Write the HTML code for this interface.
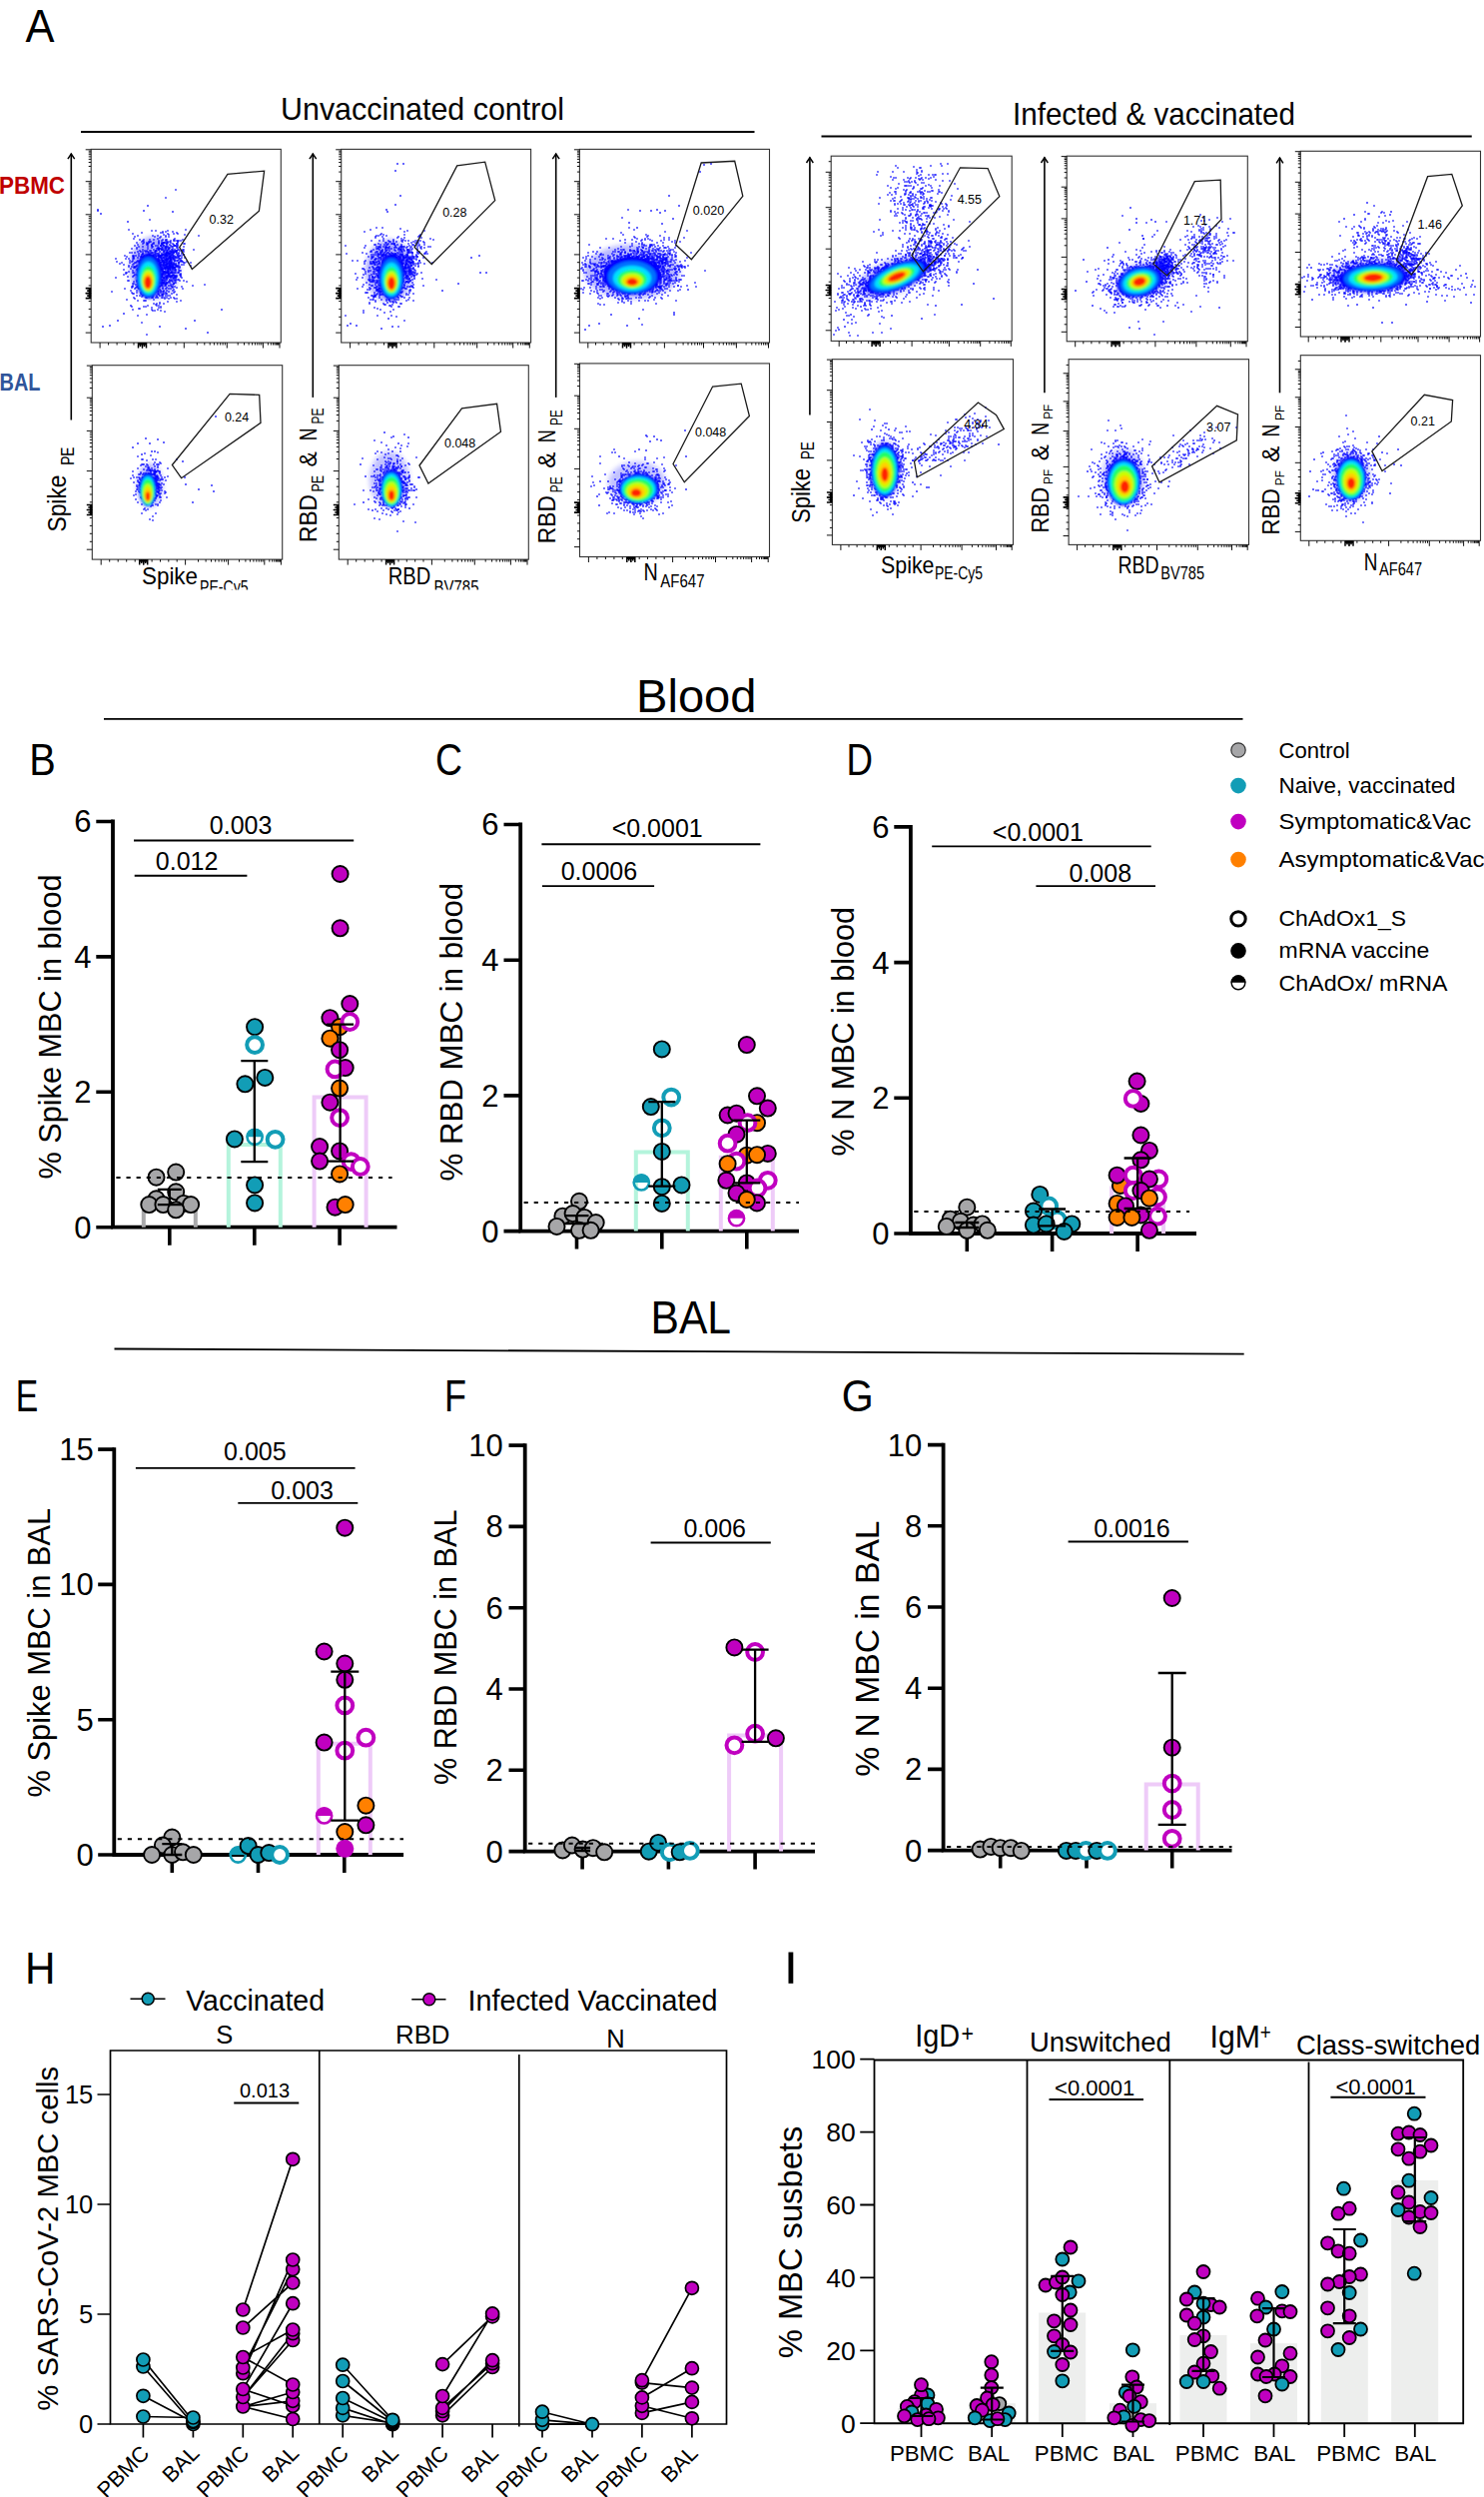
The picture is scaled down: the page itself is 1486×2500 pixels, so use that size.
<!DOCTYPE html>
<html><head><meta charset="utf-8"><style>
html,body{margin:0;padding:0;background:#fff;overflow:hidden;}
svg{display:block;}
text{font-family:"Liberation Sans", sans-serif;}
</style></head><body>
<svg width="1486" height="2500" viewBox="0 0 1486 2500">
<rect width="1486" height="2500" fill="#fff"/>
<defs><filter id="bl" x="-30%" y="-30%" width="160%" height="160%"><feGaussianBlur stdDeviation="1.3"/></filter><filter id="blo" x="-40%" y="-40%" width="180%" height="180%"><feGaussianBlur stdDeviation="2.5"/></filter></defs>
<text x="25.50" y="42.00" font-size="46.5" textLength="29.00" lengthAdjust="spacingAndGlyphs">A</text>
<text x="281.00" y="120.00" font-size="30.5" textLength="284.00" lengthAdjust="spacingAndGlyphs">Unvaccinated control</text>
<line x1="81.00" y1="132.00" x2="755.50" y2="132.00" stroke="#000" stroke-width="2"/>
<text x="1014.00" y="125.00" font-size="30.5" textLength="283.00" lengthAdjust="spacingAndGlyphs">Infected &amp; vaccinated</text>
<line x1="822.50" y1="136.50" x2="1473.75" y2="136.50" stroke="#000" stroke-width="2"/>
<text x="-1.00" y="193.70" font-size="23.5" fill="#C00000" font-weight="bold" textLength="66.00" lengthAdjust="spacingAndGlyphs">PBMC</text>
<text x="-0.50" y="391.30" font-size="24" fill="#2F559A" font-weight="bold" textLength="41.00" lengthAdjust="spacingAndGlyphs">BAL</text>
<g>
<ellipse cx="0" cy="0" rx="25" ry="31" fill="#1010FF" opacity="0.35" transform="translate(155 268) rotate(0)" filter="url(#blo)"/>
<path d="M151 280h0M152 267h0M144 269h0M166 278h0M165 276h0M158 275h0M136 285h0M160 279h0M135 246h0M144 265h0M157 271h0M160 262h0M157 278h0M147 298h0M160 290h0M147 261h0M150 270h0M161 276h0M149 258h0M148 290h0M145 276h0M159 250h0M155 292h0M132 267h0M153 260h0M159 271h0M138 284h0M161 286h0M170 277h0M155 253h0M161 263h0M149 253h0M143 264h0M168 242h0M138 276h0M170 281h0M133 234h0M158 261h0M142 287h0M166 274h0M157 279h0M172 281h0M160 280h0M137 291h0M165 280h0M132 262h0M163 245h0M152 287h0M140 296h0M160 270h0M158 282h0M155 289h0M147 266h0M165 272h0M144 286h0M170 265h0M139 270h0M152 268h0M169 257h0M168 253h0M145 281h0M166 285h0M158 274h0M156 281h0M152 276h0M160 272h0M162 280h0M176 277h0M149 266h0M154 286h0M150 278h0M174 234h0M142 276h0M158 276h0M149 282h0M157 264h0M181 277h0M148 271h0M152 271h0M124 265h0M165 254h0M153 286h0M163 294h0M135 267h0M150 281h0M166 232h0M166 250h0M162 250h0M156 290h0M152 275h0M163 274h0M153 295h0M166 268h0M184 255h0M164 268h0M155 283h0M156 282h0M137 249h0M161 258h0M143 250h0M168 283h0M170 258h0M154 255h0M162 296h0M144 295h0M165 269h0M132 293h0M153 263h0M158 278h0M170 257h0M166 294h0M170 269h0M146 287h0M155 274h0M170 268h0M129 266h0M134 284h0M157 263h0M154 284h0M155 292h0M153 288h0M170 296h0M147 285h0M133 256h0M132 288h0M140 272h0M152 272h0M147 276h0M174 273h0M160 287h0M152 253h0M148 288h0M136 263h0M165 284h0M154 284h0M156 254h0M137 262h0M164 264h0M144 260h0M137 270h0M141 277h0M128 277h0M147 243h0M162 268h0M129 259h0M157 265h0M163 283h0M161 277h0M169 282h0M159 241h0M164 292h0M151 265h0M175 246h0M159 308h0M144 282h0M175 270h0M160 286h0M144 271h0M157 284h0M154 269h0M143 267h0M164 274h0M145 259h0M183 289h0M161 233h0M161 279h0M173 278h0M153 280h0M133 287h0M158 261h0M169 299h0M139 262h0M157 275h0M150 257h0M177 288h0M141 252h0M173 287h0M174 284h0M144 276h0M130 261h0M153 280h0M146 270h0M159 278h0M161 275h0M150 284h0M155 260h0M147 272h0M153 274h0M154 275h0M153 253h0M159 288h0M159 269h0M159 258h0M133 273h0M144 283h0M142 233h0M143 296h0M150 251h0M146 280h0M159 275h0M170 283h0M154 281h0M172 287h0M165 256h0M152 283h0M151 288h0M161 286h0M152 310h0M168 269h0M155 311h0M150 285h0M165 272h0M141 275h0M158 289h0M163 272h0M163 280h0M156 273h0M151 282h0M142 263h0M154 250h0M149 242h0M146 281h0M160 271h0M151 251h0M174 280h0M166 259h0M152 245h0M163 286h0M133 271h0M161 246h0M134 256h0M147 251h0M154 276h0M161 283h0M171 289h0M140 264h0M142 256h0M153 272h0M159 248h0M140 272h0M152 267h0M153 261h0M162 277h0M153 262h0M152 231h0M143 273h0M137 275h0M156 251h0M151 267h0M159 281h0M154 259h0M152 271h0M162 276h0M146 252h0M150 261h0M142 270h0M149 274h0M160 266h0M180 267h0M166 274h0M166 236h0M146 276h0M161 307h0M158 291h0M162 286h0M160 270h0M160 256h0M167 257h0M157 304h0M152 272h0M167 272h0M145 276h0M160 283h0M146 298h0M172 272h0M157 266h0M170 261h0M161 265h0M146 283h0M169 272h0M147 284h0M153 277h0M171 289h0M148 306h0M154 284h0M147 271h0M135 299h0M169 254h0M137 248h0M167 265h0M153 267h0M153 256h0M154 250h0M153 277h0M159 269h0M144 274h0M149 295h0M162 270h0M149 261h0M144 267h0M157 280h0M160 303h0M146 272h0M185 244h0M148 275h0M156 278h0M151 277h0M155 284h0M133 259h0M154 257h0M143 281h0M147 282h0M162 277h0M160 270h0M138 272h0M159 264h0M153 283h0M144 282h0M174 264h0M156 270h0M171 277h0M164 262h0M154 272h0M134 294h0M164 246h0M162 270h0M159 277h0M138 269h0M170 263h0M143 252h0M141 277h0M173 278h0M157 306h0M148 262h0M160 280h0M143 254h0M157 276h0M140 269h0M148 279h0M153 271h0M150 288h0M169 266h0M163 261h0M155 283h0M171 266h0M153 275h0M138 272h0M147 278h0M142 242h0M154 276h0M148 285h0M151 263h0M159 248h0M147 272h0M163 270h0M157 262h0M157 297h0M146 307h0M147 272h0M156 287h0M140 240h0M161 284h0M161 311h0M156 276h0M164 278h0M172 253h0M150 220h0M163 266h0M164 304h0M154 268h0M149 259h0M147 282h0M154 273h0M152 286h0M159 270h0M161 270h0M141 294h0M159 258h0M166 277h0M137 296h0M158 285h0M156 270h0M137 287h0M154 268h0M158 273h0M161 266h0M154 240h0M149 282h0M169 267h0M153 296h0M150 283h0M172 273h0M167 261h0M156 271h0M155 289h0M180 262h0M148 279h0M142 279h0M160 268h0M160 249h0M162 249h0M146 264h0M150 285h0M155 266h0M160 296h0M154 277h0M168 276h0M140 309h0M178 242h0M154 278h0M165 282h0M151 256h0M155 288h0M142 257h0M154 243h0M151 265h0M159 261h0M144 266h0M153 262h0M154 283h0M167 298h0M145 266h0M127 300h0M146 271h0M160 252h0M159 272h0M134 276h0M167 244h0M163 275h0M159 279h0M168 269h0M164 266h0M162 260h0M153 298h0M159 270h0M141 260h0M156 286h0M159 280h0M154 292h0M150 264h0M164 273h0M151 263h0M151 281h0M158 254h0M159 275h0M143 284h0M151 267h0M163 292h0M146 279h0M144 307h0M149 290h0M147 284h0M178 234h0M149 280h0M153 262h0M178 273h0M136 285h0M135 289h0M148 274h0M168 274h0M139 247h0M167 283h0M145 285h0M159 282h0M129 267h0M164 283h0M164 235h0M156 279h0M182 258h0M150 273h0M164 265h0M167 260h0M157 264h0M156 262h0M136 288h0M157 264h0M156 287h0M143 270h0M160 280h0M150 240h0M168 277h0M154 268h0M157 266h0M143 261h0M147 263h0M141 282h0M140 282h0M143 277h0M169 275h0M146 273h0M156 246h0M147 274h0M149 273h0M162 283h0M164 281h0M151 272h0M151 267h0M152 246h0M150 272h0M143 272h0M160 270h0M177 233h0M152 245h0M165 312h0M126 274h0M160 267h0M160 238h0M163 278h0M154 263h0M161 265h0M156 264h0M129 272h0M156 283h0M144 272h0M161 274h0M168 302h0M144 243h0M163 295h0M164 284h0M147 261h0M164 258h0M134 257h0M181 301h0M146 261h0M157 261h0M168 271h0M142 292h0M148 275h0M154 267h0M158 262h0M134 239h0M140 261h0M154 273h0M160 274h0M145 261h0M131 269h0M159 280h0M153 269h0M164 272h0M162 281h0M156 292h0M148 267h0M145 260h0M171 298h0M154 281h0M167 284h0M167 253h0M147 279h0M170 274h0M145 267h0M147 259h0M171 263h0M154 304h0M167 277h0M147 278h0M172 281h0M168 273h0M160 269h0M159 292h0M138 271h0M157 263h0M151 284h0M176 281h0M158 249h0M175 273h0M154 255h0M153 256h0M155 279h0M154 276h0M145 293h0M147 245h0M152 261h0M143 267h0M157 254h0M152 293h0M162 270h0M155 270h0M153 283h0M153 236h0M154 259h0M161 263h0M156 305h0M142 255h0M138 236h0M133 277h0M147 244h0M138 281h0M145 266h0M158 292h0M175 287h0M156 275h0M174 293h0M151 279h0M157 273h0M148 252h0M148 249h0M167 280h0M141 293h0M164 243h0M174 284h0M177 254h0M160 278h0M156 275h0M166 250h0M140 251h0M148 263h0M158 276h0M154 262h0M149 286h0M162 274h0M150 295h0M147 282h0M167 268h0M163 255h0M165 275h0M137 282h0M144 291h0M147 270h0M157 267h0M157 264h0M161 272h0M156 231h0M167 272h0M134 273h0M159 288h0M142 295h0M152 308h0M152 282h0M150 255h0M166 286h0M171 285h0M148 247h0M147 262h0M145 281h0M158 268h0M156 270h0M156 283h0M165 262h0M137 293h0M155 289h0M136 267h0M154 250h0M148 283h0M166 296h0M145 251h0M160 286h0M156 252h0M163 284h0M160 265h0M157 284h0M148 244h0M158 279h0M154 285h0M148 271h0M151 281h0M172 268h0M177 295h0M163 281h0M173 269h0M153 256h0M159 292h0M160 278h0M152 275h0M138 288h0M149 255h0M146 260h0M163 288h0M139 286h0M164 263h0M138 261h0M147 277h0M150 242h0M157 249h0M164 254h0M146 259h0M148 291h0M163 281h0M158 249h0M148 264h0M143 280h0M146 261h0M143 241h0M161 292h0M156 257h0M124 275h0M167 276h0M164 294h0M166 265h0M166 284h0M137 266h0M138 270h0M160 256h0M131 291h0M158 294h0M139 288h0M177 302h0M152 276h0M152 287h0M165 273h0M139 283h0M149 281h0M157 296h0M167 265h0M158 298h0M148 279h0M167 291h0M160 252h0M140 276h0M158 310h0M145 289h0M162 247h0M145 274h0M149 270h0M159 260h0M159 262h0M148 280h0M148 276h0M172 272h0M152 283h0M150 288h0M140 281h0M148 260h0M173 259h0M173 282h0M170 257h0M167 294h0M153 270h0M181 275h0M149 263h0M159 277h0M156 298h0M150 279h0M170 257h0M165 299h0M139 256h0M143 244h0M159 244h0M159 294h0M136 267h0M133 284h0M146 268h0M155 280h0M150 272h0M148 274h0M141 273h0M133 265h0M175 273h0M140 276h0M143 247h0M146 283h0M158 271h0M144 256h0M169 276h0M144 240h0M139 309h0M141 271h0M156 270h0M151 251h0M142 297h0M146 285h0M135 268h0M157 288h0M142 281h0M158 261h0M159 259h0M145 272h0M124 270h0M143 250h0M149 283h0M150 291h0M141 252h0M171 278h0M164 260h0M163 276h0M161 272h0M167 262h0M143 250h0M167 261h0M143 258h0M149 253h0M151 263h0M148 258h0M154 265h0M155 276h0M158 239h0M148 260h0M163 248h0M146 268h0M150 287h0M149 286h0M138 245h0M167 279h0M159 274h0M159 254h0M164 264h0M165 273h0M132 253h0M166 270h0M150 276h0M149 264h0M155 274h0M171 273h0M175 299h0M173 288h0M155 274h0M152 261h0M153 262h0M172 280h0M149 243h0M153 266h0M142 255h0M129 281h0M153 311h0M154 270h0M170 274h0M156 266h0M147 294h0M165 298h0M150 272h0M144 287h0M139 280h0M166 293h0M144 288h0M146 261h0M139 289h0M172 263h0M146 267h0M182 287h0M148 245h0M147 290h0M175 268h0M146 264h0M133 286h0M142 288h0M135 253h0M157 261h0M163 272h0M141 281h0M163 243h0M174 279h0M162 244h0M146 267h0M166 250h0M144 242h0M151 277h0M135 263h0M160 296h0M161 267h0M141 258h0M147 274h0M153 297h0M157 256h0M171 286h0M155 261h0M133 257h0M164 260h0M139 275h0M157 281h0M161 293h0M145 287h0M143 282h0M156 276h0M165 272h0M166 285h0M155 263h0M146 264h0M152 272h0M187 282h0M162 259h0M146 267h0M156 256h0M172 264h0M166 237h0M154 276h0M156 281h0M157 274h0M133 261h0M128 281h0M157 269h0M145 263h0M174 298h0M153 291h0M137 243h0M149 259h0M148 275h0M187 262h0M155 276h0M154 286h0M174 253h0M156 268h0M158 249h0M135 237h0M160 275h0M155 237h0M150 261h0M138 258h0M162 280h0M154 280h0M147 273h0M154 280h0M153 270h0M153 262h0M179 280h0M159 306h0M169 249h0M162 285h0M175 292h0M162 254h0M144 276h0M160 257h0M150 266h0M155 277h0M151 253h0M168 296h0M153 287h0M159 282h0M159 261h0M160 287h0M144 301h0M177 299h0M176 283h0M150 263h0M145 274h0M154 282h0M132 307h0M179 272h0M161 279h0M157 269h0M153 260h0M156 272h0M158 259h0M154 273h0M161 256h0M159 287h0M161 266h0M149 268h0M162 295h0M152 262h0M158 275h0M144 261h0M153 282h0M141 257h0M159 254h0M155 277h0M153 257h0M153 267h0M158 259h0M166 247h0M152 272h0M165 263h0M160 263h0M162 298h0M150 279h0M144 287h0M167 273h0M142 278h0M167 288h0M163 245h0M147 293h0M141 289h0M175 283h0M166 267h0M141 270h0M152 271h0M162 270h0M156 278h0M154 300h0M159 273h0M152 263h0M169 274h0M142 264h0M152 265h0M166 255h0M159 274h0M141 273h0M153 280h0M149 277h0M136 256h0M163 288h0M154 263h0M166 241h0M145 282h0M161 257h0M133 294h0M156 259h0M155 286h0M125 289h0M162 241h0M162 245h0M167 278h0M179 263h0M154 288h0M147 261h0M150 271h0M142 279h0M160 273h0M173 267h0M168 264h0M162 243h0M156 269h0M149 263h0M150 261h0M130 263h0M148 264h0M142 270h0M163 268h0M149 292h0M165 286h0M167 267h0M153 289h0M148 270h0M158 278h0M151 287h0M152 283h0M166 282h0M162 255h0M140 263h0M159 295h0M141 277h0M145 261h0M151 282h0M156 290h0M143 285h0M164 273h0M159 264h0M142 266h0M147 315h0M149 297h0M156 277h0M162 260h0M164 278h0M137 281h0M160 279h0M171 266h0M160 283h0M144 290h0M138 252h0M160 256h0M153 247h0M155 255h0M158 249h0M159 268h0M155 271h0M155 252h0M126 273h0M144 265h0M159 242h0M146 263h0M142 277h0M152 260h0M143 284h0M147 281h0M159 244h0M142 272h0M158 284h0M163 288h0M150 269h0M163 266h0M166 248h0M161 269h0M132 287h0M157 272h0M142 265h0M171 260h0M116 259h0M141 270h0M150 258h0M145 288h0M138 301h0M148 256h0M163 280h0M143 283h0M134 258h0M166 268h0M140 280h0M164 272h0M134 267h0M159 284h0M174 268h0M149 271h0M167 258h0M168 231h0M163 262h0M159 282h0M141 271h0M157 281h0M144 257h0M133 310h0M152 269h0M138 286h0M148 294h0M163 272h0M162 255h0M150 263h0M140 272h0M152 294h0M117 262h0M144 265h0M159 278h0M154 265h0M159 277h0M134 268h0M139 254h0M156 273h0M155 259h0M152 258h0M158 282h0M173 291h0M145 265h0M144 277h0M176 283h0M130 253h0M140 280h0M154 276h0M174 260h0M145 301h0M158 260h0M132 249h0M127 273h0M154 287h0M152 262h0M146 301h0M135 275h0M154 281h0M150 279h0M163 270h0M149 269h0M143 269h0M151 275h0M169 292h0M149 281h0M157 283h0M154 276h0M149 260h0M164 291h0M161 279h0M157 265h0M134 282h0M156 264h0M143 291h0M134 298h0M161 308h0M146 272h0M148 274h0M152 261h0M166 260h0M148 280h0M148 265h0M158 266h0M140 270h0M152 298h0M142 287h0M145 267h0M150 276h0M163 298h0M147 292h0M165 284h0M146 286h0M153 277h0M151 282h0M166 289h0M152 287h0M170 258h0M170 252h0M160 281h0M170 276h0M149 260h0M140 283h0M151 261h0M160 261h0M149 265h0M172 294h0M152 248h0M157 273h0M158 280h0M150 286h0M163 275h0M150 265h0M162 256h0M152 261h0M139 281h0M154 273h0M164 250h0M153 276h0M163 256h0M162 275h0M169 289h0M160 304h0M154 266h0M150 258h0M154 244h0M153 278h0M165 267h0M169 262h0M153 244h0M146 260h0M170 280h0M142 280h0M159 269h0M154 268h0" stroke="#0000FF" stroke-width="1.4" stroke-linecap="square"/>
<path d="M166 243h0M169 276h0M180 259h0M165 260h0M176 266h0M166 266h0M169 268h0M167 246h0M170 270h0M162 261h0M176 258h0M166 284h0M176 273h0M164 279h0M159 256h0M175 276h0M164 255h0M171 241h0M174 268h0M167 268h0M175 265h0M174 278h0M167 264h0M166 273h0M167 267h0M171 263h0M182 261h0M180 271h0M179 260h0M176 270h0M166 265h0M169 262h0M179 254h0M159 243h0M167 255h0M170 268h0M182 265h0M173 254h0M174 276h0M179 241h0M176 279h0M176 246h0M168 268h0M173 253h0M164 272h0M161 277h0M170 265h0M161 256h0M175 246h0M184 247h0M162 262h0M173 270h0M168 260h0M168 256h0M153 272h0M172 264h0M166 265h0M170 261h0M177 244h0M172 251h0M168 278h0M163 261h0M166 272h0M163 244h0M173 258h0M168 273h0M164 258h0M171 266h0M167 273h0M185 258h0M183 240h0M179 258h0M171 258h0M166 249h0M167 276h0M178 258h0M166 255h0M162 281h0M174 263h0M167 251h0M179 270h0M164 272h0M163 269h0M164 258h0M173 267h0M177 253h0M181 276h0M170 267h0M165 260h0M161 263h0M171 276h0M176 271h0M168 260h0M168 264h0M157 270h0M159 257h0M170 257h0M181 261h0M181 274h0M167 266h0M179 258h0M171 256h0M170 258h0M171 273h0M179 263h0M171 271h0M168 251h0M177 252h0M176 252h0M182 251h0M176 278h0M164 278h0M164 243h0M175 269h0M169 235h0M170 259h0M167 259h0M158 256h0M182 278h0M168 254h0M173 273h0M175 250h0M171 263h0M180 275h0M174 275h0M167 278h0M167 266h0M176 252h0M165 243h0M171 261h0M168 267h0M156 262h0M171 259h0M175 281h0M167 252h0M166 263h0M174 253h0M177 251h0M176 267h0M173 285h0M168 260h0M173 271h0M161 265h0M165 269h0M179 263h0M169 264h0M150 270h0M174 264h0M167 254h0M169 275h0M169 276h0M153 257h0M172 262h0M159 255h0M178 248h0M163 250h0M166 269h0M174 241h0M180 256h0M166 280h0M169 249h0M166 254h0M163 258h0M176 266h0M161 291h0M163 263h0M170 270h0M168 267h0M184 263h0M163 265h0M165 258h0M171 266h0M168 271h0M169 248h0M176 258h0M178 255h0M174 265h0M152 246h0M162 277h0M157 272h0M177 267h0M175 257h0M170 264h0M173 269h0M169 255h0M166 266h0M159 249h0M167 256h0M168 234h0M168 259h0M175 241h0M168 267h0M173 275h0M177 251h0M174 258h0M165 278h0M166 253h0M167 253h0M177 266h0M179 266h0M166 273h0M166 257h0M169 262h0M178 256h0M172 262h0M162 250h0M169 266h0M172 267h0M170 257h0M173 251h0M161 258h0M160 257h0M165 256h0M170 254h0M167 244h0M171 253h0M173 232h0M165 265h0M154 258h0M171 263h0M160 264h0M171 252h0M175 261h0M170 257h0M174 263h0M178 267h0M166 260h0M176 258h0M173 268h0M169 237h0M171 264h0M171 254h0M178 261h0M166 254h0M172 250h0M163 283h0M179 273h0M179 268h0M159 275h0M178 267h0M157 275h0M179 257h0M171 270h0M169 274h0M171 269h0M171 246h0M163 296h0M172 276h0M178 280h0M174 256h0M170 242h0M169 272h0M155 264h0M176 276h0M164 255h0M157 251h0M174 284h0M162 277h0M173 257h0M185 235h0M170 264h0M184 281h0M185 263h0M177 277h0M173 266h0M169 258h0M162 283h0M167 240h0M172 262h0M171 281h0M169 259h0M165 262h0M167 264h0M191 266h0M164 283h0M176 271h0M175 271h0M175 277h0M177 276h0M167 262h0M165 272h0M176 257h0M174 290h0M178 250h0M169 269h0M170 266h0M178 266h0M163 270h0M169 263h0M166 247h0M162 258h0M163 233h0M178 250h0M165 268h0M154 276h0M165 269h0M167 265h0M171 262h0M158 246h0M170 277h0M166 268h0M171 267h0M177 246h0M172 260h0M168 253h0M165 251h0M163 289h0M182 262h0M175 252h0M151 242h0M171 277h0M170 251h0M168 251h0M160 260h0M167 253h0M164 252h0M172 277h0M169 286h0M159 265h0M162 260h0M171 268h0M178 256h0M162 260h0M172 255h0M176 280h0M160 266h0M177 241h0M171 260h0M160 276h0M171 257h0M173 269h0M175 268h0M173 249h0M167 263h0M151 285h0M167 251h0M158 265h0M170 256h0M167 252h0M165 261h0M166 269h0M169 263h0M173 276h0M174 264h0M169 253h0M168 269h0M172 258h0M161 246h0M172 273h0M173 247h0M169 264h0M164 266h0M169 253h0M162 271h0M172 252h0M163 272h0M174 259h0M181 259h0M163 274h0M169 266h0M170 251h0M162 260h0M180 251h0M179 264h0M162 265h0M174 252h0M155 266h0M162 267h0M157 260h0M164 246h0M168 264h0M166 249h0M171 243h0M174 267h0M181 271h0M172 265h0M170 248h0M180 268h0M168 250h0M180 268h0M162 269h0M183 262h0M173 258h0M166 273h0M191 263h0M169 270h0M168 270h0M176 251h0M163 261h0M176 265h0" stroke="#0000FF" stroke-width="1.4" stroke-linecap="square"/>
<path d="M186 230h0M164 252h0M153 279h0M122 263h0M116 278h0M125 256h0M156 251h0M183 251h0M175 278h0M120 264h0M126 259h0M142 323h0M138 316h0M163 232h0M180 281h0M144 263h0M158 261h0M134 259h0M184 252h0M161 237h0M129 230h0M144 290h0M159 256h0M168 260h0M161 278h0M166 198h0M112 292h0M147 335h0M143 254h0M193 286h0M205 285h0M144 291h0M127 257h0M134 264h0M173 256h0M159 256h0M176 190h0M144 275h0" stroke="#0000FF" stroke-width="1.4" stroke-linecap="square"/>
<path d="M167 256h0M177 258h0M182 253h0M174 240h0M173 244h0M177 244h0M199 236h0M184 244h0M173 255h0M175 239h0M178 246h0M159 250h0M167 242h0M179 250h0M173 265h0M178 243h0M177 247h0M158 236h0M164 264h0M174 246h0M171 256h0M175 261h0M181 261h0M174 251h0M172 247h0M162 244h0M168 243h0M184 250h0M184 255h0M182 256h0M170 254h0M173 244h0M184 265h0M167 261h0M181 241h0M177 251h0M178 245h0M165 248h0M182 254h0M180 256h0M167 248h0M178 256h0M176 252h0M176 264h0M158 248h0M194 250h0M161 249h0M164 243h0M177 261h0M179 253h0M183 250h0M168 247h0M178 246h0M170 245h0M163 240h0M174 245h0M175 259h0M177 248h0M166 240h0M178 241h0" stroke="#0000FF" stroke-width="1.4" stroke-linecap="square"/>
<g transform="translate(149 276) rotate(0)" filter="url(#bl)"><ellipse cx="-0.0" cy="0.0" rx="13.0" ry="23.0" fill="#0000FF"/><ellipse cx="-0.2" cy="1.3" rx="11.2" ry="19.8" fill="#0070FF"/><ellipse cx="-0.4" cy="2.6" rx="9.4" ry="16.6" fill="#00E0FF"/><ellipse cx="-0.5" cy="3.9" rx="7.5" ry="13.3" fill="#20FF60"/><ellipse cx="-0.7" cy="5.0" rx="6.0" ry="10.6" fill="#C8FF00"/><ellipse cx="-0.8" cy="5.8" rx="4.8" ry="8.5" fill="#FFD000"/><ellipse cx="-0.9" cy="6.6" rx="3.6" ry="6.4" fill="#FF2000"/></g>
<path d="M98 210h0M98 211h0M101 214h0M148 206h0M144 211h0M173 212h0M128 222h0M103 327h0M110 326h0M118 321h0M131 306h0M124 314h0M160 327h0M186 329h0M208 333h0M222 310h0M195 321h0" stroke="#0000FF" stroke-width="1.6" stroke-linecap="square"/>
<polygon points="179.7,247.6 227.9,174.3 264.6,171.2 259.4,211.2 192.3,269.4" fill="none" stroke="#1a1a1a" stroke-width="1.3" stroke-linejoin="miter"/>
<text x="221.70" y="223.50" font-size="12.5" text-anchor="middle" font-weight="normal">0.32</text>
<rect x="91.2" y="149.4" width="190.1" height="193.6" fill="none" stroke="#333" stroke-width="1.1"/>
<path d="M85.7 149.8h5.5 M85.7 181.7h5.5 M85.7 214.8h5.5 M85.7 254.9h5.5 M85.7 293.6h5.5 M85.7 333.1h5.5 M88.7 172.1h2.5 M88.7 166.5h2.5 M88.7 162.5h2.5 M88.7 159.4h2.5 M88.7 156.9h2.5 M88.7 154.7h2.5 M88.7 152.9h2.5 M88.7 151.2h2.5 M88.7 204.9h2.5 M88.7 199.0h2.5 M88.7 194.9h2.5 M88.7 191.7h2.5 M88.7 189.1h2.5 M88.7 186.9h2.5 M88.7 184.9h2.5 M88.7 183.2h2.5 M88.7 242.8h2.5 M88.7 235.8h2.5 M88.7 230.8h2.5 M88.7 226.9h2.5 M88.7 223.7h2.5 M88.7 221.0h2.5 M88.7 218.7h2.5 M88.7 216.7h2.5 M88.7 262.7h2.5 M88.7 270.4h2.5 M88.7 278.1h2.5 M88.7 285.9h2.5 M88.7 301.5h2.5 M88.7 309.4h2.5 M88.7 317.3h2.5 M88.7 325.2h2.5" stroke="#111" stroke-width="1" fill="none"/>
<path d="M85.7 288.6h5.5M87.2 291.1h4M85.7 293.6h5.5M87.2 296.1h4M85.7 298.6h5.5" stroke="#000" stroke-width="1.6"/><rect x="88.7" y="288.6" width="2.5" height="10" fill="#000"/>
<path d="M100.1 343.0v5.5 M142.5 343.0v5.5 M184.3 343.0v5.5 M227.3 343.0v5.5 M263.4 343.0v5.5 M280.0 343.0v5.5 M108.6 343.0v2.5 M117.1 343.0v2.5 M125.6 343.0v2.5 M134.0 343.0v2.5 M150.9 343.0v2.5 M159.3 343.0v2.5 M167.6 343.0v2.5 M176.0 343.0v2.5 M197.3 343.0v2.5 M204.8 343.0v2.5 M210.2 343.0v2.5 M214.4 343.0v2.5 M217.8 343.0v2.5 M220.7 343.0v2.5 M223.1 343.0v2.5 M225.3 343.0v2.5 M238.2 343.0v2.5 M244.5 343.0v2.5 M249.1 343.0v2.5 M252.6 343.0v2.5 M255.4 343.0v2.5 M257.8 343.0v2.5 M259.9 343.0v2.5 M261.8 343.0v2.5 M268.4 343.0v2.5 M271.3 343.0v2.5 M273.4 343.0v2.5 M275.0 343.0v2.5 M276.3 343.0v2.5 M277.4 343.0v2.5 M278.4 343.0v2.5 M279.2 343.0v2.5" stroke="#111" stroke-width="1" fill="none"/>
<path d="M138.5 343.0v5.5M140.5 343.0v4M142.5 343.0v5.5M144.5 343.0v4M146.5 343.0v5.5" stroke="#000" stroke-width="1.5"/><rect x="138.5" y="343.0" width="8" height="2.5" fill="#000"/>
</g>
<g>
<ellipse cx="0" cy="0" rx="24" ry="31" fill="#1010FF" opacity="0.35" transform="translate(390 271) rotate(0)" filter="url(#blo)"/>
<path d="M395 256h0M391 271h0M401 266h0M386 276h0M391 296h0M387 264h0M387 279h0M392 282h0M375 308h0M409 272h0M377 274h0M394 240h0M390 251h0M395 292h0M401 250h0M405 285h0M386 279h0M406 267h0M390 264h0M402 241h0M405 258h0M400 249h0M380 263h0M399 249h0M396 263h0M403 268h0M395 270h0M409 267h0M390 301h0M391 282h0M382 275h0M366 274h0M383 250h0M375 288h0M395 250h0M409 262h0M386 276h0M378 249h0M382 289h0M400 249h0M403 272h0M395 273h0M394 258h0M380 262h0M386 281h0M377 295h0M383 264h0M397 278h0M386 257h0M379 249h0M402 288h0M410 279h0M394 283h0M400 268h0M394 303h0M372 252h0M380 283h0M403 267h0M397 271h0M393 264h0M390 272h0M402 304h0M371 280h0M390 286h0M401 283h0M399 258h0M372 296h0M403 258h0M404 282h0M364 285h0M380 289h0M383 261h0M374 269h0M401 262h0M370 303h0M410 282h0M384 254h0M373 280h0M404 257h0M390 268h0M387 279h0M412 263h0M399 288h0M387 270h0M376 288h0M384 263h0M391 260h0M379 268h0M406 269h0M396 251h0M369 298h0M386 250h0M389 281h0M372 259h0M393 259h0M398 286h0M395 266h0M390 263h0M389 277h0M387 286h0M418 264h0M394 284h0M397 269h0M385 287h0M397 279h0M381 281h0M398 269h0M397 303h0M370 281h0M378 252h0M387 280h0M391 255h0M375 264h0M390 260h0M374 297h0M381 270h0M384 264h0M390 268h0M397 255h0M374 300h0M389 283h0M403 280h0M390 249h0M373 286h0M397 280h0M372 241h0M379 255h0M392 257h0M407 263h0M384 285h0M394 259h0M399 300h0M377 268h0M379 244h0M397 282h0M400 278h0M369 272h0M383 255h0M378 283h0M387 301h0M395 244h0M400 290h0M390 254h0M409 253h0M389 244h0M377 247h0M402 289h0M386 252h0M389 278h0M374 255h0M389 282h0M391 279h0M377 236h0M393 259h0M389 266h0M395 261h0M405 272h0M396 281h0M401 278h0M371 263h0M410 279h0M396 279h0M383 262h0M383 289h0M394 298h0M395 300h0M395 255h0M409 277h0M403 275h0M386 274h0M378 254h0M380 264h0M375 270h0M393 302h0M410 271h0M400 269h0M394 272h0M384 273h0M374 278h0M387 256h0M386 280h0M383 279h0M396 295h0M378 270h0M396 294h0M393 283h0M374 263h0M408 268h0M413 261h0M387 248h0M397 276h0M412 274h0M387 251h0M389 286h0M398 290h0M399 271h0M397 275h0M376 297h0M394 256h0M394 276h0M401 293h0M357 280h0M407 258h0M370 276h0M394 277h0M378 265h0M392 283h0M414 276h0M383 237h0M402 270h0M389 257h0M398 245h0M391 274h0M393 291h0M389 273h0M399 249h0M387 273h0M400 260h0M399 278h0M374 250h0M374 274h0M392 283h0M399 264h0M402 284h0M395 279h0M376 277h0M379 254h0M386 274h0M389 267h0M379 275h0M382 251h0M391 294h0M386 256h0M405 298h0M387 269h0M392 316h0M391 287h0M395 245h0M378 254h0M395 274h0M410 268h0M393 273h0M392 307h0M393 294h0M404 263h0M398 266h0M391 274h0M390 265h0M407 268h0M398 297h0M397 287h0M405 288h0M409 251h0M411 272h0M371 262h0M375 272h0M374 257h0M393 274h0M381 268h0M389 273h0M390 269h0M400 248h0M385 274h0M386 264h0M385 275h0M404 269h0M387 277h0M387 243h0M393 266h0M384 281h0M390 264h0M366 246h0M390 270h0M395 275h0M385 253h0M378 270h0M377 283h0M375 245h0M388 245h0M408 257h0M389 268h0M381 245h0M370 285h0M401 304h0M374 280h0M390 285h0M384 283h0M400 281h0M406 269h0M407 261h0M408 231h0M390 260h0M390 287h0M398 273h0M409 250h0M381 295h0M394 241h0M394 254h0M406 289h0M384 291h0M381 286h0M396 270h0M374 268h0M365 264h0M370 290h0M379 236h0M396 278h0M384 304h0M399 273h0M383 228h0M395 286h0M383 251h0M390 247h0M390 284h0M407 276h0M392 283h0M405 267h0M376 260h0M376 259h0M389 277h0M392 273h0M386 278h0M400 283h0M406 268h0M387 297h0M392 278h0M386 287h0M386 257h0M389 265h0M399 266h0M391 269h0M394 263h0M402 251h0M386 261h0M397 273h0M395 267h0M382 255h0M386 264h0M393 277h0M401 270h0M382 256h0M391 277h0M411 275h0M409 300h0M378 290h0M403 292h0M390 286h0M385 271h0M390 299h0M388 286h0M391 261h0M393 282h0M382 282h0M382 259h0M392 268h0M379 248h0M390 276h0M385 275h0M373 278h0M395 276h0M383 273h0M391 288h0M393 276h0M382 285h0M403 265h0M397 277h0M389 253h0M409 244h0M393 266h0M403 266h0M390 281h0M395 264h0M397 278h0M401 264h0M389 266h0M381 276h0M394 293h0M386 278h0M403 270h0M391 274h0M382 257h0M402 275h0M389 253h0M391 290h0M377 259h0M402 293h0M407 264h0M397 261h0M396 267h0M392 292h0M394 268h0M391 276h0M384 275h0M397 295h0M367 254h0M376 285h0M417 275h0M391 289h0M363 269h0M356 274h0M384 265h0M394 263h0M402 272h0M394 310h0M385 286h0M381 291h0M401 274h0M401 296h0M405 272h0M389 288h0M374 263h0M395 280h0M410 298h0M394 279h0M376 269h0M393 269h0M391 281h0M380 264h0M371 289h0M379 247h0M398 269h0M401 267h0M413 283h0M392 274h0M388 284h0M412 266h0M378 281h0M402 250h0M382 257h0M396 279h0M382 255h0M397 242h0M397 270h0M411 287h0M384 268h0M387 261h0M391 286h0M374 269h0M406 283h0M381 260h0M381 248h0M402 273h0M382 251h0M386 264h0M409 265h0M391 288h0M397 269h0M366 293h0M396 266h0M389 258h0M380 250h0M395 280h0M392 284h0M396 274h0M380 281h0M403 281h0M403 265h0M379 290h0M384 276h0M388 272h0M387 264h0M371 300h0M392 244h0M380 255h0M382 234h0M396 296h0M387 283h0M396 254h0M403 247h0M384 267h0M404 274h0M389 260h0M391 273h0M398 293h0M398 272h0M388 296h0M392 272h0M409 295h0M396 270h0M383 288h0M385 286h0M382 274h0M394 274h0M393 278h0M378 256h0M388 298h0M389 258h0M383 272h0M403 264h0M396 275h0M386 258h0M388 261h0M396 246h0M402 283h0M396 294h0M396 247h0M391 279h0M383 255h0M395 279h0M385 268h0M385 264h0M389 288h0M373 267h0M407 277h0M392 284h0M379 254h0M372 251h0M393 284h0M386 262h0M394 281h0M393 244h0M384 235h0M393 260h0M383 294h0M404 279h0M393 275h0M384 271h0M410 259h0M383 274h0M400 284h0M380 270h0M387 254h0M391 265h0M400 278h0M382 273h0M386 263h0M385 288h0M386 247h0M382 284h0M413 257h0M386 267h0M375 278h0M389 276h0M414 268h0M398 284h0M383 263h0M407 282h0M392 256h0M399 280h0M414 294h0M399 276h0M391 264h0M393 276h0M397 288h0M393 264h0M399 295h0M381 278h0M396 280h0M395 271h0M389 297h0M409 252h0M363 278h0M383 264h0M373 277h0M389 264h0M400 307h0M406 289h0M386 282h0M390 289h0M396 271h0M396 262h0M398 294h0M386 280h0M372 286h0M399 257h0M409 274h0M372 252h0M399 268h0M402 249h0M389 286h0M383 282h0M386 277h0M393 305h0M377 283h0M404 256h0M391 306h0M401 229h0M387 247h0M393 261h0M384 260h0M393 265h0M380 269h0M394 260h0M402 248h0M394 266h0M407 263h0M383 252h0M411 281h0M378 267h0M380 294h0M394 242h0M392 285h0M390 279h0M389 275h0M392 262h0M394 274h0M390 262h0M379 276h0M399 237h0M384 292h0M400 262h0M404 258h0M382 300h0M385 269h0M372 257h0M377 270h0M370 288h0M386 263h0M383 283h0M406 266h0M407 295h0M404 276h0M374 282h0M386 275h0M370 268h0M392 258h0M393 296h0M392 262h0M416 241h0M380 278h0M384 239h0M393 284h0M381 293h0M395 289h0M374 272h0M407 301h0M404 272h0M392 263h0M402 262h0M391 242h0M374 298h0M391 275h0M366 272h0M412 250h0M365 270h0M384 269h0M377 252h0M377 281h0M389 284h0M378 281h0M385 273h0M400 272h0M386 248h0M391 283h0M383 271h0M371 252h0M394 291h0M387 247h0M386 249h0M387 300h0M393 270h0M401 266h0M394 275h0M395 250h0M398 285h0M365 232h0M380 294h0M390 282h0M396 285h0M383 263h0M394 281h0M396 277h0M385 288h0M395 288h0M363 287h0M364 275h0M383 274h0M385 267h0M392 277h0M381 235h0M382 280h0M381 278h0M386 258h0M403 297h0M389 271h0M400 252h0M381 289h0M400 265h0M382 277h0M375 265h0M387 236h0M396 283h0M402 251h0M376 260h0M376 302h0M379 267h0M392 279h0M406 256h0M400 274h0M377 274h0M375 296h0M382 287h0M404 263h0M380 274h0M379 285h0M392 261h0M383 283h0M374 297h0M381 269h0M380 296h0M399 291h0M397 273h0M409 282h0M395 281h0M398 276h0M388 248h0M413 253h0M366 261h0M411 290h0M383 276h0M390 242h0M386 276h0M403 254h0M365 248h0M394 273h0M392 274h0M386 252h0M395 278h0M396 291h0M376 237h0M370 304h0M380 278h0M390 283h0M425 264h0M388 263h0M393 280h0M379 292h0M403 279h0M389 268h0M372 282h0M379 264h0M401 258h0M384 285h0M410 262h0M402 262h0M394 279h0M377 287h0M410 273h0M393 254h0M410 273h0M376 283h0M374 262h0M367 293h0M414 262h0M383 263h0M384 280h0M406 257h0M395 245h0M407 271h0M382 295h0M389 293h0M402 297h0M381 273h0M394 269h0M407 261h0M401 292h0M369 257h0M380 264h0M394 269h0M391 265h0M389 279h0M398 260h0M389 261h0M388 250h0M400 282h0M389 262h0M385 262h0M373 296h0M426 254h0M377 281h0M397 248h0M369 280h0M368 293h0M385 273h0M390 264h0M388 268h0M404 271h0M390 264h0M383 261h0M390 300h0M402 276h0M408 287h0M392 270h0M378 276h0M387 248h0M376 301h0M392 279h0M392 265h0M395 288h0M387 280h0M401 265h0M392 261h0M397 266h0M403 261h0M409 267h0M381 258h0M397 259h0M410 291h0M396 251h0M390 261h0M370 278h0M414 264h0M399 291h0M379 267h0M393 279h0M377 275h0M389 286h0M372 264h0M384 267h0M398 263h0M420 261h0M399 287h0M401 269h0M381 268h0M397 274h0M396 281h0M380 258h0M406 265h0M373 300h0M381 258h0M401 255h0M380 288h0M381 310h0M391 312h0M391 273h0M383 269h0M384 272h0M398 253h0M380 241h0M407 271h0M390 271h0M401 277h0M399 269h0M389 271h0M370 288h0M373 257h0M397 273h0M399 298h0M410 293h0M388 303h0M380 271h0M401 269h0M389 267h0M405 235h0M404 288h0M389 280h0M379 289h0M424 258h0M405 271h0M386 265h0M388 253h0M375 297h0M390 280h0M393 279h0M373 258h0M397 287h0M377 263h0M378 282h0M394 272h0M383 277h0M390 261h0M394 262h0M400 281h0M382 281h0M391 261h0M380 247h0M378 277h0M403 263h0M392 277h0M399 279h0M403 283h0M382 278h0M364 269h0M390 281h0M387 284h0M405 259h0M384 276h0M395 274h0M399 254h0M399 289h0M402 278h0M387 278h0M389 248h0M383 271h0M384 258h0M387 266h0M391 271h0M392 287h0M392 278h0M377 228h0M386 282h0M386 263h0M376 285h0M384 276h0M402 280h0M415 270h0M401 282h0M383 273h0M384 257h0M393 260h0M408 261h0M384 273h0M384 273h0M383 251h0M363 253h0M407 279h0M392 265h0M388 276h0M375 260h0M380 291h0M378 290h0M385 313h0M389 272h0M405 285h0M400 256h0M402 297h0M389 265h0M378 287h0M393 272h0M376 296h0M400 272h0M406 258h0M400 257h0M406 268h0M403 266h0M394 289h0M380 273h0M381 285h0M383 266h0M388 289h0M379 272h0M386 264h0M381 270h0M392 249h0M393 254h0M390 306h0M379 271h0M387 287h0M385 245h0M372 275h0M393 288h0M384 282h0M378 291h0M389 262h0M392 298h0M381 253h0M379 255h0M389 277h0M388 275h0M403 268h0M376 238h0M393 262h0M387 278h0M395 248h0M379 273h0M388 289h0M384 241h0M403 247h0M379 278h0M378 309h0M393 280h0M385 305h0M396 261h0M404 247h0M384 276h0M392 258h0M407 294h0M380 278h0M383 266h0M401 274h0M389 274h0M377 290h0M382 292h0M385 265h0M406 275h0M383 264h0M397 300h0M397 266h0M378 262h0M389 276h0M383 291h0M379 261h0M395 279h0M386 286h0M375 297h0M414 301h0M391 302h0M391 292h0M388 275h0M396 246h0M388 298h0M358 278h0M400 277h0M392 293h0M394 244h0M380 268h0M392 265h0M389 297h0M358 289h0M400 281h0M390 273h0M394 276h0M382 284h0M381 271h0M386 255h0M397 271h0M377 271h0M375 293h0M396 302h0M384 283h0M379 259h0M389 278h0M400 268h0M402 286h0M380 269h0M380 298h0M384 285h0M400 268h0M385 277h0M382 253h0M379 277h0M392 298h0M370 280h0M377 289h0M398 274h0M406 266h0M384 256h0M383 274h0M397 291h0M387 261h0M386 266h0M385 266h0M380 271h0M384 269h0M375 274h0M396 282h0M384 255h0M376 255h0M383 267h0M371 282h0M373 262h0M382 284h0M410 267h0M387 266h0M388 269h0M417 256h0M389 260h0M394 264h0M396 256h0M413 275h0M371 282h0M385 255h0M395 264h0M398 264h0M400 274h0M394 274h0M386 267h0M395 283h0M386 305h0M408 255h0M402 271h0M393 260h0M408 260h0M389 261h0M411 291h0M376 265h0M394 266h0M386 256h0M393 256h0M399 307h0M386 296h0M394 262h0M386 258h0M391 282h0M400 268h0M377 271h0M408 276h0M389 241h0M385 280h0M380 292h0M384 259h0M384 271h0M401 264h0M371 271h0M396 295h0M378 294h0M397 279h0M382 259h0M380 286h0M392 288h0M410 272h0M389 300h0M376 265h0M386 266h0M392 260h0M403 252h0M381 247h0M375 281h0M397 269h0M399 281h0M384 271h0M394 302h0M385 278h0M396 290h0M395 288h0M378 268h0M369 271h0M415 276h0M391 276h0M392 253h0M383 270h0M392 259h0M389 261h0M376 262h0M381 284h0M404 281h0M388 264h0M373 264h0M407 289h0M392 268h0M390 278h0M390 278h0M382 273h0M386 288h0M377 291h0M389 265h0M390 274h0M387 278h0M384 247h0M398 272h0M408 278h0M368 290h0M383 280h0M414 288h0M378 271h0M373 282h0M396 257h0M395 286h0M399 262h0M383 256h0M376 277h0M390 291h0M393 267h0M375 295h0M392 272h0M379 257h0M397 258h0M396 281h0M386 248h0M394 293h0M381 254h0M402 274h0M383 290h0M387 279h0M386 261h0M392 260h0M371 264h0M403 288h0M413 287h0M407 276h0M385 279h0M380 283h0M385 276h0M381 270h0M401 269h0M383 276h0M400 269h0M377 249h0M376 288h0M389 279h0M402 276h0M395 265h0M373 281h0M389 281h0M379 270h0M412 260h0M391 291h0M388 274h0M367 283h0M385 291h0M389 267h0M395 269h0M384 295h0M401 274h0M399 284h0M396 273h0M391 278h0M396 277h0M384 271h0M395 258h0M390 283h0M392 268h0M390 265h0M401 267h0M372 255h0M393 275h0M385 253h0M388 260h0M383 272h0M382 277h0" stroke="#0000FF" stroke-width="1.4" stroke-linecap="square"/>
<path d="M403 260h0M406 278h0M416 273h0M403 264h0M412 272h0M397 264h0M403 271h0M411 259h0M420 261h0M421 263h0M407 282h0M404 260h0M416 264h0M410 252h0M418 274h0M409 271h0M404 260h0M398 268h0M414 272h0M412 271h0M402 252h0M411 266h0M413 262h0M402 268h0M404 249h0M403 256h0M400 259h0M413 287h0M417 260h0M414 263h0M409 258h0M407 248h0M418 257h0M410 259h0M409 253h0M405 273h0M410 246h0M412 252h0M409 269h0M403 261h0M406 268h0M412 277h0M409 283h0M401 281h0M405 271h0M406 265h0M402 268h0M419 266h0M407 264h0M411 262h0M407 266h0M415 273h0M401 258h0M407 272h0M413 262h0M419 263h0M415 278h0M416 266h0M410 250h0M397 258h0M411 274h0M406 274h0M410 279h0M398 256h0M401 254h0M417 255h0M402 260h0M412 260h0M411 269h0M403 242h0M402 252h0M417 257h0M401 268h0M407 255h0M413 273h0M409 257h0M402 245h0M409 268h0M402 264h0M426 253h0M397 270h0M404 259h0M411 263h0M413 269h0M414 265h0M394 277h0M397 274h0M408 251h0M407 273h0M401 265h0M403 255h0M403 276h0M411 264h0M407 265h0M409 266h0M397 273h0M402 239h0M411 253h0M406 263h0M404 269h0M405 261h0M401 261h0M401 265h0M415 274h0M410 251h0M413 273h0M419 243h0M407 261h0M413 254h0M405 286h0M413 245h0M407 277h0M403 270h0M408 250h0M403 275h0M414 258h0M414 257h0M408 264h0M400 267h0M405 238h0M402 256h0M402 255h0M403 241h0M412 265h0M409 262h0M407 262h0M401 250h0M407 274h0M408 279h0M399 262h0M403 276h0M417 259h0M411 262h0M401 263h0M401 279h0M410 275h0M409 241h0M412 265h0M393 265h0M413 280h0M401 272h0M409 262h0M405 269h0M410 270h0M405 251h0M415 276h0M404 264h0M412 247h0M410 287h0M409 257h0M419 264h0M408 260h0M408 247h0M399 250h0M412 263h0M414 245h0M403 278h0M402 246h0M403 261h0M407 277h0M415 279h0M410 259h0M404 250h0M415 276h0M408 255h0M411 269h0M408 253h0M408 259h0M411 270h0M410 260h0M416 271h0M414 272h0M411 268h0M401 247h0M401 270h0M412 266h0M408 282h0M405 247h0M398 261h0M411 271h0M406 272h0M407 257h0M405 271h0M413 253h0M401 265h0M420 253h0M400 268h0M410 258h0M407 269h0M397 264h0M411 273h0M414 263h0M399 277h0M412 258h0M413 274h0M406 241h0M404 257h0M402 263h0M401 268h0M418 253h0M413 259h0M410 263h0M415 257h0M411 257h0M408 264h0M413 249h0M399 277h0M409 280h0M401 266h0M411 281h0M407 260h0M411 263h0M403 271h0M396 254h0M415 259h0M405 268h0M414 269h0M401 259h0M413 263h0M403 272h0M414 285h0M401 257h0M403 267h0M404 275h0M391 273h0" stroke="#0000FF" stroke-width="1.4" stroke-linecap="square"/>
<path d="M374 262h0M408 276h0M364 313h0M408 256h0M398 238h0M358 261h0M402 273h0M371 230h0M346 316h0M402 247h0M424 286h0M381 252h0M423 279h0M437 280h0M376 253h0M373 277h0M399 287h0M404 240h0M386 243h0M405 232h0M376 245h0M375 263h0M433 263h0M353 261h0M412 286h0M399 327h0M422 273h0M425 231h0M387 245h0M397 317h0M378 316h0M364 311h0M346 246h0M419 267h0M396 270h0M397 265h0M365 262h0M395 244h0M405 321h0M347 254h0" stroke="#0000FF" stroke-width="1.4" stroke-linecap="square"/>
<path d="M418 245h0M421 241h0M420 245h0M419 254h0M421 236h0M411 248h0M418 241h0M412 243h0M419 241h0M418 250h0M425 248h0M419 237h0M425 254h0M427 252h0M422 247h0M420 252h0M418 257h0M425 243h0M420 236h0M416 243h0M434 240h0M425 245h0M418 249h0M408 250h0M431 247h0M420 246h0M424 242h0M421 248h0M418 247h0M422 249h0M414 242h0M418 252h0M421 235h0M413 256h0M422 238h0M415 246h0M428 254h0M418 243h0M431 239h0M429 247h0" stroke="#0000FF" stroke-width="1.4" stroke-linecap="square"/>
<g transform="translate(392 277) rotate(0)" filter="url(#bl)"><ellipse cx="0.0" cy="0.0" rx="13.0" ry="23.0" fill="#0000FF"/><ellipse cx="0.0" cy="1.3" rx="11.2" ry="19.8" fill="#0070FF"/><ellipse cx="0.0" cy="2.6" rx="9.4" ry="16.6" fill="#00E0FF"/><ellipse cx="0.0" cy="3.9" rx="7.5" ry="13.3" fill="#20FF60"/><ellipse cx="0.0" cy="5.0" rx="6.0" ry="10.6" fill="#C8FF00"/><ellipse cx="0.0" cy="5.8" rx="4.8" ry="8.5" fill="#FFD000"/><ellipse cx="0.0" cy="6.6" rx="3.6" ry="6.4" fill="#FF2000"/></g>
<path d="M398 164h0M404 164h0M396 171h0M401 196h0M396 205h0M387 210h0M388 212h0M472 258h0M480 256h0M481 273h0M487 273h0M459 284h0M443 291h0M357 326h0M348 326h0M351 324h0M382 329h0M393 327h0M389 319h0" stroke="#0000FF" stroke-width="1.6" stroke-linecap="square"/>
<polygon points="415.2,247.6 457.7,165.9 485.7,162.2 495.7,200.6 432.3,264.5" fill="none" stroke="#1a1a1a" stroke-width="1.3" stroke-linejoin="miter"/>
<text x="455.30" y="216.80" font-size="12.5" text-anchor="middle" font-weight="normal">0.28</text>
<rect x="341.7" y="149.4" width="189.9" height="193.6" fill="none" stroke="#333" stroke-width="1.1"/>
<path d="M336.2 149.8h5.5 M336.2 181.7h5.5 M336.2 214.8h5.5 M336.2 254.9h5.5 M336.2 293.6h5.5 M336.2 333.1h5.5 M339.2 172.1h2.5 M339.2 166.5h2.5 M339.2 162.5h2.5 M339.2 159.4h2.5 M339.2 156.9h2.5 M339.2 154.7h2.5 M339.2 152.9h2.5 M339.2 151.2h2.5 M339.2 204.9h2.5 M339.2 199.0h2.5 M339.2 194.9h2.5 M339.2 191.7h2.5 M339.2 189.1h2.5 M339.2 186.9h2.5 M339.2 184.9h2.5 M339.2 183.2h2.5 M339.2 242.8h2.5 M339.2 235.8h2.5 M339.2 230.8h2.5 M339.2 226.9h2.5 M339.2 223.7h2.5 M339.2 221.0h2.5 M339.2 218.7h2.5 M339.2 216.7h2.5 M339.2 262.7h2.5 M339.2 270.4h2.5 M339.2 278.1h2.5 M339.2 285.9h2.5 M339.2 301.5h2.5 M339.2 309.4h2.5 M339.2 317.3h2.5 M339.2 325.2h2.5" stroke="#111" stroke-width="1" fill="none"/>
<path d="M336.2 288.6h5.5M337.7 291.1h4M336.2 293.6h5.5M337.7 296.1h4M336.2 298.6h5.5" stroke="#000" stroke-width="1.6"/><rect x="339.2" y="288.6" width="2.5" height="10" fill="#000"/>
<path d="M350.6 343.0v5.5 M393.0 343.0v5.5 M434.8 343.0v5.5 M477.7 343.0v5.5 M513.7 343.0v5.5 M530.3 343.0v5.5 M359.1 343.0v2.5 M367.6 343.0v2.5 M376.0 343.0v2.5 M384.5 343.0v2.5 M401.3 343.0v2.5 M409.7 343.0v2.5 M418.0 343.0v2.5 M426.4 343.0v2.5 M447.7 343.0v2.5 M455.2 343.0v2.5 M460.6 343.0v2.5 M464.7 343.0v2.5 M468.1 343.0v2.5 M471.0 343.0v2.5 M473.5 343.0v2.5 M475.7 343.0v2.5 M488.5 343.0v2.5 M494.9 343.0v2.5 M499.4 343.0v2.5 M502.9 343.0v2.5 M505.7 343.0v2.5 M508.2 343.0v2.5 M510.3 343.0v2.5 M512.1 343.0v2.5 M518.7 343.0v2.5 M521.6 343.0v2.5 M523.7 343.0v2.5 M525.3 343.0v2.5 M526.6 343.0v2.5 M527.7 343.0v2.5 M528.7 343.0v2.5 M529.5 343.0v2.5" stroke="#111" stroke-width="1" fill="none"/>
<path d="M389.0 343.0v5.5M391.0 343.0v4M393.0 343.0v5.5M395.0 343.0v4M397.0 343.0v5.5" stroke="#000" stroke-width="1.5"/><rect x="389.0" y="343.0" width="8" height="2.5" fill="#000"/>
</g>
<g>
<ellipse cx="0" cy="0" rx="48" ry="27" fill="#1010FF" opacity="0.3" transform="translate(633 272) rotate(0)" filter="url(#blo)"/>
<path d="M634 288h0M641 265h0M602 274h0M642 288h0M644 290h0M647 276h0M640 278h0M620 273h0M634 269h0M604 259h0M642 280h0M634 262h0M649 270h0M592 291h0M603 298h0M642 269h0M586 267h0M661 288h0M637 256h0M625 271h0M641 273h0M639 257h0M620 289h0M604 284h0M677 281h0M605 287h0M596 278h0M624 287h0M655 276h0M667 284h0M623 264h0M680 270h0M640 273h0M623 257h0M629 273h0M651 269h0M602 263h0M631 277h0M646 270h0M642 276h0M665 273h0M635 280h0M656 264h0M623 271h0M591 288h0M653 274h0M697 287h0M671 291h0M650 259h0M662 278h0M609 275h0M647 284h0M635 268h0M647 266h0M631 282h0M604 278h0M594 264h0M608 273h0M646 273h0M650 275h0M628 279h0M627 275h0M652 268h0M654 262h0M628 256h0M622 291h0M639 287h0M603 263h0M641 283h0M648 256h0M642 273h0M634 279h0M627 256h0M611 259h0M606 273h0M657 266h0M617 262h0M598 275h0M623 271h0M613 279h0M609 280h0M619 282h0M615 279h0M641 273h0M664 276h0M615 281h0M616 268h0M632 276h0M665 255h0M627 286h0M629 277h0M662 261h0M633 282h0M621 255h0M613 276h0M636 294h0M658 258h0M652 284h0M664 272h0M621 276h0M662 281h0M665 282h0M621 263h0M668 258h0M625 271h0M614 268h0M632 299h0M631 268h0M634 284h0M616 270h0M598 281h0M645 290h0M609 297h0M649 271h0M624 271h0M608 282h0M620 266h0M642 275h0M621 272h0M622 288h0M652 266h0M631 289h0M626 293h0M641 281h0M592 283h0M639 280h0M641 280h0M622 284h0M633 263h0M612 276h0M639 251h0M592 285h0M632 304h0M602 271h0M620 280h0M659 291h0M612 287h0M608 277h0M635 281h0M616 288h0M631 274h0M627 263h0M646 278h0M641 294h0M615 271h0M632 283h0M629 284h0M641 255h0M619 252h0M626 270h0M644 276h0M631 287h0M644 261h0M619 278h0M665 272h0M629 277h0M647 273h0M638 270h0M621 266h0M645 268h0M643 278h0M651 245h0M613 261h0M629 283h0M681 290h0M659 278h0M624 280h0M589 284h0M632 281h0M612 262h0M619 274h0M639 270h0M639 281h0M609 273h0M602 268h0M650 266h0M668 279h0M649 275h0M649 286h0M634 268h0M621 295h0M628 269h0M618 256h0M622 277h0M623 266h0M640 279h0M623 277h0M613 283h0M613 270h0M635 270h0M610 296h0M662 255h0M634 260h0M638 260h0M643 280h0M665 287h0M623 284h0M623 273h0M622 255h0M644 252h0M627 280h0M634 257h0M619 281h0M653 291h0M597 279h0M623 282h0M599 272h0M646 267h0M625 264h0M654 260h0M614 270h0M626 297h0M637 265h0M643 278h0M638 273h0M641 261h0M609 269h0M610 282h0M670 287h0M641 278h0M619 260h0M643 258h0M638 272h0M647 275h0M634 268h0M598 270h0M646 285h0M659 263h0M614 282h0M623 302h0M638 258h0M621 291h0M596 276h0M605 291h0M623 263h0M599 266h0M582 269h0M675 275h0M627 262h0M639 269h0M615 289h0M641 264h0M661 273h0M642 276h0M655 281h0M625 282h0M624 275h0M664 263h0M612 270h0M622 288h0M601 299h0M663 269h0M636 270h0M645 281h0M647 282h0M670 272h0M646 272h0M633 276h0M631 278h0M615 272h0M620 261h0M618 269h0M629 257h0M627 262h0M616 276h0M654 277h0M622 269h0M658 257h0M654 258h0M620 274h0M628 292h0M642 273h0M651 274h0M616 286h0M661 288h0M609 294h0M624 282h0M655 300h0M600 263h0M655 279h0M626 243h0M641 272h0M583 268h0M632 277h0M647 271h0M614 270h0M591 262h0M671 267h0M630 294h0M653 275h0M646 271h0M614 285h0M635 291h0M627 270h0M639 272h0M626 264h0M637 277h0M668 274h0M598 279h0M677 269h0M616 272h0M628 258h0M643 265h0M596 266h0M644 295h0M657 276h0M622 271h0M651 268h0M640 284h0M614 268h0M641 274h0M630 268h0M631 294h0M659 257h0M633 275h0M633 259h0M629 276h0M619 277h0M584 258h0M634 278h0M629 269h0M636 286h0M650 273h0M623 285h0M643 284h0M627 265h0M636 267h0M655 283h0M589 281h0M658 285h0M623 265h0M651 285h0M633 262h0M602 277h0M616 267h0M641 285h0M591 267h0M658 274h0M625 281h0M610 261h0M632 291h0M652 274h0M652 270h0M609 256h0M637 284h0M639 274h0M624 286h0M631 258h0M659 267h0M640 274h0M653 277h0M656 276h0M623 269h0M645 265h0M650 271h0M614 265h0M629 293h0M647 274h0M614 295h0M627 274h0M624 288h0M635 269h0M636 263h0M611 272h0M671 262h0M629 257h0M635 276h0M647 260h0M620 267h0M627 299h0M628 274h0M622 283h0M682 287h0M662 262h0M653 274h0M657 285h0M645 256h0M635 269h0M641 274h0M653 257h0M617 273h0M638 270h0M631 275h0M653 273h0M637 254h0M639 249h0M640 273h0M632 266h0M624 283h0M639 274h0M622 276h0M655 274h0M625 261h0M634 264h0M604 283h0M620 252h0M618 294h0M630 260h0M610 282h0M640 276h0M628 279h0M662 279h0M629 259h0M641 291h0M645 260h0M636 288h0M620 279h0M656 292h0M601 255h0M639 282h0M625 274h0M624 287h0M588 277h0M607 267h0M602 264h0M632 274h0M667 272h0M639 278h0M637 290h0M635 276h0M630 274h0M631 285h0M632 275h0M631 282h0M623 284h0M621 282h0M670 277h0M630 261h0M647 274h0M650 267h0M642 294h0M640 270h0M606 274h0M645 280h0M610 263h0M613 263h0M627 277h0M670 276h0M661 256h0M662 283h0M641 283h0M644 295h0M648 255h0M598 291h0M630 288h0M625 267h0M625 277h0M636 267h0M643 281h0M614 262h0M593 271h0M632 266h0M620 273h0M633 280h0M648 279h0M654 263h0M644 278h0M611 267h0M641 275h0M607 268h0M662 283h0M634 289h0M614 272h0M651 270h0M610 280h0M664 246h0M635 260h0M626 259h0M683 267h0M633 266h0M612 269h0M636 293h0M638 291h0M611 275h0M623 257h0M706 271h0M637 266h0M621 263h0M652 270h0M629 276h0M608 277h0M629 279h0M624 274h0M642 285h0M618 285h0M613 272h0M635 276h0M583 263h0M628 284h0M618 290h0M596 275h0M643 274h0M637 284h0M616 280h0M653 271h0M586 261h0M615 262h0M641 265h0M681 280h0M606 271h0M662 281h0M612 285h0M623 298h0M621 280h0M643 269h0M629 287h0M642 273h0M641 293h0M650 279h0M639 257h0M635 269h0M646 267h0M641 263h0M650 266h0M631 280h0M626 274h0M653 293h0M596 264h0M645 284h0M623 275h0M628 299h0M628 261h0M601 260h0M658 270h0M671 281h0M640 281h0M648 284h0M613 268h0M621 275h0M627 261h0M618 293h0M674 265h0M640 274h0M615 282h0M631 292h0M641 271h0M649 266h0M649 281h0M597 272h0M638 282h0M635 274h0M625 271h0M632 262h0M645 270h0M642 268h0M640 275h0M650 279h0M650 272h0M631 271h0M607 273h0M654 282h0M615 277h0M647 259h0M639 278h0M647 277h0M598 252h0M671 270h0M657 288h0M634 262h0M659 274h0M642 279h0M651 285h0M604 259h0M635 274h0M647 273h0M628 296h0M659 287h0M652 265h0M630 273h0M610 265h0M635 261h0M643 279h0M627 270h0M644 279h0M639 261h0M600 296h0M619 270h0M596 265h0M618 283h0M624 269h0M617 269h0M601 277h0M656 276h0M621 288h0M642 263h0M621 267h0M631 287h0M618 272h0M634 261h0M623 281h0M654 254h0M646 271h0M657 281h0M671 277h0M624 265h0M604 280h0M642 283h0M639 258h0M624 271h0M635 282h0M660 277h0M591 263h0M590 266h0M608 277h0M628 286h0M653 269h0M651 274h0M641 289h0M609 273h0M662 266h0M636 275h0M624 260h0M618 263h0M653 277h0M646 261h0M642 276h0M653 266h0M648 289h0M668 264h0M610 258h0M651 280h0M639 265h0M657 291h0M631 273h0M656 279h0M659 270h0M639 270h0M621 271h0M626 279h0M626 275h0M616 261h0M660 263h0M668 284h0M587 267h0M624 274h0M628 267h0M657 273h0M651 267h0M618 288h0M626 262h0M629 285h0M629 266h0M645 285h0M628 271h0M625 303h0M628 293h0M629 278h0M592 276h0M633 271h0M624 259h0M603 276h0M619 273h0M628 269h0M618 294h0M610 269h0M626 262h0M613 283h0M650 275h0M696 283h0M656 265h0M653 292h0M625 293h0M616 262h0M631 265h0M645 262h0M634 253h0M631 285h0M627 277h0M654 262h0M607 275h0M638 271h0M613 287h0M609 271h0M631 282h0M623 265h0M672 265h0M648 272h0M623 274h0M627 277h0M633 264h0M624 299h0M669 281h0M637 271h0M659 269h0M616 281h0M613 266h0M661 257h0M631 275h0M637 258h0M628 270h0M670 285h0M617 283h0M645 273h0M627 271h0M602 267h0M651 290h0M669 270h0M644 248h0M627 260h0M648 256h0M612 262h0M640 283h0M614 293h0M635 265h0M639 274h0M649 278h0M675 287h0M619 282h0M647 263h0M617 265h0M583 281h0M628 287h0M621 275h0M646 284h0M638 263h0M676 283h0M659 291h0M660 278h0M641 281h0M602 283h0M613 279h0M612 282h0M623 301h0M636 279h0M614 271h0M631 271h0M624 265h0M647 270h0M616 278h0M616 272h0M622 264h0M628 265h0M607 278h0M626 258h0M624 276h0M641 278h0M637 280h0M622 265h0M644 270h0M632 281h0M651 287h0M619 270h0M643 259h0M607 281h0M620 264h0M648 280h0M650 270h0M626 270h0M638 252h0M619 282h0M617 273h0M635 280h0M623 262h0M681 266h0M666 255h0M634 272h0M669 296h0M651 263h0M616 266h0M622 277h0M617 271h0M661 289h0M596 264h0M625 288h0M626 294h0M639 289h0M615 271h0M652 280h0M595 271h0M636 281h0M620 293h0M635 289h0M640 275h0M626 262h0M649 282h0M651 270h0M612 270h0M626 274h0M652 264h0M623 281h0M650 298h0M643 265h0M612 266h0M634 277h0M631 267h0M629 273h0M644 275h0M616 262h0M661 273h0M629 274h0M654 271h0M636 271h0M644 263h0M636 285h0M655 281h0M638 291h0M646 289h0M609 262h0M648 271h0M624 264h0M661 261h0M634 259h0M629 298h0M680 269h0M612 291h0M615 255h0M639 263h0M604 286h0M618 263h0M636 272h0M654 275h0M663 286h0M667 286h0M634 280h0M633 257h0M609 282h0M586 265h0M607 273h0M612 277h0M628 269h0M616 250h0M634 260h0M627 278h0M653 282h0M661 259h0M646 291h0M640 262h0M640 269h0M620 285h0M629 262h0M619 295h0M616 281h0M636 286h0M627 264h0M620 263h0M683 276h0M626 287h0M645 272h0M644 277h0M654 292h0M626 274h0M629 287h0M640 282h0M650 267h0M635 289h0M650 283h0M627 270h0M616 271h0M631 259h0M655 266h0M637 280h0M622 255h0M651 278h0M627 286h0M650 264h0M631 255h0M627 289h0M616 283h0M603 271h0M651 292h0M641 282h0M666 248h0M599 294h0M680 280h0M634 277h0M633 267h0M632 273h0M645 281h0M651 280h0M613 289h0M639 268h0M669 262h0M610 269h0M640 282h0M634 281h0M619 268h0M635 260h0M636 270h0M646 263h0M622 268h0M625 263h0M627 260h0M643 281h0M632 272h0M615 264h0M628 264h0M609 276h0M632 270h0M617 273h0M619 269h0M636 282h0M647 268h0M656 262h0M629 288h0M678 275h0M625 270h0M609 272h0M624 266h0M656 266h0M665 283h0M645 268h0M622 253h0M638 271h0M640 267h0M642 258h0M590 279h0M653 241h0M657 270h0M629 258h0M613 282h0M618 274h0M629 295h0M650 260h0M623 262h0M605 267h0M654 275h0M645 273h0M624 275h0M631 294h0M667 278h0M644 253h0M630 299h0M617 283h0M656 270h0M628 269h0M648 274h0M661 287h0M632 302h0M626 268h0M628 265h0M624 273h0M649 257h0M605 266h0M626 279h0M617 290h0M622 272h0M633 286h0M638 274h0M622 276h0M640 270h0M632 254h0M622 287h0M660 273h0M591 294h0M629 301h0M624 285h0M620 289h0M655 263h0M657 304h0M628 261h0M638 270h0M603 263h0M637 258h0M653 279h0M629 289h0M614 281h0M606 271h0M645 268h0M630 281h0M662 288h0M641 271h0M604 292h0M668 251h0M649 274h0M646 277h0M628 274h0M631 286h0M627 268h0M645 281h0M641 277h0M661 286h0M636 272h0M645 254h0M622 266h0M636 270h0M680 282h0M640 298h0M632 271h0M656 283h0M650 287h0M625 267h0M618 275h0M651 263h0M622 260h0M671 283h0M636 261h0M612 267h0M633 260h0M628 287h0M632 275h0M592 271h0M629 267h0M606 273h0M613 268h0M602 273h0M650 265h0M638 258h0M643 280h0M625 283h0M615 275h0M665 274h0M611 286h0M642 271h0M597 254h0M603 290h0M638 265h0M654 290h0M616 279h0M601 278h0M667 259h0M633 267h0M630 275h0M638 284h0M642 285h0M652 286h0M619 278h0M625 265h0M670 277h0M633 251h0M628 282h0M628 268h0M660 271h0M626 273h0M628 285h0M643 273h0M625 272h0M665 271h0M645 257h0M638 281h0M657 277h0M643 277h0M653 296h0M636 265h0M644 273h0M644 282h0M635 269h0M638 261h0M637 264h0M641 275h0M628 261h0M633 267h0M629 281h0M650 260h0M650 289h0M654 277h0M630 293h0M626 258h0M634 277h0M612 261h0M670 275h0M647 268h0M603 272h0M658 267h0M598 272h0M627 274h0M612 271h0M622 283h0M635 283h0M631 251h0M595 280h0M649 283h0M631 255h0M623 278h0M659 270h0M621 266h0M652 283h0M597 287h0M615 258h0M602 266h0M677 301h0M608 267h0M635 278h0M623 257h0M624 267h0M598 276h0M604 255h0M661 284h0M660 275h0M624 273h0M606 282h0M637 271h0M596 273h0M663 290h0M649 270h0M635 280h0M636 285h0M619 249h0M586 264h0M606 281h0M653 274h0M643 275h0M636 269h0M624 287h0M627 274h0M655 285h0M625 277h0M613 275h0M638 274h0M635 278h0M584 265h0M634 269h0M614 271h0M663 272h0M620 269h0M609 279h0M613 284h0M650 280h0M652 273h0M599 273h0M644 257h0M609 286h0M641 288h0M645 275h0M640 283h0M632 272h0M638 271h0M678 266h0M603 260h0M652 270h0M635 272h0M638 258h0M634 268h0M653 281h0M608 264h0M643 287h0M647 272h0M654 249h0M622 264h0M612 280h0M638 277h0M630 281h0M647 268h0M650 264h0M666 260h0M627 262h0M633 288h0M618 293h0M659 278h0M621 284h0M651 274h0M680 267h0M607 272h0M643 292h0M598 276h0M657 267h0M623 261h0M647 283h0M644 277h0M651 273h0M646 283h0M657 280h0M634 282h0M602 255h0M664 275h0M612 268h0M629 275h0M617 285h0M599 304h0M611 292h0M645 256h0M609 275h0M638 269h0M633 276h0M610 275h0M676 267h0M613 281h0M658 285h0M620 273h0M636 272h0M640 286h0M643 274h0M628 293h0M608 296h0M647 275h0M618 294h0M656 284h0M673 255h0M634 271h0M618 275h0M643 280h0M630 260h0M643 281h0M674 284h0M633 262h0M686 267h0M636 282h0M642 288h0M612 267h0M636 261h0M620 289h0M638 273h0M621 275h0M632 262h0M648 260h0M657 270h0M587 257h0M638 265h0M668 289h0M674 284h0M659 267h0M658 269h0M631 259h0M633 278h0M631 262h0M650 284h0M631 283h0M652 263h0M632 254h0M612 279h0M615 278h0M639 252h0M623 291h0M633 275h0M618 257h0M601 305h0M629 265h0M634 253h0M660 293h0M617 278h0M614 283h0M616 272h0M658 280h0M626 257h0M601 287h0M642 275h0M657 276h0M618 273h0M630 274h0M682 280h0M638 271h0M619 263h0M595 269h0M602 254h0M614 252h0M660 288h0M613 296h0M645 246h0M633 263h0M597 271h0M655 279h0M603 267h0M617 287h0M630 263h0M614 252h0M615 284h0M594 276h0M630 283h0M609 284h0M663 299h0M600 274h0M628 275h0M612 283h0M679 291h0M613 268h0M647 275h0M617 288h0M643 285h0M629 288h0M623 262h0M632 259h0M657 282h0M598 276h0M649 270h0M641 268h0M631 273h0M642 263h0M609 278h0M622 280h0M622 260h0M647 277h0M647 270h0M625 288h0M598 293h0M642 273h0M634 281h0M617 277h0M613 254h0M636 275h0M645 280h0M646 283h0M611 287h0M686 268h0M607 282h0M651 285h0M663 259h0M640 279h0M657 264h0M633 270h0M629 272h0M629 254h0M631 275h0M624 235h0M618 267h0M615 292h0M651 272h0M644 310h0M613 279h0M620 290h0M654 273h0M644 265h0M600 283h0M665 271h0M621 254h0M675 261h0M613 272h0M656 275h0M632 274h0M649 274h0M635 273h0M610 289h0M618 259h0M623 274h0M649 258h0M607 276h0M640 262h0M609 276h0M629 256h0M614 290h0M611 286h0M601 290h0M664 267h0M618 281h0M607 280h0M657 277h0M639 272h0M652 265h0M664 274h0M625 256h0M623 277h0M657 256h0M629 266h0M608 274h0M617 284h0M594 252h0M642 270h0M635 263h0M611 266h0M631 265h0M624 264h0M637 261h0M590 245h0M632 275h0M651 266h0M609 258h0M647 267h0M652 273h0M626 253h0M618 283h0M620 281h0M599 285h0M688 286h0M638 260h0M621 267h0M636 252h0M615 283h0M635 282h0M649 261h0M605 279h0M633 275h0M616 285h0M642 287h0M625 282h0M631 264h0M630 256h0M628 276h0M646 262h0M605 266h0M590 267h0M685 276h0M617 266h0M667 261h0M630 273h0M617 266h0M598 265h0M658 290h0M626 282h0M641 275h0M629 287h0M643 272h0M627 284h0M620 266h0M626 269h0M657 278h0M630 268h0M660 279h0M674 284h0M628 268h0M626 276h0M648 279h0M664 257h0M633 258h0M611 267h0M619 263h0M602 287h0M626 285h0M610 248h0M620 284h0M621 278h0M610 289h0M641 286h0M626 288h0M633 269h0M619 275h0M614 261h0M635 282h0M626 283h0M664 260h0M637 263h0M619 276h0M584 281h0M649 280h0M645 294h0M625 286h0M661 279h0M596 272h0M626 256h0M631 282h0M627 272h0M661 267h0M613 274h0M654 281h0M633 269h0M657 284h0M597 278h0M584 290h0M644 267h0M606 271h0M597 280h0M622 254h0M632 287h0M607 270h0M668 276h0M621 276h0M648 263h0M630 256h0M600 257h0M649 277h0M647 287h0M633 277h0M640 279h0M611 271h0M629 274h0M617 273h0M638 276h0M644 283h0M643 285h0M649 289h0M645 267h0M679 286h0M657 282h0M633 261h0M641 270h0M624 250h0M663 261h0M610 279h0M643 265h0M632 277h0M635 280h0M648 270h0M599 298h0M624 263h0M647 280h0M620 300h0M585 288h0M631 277h0M638 271h0M638 260h0M624 294h0M587 265h0M650 269h0M620 257h0M630 272h0M619 257h0M635 279h0M655 280h0M662 287h0M630 262h0M641 285h0M601 260h0M646 268h0M661 276h0M621 259h0M644 255h0M606 260h0M666 293h0M628 270h0M646 288h0M616 298h0M628 286h0M585 273h0M618 296h0M628 260h0M671 266h0M632 260h0M646 276h0M626 270h0M621 266h0M604 287h0M650 259h0M609 278h0M677 272h0M626 271h0M637 272h0M654 285h0M643 291h0M627 268h0M692 253h0M601 248h0M639 262h0M653 251h0M629 270h0M610 286h0M624 279h0M621 276h0M623 275h0M630 266h0M641 272h0M613 262h0M641 289h0M606 269h0M641 285h0M646 261h0M633 284h0M637 271h0M608 276h0M631 274h0M662 287h0M616 277h0M626 275h0M665 284h0M633 267h0M629 278h0M622 286h0M632 261h0M673 242h0M627 273h0M652 286h0M661 291h0M638 275h0M652 274h0M607 269h0M645 281h0M610 287h0M638 257h0M641 285h0M643 271h0M616 286h0M637 274h0M624 263h0M594 270h0M654 282h0M618 291h0M627 263h0M652 289h0M624 261h0M631 247h0M633 291h0M637 266h0M646 269h0M657 270h0M673 270h0M636 264h0M606 278h0M639 263h0M643 269h0M621 273h0M640 282h0M657 278h0M617 266h0M639 261h0M629 270h0M630 276h0M653 292h0M650 285h0M611 285h0M658 259h0M683 268h0M584 293h0M633 265h0M620 286h0M637 270h0M655 264h0M615 268h0M617 282h0M627 262h0M623 252h0M635 275h0M644 271h0M640 264h0M632 276h0M608 280h0M635 275h0M622 296h0M632 266h0M615 281h0M628 265h0M617 284h0M634 286h0M632 261h0M649 278h0M619 271h0M613 283h0M624 279h0M637 271h0M639 271h0M608 269h0M608 282h0M645 268h0M644 277h0M652 264h0M633 263h0M618 289h0M592 264h0M642 283h0M616 252h0M598 278h0M654 284h0M617 289h0M628 281h0M628 292h0M622 250h0M626 276h0M638 266h0M627 262h0M627 275h0M637 292h0M592 280h0M641 261h0M633 274h0M612 282h0M670 281h0M648 286h0M629 285h0M616 276h0M646 288h0M626 271h0M641 273h0M635 283h0M617 284h0M640 271h0M607 267h0M631 284h0M593 282h0M636 262h0M649 278h0M641 263h0M610 284h0M660 278h0M628 269h0M598 285h0M630 287h0M618 286h0M618 280h0M659 266h0M650 274h0M613 276h0M645 266h0M627 268h0M617 272h0M648 269h0M657 270h0M618 286h0M660 267h0M644 261h0M624 270h0M646 260h0M622 266h0M634 261h0M605 305h0M636 258h0M649 260h0M595 292h0M657 265h0M610 279h0M672 281h0M645 261h0M597 278h0M652 275h0M632 289h0M615 286h0M648 267h0M634 275h0M643 263h0M627 275h0M633 274h0M637 272h0M622 285h0M619 271h0M615 262h0M641 274h0M629 279h0M629 281h0M668 278h0M627 292h0M646 256h0M658 276h0M649 261h0M615 267h0M643 262h0M618 284h0M619 275h0M614 256h0M630 273h0M604 285h0M648 284h0M622 262h0M630 276h0M629 268h0M612 266h0M630 269h0M665 271h0M641 269h0M628 263h0M622 258h0M591 288h0M611 279h0M630 268h0M646 268h0M641 270h0M651 284h0M633 286h0M642 291h0M630 257h0M636 277h0M625 272h0M627 260h0M666 266h0M611 257h0M615 274h0M661 280h0M618 261h0M610 273h0M649 269h0M663 295h0M635 251h0M653 273h0M645 285h0M612 275h0M635 266h0M646 273h0M624 294h0M635 292h0M629 285h0M617 276h0M653 251h0M642 271h0M653 276h0M630 260h0M689 266h0M626 266h0M626 276h0M606 285h0M627 280h0M591 268h0M626 270h0M619 277h0M640 263h0M594 282h0M626 285h0M649 273h0M604 270h0M618 287h0M599 284h0M602 268h0M604 266h0M623 278h0M620 281h0M666 276h0M609 272h0M630 270h0M654 286h0M671 280h0M645 265h0M620 284h0M635 262h0M621 241h0M632 261h0M631 261h0M614 268h0M686 261h0M609 268h0M653 283h0M645 270h0M634 266h0M628 265h0M603 263h0M670 278h0M617 273h0M623 287h0M631 267h0M645 277h0M619 266h0M635 256h0M614 285h0M649 286h0M623 268h0M627 269h0M657 272h0M658 266h0M639 291h0M617 267h0M620 257h0M626 267h0M675 269h0M590 284h0M650 274h0M637 282h0M621 274h0M635 292h0M659 276h0M606 283h0M631 287h0M633 276h0M645 266h0M619 299h0M615 284h0M645 283h0M658 260h0M650 252h0M633 278h0M652 286h0M614 271h0M629 266h0M616 267h0M654 289h0M646 292h0M634 262h0M619 276h0M652 287h0M614 284h0M621 280h0M650 290h0M621 277h0M640 269h0M634 280h0M600 267h0M677 279h0M621 254h0M613 280h0M645 279h0M643 267h0M663 262h0M642 271h0M598 284h0M626 282h0M656 276h0M619 272h0M630 290h0M648 291h0M647 266h0M650 284h0M629 279h0M626 260h0M630 282h0M625 250h0M616 286h0M636 286h0M617 269h0M612 266h0M642 275h0M622 277h0M606 270h0M603 258h0M605 262h0M662 289h0M656 268h0M644 262h0M621 277h0M601 276h0M644 252h0M584 271h0M629 276h0M610 280h0M634 266h0M664 277h0M646 294h0M622 272h0M598 272h0M640 301h0M643 276h0M607 265h0M596 259h0M634 277h0M614 272h0M616 281h0M644 268h0M623 261h0M623 298h0M631 283h0M643 290h0M625 264h0M652 284h0M619 286h0M631 274h0M667 280h0M638 271h0M636 285h0M641 266h0M640 273h0M638 272h0M589 256h0M624 250h0M602 296h0M645 269h0M638 250h0M637 285h0M635 260h0M651 268h0M621 276h0M626 296h0M629 297h0M640 260h0M632 275h0M660 288h0M682 267h0M623 299h0M614 278h0M663 263h0M625 266h0M642 278h0M631 281h0M616 270h0M641 296h0M631 275h0M657 275h0M657 277h0M654 276h0M614 265h0M640 295h0M668 271h0M681 262h0M615 284h0M602 284h0M639 281h0M608 278h0M650 273h0M652 274h0M638 271h0M605 272h0M641 266h0M593 257h0M657 272h0M617 288h0M628 258h0M623 264h0M628 264h0M633 279h0M620 272h0M629 283h0M618 282h0M656 272h0M613 271h0M597 268h0M608 272h0M624 280h0M634 279h0M631 277h0M609 281h0M657 286h0M605 279h0M600 282h0M628 269h0M617 271h0M632 263h0M633 277h0M642 274h0M632 299h0M652 278h0M604 281h0M643 245h0M628 278h0M632 275h0M629 289h0M639 271h0M627 297h0M615 268h0M638 276h0M638 289h0M654 279h0M633 273h0M627 285h0M607 263h0M623 263h0M617 287h0M587 280h0M606 271h0M620 263h0M603 275h0M624 286h0M668 271h0M616 271h0M641 284h0M613 279h0M631 287h0M624 272h0M615 259h0M637 282h0M654 277h0M623 264h0M609 266h0M638 275h0M587 273h0M626 263h0M631 280h0M611 259h0M625 277h0M627 291h0M635 263h0M647 267h0M645 275h0M656 263h0M646 279h0M614 282h0M677 278h0M617 272h0M658 277h0M661 267h0M658 257h0M629 271h0M622 287h0M620 278h0M669 283h0M624 266h0M592 278h0M649 286h0M637 298h0M647 249h0M614 283h0M624 283h0M683 266h0M676 273h0M603 275h0M650 268h0M663 264h0M628 284h0M628 268h0M632 281h0M666 289h0M669 274h0M599 274h0M624 263h0M622 273h0M633 284h0M614 287h0M633 282h0M657 260h0M664 266h0M640 286h0M650 257h0M635 287h0M629 273h0M633 292h0M621 264h0M610 268h0M627 278h0M630 255h0M601 281h0M646 259h0M651 247h0M678 281h0M599 280h0M631 269h0M625 272h0M630 264h0M621 280h0M642 259h0M622 291h0M646 292h0M605 263h0M589 253h0M624 262h0M610 266h0M628 283h0M643 255h0M662 270h0M612 274h0M624 259h0M663 268h0M620 280h0M665 279h0M614 279h0M654 278h0M645 269h0M631 255h0M618 261h0M632 290h0M587 259h0M613 273h0M655 265h0M616 287h0M639 280h0M649 266h0M636 267h0M618 275h0M641 260h0M617 281h0M635 281h0M626 265h0M648 281h0M617 281h0M663 271h0M613 277h0M634 280h0M604 277h0M650 282h0M645 287h0M615 287h0M636 263h0M626 277h0M639 289h0M636 268h0M676 270h0M615 284h0M624 265h0M611 287h0M611 275h0M623 272h0M616 276h0M644 286h0M625 261h0M602 274h0M582 289h0M633 275h0M604 267h0M617 281h0M624 281h0M642 253h0M627 288h0M622 275h0M629 261h0M676 273h0M645 269h0M660 287h0M656 285h0M646 289h0M640 276h0M648 264h0M635 266h0M627 264h0M615 276h0M634 283h0M630 281h0M646 266h0M598 267h0M627 268h0M676 267h0M642 266h0M646 260h0M651 276h0M624 261h0M665 268h0M661 248h0M608 294h0M668 274h0M652 281h0M625 276h0M609 259h0M634 282h0M635 261h0M649 275h0M647 271h0M627 286h0M660 261h0M610 285h0M639 275h0M612 285h0M636 277h0M640 268h0M640 276h0M646 278h0M606 266h0M627 287h0M619 287h0M654 284h0M677 274h0M638 288h0M640 285h0M629 290h0M639 253h0M654 272h0M614 271h0M626 287h0M639 273h0M632 264h0M619 269h0M627 261h0M624 285h0M641 274h0M639 272h0M608 284h0M677 280h0M646 301h0M608 280h0M625 271h0M599 273h0M640 257h0M628 269h0M612 281h0M665 279h0M653 282h0M631 281h0M659 270h0M629 259h0M595 265h0M650 278h0M637 289h0M597 289h0M634 283h0M660 265h0M615 279h0M631 268h0M629 266h0M635 270h0M666 263h0M644 275h0M664 264h0M623 293h0M619 270h0M624 263h0M657 291h0M629 266h0M605 281h0M621 280h0M584 270h0M645 279h0M635 274h0M625 269h0M635 280h0M651 272h0M657 264h0M670 285h0" stroke="#0000FF" stroke-width="1.4" stroke-linecap="square"/>
<path d="M649 295h0M675 281h0M638 261h0M662 275h0M656 247h0M672 260h0M661 258h0M653 246h0M664 255h0M630 267h0M655 274h0M667 248h0M653 262h0M656 250h0M656 274h0M672 279h0M666 232h0M651 256h0M614 280h0M668 262h0M660 268h0M652 278h0M681 272h0M647 265h0M669 271h0M645 273h0M665 269h0M649 262h0M628 262h0M649 259h0M651 258h0M656 263h0M646 261h0M654 268h0M661 258h0M643 243h0M637 267h0M642 281h0M653 258h0M653 256h0M646 263h0M635 264h0M654 251h0M669 266h0M670 254h0M638 248h0M633 240h0M677 256h0M658 256h0M653 281h0M631 250h0M657 251h0M665 277h0M668 271h0M653 274h0M644 248h0M651 259h0M672 250h0M671 253h0M637 242h0M655 245h0M658 263h0M649 239h0M648 267h0M630 270h0M655 256h0M658 270h0M655 253h0M666 254h0M660 274h0M673 281h0M669 264h0M652 264h0M662 298h0M664 252h0M676 243h0M669 247h0M640 256h0M651 246h0M664 261h0M674 250h0M630 270h0M652 274h0M622 247h0M656 285h0M638 239h0M649 279h0M677 246h0M646 240h0M643 251h0M661 276h0M688 258h0M666 265h0M657 285h0M665 281h0M659 272h0M662 261h0M645 257h0M655 258h0M650 254h0M667 259h0M653 259h0M673 256h0M675 252h0M676 269h0M648 267h0M671 251h0M652 266h0M652 259h0M655 266h0M666 280h0M651 297h0M650 283h0M653 245h0M649 258h0M670 238h0M646 260h0M664 267h0M667 260h0M652 276h0M679 267h0M657 252h0M685 267h0M664 243h0M664 291h0M653 260h0M677 260h0M667 285h0M639 252h0M665 263h0M656 260h0M657 266h0M648 259h0M658 249h0M661 236h0M664 261h0M639 278h0M639 287h0M645 276h0M654 281h0M652 274h0M651 240h0M660 268h0M661 282h0M645 245h0M659 254h0M654 262h0M644 275h0M653 283h0M659 275h0M651 254h0M648 252h0M661 264h0M640 244h0M643 240h0M643 244h0M665 248h0M647 261h0M656 267h0M666 270h0M650 277h0M660 254h0M676 248h0M662 277h0M657 266h0M657 270h0M658 262h0M665 240h0M659 258h0M682 265h0M646 270h0M650 248h0M651 268h0M672 275h0M658 260h0M658 276h0M653 276h0M644 262h0M666 270h0M658 256h0M630 257h0M643 257h0M677 253h0M667 262h0M640 263h0M665 248h0M639 258h0M665 255h0M661 267h0M655 267h0M673 260h0M660 249h0M645 261h0M666 254h0M636 273h0M688 231h0M640 263h0M662 251h0M660 275h0M651 271h0M657 251h0M647 255h0M673 276h0M658 243h0M648 257h0M629 262h0M659 246h0M649 257h0M680 270h0M666 263h0M637 273h0M646 239h0M665 258h0M655 268h0M652 267h0M673 258h0M650 262h0M664 257h0M656 254h0M654 268h0M644 260h0M635 254h0M656 268h0M641 261h0M642 266h0M659 267h0M652 245h0M647 246h0M646 261h0M670 254h0M644 264h0M627 286h0M634 274h0M668 273h0M654 271h0M650 273h0M646 252h0M660 257h0M664 252h0M659 250h0M654 287h0M640 247h0M633 259h0M677 257h0M668 260h0M646 286h0M670 240h0M642 267h0M664 259h0M659 268h0M650 274h0M643 271h0M667 264h0M650 262h0M625 265h0M636 238h0M665 251h0M660 263h0M631 251h0M651 268h0M656 247h0M648 263h0M638 257h0M648 237h0M678 272h0M649 273h0M641 280h0M650 264h0M647 263h0M660 262h0M644 271h0M663 262h0M669 253h0M672 260h0M676 257h0M652 265h0M670 279h0M649 253h0M665 277h0M665 258h0M672 262h0M657 269h0M647 235h0M658 270h0M661 268h0M657 274h0M657 280h0M656 271h0M648 266h0M661 264h0M676 263h0M670 266h0M670 251h0M650 273h0M644 267h0M663 264h0M661 268h0M652 267h0M648 257h0M634 261h0M632 262h0M658 249h0M656 265h0M650 251h0M654 267h0M668 285h0M628 266h0M661 254h0M659 287h0M657 278h0M669 257h0M624 276h0M676 241h0M652 254h0M658 263h0M671 255h0M681 242h0M658 294h0M654 269h0M649 301h0M667 258h0M629 265h0M665 238h0M648 269h0M622 260h0M633 246h0M661 275h0M671 254h0M662 241h0M635 268h0M650 250h0M630 259h0M685 238h0M641 275h0M629 255h0M656 275h0M654 284h0M655 261h0M661 266h0M635 251h0M652 266h0M638 254h0M645 266h0M649 269h0M660 251h0M651 247h0M656 272h0M642 241h0M662 259h0M655 267h0M660 273h0M649 236h0M648 258h0M649 267h0M652 277h0M646 262h0M650 287h0M642 250h0M650 271h0M655 260h0M635 237h0M652 259h0M679 266h0M661 274h0M643 247h0M650 280h0M668 255h0M638 273h0M670 249h0M677 253h0M665 260h0M651 255h0M664 269h0M666 259h0M643 288h0" stroke="#0000FF" stroke-width="1.4" stroke-linecap="square"/>
<path d="M667 259h0M622 289h0M642 263h0M653 268h0M642 298h0M610 274h0M625 263h0M637 267h0M602 274h0M676 255h0M654 273h0M645 253h0M650 267h0M663 277h0M629 210h0M664 271h0M643 251h0M679 286h0M642 255h0M649 286h0M648 279h0M644 268h0M620 264h0M641 261h0M636 268h0M631 258h0M619 303h0M626 240h0M632 255h0M623 218h0M666 280h0M634 272h0M622 233h0M645 272h0M629 262h0M591 260h0M657 265h0M643 272h0M607 239h0M620 266h0M630 228h0M654 259h0M656 298h0M614 239h0M657 287h0M646 268h0M651 274h0M620 275h0M656 255h0M626 253h0M631 271h0M652 262h0M635 230h0M633 244h0M631 268h0M643 325h0M626 252h0M622 257h0M635 280h0M609 278h0" stroke="#0000FF" stroke-width="1.4" stroke-linecap="square"/>
<g transform="translate(633 276) rotate(0)" filter="url(#bl)"><ellipse cx="0.0" cy="0.0" rx="29.0" ry="19.0" fill="#0000FF"/><ellipse cx="0.0" cy="1.2" rx="24.4" ry="16.0" fill="#0070FF"/><ellipse cx="0.0" cy="2.6" rx="19.1" ry="12.5" fill="#00E0FF"/><ellipse cx="0.0" cy="3.8" rx="14.5" ry="9.5" fill="#20FF60"/><ellipse cx="0.0" cy="4.7" rx="11.0" ry="7.2" fill="#C8FF00"/><ellipse cx="0.0" cy="5.5" rx="8.1" ry="5.3" fill="#FFD000"/><ellipse cx="0.0" cy="6.2" rx="5.5" ry="3.6" fill="#FF2000"/></g>
<path d="M705 165h0M712 164h0M701 172h0M670 196h0M680 206h0M641 211h0M652 211h0M658 210h0M661 213h0M666 211h0M630 223h0M638 228h0M663 224h0M674 219h0M586 330h0M590 326h0M600 324h0M612 315h0M628 326h0M640 319h0M675 313h0M675 315h0M689 290h0" stroke="#0000FF" stroke-width="1.6" stroke-linecap="square"/>
<polygon points="676.7,245.1 702.2,163.0 735.7,161.3 743.8,196.3 692.4,259.7" fill="none" stroke="#1a1a1a" stroke-width="1.3" stroke-linejoin="miter"/>
<text x="709.50" y="214.70" font-size="12.5" text-anchor="middle" font-weight="normal">0.020</text>
<rect x="580.4" y="149.4" width="190.1" height="193.6" fill="none" stroke="#333" stroke-width="1.1"/>
<path d="M574.9 149.8h5.5 M574.9 181.7h5.5 M574.9 214.8h5.5 M574.9 254.9h5.5 M574.9 293.6h5.5 M574.9 333.1h5.5 M577.9 172.1h2.5 M577.9 166.5h2.5 M577.9 162.5h2.5 M577.9 159.4h2.5 M577.9 156.9h2.5 M577.9 154.7h2.5 M577.9 152.9h2.5 M577.9 151.2h2.5 M577.9 204.9h2.5 M577.9 199.0h2.5 M577.9 194.9h2.5 M577.9 191.7h2.5 M577.9 189.1h2.5 M577.9 186.9h2.5 M577.9 184.9h2.5 M577.9 183.2h2.5 M577.9 242.8h2.5 M577.9 235.8h2.5 M577.9 230.8h2.5 M577.9 226.9h2.5 M577.9 223.7h2.5 M577.9 221.0h2.5 M577.9 218.7h2.5 M577.9 216.7h2.5 M577.9 262.7h2.5 M577.9 270.4h2.5 M577.9 278.1h2.5 M577.9 285.9h2.5 M577.9 301.5h2.5 M577.9 309.4h2.5 M577.9 317.3h2.5 M577.9 325.2h2.5" stroke="#111" stroke-width="1" fill="none"/>
<path d="M574.9 288.6h5.5M576.4 291.1h4M574.9 293.6h5.5M576.4 296.1h4M574.9 298.6h5.5" stroke="#000" stroke-width="1.6"/><rect x="577.9" y="288.6" width="2.5" height="10" fill="#000"/>
<path d="M588.8 343.0v5.5 M627.5 343.0v5.5 M665.4 343.0v5.5 M704.5 343.0v5.5 M737.4 343.0v5.5 M769.5 343.0v5.5 M596.5 343.0v2.5 M604.3 343.0v2.5 M612.0 343.0v2.5 M619.8 343.0v2.5 M635.1 343.0v2.5 M642.7 343.0v2.5 M650.2 343.0v2.5 M657.8 343.0v2.5 M677.2 343.0v2.5 M684.1 343.0v2.5 M689.0 343.0v2.5 M692.7 343.0v2.5 M695.8 343.0v2.5 M698.5 343.0v2.5 M700.7 343.0v2.5 M702.7 343.0v2.5 M714.4 343.0v2.5 M720.2 343.0v2.5 M724.3 343.0v2.5 M727.5 343.0v2.5 M730.1 343.0v2.5 M732.3 343.0v2.5 M734.2 343.0v2.5 M735.9 343.0v2.5 M747.1 343.0v2.5 M752.8 343.0v2.5 M756.8 343.0v2.5 M759.9 343.0v2.5 M762.4 343.0v2.5 M764.6 343.0v2.5 M766.4 343.0v2.5 M768.1 343.0v2.5" stroke="#111" stroke-width="1" fill="none"/>
<path d="M623.5 343.0v5.5M625.5 343.0v4M627.5 343.0v5.5M629.5 343.0v4M631.5 343.0v5.5" stroke="#000" stroke-width="1.5"/><rect x="623.5" y="343.0" width="8" height="2.5" fill="#000"/>
</g>
<g>
<ellipse cx="0" cy="0" rx="13" ry="22" fill="#1010FF" opacity="0.3" transform="translate(150 486) rotate(0)" filter="url(#blo)"/>
<path d="M154 482h0M146 489h0M153 485h0M149 487h0M144 490h0M153 487h0M143 487h0M149 490h0M148 495h0M156 495h0M151 498h0M150 485h0M141 487h0M157 478h0M155 475h0M152 504h0M150 476h0M152 486h0M155 482h0M140 483h0M153 497h0M152 487h0M154 485h0M147 489h0M156 482h0M153 481h0M146 489h0M142 479h0M143 481h0M145 509h0M154 488h0M142 465h0M153 481h0M156 483h0M142 481h0M141 474h0M154 482h0M154 482h0M149 482h0M147 481h0M159 487h0M138 503h0M157 497h0M149 486h0M147 488h0M153 487h0M145 478h0M160 503h0M143 481h0M150 492h0M149 489h0M152 498h0M142 497h0M153 492h0M141 485h0M148 493h0M154 493h0M142 499h0M150 496h0M150 481h0M166 493h0M154 483h0M149 497h0M153 503h0M157 477h0M141 498h0M154 485h0M148 482h0M161 486h0M142 495h0M149 490h0M148 487h0M139 492h0M146 484h0M152 499h0M137 486h0M153 496h0M144 490h0M152 496h0M146 485h0M147 497h0M156 483h0M149 489h0M145 486h0M155 494h0M146 481h0M149 474h0M152 488h0M142 485h0M146 485h0M145 500h0M144 494h0M151 500h0M150 487h0M150 470h0M164 485h0M148 477h0M149 502h0M145 491h0M156 496h0M147 471h0M152 492h0M148 483h0M160 473h0M147 482h0M141 481h0M145 498h0M139 475h0M151 473h0M138 481h0M143 478h0M149 491h0M146 485h0M154 486h0M154 482h0M153 499h0M142 514h0M148 484h0M149 491h0M143 487h0M146 500h0M140 493h0M148 480h0M151 485h0M150 489h0M157 483h0M160 463h0M161 498h0M159 489h0M152 478h0M158 477h0M145 487h0M151 490h0M143 484h0M153 498h0M154 491h0M148 482h0M147 486h0M153 483h0M162 478h0M155 485h0M149 484h0M159 484h0M153 488h0M154 492h0M160 481h0M145 502h0M158 488h0M148 489h0M158 480h0M159 487h0M148 484h0M137 490h0M142 482h0M145 489h0M154 487h0M151 491h0M159 492h0M159 487h0M152 481h0M153 479h0M153 481h0M148 498h0M151 494h0M148 470h0M159 486h0M146 496h0M143 480h0M157 481h0M157 484h0M149 488h0M147 497h0M156 488h0M154 492h0M160 473h0M156 495h0M148 487h0M148 498h0M143 493h0M158 492h0M147 483h0M137 478h0M156 479h0M140 485h0M141 491h0M145 496h0M149 474h0M145 481h0M145 498h0M144 490h0M146 492h0M141 473h0M153 500h0M142 484h0M147 479h0M156 488h0M142 485h0M158 481h0M147 480h0M151 482h0M155 480h0M141 491h0M131 479h0M152 489h0M146 483h0M153 521h0M145 486h0M147 492h0M150 492h0M160 485h0M148 491h0M162 484h0M160 498h0M134 478h0M144 491h0M158 488h0M151 507h0M152 506h0M145 502h0M147 465h0M145 483h0M150 494h0M154 492h0M145 503h0M157 487h0M146 487h0M149 481h0M150 481h0M154 481h0M153 490h0M151 492h0M144 510h0M146 494h0M150 483h0M160 497h0M148 492h0M154 501h0M156 486h0M148 477h0M151 495h0M148 493h0M151 483h0M143 497h0M165 492h0M143 478h0M151 493h0M159 465h0M161 489h0M151 491h0M148 485h0M156 472h0M149 492h0M140 486h0M159 490h0M154 493h0M151 490h0M145 485h0M161 476h0M149 476h0M147 480h0M143 489h0M144 492h0M161 464h0M149 468h0M149 491h0M151 498h0M151 472h0M159 479h0M149 490h0M145 488h0M159 472h0M140 483h0M149 476h0M136 495h0M152 475h0M153 487h0M151 475h0M149 491h0M139 478h0M156 505h0M154 486h0M143 483h0M148 491h0M148 510h0M158 467h0M143 487h0M156 491h0M133 472h0M158 492h0M165 494h0M153 501h0M147 482h0M144 489h0M153 496h0M159 493h0M157 485h0M144 494h0M156 499h0M149 483h0M148 490h0M150 485h0M152 484h0M152 482h0M141 484h0M161 480h0M155 499h0M147 489h0M136 492h0M159 489h0M138 482h0M146 488h0M152 483h0M148 480h0M153 489h0M152 483h0M153 484h0M152 486h0M146 477h0M139 475h0M153 517h0M140 480h0M150 520h0M149 476h0M153 506h0M133 476h0M157 476h0M149 481h0M155 474h0M152 489h0M153 491h0M151 471h0M148 478h0M153 485h0M151 497h0M149 502h0M155 473h0M146 498h0M147 498h0M147 486h0M156 473h0M150 483h0M151 503h0M153 475h0M156 483h0M151 498h0M148 496h0M151 479h0M148 475h0M157 489h0M156 477h0M155 476h0M152 487h0M146 490h0M150 479h0M146 475h0M158 488h0M148 493h0M145 476h0M152 502h0M152 488h0M160 473h0M168 477h0M150 475h0M143 485h0M165 478h0M146 489h0M144 485h0M155 467h0M148 484h0M147 486h0M139 483h0M147 478h0M158 505h0M155 479h0M159 492h0M145 493h0M147 492h0M156 498h0M144 486h0M150 476h0M152 493h0M142 482h0M143 475h0M144 500h0M146 483h0M156 496h0M158 468h0M155 471h0M146 483h0M147 505h0M149 498h0M149 486h0M153 491h0M153 471h0M153 490h0M154 487h0M152 475h0M157 476h0M158 496h0M150 484h0M155 484h0M143 490h0M143 483h0M161 494h0M147 486h0M146 487h0M141 493h0M150 481h0M146 511h0M147 483h0M147 482h0M158 493h0M153 490h0M143 465h0M159 494h0M151 490h0M151 487h0M148 466h0M153 487h0M156 490h0M148 493h0M151 483h0M148 483h0M148 483h0M156 514h0M149 497h0M138 457h0M147 486h0M146 474h0M145 482h0M151 484h0M143 484h0M159 479h0M150 496h0M145 482h0M167 498h0M147 488h0M151 488h0M153 484h0M137 478h0M151 474h0M148 501h0M151 481h0M151 497h0M140 475h0M146 483h0M149 482h0M151 488h0M143 481h0M143 490h0M152 493h0M145 482h0M137 487h0M140 490h0M156 491h0M154 489h0M152 496h0M158 506h0M148 495h0M155 491h0M152 475h0M157 479h0M146 479h0M153 478h0M153 492h0M151 484h0M154 499h0M147 477h0M146 479h0M149 486h0M136 500h0M145 483h0M138 469h0M144 489h0M155 470h0M151 501h0M148 495h0M152 478h0M156 481h0M152 483h0M149 488h0M158 471h0M143 488h0M156 485h0M149 492h0M159 479h0M140 484h0M155 475h0M157 496h0M155 479h0M142 493h0M152 493h0M142 460h0M157 496h0M148 487h0M153 494h0M149 482h0M144 496h0M151 456h0M152 482h0M142 482h0M142 483h0M147 492h0M144 470h0M146 474h0M154 485h0M140 479h0M150 487h0M139 486h0M152 496h0M157 486h0M142 484h0M154 479h0M158 478h0M143 495h0M149 490h0M148 487h0M146 504h0M154 486h0M153 495h0M147 489h0M151 482h0M145 485h0M148 483h0M138 488h0M154 488h0M160 495h0M148 481h0M153 484h0M140 488h0M148 485h0M154 489h0M162 480h0M149 490h0M147 482h0M160 474h0M152 471h0M152 469h0M143 497h0M159 488h0M134 496h0M151 477h0M148 475h0M149 486h0M151 494h0M146 467h0M143 475h0M148 483h0M150 500h0M150 477h0M148 479h0M149 492h0M143 493h0M161 501h0M160 488h0M142 505h0M150 489h0M148 478h0M154 474h0M142 492h0M148 479h0M153 500h0M148 486h0M153 496h0M156 493h0M146 492h0M150 471h0M157 492h0M158 486h0M154 486h0M151 495h0M150 493h0M150 498h0M154 472h0M160 491h0M147 481h0M162 488h0M153 492h0M146 503h0M163 480h0M157 472h0M148 488h0M150 492h0M152 490h0M149 490h0M147 505h0M150 498h0M151 486h0M149 475h0M162 491h0M151 483h0M158 484h0M147 482h0M159 490h0M149 481h0M158 490h0M148 495h0M155 478h0M157 497h0M149 475h0M157 484h0M149 484h0M148 495h0M144 492h0M157 497h0M154 489h0M149 486h0M145 502h0M149 478h0M155 501h0M152 484h0M143 493h0M149 481h0M154 475h0M154 465h0M146 474h0M149 494h0M142 499h0M146 483h0M156 480h0M159 485h0M149 478h0M157 486h0M147 478h0M146 486h0M146 494h0M150 481h0M153 500h0M138 490h0M156 488h0" stroke="#0000FF" stroke-width="1.4" stroke-linecap="square"/>
<path d="M158 453h0M143 478h0M149 469h0M156 472h0M155 463h0M147 480h0M145 454h0M147 477h0M168 469h0M144 474h0M153 479h0M155 475h0M155 472h0M141 466h0M166 481h0M160 472h0M149 471h0M147 478h0M147 461h0M134 483h0M143 460h0M154 485h0M157 465h0M156 460h0M148 468h0M150 475h0M155 486h0M158 465h0M153 460h0M144 465h0" stroke="#0000FF" stroke-width="1.4" stroke-linecap="square"/>
<g transform="translate(148 490) rotate(0)" filter="url(#bl)"><ellipse cx="0.0" cy="0.0" rx="8.5" ry="17.0" fill="#0000FF"/><ellipse cx="0.0" cy="0.9" rx="7.7" ry="15.3" fill="#0070FF"/><ellipse cx="0.0" cy="1.5" rx="7.1" ry="14.3" fill="#00E0FF"/><ellipse cx="0.0" cy="2.4" rx="6.3" ry="12.6" fill="#20FF60"/><ellipse cx="0.0" cy="4.0" rx="4.8" ry="9.7" fill="#C8FF00"/><ellipse cx="0.0" cy="5.4" rx="3.6" ry="7.1" fill="#FFD000"/><ellipse cx="0.0" cy="6.9" rx="2.2" ry="4.4" fill="#FF2000"/></g>
<path d="M133 448h0M138 444h0M146 439h0M150 444h0M158 440h0M164 443h0M142 455h0M152 452h0M155 452h0M177 460h0M183 462h0M185 478h0M186 485h0M199 490h0M212 486h0M214 492h0M193 503h0M216 417h0" stroke="#0000FF" stroke-width="1.6" stroke-linecap="square"/>
<polygon points="172.4,465.5 230.1,394.3 259.7,395.4 261.0,423.4 181.6,478.7" fill="none" stroke="#1a1a1a" stroke-width="1.3" stroke-linejoin="miter"/>
<text x="237.10" y="421.60" font-size="12.5" text-anchor="middle" font-weight="normal">0.24</text>
<rect x="92.3" y="365.7" width="190.4" height="194.4" fill="none" stroke="#333" stroke-width="1.1"/>
<path d="M86.8 366.1h5.5 M86.8 398.2h5.5 M86.8 431.4h5.5 M86.8 471.6h5.5 M86.8 510.5h5.5 M86.8 550.2h5.5 M89.8 388.5h2.5 M89.8 382.9h2.5 M89.8 378.9h2.5 M89.8 375.7h2.5 M89.8 373.2h2.5 M89.8 371.1h2.5 M89.8 369.2h2.5 M89.8 367.6h2.5 M89.8 421.4h2.5 M89.8 415.5h2.5 M89.8 411.4h2.5 M89.8 408.2h2.5 M89.8 405.5h2.5 M89.8 403.3h2.5 M89.8 401.4h2.5 M89.8 399.7h2.5 M89.8 459.5h2.5 M89.8 452.4h2.5 M89.8 447.4h2.5 M89.8 443.5h2.5 M89.8 440.3h2.5 M89.8 437.6h2.5 M89.8 435.3h2.5 M89.8 433.2h2.5 M89.8 479.4h2.5 M89.8 487.2h2.5 M89.8 495.0h2.5 M89.8 502.8h2.5 M89.8 518.5h2.5 M89.8 526.4h2.5 M89.8 534.3h2.5 M89.8 542.3h2.5" stroke="#111" stroke-width="1" fill="none"/>
<path d="M86.8 505.5h5.5M88.3 508.0h4M86.8 510.5h5.5M88.3 513.0h4M86.8 515.5h5.5" stroke="#000" stroke-width="1.6"/><rect x="89.8" y="505.5" width="2.5" height="10" fill="#000"/>
<path d="M101.2 560.1v5.5 M143.7 560.1v5.5 M185.6 560.1v5.5 M228.6 560.1v5.5 M264.8 560.1v5.5 M281.4 560.1v5.5 M109.7 560.1v2.5 M118.2 560.1v2.5 M126.7 560.1v2.5 M135.2 560.1v2.5 M152.1 560.1v2.5 M160.5 560.1v2.5 M168.8 560.1v2.5 M177.2 560.1v2.5 M198.5 560.1v2.5 M206.1 560.1v2.5 M211.5 560.1v2.5 M215.7 560.1v2.5 M219.1 560.1v2.5 M222.0 560.1v2.5 M224.5 560.1v2.5 M226.7 560.1v2.5 M239.5 560.1v2.5 M245.9 560.1v2.5 M250.4 560.1v2.5 M253.9 560.1v2.5 M256.8 560.1v2.5 M259.2 560.1v2.5 M261.3 560.1v2.5 M263.1 560.1v2.5 M269.8 560.1v2.5 M272.7 560.1v2.5 M274.8 560.1v2.5 M276.4 560.1v2.5 M277.7 560.1v2.5 M278.8 560.1v2.5 M279.8 560.1v2.5 M280.6 560.1v2.5" stroke="#111" stroke-width="1" fill="none"/>
<path d="M139.7 560.1v5.5M141.7 560.1v4M143.7 560.1v5.5M145.7 560.1v4M147.7 560.1v5.5" stroke="#000" stroke-width="1.5"/><rect x="139.7" y="560.1" width="8" height="2.5" fill="#000"/>
</g>
<g>
<ellipse cx="0" cy="0" rx="20" ry="28" fill="#1010FF" opacity="0.25" transform="translate(390 480) rotate(0)" filter="url(#blo)"/>
<path d="M402 479h0M380 476h0M383 485h0M391 474h0M387 482h0M396 494h0M404 484h0M398 488h0M384 480h0M411 485h0M407 496h0M407 485h0M401 484h0M384 474h0M397 469h0M396 477h0M396 471h0M400 484h0M381 471h0M394 468h0M396 493h0M388 503h0M405 491h0M397 492h0M391 502h0M389 459h0M393 492h0M400 475h0M405 478h0M399 495h0M395 500h0M389 510h0M397 482h0M415 487h0M380 503h0M406 480h0M385 500h0M394 476h0M389 488h0M401 505h0M388 504h0M381 495h0M392 492h0M390 479h0M396 500h0M375 488h0M390 475h0M382 493h0M398 494h0M377 470h0M388 482h0M408 483h0M394 498h0M407 491h0M396 509h0M390 467h0M387 483h0M404 491h0M403 488h0M394 480h0M383 493h0M396 494h0M389 482h0M396 494h0M410 477h0M401 497h0M391 489h0M393 504h0M414 491h0M391 498h0M397 485h0M400 497h0M390 497h0M375 472h0M391 489h0M381 504h0M390 489h0M393 496h0M389 495h0M387 470h0M398 489h0M401 465h0M394 480h0M392 483h0M390 479h0M402 467h0M380 491h0M410 478h0M386 474h0M385 501h0M399 497h0M396 490h0M389 476h0M398 515h0M390 501h0M388 487h0M407 486h0M399 481h0M409 473h0M398 484h0M395 491h0M404 497h0M402 491h0M385 502h0M406 493h0M400 484h0M382 498h0M387 509h0M399 487h0M388 488h0M385 483h0M406 484h0M408 486h0M397 476h0M391 482h0M382 509h0M398 486h0M384 487h0M385 476h0M392 512h0M379 493h0M389 454h0M382 485h0M394 478h0M408 493h0M388 468h0M395 479h0M402 475h0M403 482h0M395 484h0M398 500h0M389 477h0M409 498h0M409 498h0M394 506h0M388 482h0M390 495h0M386 485h0M386 484h0M403 500h0M391 516h0M388 492h0M389 462h0M384 501h0M380 520h0M392 490h0M404 487h0M388 480h0M386 493h0M389 493h0M381 482h0M410 491h0M392 501h0M396 505h0M384 496h0M385 495h0M414 505h0M386 492h0M397 479h0M395 475h0M401 497h0M392 495h0M413 485h0M378 491h0M390 478h0M401 499h0M398 506h0M388 482h0M397 456h0M371 491h0M391 488h0M385 490h0M402 480h0M398 485h0M392 488h0M406 493h0M399 489h0M375 498h0M393 488h0M389 469h0M406 508h0M406 466h0M398 473h0M392 481h0M388 478h0M389 496h0M407 498h0M393 485h0M391 487h0M388 485h0M400 484h0M386 486h0M394 486h0M391 495h0M393 475h0M398 479h0M400 496h0M397 491h0M382 485h0M394 494h0M384 485h0M380 489h0M394 488h0M407 495h0M392 480h0M389 496h0M401 481h0M392 482h0M399 489h0M387 477h0M404 471h0M378 452h0M410 481h0M400 493h0M400 500h0M389 487h0M401 493h0M387 478h0M381 490h0M389 469h0M389 491h0M395 484h0M395 495h0M383 478h0M401 495h0M381 479h0M405 496h0M392 499h0M405 503h0M382 472h0M389 486h0M390 490h0M406 500h0M401 487h0M407 492h0M395 487h0M378 512h0M393 497h0M412 485h0M383 499h0M395 476h0M401 487h0M385 458h0M385 491h0M384 498h0M412 491h0M395 486h0M400 487h0M402 503h0M400 476h0M399 484h0M396 498h0M388 489h0M405 477h0M392 495h0M391 499h0M385 470h0M396 485h0M396 498h0M402 483h0M390 465h0M385 490h0M395 470h0M400 487h0M402 483h0M401 474h0M378 478h0M399 492h0M377 489h0M399 506h0M400 493h0M380 491h0M377 484h0M390 476h0M385 485h0M398 480h0M396 495h0M393 509h0M391 479h0M377 499h0M399 485h0M396 486h0M400 487h0M395 486h0M386 462h0M398 473h0M396 494h0M409 479h0M394 498h0M388 480h0M397 511h0M402 498h0M385 495h0M403 473h0M393 485h0M399 467h0M399 487h0M391 463h0M376 481h0M399 492h0M399 468h0M395 502h0M380 494h0M387 493h0M394 469h0M384 501h0M392 501h0M396 497h0M390 490h0M390 497h0M388 500h0M406 473h0M392 493h0M408 500h0M394 467h0M400 480h0M395 492h0M381 499h0M401 494h0M398 491h0M381 481h0M400 483h0M393 491h0M394 490h0M397 487h0M384 484h0M401 479h0M397 491h0M386 455h0M393 478h0M388 498h0M387 491h0M394 489h0M410 465h0M401 485h0M391 479h0M393 488h0M385 506h0M387 485h0M382 489h0M396 499h0M401 481h0M407 486h0M406 506h0M390 475h0M398 503h0M396 499h0M398 497h0M404 484h0M381 486h0M386 474h0M392 495h0M378 470h0M400 477h0M390 502h0M403 491h0M398 456h0M398 491h0M381 489h0M397 486h0M400 497h0M394 484h0M383 500h0M388 491h0M406 496h0M382 486h0M387 468h0M386 494h0M396 485h0M395 474h0M387 485h0M400 483h0M392 491h0M405 473h0M398 489h0M393 490h0M376 487h0M391 473h0M400 486h0M390 496h0M385 479h0M400 497h0M410 482h0M381 470h0M383 488h0M391 479h0M385 479h0M390 500h0M398 502h0M400 496h0M403 492h0M406 500h0M408 489h0M387 515h0M391 493h0M390 479h0M397 474h0M392 503h0M394 496h0M398 491h0M394 494h0M385 494h0M384 478h0M388 472h0M377 491h0M397 494h0M412 489h0M399 479h0M399 474h0M410 476h0M390 495h0M375 502h0M385 489h0M401 489h0M401 481h0M398 462h0M406 480h0M386 487h0M407 479h0M393 483h0M385 472h0M398 495h0M387 490h0M397 491h0M392 488h0M395 475h0M392 496h0M388 502h0M391 475h0M391 472h0M398 469h0M393 484h0M390 492h0M395 481h0M400 482h0M401 502h0M396 497h0M382 493h0M381 485h0M399 457h0M386 478h0M385 487h0M398 474h0M388 466h0M387 463h0M380 492h0M400 478h0M396 478h0M402 507h0M372 477h0M388 482h0M406 505h0M393 494h0M380 484h0M391 485h0M396 469h0M384 511h0M378 488h0M399 493h0M393 469h0M389 469h0M409 491h0M399 489h0M390 500h0M400 494h0M398 495h0M391 492h0M394 484h0M398 511h0M376 503h0M389 501h0M384 485h0M402 486h0M396 473h0M383 506h0M394 486h0M381 475h0M384 486h0M392 480h0M387 488h0M403 471h0M381 500h0M381 482h0M394 508h0M376 454h0M392 499h0M394 478h0M395 464h0M400 504h0M391 496h0M384 504h0M388 478h0M387 467h0M399 510h0M381 485h0M397 481h0M380 491h0M401 488h0M384 484h0M377 486h0M403 500h0M392 492h0M389 488h0M388 489h0M389 489h0M399 487h0M382 493h0M391 481h0M398 478h0M401 493h0M387 479h0M392 477h0M401 461h0M394 483h0M384 494h0M389 492h0M389 484h0M397 498h0M401 487h0M405 483h0M382 466h0M381 477h0M378 491h0M393 487h0M395 486h0M391 483h0M393 474h0M404 504h0M393 513h0M385 497h0M379 494h0M387 498h0M394 498h0M398 493h0M391 505h0M396 492h0M405 484h0M408 499h0M394 471h0M403 483h0M394 488h0M401 494h0M378 480h0M396 489h0M400 493h0M407 479h0M404 491h0M396 495h0M390 495h0M391 495h0M387 500h0M380 480h0M393 490h0M386 482h0M395 499h0M404 482h0M392 483h0M380 482h0M402 472h0M417 498h0M407 489h0M374 492h0M406 480h0M404 496h0M400 496h0M398 494h0M403 492h0M398 492h0M394 477h0M378 476h0M383 470h0M399 483h0M404 522h0M400 482h0M396 485h0M395 511h0M406 502h0M395 507h0M400 497h0M383 480h0M394 485h0M389 464h0M387 486h0M396 475h0M392 508h0M394 465h0M392 487h0M404 489h0M405 491h0M403 502h0M406 489h0M398 532h0M383 489h0M397 479h0M400 485h0M400 489h0M385 499h0M410 498h0M395 467h0M396 487h0M386 465h0M397 498h0M399 513h0M377 491h0M393 503h0M393 476h0M393 492h0M387 478h0M395 497h0M391 493h0M389 483h0M395 498h0M406 486h0M397 510h0M400 483h0M397 471h0M376 478h0M387 472h0M402 482h0M394 488h0M391 474h0M409 464h0M393 495h0M391 486h0M396 490h0M390 499h0M397 504h0M394 464h0M379 481h0M397 468h0M388 501h0M396 479h0M392 488h0M390 483h0M388 490h0M406 504h0M383 514h0M392 471h0M381 489h0M395 480h0M386 485h0M395 495h0M398 460h0M388 490h0M396 496h0M381 505h0M383 485h0M389 482h0M387 496h0M400 491h0M383 480h0M393 492h0M389 484h0M415 488h0M391 459h0M387 506h0M400 473h0M400 489h0M387 496h0M388 484h0M393 489h0M390 490h0M393 489h0M396 480h0M382 486h0M403 491h0M395 479h0M384 473h0M386 483h0M380 486h0M380 495h0M393 467h0M389 490h0M396 496h0M390 485h0M391 493h0M387 485h0M394 483h0M384 503h0M397 477h0M409 478h0M386 483h0M398 504h0M404 493h0M394 495h0M387 479h0M398 489h0M395 475h0M395 471h0M401 487h0M388 482h0M416 523h0M387 503h0M369 500h0M393 490h0M385 472h0M395 482h0M397 499h0M392 493h0M395 490h0M389 490h0M397 488h0M389 470h0M384 505h0M401 490h0M396 485h0M399 498h0M391 491h0M401 469h0M385 481h0M384 482h0M386 483h0M397 474h0M394 503h0M395 473h0M388 500h0M391 480h0M400 479h0M384 494h0M393 480h0" stroke="#0000FF" stroke-width="1.4" stroke-linecap="square"/>
<path d="M397 499h0M406 480h0M397 488h0M369 510h0M381 468h0M378 460h0M406 478h0M382 443h0M393 477h0M375 476h0M364 491h0M373 488h0M392 438h0M374 466h0M402 490h0M399 510h0M386 468h0M363 459h0M398 462h0M378 496h0M355 505h0M409 444h0M397 478h0M403 472h0M389 505h0M382 486h0M399 476h0M403 488h0M402 446h0M375 484h0M407 505h0M391 464h0M375 441h0M383 489h0M389 450h0M389 479h0M380 506h0M397 499h0M392 460h0M406 499h0M382 453h0M402 467h0M374 477h0M398 464h0M391 497h0M401 449h0M401 512h0M404 477h0M396 448h0M382 468h0M420 478h0M376 510h0M408 447h0M387 446h0M405 435h0M417 458h0M375 519h0M398 485h0M403 459h0M403 473h0" stroke="#0000FF" stroke-width="1.4" stroke-linecap="square"/>
<g transform="translate(392 489) rotate(0)" filter="url(#bl)"><ellipse cx="0.0" cy="0.0" rx="11.0" ry="19.0" fill="#0000FF"/><ellipse cx="0.0" cy="0.9" rx="9.9" ry="17.1" fill="#0070FF"/><ellipse cx="0.0" cy="1.5" rx="9.2" ry="16.0" fill="#00E0FF"/><ellipse cx="0.0" cy="2.5" rx="8.1" ry="14.1" fill="#20FF60"/><ellipse cx="0.0" cy="4.1" rx="6.3" ry="10.8" fill="#C8FF00"/><ellipse cx="0.0" cy="5.5" rx="4.6" ry="8.0" fill="#FFD000"/><ellipse cx="0.0" cy="7.0" rx="2.9" ry="4.9" fill="#FF2000"/></g>
<path d="M385 433h0M394 437h0M409 438h0M399 444h0M401 452h0M393 452h0M361 465h0M366 477h0M419 478h0M417 490h0M415 491h0M364 503h0M373 511h0M410 509h0" stroke="#0000FF" stroke-width="1.6" stroke-linecap="square"/>
<polygon points="420.0,466.0 462.5,408.9 497.6,404.3 501.5,432.3 428.9,484.1" fill="none" stroke="#1a1a1a" stroke-width="1.3" stroke-linejoin="miter"/>
<text x="460.60" y="447.90" font-size="12.5" text-anchor="middle" font-weight="normal">0.048</text>
<rect x="339.3" y="365.7" width="190.0" height="194.4" fill="none" stroke="#333" stroke-width="1.1"/>
<path d="M333.8 366.1h5.5 M333.8 398.2h5.5 M333.8 431.4h5.5 M333.8 471.6h5.5 M333.8 510.5h5.5 M333.8 550.2h5.5 M336.8 388.5h2.5 M336.8 382.9h2.5 M336.8 378.9h2.5 M336.8 375.7h2.5 M336.8 373.2h2.5 M336.8 371.1h2.5 M336.8 369.2h2.5 M336.8 367.6h2.5 M336.8 421.4h2.5 M336.8 415.5h2.5 M336.8 411.4h2.5 M336.8 408.2h2.5 M336.8 405.5h2.5 M336.8 403.3h2.5 M336.8 401.4h2.5 M336.8 399.7h2.5 M336.8 459.5h2.5 M336.8 452.4h2.5 M336.8 447.4h2.5 M336.8 443.5h2.5 M336.8 440.3h2.5 M336.8 437.6h2.5 M336.8 435.3h2.5 M336.8 433.2h2.5 M336.8 479.4h2.5 M336.8 487.2h2.5 M336.8 495.0h2.5 M336.8 502.8h2.5 M336.8 518.5h2.5 M336.8 526.4h2.5 M336.8 534.3h2.5 M336.8 542.3h2.5" stroke="#111" stroke-width="1" fill="none"/>
<path d="M333.8 505.5h5.5M335.3 508.0h4M333.8 510.5h5.5M335.3 513.0h4M333.8 515.5h5.5" stroke="#000" stroke-width="1.6"/><rect x="336.8" y="505.5" width="2.5" height="10" fill="#000"/>
<path d="M348.2 560.1v5.5 M390.6 560.1v5.5 M432.4 560.1v5.5 M475.3 560.1v5.5 M511.4 560.1v5.5 M528.0 560.1v5.5 M356.7 560.1v2.5 M365.2 560.1v2.5 M373.7 560.1v2.5 M382.1 560.1v2.5 M399.0 560.1v2.5 M407.3 560.1v2.5 M415.7 560.1v2.5 M424.0 560.1v2.5 M445.3 560.1v2.5 M452.9 560.1v2.5 M458.3 560.1v2.5 M462.4 560.1v2.5 M465.8 560.1v2.5 M468.7 560.1v2.5 M471.2 560.1v2.5 M473.4 560.1v2.5 M486.2 560.1v2.5 M492.6 560.1v2.5 M497.1 560.1v2.5 M500.6 560.1v2.5 M503.4 560.1v2.5 M505.8 560.1v2.5 M507.9 560.1v2.5 M509.8 560.1v2.5 M516.4 560.1v2.5 M519.3 560.1v2.5 M521.4 560.1v2.5 M523.0 560.1v2.5 M524.3 560.1v2.5 M525.4 560.1v2.5 M526.4 560.1v2.5 M527.2 560.1v2.5" stroke="#111" stroke-width="1" fill="none"/>
<path d="M386.6 560.1v5.5M388.6 560.1v4M390.6 560.1v5.5M392.6 560.1v4M394.6 560.1v5.5" stroke="#000" stroke-width="1.5"/><rect x="386.6" y="560.1" width="8" height="2.5" fill="#000"/>
</g>
<g>
<ellipse cx="0" cy="0" rx="29" ry="22" fill="#1010FF" opacity="0.25" transform="translate(638 484) rotate(0)" filter="url(#blo)"/>
<path d="M646 492h0M657 478h0M622 496h0M669 495h0M637 496h0M624 491h0M618 491h0M648 505h0M633 499h0M656 481h0M636 473h0M628 494h0M614 487h0M648 503h0M608 494h0M632 469h0M627 495h0M639 496h0M636 496h0M627 481h0M637 474h0M655 488h0M627 482h0M627 491h0M635 498h0M625 489h0M621 486h0M656 489h0M650 490h0M626 482h0M625 493h0M642 517h0M660 498h0M627 491h0M628 511h0M630 501h0M622 497h0M624 486h0M641 491h0M639 490h0M629 489h0M638 482h0M646 492h0M630 502h0M632 473h0M655 487h0M657 494h0M628 500h0M645 499h0M640 504h0M651 487h0M621 490h0M640 481h0M637 504h0M633 500h0M628 481h0M651 489h0M642 499h0M659 479h0M646 492h0M641 506h0M636 485h0M645 472h0M644 482h0M643 483h0M646 488h0M630 495h0M648 475h0M623 488h0M634 502h0M659 494h0M653 487h0M622 493h0M617 505h0M642 501h0M631 475h0M637 495h0M637 485h0M640 488h0M656 478h0M612 489h0M643 476h0M639 494h0M643 493h0M630 477h0M651 487h0M622 504h0M648 464h0M671 491h0M619 499h0M643 501h0M639 475h0M637 486h0M643 488h0M646 479h0M632 485h0M644 474h0M639 512h0M617 500h0M640 499h0M640 492h0M644 494h0M624 489h0M662 503h0M629 481h0M637 500h0M651 485h0M610 490h0M618 501h0M658 496h0M647 495h0M662 500h0M657 480h0M633 490h0M611 487h0M639 489h0M671 488h0M637 489h0M635 477h0M653 490h0M644 490h0M629 475h0M636 495h0M638 497h0M629 487h0M641 489h0M641 503h0M634 491h0M631 495h0M642 483h0M627 479h0M636 491h0M633 489h0M641 512h0M654 511h0M641 492h0M663 494h0M647 485h0M632 497h0M632 484h0M620 493h0M638 495h0M628 479h0M653 490h0M649 480h0M623 467h0M643 499h0M656 506h0M616 480h0M632 483h0M636 483h0M621 490h0M641 483h0M639 478h0M635 487h0M633 489h0M623 478h0M629 497h0M627 481h0M664 488h0M634 482h0M657 495h0M642 505h0M624 475h0M653 494h0M633 497h0M638 508h0M623 493h0M651 498h0M635 486h0M634 496h0M634 489h0M652 489h0M642 489h0M639 470h0M627 493h0M631 484h0M640 511h0M630 481h0M617 494h0M638 482h0M634 499h0M652 493h0M653 499h0M633 497h0M641 497h0M642 510h0M623 493h0M625 511h0M633 487h0M639 490h0M660 490h0M642 500h0M658 481h0M643 478h0M645 503h0M632 487h0M654 494h0M649 486h0M635 487h0M659 476h0M633 504h0M638 480h0M642 488h0M637 495h0M649 476h0M641 504h0M622 489h0M624 496h0M628 487h0M634 494h0M623 477h0M641 503h0M633 494h0M642 491h0M639 485h0M636 501h0M645 502h0M630 491h0M631 478h0M650 487h0M642 477h0M636 489h0M634 499h0M645 491h0M642 486h0M630 487h0M626 488h0M638 500h0M634 513h0M632 491h0M639 484h0M638 474h0M653 485h0M639 473h0M646 478h0M656 480h0M630 496h0M655 472h0M618 505h0M644 476h0M633 496h0M634 504h0M630 492h0M653 504h0M642 495h0M635 489h0M632 494h0M649 481h0M624 490h0M664 492h0M641 490h0M618 483h0M658 470h0M661 479h0M664 514h0M658 489h0M646 485h0M633 492h0M600 495h0M635 480h0M635 496h0M629 493h0M622 491h0M625 497h0M626 496h0M614 492h0M653 482h0M640 482h0M645 497h0M653 502h0M655 483h0M640 495h0M641 478h0M664 514h0M640 466h0M662 488h0M667 480h0M645 497h0M621 487h0M645 496h0M644 465h0M609 493h0M659 476h0M644 499h0M627 475h0M642 486h0M638 488h0M637 493h0M632 490h0M632 482h0M643 482h0M646 490h0M652 496h0M614 490h0M647 491h0M639 500h0M647 477h0M640 499h0M641 478h0M649 496h0M653 492h0M640 498h0M625 506h0M644 492h0M648 497h0M611 499h0M638 483h0M650 499h0M644 484h0M640 481h0M670 484h0M650 505h0M628 485h0M611 488h0M622 491h0M636 490h0M639 486h0M640 489h0M630 487h0M632 478h0M639 472h0M645 490h0M641 501h0M651 486h0M643 501h0M637 494h0M644 480h0M642 486h0M636 494h0M647 481h0M636 488h0M627 493h0M636 483h0M651 489h0M624 489h0M637 493h0M667 495h0M657 488h0M645 495h0M638 492h0M633 496h0M628 506h0M593 477h0M637 493h0M641 475h0M644 482h0M641 486h0M635 476h0M623 485h0M626 492h0M621 492h0M646 483h0M627 487h0M649 503h0M666 491h0M647 492h0M639 480h0M634 500h0M656 484h0M619 508h0M639 494h0M637 473h0M643 481h0M635 484h0M636 513h0M658 472h0M620 485h0M631 497h0M658 483h0M646 488h0M614 501h0M661 482h0M647 485h0M638 486h0M637 490h0M631 493h0M623 498h0M627 472h0M649 487h0M632 499h0M638 508h0M644 476h0M633 484h0M635 506h0M673 506h0M644 495h0M641 469h0M656 509h0M632 490h0M630 488h0M628 479h0M654 472h0M652 479h0M636 471h0M647 481h0M670 481h0M642 496h0M627 482h0M626 495h0M643 500h0M621 481h0M637 486h0M643 501h0M640 482h0M638 483h0M631 507h0M647 507h0M636 489h0M623 492h0M648 496h0M624 491h0M650 486h0M648 485h0M639 484h0M620 482h0M641 487h0M639 485h0M650 488h0M644 485h0M655 489h0M644 511h0M644 475h0M631 493h0M622 476h0M637 475h0M652 494h0M635 501h0M630 479h0M650 490h0M636 500h0M637 496h0M642 501h0M646 486h0M658 487h0M660 478h0M640 469h0M645 503h0M634 494h0M636 504h0M643 493h0M653 476h0M648 491h0M655 490h0M646 489h0M627 485h0M637 477h0M638 486h0M662 488h0M640 491h0M648 475h0M617 505h0M628 482h0M653 493h0M629 497h0M625 505h0M635 493h0M639 508h0M627 489h0M666 471h0M633 493h0M636 494h0M653 479h0M631 502h0M663 465h0M646 499h0M631 482h0M625 488h0M625 497h0M630 495h0M619 498h0M647 499h0M642 512h0M651 490h0M659 487h0M641 505h0M633 490h0M642 492h0M636 500h0M666 486h0M621 486h0M622 478h0M626 500h0M641 497h0M638 500h0M634 502h0M650 492h0M621 480h0M642 480h0M637 488h0M656 484h0M641 486h0M630 494h0M651 477h0M658 511h0M641 495h0M626 486h0M643 489h0M656 482h0M636 495h0M638 488h0M638 494h0M615 514h0M648 480h0M628 479h0M644 473h0M670 485h0M622 509h0M639 495h0M637 488h0M665 472h0M642 483h0M635 489h0M616 496h0M642 495h0M632 497h0M633 497h0M656 496h0M621 491h0M626 508h0M642 478h0M620 502h0M627 494h0M635 489h0M634 490h0M659 482h0M645 495h0M631 480h0M628 495h0M641 500h0M644 491h0M639 492h0M640 496h0M628 500h0M659 489h0M646 479h0M640 477h0M651 490h0M652 501h0M630 498h0M658 511h0M638 495h0M631 496h0M647 504h0M637 491h0M645 488h0M665 469h0M618 485h0M648 490h0M644 476h0M646 495h0M659 498h0M631 483h0M625 486h0M638 502h0M660 491h0M647 488h0M623 495h0M630 475h0M629 504h0M625 503h0M622 489h0M645 486h0M627 490h0M660 496h0M642 495h0M654 502h0M636 482h0M627 491h0M635 490h0M631 513h0M630 503h0M628 483h0M624 480h0M619 482h0M636 497h0M617 494h0M638 490h0M612 495h0M647 501h0M635 502h0M640 482h0M646 499h0M642 490h0M636 496h0M616 493h0M623 485h0M642 502h0M639 481h0M673 493h0M605 489h0M630 484h0M652 510h0M640 478h0M650 491h0M634 492h0M625 492h0M644 501h0M664 484h0M644 483h0M641 501h0M647 487h0M662 498h0M655 491h0M656 489h0M650 490h0M639 476h0M651 495h0M631 491h0M647 496h0M613 504h0M626 508h0M653 491h0M642 493h0M634 504h0M631 485h0M636 475h0M652 479h0M658 499h0M665 485h0M635 486h0M649 482h0M635 469h0M640 492h0M664 482h0M651 495h0M650 480h0M595 486h0M651 492h0M657 510h0M630 486h0M659 475h0M607 493h0M643 504h0M648 490h0M632 473h0M646 484h0M634 493h0M613 489h0M631 509h0M638 501h0M627 475h0M650 487h0M622 500h0M646 474h0M636 509h0M641 477h0M628 503h0M658 497h0M620 498h0M629 485h0M633 500h0M646 496h0M633 485h0M653 484h0M636 495h0M637 499h0M646 496h0M669 485h0M666 478h0M629 466h0M630 482h0M648 502h0M669 485h0M653 488h0M615 450h0M635 472h0M650 481h0M648 484h0M645 481h0M644 507h0M644 477h0M629 491h0M650 478h0M627 475h0M662 493h0M643 486h0M664 496h0M638 502h0M647 487h0M634 490h0M657 476h0M618 497h0M653 504h0M647 476h0M650 492h0M626 475h0M619 491h0M622 493h0M637 496h0M650 481h0M634 497h0M631 500h0M647 499h0M631 498h0M636 492h0M647 485h0M639 467h0M630 496h0M625 470h0M621 487h0M648 495h0M621 494h0M623 501h0M644 484h0M633 489h0M632 501h0M643 485h0M645 477h0M641 487h0M632 489h0M642 476h0M644 519h0M649 484h0M644 506h0M625 506h0M635 508h0M629 500h0M632 502h0M651 493h0M628 500h0M644 480h0M646 488h0M638 480h0M642 498h0M628 498h0M616 491h0M642 481h0M641 477h0M663 494h0M653 481h0M611 489h0M656 488h0M654 494h0M643 500h0M632 486h0M653 494h0M632 480h0M658 459h0M651 489h0M623 494h0M645 512h0M643 466h0M627 497h0M633 489h0M638 504h0M643 488h0M631 500h0M630 494h0M644 497h0M649 493h0M664 498h0M630 481h0M630 503h0M625 505h0M644 484h0M627 489h0M648 489h0M648 492h0M656 485h0M637 479h0M635 480h0M620 488h0M647 468h0M623 476h0M644 495h0M643 488h0M630 492h0M628 488h0M644 488h0M654 469h0M620 500h0M632 485h0M632 489h0M637 493h0M650 508h0M613 489h0M628 492h0M627 491h0M642 490h0M642 496h0M626 490h0M652 499h0M651 482h0M631 499h0M639 493h0M635 499h0M641 480h0M644 487h0M636 495h0M641 484h0M625 486h0M637 478h0M631 512h0M631 491h0M624 487h0M642 492h0M618 490h0M627 501h0M638 505h0M643 479h0M651 485h0M638 491h0M623 501h0M641 480h0M622 494h0M654 494h0M643 486h0M652 495h0M629 484h0M613 501h0M676 489h0M644 497h0M636 511h0M627 482h0M659 499h0M648 489h0M638 491h0M644 484h0M652 507h0M633 481h0M641 514h0M627 503h0M631 483h0M652 488h0M639 497h0M653 492h0M658 484h0M633 497h0M647 473h0M635 497h0M637 507h0M620 492h0M629 475h0M636 489h0M634 484h0M650 480h0M631 477h0M653 476h0M660 481h0M638 506h0M626 503h0M623 486h0M646 493h0M643 493h0M658 475h0M631 498h0M621 483h0M669 503h0M645 491h0M637 482h0M628 481h0M623 491h0M644 481h0M641 477h0M644 487h0M638 492h0M655 492h0M631 492h0M644 495h0M652 482h0M624 496h0M625 494h0M672 502h0M621 482h0M644 487h0M648 492h0M643 495h0M620 501h0M622 482h0M609 490h0M644 487h0M624 469h0M646 479h0M635 492h0M638 494h0M659 497h0M627 490h0M636 482h0M647 486h0M642 496h0M665 484h0M648 511h0M659 493h0M630 492h0M631 486h0M618 487h0M614 500h0M645 486h0M639 491h0M636 493h0M637 495h0M629 491h0M660 482h0M629 499h0M643 492h0M641 486h0M633 495h0M641 496h0M645 512h0M640 504h0M641 512h0M651 483h0M659 485h0M652 483h0M644 492h0M657 470h0M615 500h0M648 485h0M640 474h0M634 484h0M650 493h0M637 501h0M631 498h0M636 495h0M635 504h0M634 510h0M649 482h0M634 503h0M657 479h0M641 496h0M669 497h0M637 499h0M640 482h0M639 488h0M636 491h0M644 483h0M648 475h0M647 495h0M644 476h0M633 492h0M645 498h0M620 491h0M653 479h0M624 486h0M636 488h0M655 493h0M615 498h0M640 499h0M639 504h0M641 486h0M624 499h0M637 474h0M650 503h0M613 496h0M647 507h0M654 483h0M645 498h0M621 504h0M645 499h0M628 499h0M639 488h0M640 494h0M620 491h0M644 475h0M660 515h0M648 491h0M626 480h0M624 499h0M628 492h0M634 499h0M655 499h0M647 501h0M660 482h0M642 484h0M640 489h0M641 498h0M623 466h0M643 501h0M634 505h0M667 491h0M636 496h0M649 476h0M645 471h0M626 493h0" stroke="#0000FF" stroke-width="1.4" stroke-linecap="square"/>
<path d="M646 460h0M641 500h0M609 488h0M665 458h0M663 486h0M634 480h0M639 480h0M636 467h0M658 507h0M636 502h0M625 459h0M652 483h0M649 464h0M633 496h0M671 483h0M648 437h0M628 500h0M677 466h0M592 487h0M615 473h0M629 473h0M622 490h0M646 458h0M610 513h0M651 483h0M608 514h0M620 481h0M646 468h0M642 472h0M601 457h0M628 471h0M648 506h0M635 515h0M632 481h0M636 452h0M639 476h0M624 492h0M648 474h0M623 484h0M625 466h0M630 495h0M634 477h0M634 489h0M637 493h0M637 493h0M634 467h0M648 476h0M631 503h0M630 467h0M633 503h0M614 498h0M650 473h0M633 468h0M601 464h0M613 453h0M631 489h0M622 474h0M625 476h0M647 499h0M651 486h0M666 491h0M649 489h0M655 463h0M623 481h0M606 475h0M633 485h0M653 501h0M594 483h0M646 503h0M627 486h0M636 464h0M644 495h0M633 481h0M660 476h0M633 484h0M648 486h0M663 487h0M616 453h0M637 507h0M640 472h0" stroke="#0000FF" stroke-width="1.4" stroke-linecap="square"/>
<g transform="translate(640 489) rotate(0)" filter="url(#bl)"><ellipse cx="-0.0" cy="0.0" rx="20.0" ry="15.0" fill="#0000FF"/><ellipse cx="-0.4" cy="0.6" rx="18.0" ry="13.5" fill="#0070FF"/><ellipse cx="-0.6" cy="1.0" rx="16.8" ry="12.6" fill="#00E0FF"/><ellipse cx="-1.0" cy="1.6" rx="14.8" ry="11.1" fill="#20FF60"/><ellipse cx="-1.7" cy="2.6" rx="11.4" ry="8.5" fill="#C8FF00"/><ellipse cx="-2.3" cy="3.5" rx="8.4" ry="6.3" fill="#FFD000"/><ellipse cx="-3.0" cy="4.4" rx="5.2" ry="3.9" fill="#FF2000"/></g>
<path d="M647 436h0M655 437h0M658 440h0M651 442h0M662 441h0M640 450h0M647 451h0M620 457h0M630 463h0M686 431h0M687 457h0M687 490h0M609 482h0M601 482h0M598 497h0M600 506h0M670 508h0" stroke="#0000FF" stroke-width="1.6" stroke-linecap="square"/>
<polygon points="674.0,464.5 713.6,387.0 742.2,384.1 750.4,416.5 685.3,482.8" fill="none" stroke="#1a1a1a" stroke-width="1.3" stroke-linejoin="miter"/>
<text x="711.60" y="437.40" font-size="12.5" text-anchor="middle" font-weight="normal">0.048</text>
<rect x="580.5" y="363.9" width="190.0" height="193.6" fill="none" stroke="#333" stroke-width="1.1"/>
<path d="M575.0 364.3h5.5 M575.0 396.2h5.5 M575.0 429.3h5.5 M575.0 469.4h5.5 M575.0 508.1h5.5 M575.0 547.6h5.5 M578.0 386.6h2.5 M578.0 381.0h2.5 M578.0 377.0h2.5 M578.0 373.9h2.5 M578.0 371.4h2.5 M578.0 369.2h2.5 M578.0 367.4h2.5 M578.0 365.7h2.5 M578.0 419.4h2.5 M578.0 413.5h2.5 M578.0 409.4h2.5 M578.0 406.2h2.5 M578.0 403.6h2.5 M578.0 401.4h2.5 M578.0 399.4h2.5 M578.0 397.7h2.5 M578.0 457.3h2.5 M578.0 450.3h2.5 M578.0 445.3h2.5 M578.0 441.4h2.5 M578.0 438.2h2.5 M578.0 435.5h2.5 M578.0 433.2h2.5 M578.0 431.2h2.5 M578.0 477.2h2.5 M578.0 484.9h2.5 M578.0 492.6h2.5 M578.0 500.4h2.5 M578.0 516.0h2.5 M578.0 523.9h2.5 M578.0 531.8h2.5 M578.0 539.7h2.5" stroke="#111" stroke-width="1" fill="none"/>
<path d="M575.0 503.1h5.5M576.5 505.6h4M575.0 508.1h5.5M576.5 510.6h4M575.0 513.1h5.5" stroke="#000" stroke-width="1.6"/><rect x="578.0" y="503.1" width="2.5" height="10" fill="#000"/>
<path d="M589.4 557.5v5.5 M631.8 557.5v5.5 M673.6 557.5v5.5 M716.5 557.5v5.5 M752.6 557.5v5.5 M769.2 557.5v5.5 M597.9 557.5v2.5 M606.4 557.5v2.5 M614.9 557.5v2.5 M623.3 557.5v2.5 M640.2 557.5v2.5 M648.5 557.5v2.5 M656.9 557.5v2.5 M665.2 557.5v2.5 M686.5 557.5v2.5 M694.1 557.5v2.5 M699.5 557.5v2.5 M703.6 557.5v2.5 M707.0 557.5v2.5 M709.9 557.5v2.5 M712.4 557.5v2.5 M714.6 557.5v2.5 M727.4 557.5v2.5 M733.8 557.5v2.5 M738.3 557.5v2.5 M741.8 557.5v2.5 M744.6 557.5v2.5 M747.0 557.5v2.5 M749.1 557.5v2.5 M751.0 557.5v2.5 M757.6 557.5v2.5 M760.5 557.5v2.5 M762.6 557.5v2.5 M764.2 557.5v2.5 M765.5 557.5v2.5 M766.6 557.5v2.5 M767.6 557.5v2.5 M768.4 557.5v2.5" stroke="#111" stroke-width="1" fill="none"/>
<path d="M627.8 557.5v5.5M629.8 557.5v4M631.8 557.5v5.5M633.8 557.5v4M635.8 557.5v5.5" stroke="#000" stroke-width="1.5"/><rect x="627.8" y="557.5" width="8" height="2.5" fill="#000"/>
</g>
<g>
<ellipse cx="0" cy="0" rx="40" ry="17" fill="#1010FF" opacity="0.3" transform="translate(895 277) rotate(-22)" filter="url(#blo)"/>
<path d="M905 279h0M922 254h0M915 271h0M920 279h0M846 307h0M905 266h0M897 287h0M863 299h0M921 284h0M874 280h0M919 265h0M897 251h0M947 239h0M859 297h0M905 266h0M845 303h0M898 267h0M897 271h0M874 293h0M896 278h0M864 283h0M887 275h0M904 274h0M890 278h0M909 282h0M874 296h0M920 275h0M883 284h0M942 246h0M915 267h0M936 263h0M914 264h0M890 296h0M864 285h0M886 269h0M907 261h0M896 275h0M844 300h0M859 293h0M839 295h0M916 272h0M928 280h0M913 269h0M895 284h0M863 280h0M902 292h0M870 290h0M882 290h0M904 274h0M917 266h0M863 311h0M894 281h0M912 263h0M882 275h0M911 275h0M896 264h0M871 273h0M861 284h0M905 279h0M855 300h0M910 287h0M911 256h0M908 275h0M901 268h0M930 264h0M876 268h0M885 268h0M866 305h0M898 286h0M925 273h0M882 271h0M892 280h0M891 276h0M894 264h0M917 257h0M896 269h0M926 259h0M872 283h0M913 258h0M863 285h0M904 245h0M926 288h0M895 287h0M886 263h0M888 287h0M868 286h0M881 287h0M955 254h0M871 304h0M887 277h0M910 279h0M902 278h0M896 265h0M918 277h0M871 270h0M882 285h0M931 265h0M898 279h0M858 289h0M902 282h0M921 284h0M878 280h0M887 286h0M945 259h0M897 268h0M871 305h0M899 290h0M914 265h0M899 267h0M911 270h0M919 280h0M885 290h0M905 268h0M907 285h0M903 284h0M909 285h0M892 276h0M903 251h0M889 295h0M885 300h0M933 257h0M879 288h0M924 283h0M931 256h0M915 264h0M924 271h0M931 262h0M912 258h0M874 291h0M902 284h0M950 249h0M864 280h0M885 293h0M904 271h0M912 269h0M902 274h0M866 297h0M908 295h0M897 271h0M898 269h0M894 274h0M901 266h0M892 275h0M872 286h0M916 277h0M903 273h0M918 265h0M907 255h0M865 282h0M923 264h0M904 263h0M869 316h0M943 276h0M894 271h0M902 272h0M876 260h0M894 256h0M879 269h0M941 246h0M888 284h0M890 282h0M917 262h0M909 271h0M865 292h0M874 296h0M897 278h0M918 260h0M882 297h0M916 273h0M848 297h0M871 281h0M851 279h0M887 284h0M883 280h0M903 288h0M883 284h0M964 249h0M913 258h0M869 283h0M970 241h0M930 258h0M859 273h0M904 284h0M876 281h0M867 281h0M920 262h0M873 292h0M903 274h0M949 259h0M921 254h0M899 288h0M919 277h0M859 289h0M944 272h0M934 270h0M920 239h0M902 283h0M924 256h0M926 273h0M889 296h0M932 271h0M886 284h0M902 291h0M956 244h0M949 260h0M877 277h0M937 264h0M879 282h0M887 279h0M940 252h0M878 253h0M913 280h0M947 250h0M888 276h0M865 289h0M876 282h0M904 281h0M907 297h0M907 278h0M910 270h0M922 268h0M861 286h0M929 247h0M942 259h0M908 285h0M901 270h0M839 294h0M870 295h0M896 267h0M930 272h0M955 256h0M866 290h0M920 276h0M865 294h0M916 273h0M854 289h0M893 276h0M919 263h0M842 277h0M907 264h0M900 286h0M884 281h0M856 281h0M916 280h0M880 281h0M904 269h0M898 272h0M911 266h0M880 269h0M872 271h0M897 286h0M861 282h0M879 288h0M888 277h0M872 284h0M885 273h0M935 266h0M894 281h0M958 258h0M883 281h0M928 268h0M890 280h0M867 285h0M886 278h0M932 262h0M927 264h0M863 302h0M883 281h0M930 277h0M906 285h0M887 287h0M877 294h0M885 288h0M871 301h0M938 257h0M895 267h0M887 266h0M915 268h0M927 264h0M888 271h0M913 268h0M861 276h0M921 265h0M893 272h0M883 281h0M898 264h0M964 258h0M848 297h0M924 259h0M864 295h0M881 282h0M940 259h0M929 256h0M849 292h0M889 286h0M902 254h0M867 284h0M876 278h0M889 281h0M855 284h0M878 296h0M887 265h0M913 279h0M851 282h0M909 272h0M918 283h0M918 278h0M889 293h0M880 286h0M844 293h0M914 260h0M878 262h0M884 268h0M897 271h0M878 280h0M886 280h0M894 289h0M916 244h0M931 260h0M903 265h0M915 275h0M879 272h0M912 274h0M866 267h0M870 291h0M926 254h0M879 273h0M903 266h0M942 264h0M891 275h0M922 262h0M888 281h0M929 277h0M884 269h0M873 284h0M904 247h0M915 273h0M897 261h0M898 270h0M875 291h0M930 265h0M915 278h0M897 272h0M933 255h0M891 282h0M883 272h0M925 264h0M878 278h0M915 277h0M907 283h0M903 289h0M917 257h0M896 279h0M894 267h0M909 270h0M856 280h0M891 287h0M897 278h0M921 264h0M898 275h0M918 261h0M905 266h0M904 284h0M880 288h0M900 277h0M911 271h0M916 286h0M877 273h0M918 271h0M945 250h0M914 264h0M884 275h0M874 276h0M889 277h0M902 282h0M875 284h0M879 291h0M874 282h0M882 292h0M864 278h0M887 276h0M879 294h0M877 263h0M888 266h0M880 278h0M874 281h0M890 285h0M958 245h0M890 290h0M942 265h0M898 294h0M904 285h0M880 271h0M928 255h0M873 287h0M877 290h0M899 273h0M889 293h0M936 271h0M871 302h0M906 289h0M909 265h0M855 286h0M926 260h0M934 248h0M913 268h0M865 293h0M887 277h0M843 288h0M881 281h0M884 301h0M889 281h0M894 289h0M915 278h0M861 292h0M896 282h0M882 283h0M872 282h0M905 268h0M877 283h0M907 276h0M867 284h0M866 279h0M960 262h0M914 266h0M924 280h0M930 270h0M882 306h0M919 275h0M907 275h0M882 265h0M950 280h0M912 277h0M900 282h0M894 277h0M907 255h0M930 259h0M913 275h0M942 274h0M862 281h0M896 260h0M912 269h0M881 291h0M872 279h0M900 283h0M891 275h0M901 271h0M855 302h0M913 280h0M902 279h0M851 281h0M854 305h0M884 294h0M906 268h0M892 270h0M887 283h0M912 265h0M862 301h0M872 293h0M856 283h0M850 301h0M918 298h0M943 259h0M845 295h0M904 277h0M897 266h0M895 295h0M882 278h0M865 283h0M927 267h0M883 278h0M914 263h0M876 282h0M837 311h0M879 291h0M899 285h0M892 302h0M909 269h0M897 256h0M861 270h0M897 297h0M900 261h0M859 295h0M911 268h0M933 264h0M949 263h0M938 233h0M917 275h0M935 266h0M907 275h0M903 279h0M930 247h0M880 268h0M883 285h0M902 278h0M916 273h0M888 279h0M868 283h0M895 281h0M861 302h0M889 264h0M894 283h0M897 272h0M875 287h0M901 277h0M891 291h0M851 295h0M849 276h0M903 282h0M890 283h0M895 288h0M883 287h0M899 260h0M923 260h0M865 282h0M915 265h0M912 261h0M896 259h0M893 290h0M883 283h0M857 309h0M892 283h0M883 272h0M886 277h0M869 286h0M870 282h0M904 275h0M891 282h0M939 262h0M898 275h0M906 279h0M848 316h0M920 271h0M880 282h0M881 295h0M873 270h0M887 272h0M900 276h0M869 272h0M883 269h0M891 280h0M886 282h0M891 294h0M848 285h0M918 255h0M909 269h0M890 265h0M884 280h0M843 298h0M876 262h0M897 272h0M862 301h0M888 269h0M874 288h0M884 288h0M865 291h0M907 277h0M872 277h0M867 289h0M853 320h0M892 290h0M891 291h0M891 288h0M920 269h0M865 293h0M897 273h0M891 285h0M846 302h0M931 256h0M922 261h0M886 277h0M891 271h0M879 281h0M872 285h0M916 260h0M896 269h0M866 288h0M891 288h0M911 271h0M883 294h0M860 283h0M913 273h0M908 269h0M916 279h0M849 300h0M914 259h0M872 289h0M909 271h0M855 295h0M890 275h0M912 249h0M895 271h0M907 269h0M936 262h0M876 269h0M887 279h0M933 265h0M895 268h0M896 267h0M862 294h0M879 270h0M926 276h0M899 259h0M871 277h0M911 302h0M916 267h0M869 274h0M877 285h0M890 283h0M903 262h0M914 269h0M932 260h0M885 279h0M925 269h0M926 274h0M910 293h0M891 276h0M917 256h0M905 282h0M867 270h0M864 300h0M952 245h0M859 279h0M935 268h0M908 264h0M908 264h0M906 265h0M863 285h0M906 275h0M884 289h0M849 276h0M909 270h0M892 273h0M908 273h0M925 255h0M864 288h0M888 277h0M844 301h0M937 263h0M927 269h0M903 277h0M923 270h0M911 270h0M878 287h0M887 285h0M847 313h0M932 276h0M901 264h0M882 271h0M905 273h0M893 260h0M852 273h0M931 267h0M895 273h0M851 291h0M882 274h0M913 250h0M902 281h0M910 256h0M930 261h0M890 282h0M922 267h0M888 281h0M912 289h0M893 268h0M947 270h0M929 254h0M877 271h0M897 288h0M919 267h0M903 278h0M889 269h0M884 297h0M869 276h0M909 268h0M888 281h0M887 264h0M920 268h0M941 266h0M881 278h0M871 265h0M912 263h0M921 268h0M899 290h0M879 300h0M894 297h0M923 260h0M941 262h0M904 269h0M894 273h0M891 286h0M921 278h0M926 263h0M914 266h0M913 275h0M904 266h0M873 302h0M875 279h0M905 269h0M912 283h0M859 292h0M907 258h0M920 281h0M900 279h0M893 287h0M884 281h0M878 277h0M925 264h0M914 254h0M865 280h0M948 266h0M951 250h0M913 273h0M893 283h0M898 280h0M850 285h0M878 299h0M916 259h0M908 266h0M866 279h0M971 247h0M899 287h0M900 264h0M958 272h0M914 261h0M896 277h0M879 308h0M896 271h0M890 276h0M836 302h0M927 266h0M908 271h0M856 298h0M911 260h0M867 282h0M856 269h0M885 275h0M904 284h0M870 272h0M897 282h0M936 269h0M901 275h0M857 299h0M916 267h0M891 282h0M910 276h0M902 259h0M878 268h0M925 289h0M877 283h0M901 267h0M940 261h0M958 273h0M907 265h0M929 260h0M877 282h0M922 258h0M894 285h0M893 286h0M926 260h0M864 278h0M930 268h0M898 272h0M922 261h0M965 251h0M861 300h0M903 273h0M897 287h0M890 293h0M881 291h0M863 299h0M872 284h0M913 262h0M910 270h0M932 270h0M902 272h0M880 296h0M887 268h0M871 268h0M874 281h0M906 281h0M911 253h0M887 285h0M905 272h0M880 289h0M894 275h0M893 275h0M908 282h0M896 270h0M893 276h0M911 277h0M940 267h0M852 286h0M867 291h0M956 256h0M887 293h0M909 263h0M878 297h0M908 251h0M880 288h0M863 289h0M869 271h0M882 277h0M898 259h0M902 270h0M861 302h0M887 284h0M936 264h0M920 268h0M883 283h0M859 296h0M918 271h0M876 273h0M877 281h0M867 306h0M877 285h0M885 282h0M840 289h0M895 276h0M904 268h0M917 270h0M895 277h0M922 265h0M935 261h0M902 274h0M905 277h0M883 289h0M962 255h0M896 268h0M875 277h0M900 268h0M935 257h0M871 278h0M893 276h0M917 261h0M908 280h0M883 265h0M905 282h0M906 272h0M854 308h0M888 268h0M888 281h0M894 268h0M960 262h0M923 271h0M882 270h0M868 297h0M903 288h0M844 309h0M906 267h0M916 262h0M891 283h0M901 277h0M905 282h0M868 268h0M865 266h0M942 251h0M896 279h0M875 280h0M902 274h0M915 266h0M875 271h0M855 295h0M902 270h0M917 242h0M908 260h0M887 278h0M876 281h0M911 293h0M898 282h0M913 260h0M907 268h0M916 262h0M920 258h0M887 288h0M924 273h0M949 264h0M899 284h0M878 291h0M905 271h0M882 292h0M846 295h0M860 287h0M882 274h0M882 285h0M951 270h0M890 275h0M908 263h0M862 299h0M891 293h0M900 261h0M905 277h0M893 264h0M865 306h0M922 283h0M912 269h0M909 282h0M887 292h0M903 275h0M908 274h0M878 298h0M883 279h0M910 270h0M892 274h0M909 265h0M854 278h0M877 287h0M934 266h0M875 272h0M918 272h0M897 282h0M912 274h0M924 250h0M878 278h0M878 302h0M906 276h0M915 266h0M916 266h0M917 273h0M923 251h0M871 279h0M877 287h0M919 263h0M926 273h0M884 287h0M930 258h0M843 303h0M905 278h0M909 270h0M893 270h0M950 269h0M890 270h0M912 285h0M895 269h0M920 269h0M876 282h0M897 265h0M908 284h0M927 276h0M915 268h0M916 280h0M899 280h0M881 282h0M881 272h0M914 290h0M853 289h0M899 268h0M903 281h0M856 291h0M913 275h0M942 259h0M925 259h0M872 281h0M889 288h0M915 269h0M875 286h0M885 277h0M859 306h0M921 295h0M963 250h0M950 250h0M965 248h0M851 294h0M922 282h0M927 281h0M896 262h0M898 267h0M910 250h0M869 276h0M903 283h0M885 268h0M884 280h0M926 265h0M922 239h0M948 276h0M893 304h0M861 299h0M862 284h0M910 273h0M903 272h0M845 281h0M872 276h0M879 267h0M895 281h0M889 292h0M905 282h0M875 287h0M855 275h0M852 290h0M910 291h0M903 270h0M923 266h0M897 277h0M926 280h0M862 291h0M885 281h0M955 250h0M838 308h0M882 273h0M959 270h0M923 268h0M884 295h0M891 280h0M893 279h0M843 286h0M857 271h0M866 284h0M892 277h0M889 289h0M843 293h0M888 271h0M931 261h0M926 269h0M893 287h0M856 281h0M879 260h0M885 279h0M850 285h0M872 309h0M930 268h0M907 285h0M903 285h0M926 285h0M921 261h0M916 279h0M921 288h0M903 270h0M923 277h0M898 280h0M901 277h0M905 269h0M916 272h0M941 261h0M896 265h0M953 251h0M883 279h0M897 275h0M938 255h0M890 275h0M907 256h0M921 263h0M866 303h0M866 295h0M895 270h0M853 287h0M916 268h0M886 290h0M898 276h0M870 273h0M886 283h0M887 283h0M890 276h0M897 279h0M841 298h0M890 274h0M925 276h0M928 270h0M909 272h0M913 263h0M895 280h0M889 267h0M893 273h0M883 287h0M924 266h0M867 286h0M888 269h0M882 283h0M883 285h0M866 294h0M879 284h0M895 271h0M917 251h0M904 279h0M890 278h0M868 287h0M899 269h0M896 273h0M871 286h0M880 291h0M881 295h0M896 276h0M879 287h0M866 273h0M900 254h0M923 260h0M937 262h0M933 247h0M886 282h0M883 282h0M895 283h0M925 244h0M908 260h0M933 247h0M877 288h0M894 283h0M903 266h0M859 302h0M891 277h0M888 277h0M878 284h0M899 263h0M858 296h0M917 262h0M891 273h0M906 271h0M880 275h0M909 274h0M887 283h0M894 257h0M882 284h0M929 266h0M868 296h0M892 285h0M856 277h0M858 297h0M927 266h0M900 273h0M898 265h0M930 270h0M920 265h0M921 275h0M963 259h0M875 277h0M920 271h0M910 271h0M876 285h0M860 293h0M957 258h0M872 277h0M960 256h0M885 286h0M885 270h0M902 278h0M925 252h0M933 259h0M849 304h0M923 270h0M915 260h0M904 257h0M888 303h0M940 262h0M910 271h0M913 271h0M872 282h0M845 288h0M893 281h0M948 239h0M949 251h0M885 279h0M949 244h0M889 284h0M922 269h0M903 283h0M877 299h0M885 284h0M871 280h0M924 270h0M895 284h0M971 222h0M845 298h0M856 302h0M875 284h0M882 301h0M930 246h0M913 266h0M935 263h0M876 280h0M904 289h0M897 270h0M889 287h0M895 293h0M920 268h0M898 272h0M840 310h0M935 258h0M899 262h0M892 279h0M895 277h0M924 271h0M915 263h0M884 281h0M851 281h0M905 272h0M903 285h0M843 301h0M886 267h0M918 280h0M859 291h0M922 266h0M888 288h0M853 293h0M880 282h0M865 290h0M930 267h0M862 285h0M872 271h0M917 272h0M897 290h0M913 264h0M897 274h0M901 287h0M926 255h0M942 242h0M898 298h0M918 278h0M902 278h0M885 295h0M890 274h0M866 309h0M855 283h0M909 271h0M943 263h0M903 266h0M906 258h0M882 295h0M900 263h0M880 281h0M906 274h0M908 243h0M909 253h0M886 282h0M922 260h0M860 283h0M911 293h0M864 284h0M882 292h0M911 269h0M910 285h0M886 270h0M894 265h0M906 281h0M891 287h0M934 278h0M890 284h0M921 274h0M923 270h0M918 276h0M912 275h0M904 272h0M850 294h0M896 271h0M890 291h0M883 260h0M883 280h0M930 265h0M909 266h0M877 269h0M913 269h0M879 284h0M929 272h0M921 277h0M903 273h0M899 280h0M855 296h0M895 268h0M887 291h0M887 279h0M932 253h0M895 273h0M883 280h0M910 268h0M924 272h0M870 287h0M888 267h0M855 302h0M909 283h0M940 266h0M911 282h0M893 274h0M924 271h0M883 278h0M872 306h0M886 276h0M880 278h0M900 275h0M909 247h0M906 288h0M897 270h0M946 251h0M915 271h0M890 269h0M902 276h0M938 245h0M860 296h0M850 268h0M892 288h0M846 282h0M932 253h0M874 284h0M937 258h0M916 266h0M871 289h0M855 303h0M857 293h0M842 297h0M905 266h0M946 256h0M903 259h0M885 283h0M918 273h0M857 278h0M872 296h0M848 284h0M900 274h0M893 270h0M905 271h0M893 280h0M890 277h0M928 270h0M899 276h0M927 251h0M848 296h0M850 285h0M903 275h0M886 273h0M857 285h0M876 284h0M919 264h0M870 291h0M928 266h0M884 277h0M885 271h0M919 264h0M949 266h0M893 302h0M882 274h0M852 294h0M905 269h0M895 281h0M877 283h0M895 291h0M913 268h0M870 285h0M875 281h0M908 279h0M920 261h0M901 274h0M925 285h0M925 273h0M905 278h0M848 299h0M893 277h0M925 294h0" stroke="#0000FF" stroke-width="1.4" stroke-linecap="square"/>
<path d="M922 179h0M912 214h0M929 203h0M927 186h0M942 164h0M912 186h0M911 203h0M920 217h0M948 209h0M903 200h0M906 186h0M911 216h0M905 205h0M906 215h0M936 175h0M930 185h0M923 198h0M932 178h0M948 206h0M908 222h0M940 209h0M910 186h0M904 228h0M919 199h0M912 221h0M912 215h0M889 186h0M923 183h0M949 164h0M924 209h0M925 199h0M916 261h0M922 189h0M875 232h0M918 231h0M918 219h0M940 190h0M881 220h0M949 174h0M910 198h0M914 210h0M916 210h0M905 172h0M947 204h0M924 180h0M925 199h0M926 202h0M935 224h0M912 193h0M930 175h0M907 194h0M884 233h0M914 196h0M899 209h0M911 179h0M923 226h0M894 199h0M953 196h0M907 228h0M922 216h0M944 211h0M923 233h0M894 180h0M914 189h0M915 167h0M892 212h0M915 207h0M912 200h0M894 231h0M935 177h0M911 206h0M911 199h0M921 168h0M930 208h0M902 197h0M917 195h0M919 173h0M919 207h0M924 208h0M909 202h0M933 201h0M922 201h0M927 178h0M917 215h0M904 210h0M911 193h0M900 184h0M937 175h0M920 176h0M950 212h0M905 180h0M914 206h0M945 225h0M902 204h0M933 188h0M910 216h0M896 201h0M917 195h0M918 172h0M931 192h0M949 235h0M911 234h0M941 186h0M914 221h0M906 194h0M878 175h0M899 188h0M906 205h0M922 194h0M896 204h0M928 199h0M940 192h0M931 205h0M939 228h0M899 168h0M934 206h0M923 192h0M906 221h0M926 191h0M919 205h0M897 189h0M926 203h0M896 205h0M950 211h0M897 192h0M908 186h0M905 190h0M917 178h0M933 206h0M949 215h0M933 209h0M916 181h0M929 202h0M908 207h0M923 189h0M941 192h0M920 219h0M910 195h0M925 194h0M910 181h0M922 193h0M931 218h0M918 214h0M907 228h0M909 198h0M912 192h0M931 200h0M904 214h0M919 210h0M921 192h0M889 195h0M904 221h0M915 226h0M955 220h0M956 184h0M910 182h0M897 178h0M932 186h0M913 210h0M912 227h0M937 213h0M945 209h0M921 219h0M935 177h0M936 218h0M882 236h0M921 225h0M899 204h0M907 186h0M922 175h0M918 212h0M906 182h0M927 216h0M933 191h0M912 224h0M932 206h0M922 198h0M928 213h0M919 205h0M896 198h0M943 204h0M896 192h0M920 225h0M952 200h0M916 203h0M901 223h0M899 213h0M911 183h0M923 229h0M899 204h0M907 219h0M895 178h0M912 178h0M934 175h0M919 192h0M934 191h0M915 230h0M928 222h0M941 209h0M923 172h0M891 193h0M923 220h0M906 195h0M951 181h0M915 199h0M907 226h0M893 195h0M892 188h0M943 166h0M892 201h0M924 188h0M925 197h0M912 202h0M937 180h0M932 205h0M915 188h0M923 214h0M903 213h0M919 215h0M922 197h0M921 212h0M895 201h0M880 204h0M910 201h0M934 217h0M941 217h0M915 187h0M959 189h0M912 208h0M905 203h0M921 191h0M902 201h0M925 183h0M920 202h0M904 208h0M896 216h0M907 218h0M920 201h0M897 214h0M901 239h0M925 204h0M918 212h0M925 207h0M932 198h0M944 174h0M892 211h0M918 174h0M899 188h0M938 212h0M892 177h0M920 179h0M908 190h0M919 211h0M907 192h0M922 229h0M925 194h0M933 198h0M896 212h0M944 181h0M930 179h0M917 198h0M913 199h0M929 192h0M914 195h0M922 189h0M931 206h0M909 178h0M914 218h0M928 201h0M950 227h0M926 225h0M914 194h0M922 168h0M919 192h0M940 210h0M943 193h0M942 203h0M926 207h0M898 216h0M911 211h0M917 183h0M913 205h0M913 230h0M937 202h0M912 225h0M919 221h0M897 166h0M930 216h0M916 197h0M925 209h0M917 201h0M922 219h0M924 195h0M935 213h0M910 199h0M881 198h0M901 202h0M907 222h0M939 194h0M904 223h0M897 194h0M912 205h0M919 185h0M932 207h0M923 228h0M948 205h0M912 196h0M916 182h0M907 191h0M926 213h0M879 172h0M908 182h0M918 170h0M914 204h0M924 193h0M925 213h0M913 182h0M910 205h0M923 171h0M894 172h0M947 208h0M921 180h0M884 235h0M944 207h0M917 205h0M932 166h0M923 178h0M912 197h0" stroke="#0000FF" stroke-width="1.4" stroke-linecap="square"/>
<path d="M922 241h0M930 244h0M937 260h0M921 250h0M926 265h0M942 263h0M941 248h0M917 243h0M942 248h0M935 239h0M938 279h0M931 224h0M924 255h0M945 261h0M945 265h0M941 260h0M916 236h0M932 270h0M937 230h0M928 252h0M937 253h0M945 249h0M927 247h0M939 243h0M933 242h0M908 223h0M923 240h0M936 242h0M925 264h0M937 282h0M926 253h0M931 275h0M932 246h0M918 220h0M942 246h0M937 234h0M940 236h0M941 279h0M926 252h0M929 252h0M931 247h0M932 242h0M946 256h0M917 246h0M932 265h0M918 273h0M909 248h0M920 248h0M942 261h0M928 248h0M927 270h0M940 291h0M912 246h0M946 274h0M929 258h0M925 255h0M914 267h0M927 258h0M924 237h0M910 241h0M933 261h0M946 260h0M955 258h0M951 256h0M924 224h0M938 245h0M919 232h0M942 246h0M922 240h0M932 257h0M936 250h0M932 250h0M932 268h0M926 242h0M941 231h0M926 253h0M928 250h0M944 261h0M927 282h0M914 239h0M931 233h0M923 266h0M937 254h0M949 260h0M923 245h0M932 243h0M937 262h0M925 229h0M945 244h0M925 225h0M923 232h0M942 238h0M917 253h0M922 254h0M912 229h0M927 246h0M926 263h0M937 246h0M931 256h0M940 250h0M923 263h0M956 251h0M930 241h0M918 263h0M938 255h0M938 268h0M919 223h0M930 253h0M940 256h0M939 254h0M927 232h0M932 266h0M931 206h0M926 244h0M928 219h0M926 255h0M913 228h0M946 240h0M934 259h0M944 234h0M927 246h0M944 260h0M943 238h0M915 245h0M914 262h0M913 263h0M922 260h0M943 243h0M929 251h0M926 257h0M928 253h0M925 261h0M929 237h0M922 230h0M911 239h0M932 243h0M931 254h0M926 249h0M936 283h0M926 262h0M937 277h0M919 253h0M931 242h0M951 247h0M925 225h0M928 231h0M937 254h0M926 243h0M919 244h0M940 233h0M929 257h0M915 249h0M942 250h0M939 259h0M917 216h0M940 256h0M907 255h0M937 229h0M946 268h0M927 247h0M924 263h0M935 257h0M930 251h0M930 268h0M935 269h0M934 236h0M925 269h0M932 244h0M929 217h0M933 243h0M934 239h0M929 262h0M926 228h0M939 258h0M910 242h0M914 240h0M933 280h0M916 240h0M934 270h0M931 265h0M937 241h0M939 263h0M941 273h0M942 272h0M922 257h0M900 238h0M923 246h0M931 258h0M907 230h0M939 252h0M943 259h0M930 242h0M930 235h0M916 250h0M946 229h0M941 243h0M943 237h0M915 245h0M931 259h0M924 256h0M952 242h0M950 286h0M923 253h0M928 255h0M921 249h0M937 248h0M918 273h0M943 277h0M924 258h0M925 265h0M931 271h0M919 218h0M923 264h0M942 262h0M932 242h0M931 250h0M935 265h0M919 249h0M941 244h0M932 241h0M937 269h0M945 245h0M932 274h0M911 254h0M949 282h0M939 245h0M929 250h0M919 247h0M924 225h0M907 210h0M939 249h0M906 234h0M932 276h0M928 232h0M916 228h0M912 228h0M950 254h0M944 252h0M928 267h0M930 238h0M914 255h0M917 250h0M901 231h0M942 255h0M930 246h0M926 236h0M945 270h0M916 230h0M921 225h0M948 242h0M935 251h0M921 241h0M930 282h0M936 265h0M942 241h0M923 246h0M928 234h0M937 243h0M926 263h0M938 232h0M927 248h0M939 260h0M924 237h0M929 265h0M948 246h0M935 290h0M937 235h0M913 241h0M964 258h0M916 242h0M919 232h0M929 232h0M930 259h0M933 265h0M931 269h0M920 244h0M918 260h0M936 248h0M947 254h0M924 225h0M930 256h0M926 275h0M941 271h0M927 280h0M943 247h0M935 275h0M919 250h0M940 245h0M916 236h0M932 270h0M950 226h0M921 263h0M926 244h0M935 270h0M933 236h0M928 230h0M929 216h0M930 265h0M949 252h0M910 254h0" stroke="#0000FF" stroke-width="1.4" stroke-linecap="square"/>
<path d="M918 292h0M887 283h0M878 286h0M853 324h0M869 310h0M909 267h0M902 261h0M914 289h0M903 303h0M869 266h0M940 270h0M887 297h0M890 288h0M947 275h0M878 276h0M845 305h0M926 290h0M868 301h0M855 317h0M851 336h0M885 318h0M937 274h0M880 230h0M849 323h0M859 336h0M866 304h0M874 333h0M896 289h0M907 278h0M850 316h0M881 324h0M844 296h0M935 288h0M867 310h0M839 274h0M880 312h0M905 291h0M886 292h0M874 298h0M967 251h0M864 262h0M883 311h0M889 259h0M892 329h0M870 301h0M899 287h0M854 300h0M905 299h0M857 323h0M889 266h0M883 333h0M936 315h0M869 268h0M837 331h0M835 335h0M922 289h0M950 283h0M954 238h0M883 317h0M929 305h0M867 291h0M865 292h0M879 292h0M899 272h0M904 268h0M934 296h0M876 297h0M896 301h0M850 333h0M839 328h0" stroke="#0000FF" stroke-width="1.4" stroke-linecap="square"/>
<g transform="translate(898 277) rotate(-22)" filter="url(#bl)"><ellipse cx="0.0" cy="0.0" rx="33.0" ry="13.0" fill="#0000FF"/><ellipse cx="0.0" cy="0.0" rx="28.4" ry="11.2" fill="#0070FF"/><ellipse cx="0.0" cy="0.0" rx="23.8" ry="9.4" fill="#00E0FF"/><ellipse cx="0.0" cy="0.0" rx="19.1" ry="7.5" fill="#20FF60"/><ellipse cx="0.0" cy="0.0" rx="15.2" ry="6.0" fill="#C8FF00"/><ellipse cx="0.0" cy="0.0" rx="12.2" ry="4.8" fill="#FFD000"/><ellipse cx="0.0" cy="0.0" rx="9.2" ry="3.6" fill="#FF2000"/></g>
<path d="M845 320h0M840 330h0M846 327h0M852 315h0M862 307h0M870 315h0M893 316h0M923 319h0M937 306h0M963 305h0M975 284h0M979 270h0M995 299h0M853 302h0" stroke="#0000FF" stroke-width="1.6" stroke-linecap="square"/>
<polygon points="913.0,255.6 961.5,167.8 989.1,168.6 1000.8,196.6 924.4,271.8" fill="none" stroke="#1a1a1a" stroke-width="1.3" stroke-linejoin="miter"/>
<text x="970.80" y="204.10" font-size="12.5" text-anchor="middle" font-weight="normal">4.55</text>
<rect x="832.2" y="156.2" width="181.0" height="185.2" fill="none" stroke="#333" stroke-width="1.1"/>
<path d="M826.7 172.3h5.5 M826.7 207.7h5.5 M826.7 249.2h5.5 M826.7 290.5h5.5 M826.7 330.8h5.5 M829.7 197.0h2.5 M829.7 190.8h2.5 M829.7 186.4h2.5 M829.7 183.0h2.5 M829.7 180.2h2.5 M829.7 177.8h2.5 M829.7 175.7h2.5 M829.7 173.9h2.5 M829.7 236.7h2.5 M829.7 229.4h2.5 M829.7 224.2h2.5 M829.7 220.2h2.5 M829.7 216.9h2.5 M829.7 214.1h2.5 M829.7 211.7h2.5 M829.7 209.6h2.5 M829.7 257.4h2.5 M829.7 265.7h2.5 M829.7 274.0h2.5 M829.7 282.2h2.5 M829.7 298.5h2.5 M829.7 306.6h2.5 M829.7 314.7h2.5 M829.7 322.8h2.5 M829.7 161.7h2.5" stroke="#111" stroke-width="1" fill="none"/>
<path d="M826.7 285.5h5.5M828.2 288.0h4M826.7 290.5h5.5M828.2 293.0h4M826.7 295.5h5.5" stroke="#000" stroke-width="1.6"/><rect x="829.7" y="285.5" width="2.5" height="10" fill="#000"/>
<path d="M840.2 341.4v5.5 M877.1 341.4v5.5 M913.1 341.4v5.5 M950.4 341.4v5.5 M981.7 341.4v5.5 M1012.3 341.4v5.5 M847.5 341.4v2.5 M854.9 341.4v2.5 M862.3 341.4v2.5 M869.7 341.4v2.5 M884.3 341.4v2.5 M891.5 341.4v2.5 M898.7 341.4v2.5 M905.9 341.4v2.5 M924.3 341.4v2.5 M930.9 341.4v2.5 M935.6 341.4v2.5 M939.2 341.4v2.5 M942.1 341.4v2.5 M944.6 341.4v2.5 M946.8 341.4v2.5 M948.7 341.4v2.5 M959.8 341.4v2.5 M965.3 341.4v2.5 M969.2 341.4v2.5 M972.3 341.4v2.5 M974.8 341.4v2.5 M976.9 341.4v2.5 M978.7 341.4v2.5 M980.3 341.4v2.5 M990.9 341.4v2.5 M996.3 341.4v2.5 M1000.1 341.4v2.5 M1003.1 341.4v2.5 M1005.5 341.4v2.5 M1007.6 341.4v2.5 M1009.3 341.4v2.5 M1010.9 341.4v2.5" stroke="#111" stroke-width="1" fill="none"/>
<path d="M873.1 341.4v5.5M875.1 341.4v4M877.1 341.4v5.5M879.1 341.4v4M881.1 341.4v5.5" stroke="#000" stroke-width="1.5"/><rect x="873.1" y="341.4" width="8" height="2.5" fill="#000"/>
</g>
<g>
<ellipse cx="0" cy="0" rx="28" ry="17" fill="#1010FF" opacity="0.3" transform="translate(1145 280) rotate(-15)" filter="url(#blo)"/>
<path d="M1123 263h0M1159 272h0M1138 287h0M1150 286h0M1122 291h0M1161 285h0M1164 261h0M1159 263h0M1124 289h0M1185 283h0M1141 283h0M1158 265h0M1135 278h0M1164 282h0M1151 292h0M1136 274h0M1153 260h0M1147 281h0M1116 291h0M1132 299h0M1158 287h0M1159 278h0M1163 283h0M1155 290h0M1172 257h0M1131 270h0M1124 294h0M1126 284h0M1136 294h0M1170 276h0M1130 280h0M1136 267h0M1123 289h0M1147 283h0M1147 273h0M1138 273h0M1142 262h0M1152 282h0M1136 285h0M1160 278h0M1178 285h0M1144 280h0M1121 277h0M1147 282h0M1153 296h0M1151 284h0M1136 273h0M1135 283h0M1157 285h0M1126 285h0M1152 265h0M1135 269h0M1135 296h0M1155 301h0M1128 295h0M1136 267h0M1147 283h0M1142 295h0M1140 290h0M1142 277h0M1152 290h0M1170 287h0M1112 277h0M1142 295h0M1112 292h0M1125 295h0M1159 275h0M1167 283h0M1144 297h0M1178 272h0M1148 284h0M1156 274h0M1143 294h0M1145 295h0M1152 297h0M1165 264h0M1154 277h0M1136 293h0M1162 282h0M1166 293h0M1151 286h0M1155 294h0M1129 285h0M1122 282h0M1148 277h0M1130 283h0M1167 297h0M1144 274h0M1145 275h0M1151 287h0M1173 266h0M1139 275h0M1159 268h0M1169 294h0M1118 300h0M1182 273h0M1148 302h0M1140 282h0M1130 292h0M1163 269h0M1159 283h0M1169 274h0M1132 288h0M1150 277h0M1130 292h0M1114 278h0M1138 270h0M1148 264h0M1142 287h0M1164 268h0M1151 292h0M1131 289h0M1165 288h0M1143 286h0M1133 291h0M1149 275h0M1185 278h0M1130 286h0M1149 270h0M1131 293h0M1142 282h0M1160 275h0M1116 278h0M1141 281h0M1135 275h0M1114 287h0M1151 283h0M1162 308h0M1123 281h0M1140 258h0M1155 278h0M1196 267h0M1142 283h0M1138 277h0M1163 281h0M1148 278h0M1111 286h0M1105 286h0M1149 278h0M1149 297h0M1155 289h0M1137 280h0M1124 303h0M1162 276h0M1152 282h0M1167 281h0M1139 272h0M1097 270h0M1143 295h0M1131 283h0M1158 295h0M1104 291h0M1137 292h0M1132 267h0M1100 276h0M1134 274h0M1126 307h0M1118 286h0M1163 277h0M1110 291h0M1146 295h0M1126 271h0M1134 273h0M1148 287h0M1142 282h0M1119 274h0M1152 294h0M1163 302h0M1121 266h0M1143 285h0M1124 268h0M1161 258h0M1154 288h0M1165 276h0M1158 275h0M1159 292h0M1138 265h0M1142 251h0M1165 270h0M1137 294h0M1159 283h0M1135 292h0M1145 278h0M1131 290h0M1134 298h0M1111 280h0M1142 265h0M1170 260h0M1132 281h0M1150 295h0M1135 279h0M1165 276h0M1156 279h0M1133 278h0M1124 279h0M1146 281h0M1157 280h0M1148 272h0M1118 299h0M1172 271h0M1155 270h0M1129 290h0M1159 284h0M1162 278h0M1141 284h0M1127 282h0M1112 278h0M1155 273h0M1102 281h0M1156 278h0M1143 288h0M1162 274h0M1152 300h0M1152 274h0M1128 281h0M1157 257h0M1152 275h0M1154 281h0M1115 284h0M1109 289h0M1133 294h0M1113 293h0M1125 282h0M1119 307h0M1139 284h0M1177 255h0M1139 273h0M1137 279h0M1153 287h0M1147 293h0M1134 271h0M1117 298h0M1138 288h0M1153 270h0M1167 283h0M1172 282h0M1125 293h0M1141 268h0M1157 276h0M1154 296h0M1164 272h0M1158 289h0M1148 292h0M1152 275h0M1166 273h0M1134 280h0M1116 300h0M1118 270h0M1143 259h0M1140 290h0M1150 284h0M1136 274h0M1150 288h0M1145 292h0M1100 284h0M1098 290h0M1142 269h0M1134 284h0M1129 283h0M1159 278h0M1162 282h0M1135 285h0M1157 272h0M1135 297h0M1159 285h0M1134 283h0M1151 284h0M1155 267h0M1155 268h0M1126 282h0M1137 295h0M1169 297h0M1132 287h0M1161 259h0M1161 297h0M1158 270h0M1142 284h0M1129 275h0M1160 268h0M1158 267h0M1124 263h0M1106 311h0M1131 281h0M1154 264h0M1146 293h0M1160 293h0M1137 268h0M1145 287h0M1125 284h0M1148 303h0M1130 277h0M1138 277h0M1143 277h0M1121 281h0M1115 307h0M1166 275h0M1148 288h0M1146 272h0M1131 294h0M1140 287h0M1139 292h0M1141 285h0M1147 260h0M1162 291h0M1131 268h0M1147 272h0M1131 302h0M1138 272h0M1123 292h0M1150 284h0M1122 280h0M1142 278h0M1143 278h0M1143 284h0M1157 292h0M1137 262h0M1163 261h0M1150 293h0M1157 292h0M1149 303h0M1148 264h0M1154 276h0M1159 270h0M1154 266h0M1138 282h0M1160 269h0M1151 291h0M1117 305h0M1142 284h0M1175 273h0M1158 291h0M1171 287h0M1134 288h0M1116 276h0M1137 280h0M1132 277h0M1168 262h0M1149 267h0M1146 272h0M1109 270h0M1166 289h0M1138 282h0M1145 265h0M1162 308h0M1131 268h0M1133 285h0M1142 300h0M1152 274h0M1146 277h0M1134 300h0M1139 277h0M1166 273h0M1153 252h0M1152 268h0M1139 293h0M1166 252h0M1164 273h0M1138 294h0M1139 277h0M1139 281h0M1137 295h0M1168 266h0M1132 284h0M1130 286h0M1146 281h0M1132 288h0M1121 284h0M1141 283h0M1156 276h0M1127 290h0M1143 290h0M1174 290h0M1140 272h0M1146 279h0M1127 270h0M1160 267h0M1163 288h0M1129 290h0M1138 268h0M1133 286h0M1157 271h0M1142 293h0M1134 277h0M1119 293h0M1129 276h0M1133 277h0M1190 263h0M1152 266h0M1158 282h0M1142 306h0M1124 275h0M1089 272h0M1131 284h0M1156 278h0M1127 276h0M1169 270h0M1171 273h0M1136 280h0M1153 288h0M1138 289h0M1117 272h0M1115 284h0M1134 292h0M1136 279h0M1134 269h0M1127 306h0M1149 265h0M1123 291h0M1100 269h0M1133 278h0M1153 268h0M1123 292h0M1127 288h0M1110 287h0M1169 260h0M1141 281h0M1145 280h0M1153 272h0M1128 288h0M1142 263h0M1154 275h0M1159 278h0M1121 284h0M1157 289h0M1142 289h0M1165 279h0M1168 282h0M1124 274h0M1134 302h0M1160 268h0M1148 302h0M1129 286h0M1139 292h0M1113 294h0M1149 292h0M1151 284h0M1128 289h0M1139 302h0M1148 281h0M1146 282h0M1138 290h0M1140 273h0M1160 285h0M1161 273h0M1162 293h0M1155 283h0M1138 267h0M1126 286h0M1162 283h0M1135 287h0M1139 275h0M1145 291h0M1123 283h0M1140 272h0M1129 291h0M1179 273h0M1139 300h0M1141 263h0M1129 266h0M1142 298h0M1185 305h0M1159 275h0M1131 281h0M1123 278h0M1149 282h0M1146 280h0M1120 294h0M1146 290h0M1143 272h0M1161 286h0M1141 290h0M1149 276h0M1145 274h0M1164 272h0M1164 296h0M1146 288h0M1162 257h0M1180 279h0M1124 289h0M1179 274h0M1169 287h0M1134 289h0M1170 267h0M1144 276h0M1134 283h0M1107 285h0M1113 280h0M1137 295h0M1128 296h0M1134 276h0M1116 291h0M1144 290h0M1128 265h0M1156 293h0M1144 283h0M1152 283h0M1185 270h0M1154 289h0M1148 263h0M1149 277h0M1129 296h0M1133 289h0M1133 291h0M1163 268h0M1133 295h0M1131 297h0M1147 272h0M1138 298h0M1158 280h0M1150 292h0M1134 288h0M1154 293h0M1137 282h0M1147 279h0M1141 289h0M1135 282h0M1148 282h0M1137 283h0M1122 280h0M1129 275h0M1174 296h0M1139 282h0M1140 279h0M1136 294h0M1149 267h0M1145 273h0M1152 272h0M1146 274h0M1141 287h0M1151 266h0M1132 277h0M1116 292h0M1139 280h0M1135 303h0M1122 261h0M1138 287h0M1125 286h0M1105 290h0M1142 273h0M1122 277h0M1137 295h0M1143 276h0M1137 292h0M1130 277h0M1156 279h0M1164 274h0M1139 288h0M1146 282h0M1126 280h0M1129 281h0M1162 268h0M1152 285h0M1120 299h0M1148 285h0M1149 291h0M1148 274h0M1131 277h0M1128 277h0M1149 291h0M1142 293h0M1163 284h0M1110 264h0M1162 282h0M1118 281h0M1147 281h0M1122 287h0M1118 286h0M1154 282h0M1135 291h0M1174 271h0M1141 268h0M1152 263h0M1142 292h0M1144 248h0M1124 262h0M1134 269h0M1183 284h0M1126 284h0M1147 291h0M1168 283h0M1114 257h0M1115 278h0M1152 266h0M1166 284h0M1146 290h0M1134 295h0M1143 276h0M1125 265h0M1139 289h0M1135 279h0M1179 303h0M1124 300h0M1143 282h0M1129 283h0M1149 285h0M1132 279h0M1158 294h0M1137 289h0M1156 282h0M1128 286h0M1142 271h0M1144 282h0M1136 301h0M1146 272h0M1162 274h0M1123 275h0M1158 266h0M1150 285h0M1136 292h0M1160 277h0M1145 289h0M1148 295h0M1156 280h0M1146 277h0M1152 272h0M1139 270h0M1183 275h0M1145 286h0M1120 304h0M1118 295h0M1139 291h0M1154 282h0M1159 275h0M1146 278h0M1129 274h0M1154 297h0M1128 281h0M1133 289h0M1111 292h0M1128 275h0M1148 283h0M1151 293h0M1123 299h0M1158 304h0M1167 281h0M1112 293h0M1171 283h0M1139 270h0M1140 267h0M1129 282h0M1148 274h0M1142 282h0M1149 287h0M1150 277h0M1144 275h0M1122 282h0M1138 262h0M1157 282h0M1115 279h0M1122 264h0M1116 294h0M1116 313h0M1170 291h0M1154 291h0M1162 267h0M1167 267h0M1130 258h0M1133 267h0M1182 276h0M1157 273h0M1160 283h0M1138 289h0M1133 271h0M1105 275h0M1158 299h0M1134 278h0M1164 275h0M1149 281h0M1099 279h0M1149 282h0M1135 270h0M1145 279h0M1126 284h0M1153 302h0M1159 268h0M1152 263h0M1102 285h0M1177 281h0M1132 289h0M1108 289h0M1123 274h0M1134 276h0M1145 268h0M1151 285h0M1158 285h0M1158 289h0M1167 287h0M1159 264h0M1143 298h0M1135 292h0M1165 291h0M1134 287h0M1143 289h0M1111 290h0M1163 277h0M1164 292h0M1144 277h0M1131 273h0M1135 282h0M1157 271h0M1131 285h0M1143 296h0M1147 296h0M1138 255h0M1137 272h0M1141 273h0M1158 275h0M1143 305h0M1136 279h0M1139 291h0M1147 281h0M1161 271h0M1158 287h0M1147 276h0M1144 294h0M1102 309h0M1130 296h0M1153 284h0M1151 275h0M1171 275h0M1157 276h0M1141 294h0M1127 286h0M1125 270h0M1160 278h0M1112 290h0M1185 282h0M1141 287h0M1139 286h0M1142 285h0M1138 293h0M1119 270h0M1113 283h0M1147 287h0M1152 263h0M1119 295h0M1175 280h0M1144 293h0M1174 285h0M1146 278h0M1133 280h0M1124 291h0M1160 274h0M1158 285h0M1141 282h0M1166 268h0M1131 281h0M1132 291h0M1153 277h0M1149 261h0M1151 305h0M1157 267h0M1156 272h0M1155 286h0M1124 307h0M1119 284h0M1157 285h0M1146 278h0M1158 282h0M1141 295h0M1168 269h0M1134 273h0M1124 289h0M1156 263h0M1140 286h0M1136 293h0M1153 279h0M1164 280h0M1164 283h0M1143 298h0M1133 289h0M1136 275h0M1125 300h0M1169 287h0M1112 298h0M1147 288h0M1150 287h0M1154 291h0M1145 276h0M1108 295h0M1107 286h0M1143 281h0M1136 303h0M1123 301h0M1138 282h0M1146 287h0M1116 295h0M1141 283h0M1144 281h0M1159 268h0M1132 291h0M1143 292h0M1095 292h0M1149 300h0M1158 268h0M1159 269h0M1148 277h0M1122 297h0M1152 276h0M1127 278h0M1144 294h0M1136 283h0M1133 272h0M1135 277h0M1164 278h0M1165 276h0M1150 295h0M1151 281h0M1152 283h0M1161 271h0M1133 275h0M1165 283h0M1140 289h0M1177 281h0M1140 273h0M1160 306h0M1162 274h0M1120 299h0M1128 282h0M1178 268h0M1147 310h0M1166 251h0M1156 276h0M1145 275h0M1150 287h0M1141 291h0M1153 267h0M1174 276h0M1162 292h0M1150 306h0M1126 276h0M1143 302h0M1172 283h0M1126 283h0M1140 284h0M1125 288h0M1137 289h0M1126 281h0M1147 288h0M1145 283h0M1139 277h0M1134 275h0M1153 284h0M1138 274h0M1136 282h0M1159 274h0M1145 275h0M1153 276h0M1124 267h0M1137 280h0M1159 264h0M1130 272h0M1157 281h0M1139 290h0M1145 276h0M1144 288h0M1163 295h0M1148 281h0M1143 273h0M1142 288h0M1136 281h0M1124 294h0M1161 277h0M1147 283h0M1143 280h0M1165 300h0M1161 280h0M1134 272h0M1160 275h0M1151 274h0M1108 313h0M1125 293h0M1158 261h0M1146 280h0M1122 306h0M1136 289h0M1149 300h0M1127 282h0M1150 288h0M1146 293h0M1163 281h0M1118 279h0M1115 284h0M1162 294h0M1149 290h0M1136 281h0M1151 263h0M1138 274h0M1149 287h0M1150 295h0M1148 294h0M1142 261h0M1140 273h0M1131 260h0M1138 280h0M1124 285h0M1157 279h0M1152 270h0M1169 265h0M1123 289h0M1156 292h0M1158 288h0M1118 291h0M1128 264h0M1165 264h0M1156 287h0M1135 274h0M1165 276h0M1146 283h0M1150 287h0M1149 291h0M1139 269h0M1132 291h0M1129 288h0M1154 272h0M1139 270h0M1124 292h0M1144 270h0M1134 277h0M1136 277h0M1141 306h0M1131 271h0M1140 296h0M1141 289h0M1136 279h0M1167 278h0M1136 291h0M1116 274h0M1137 279h0M1141 269h0M1150 278h0M1140 286h0M1140 294h0M1129 289h0M1134 260h0M1126 281h0M1147 267h0M1132 280h0M1118 283h0M1161 287h0M1124 279h0M1125 264h0M1177 265h0M1146 276h0M1134 268h0M1125 285h0M1133 292h0M1135 288h0M1148 268h0M1162 275h0M1181 266h0M1161 285h0M1114 273h0M1121 296h0M1145 291h0M1127 294h0M1144 288h0M1153 280h0M1161 262h0M1139 294h0M1128 294h0M1144 285h0M1101 284h0M1151 267h0M1157 286h0M1095 296h0M1121 277h0M1117 292h0M1170 301h0M1165 271h0M1119 300h0M1155 279h0M1117 276h0M1142 298h0M1165 266h0M1113 289h0M1154 271h0M1147 290h0M1120 307h0M1166 276h0M1149 286h0M1133 293h0M1142 274h0M1140 280h0M1137 291h0M1158 288h0M1137 291h0M1142 300h0M1128 297h0M1129 268h0M1151 266h0M1128 285h0M1149 279h0M1150 283h0M1119 301h0M1164 270h0M1153 276h0M1128 283h0M1109 284h0M1156 289h0M1151 282h0M1134 294h0M1175 277h0M1171 276h0M1141 292h0M1144 279h0M1134 286h0M1138 267h0M1155 297h0M1150 285h0M1154 288h0M1154 276h0M1125 292h0M1148 275h0M1140 288h0M1167 269h0M1128 286h0M1128 281h0M1130 298h0M1150 282h0M1177 306h0M1155 288h0M1129 292h0M1129 270h0M1148 275h0M1166 273h0M1136 275h0M1140 282h0M1151 272h0M1128 275h0M1131 281h0M1139 276h0M1156 271h0M1146 280h0M1149 281h0M1136 284h0M1134 283h0M1164 285h0M1162 268h0M1163 281h0M1153 277h0M1169 266h0M1143 268h0M1139 287h0M1148 284h0M1161 267h0M1117 300h0M1118 286h0M1182 279h0M1143 292h0" stroke="#0000FF" stroke-width="1.4" stroke-linecap="square"/>
<path d="M1199 265h0M1204 240h0M1197 242h0M1211 283h0M1218 268h0M1206 281h0M1207 277h0M1195 263h0M1197 247h0M1206 221h0M1212 254h0M1189 250h0M1207 225h0M1201 270h0M1203 249h0M1207 249h0M1196 250h0M1187 255h0M1205 230h0M1192 256h0M1203 241h0M1202 256h0M1219 245h0M1187 237h0M1198 259h0M1220 258h0M1199 268h0M1203 232h0M1206 287h0M1208 241h0M1216 239h0M1220 264h0M1194 245h0M1204 239h0M1212 248h0M1226 257h0M1218 268h0M1213 266h0M1200 269h0M1218 270h0M1202 243h0M1220 251h0M1235 261h0M1196 263h0M1211 220h0M1202 215h0M1236 233h0M1199 247h0M1199 273h0M1205 228h0M1216 258h0M1193 268h0M1194 237h0M1224 244h0M1208 238h0M1205 218h0M1205 239h0M1218 245h0M1199 244h0M1187 259h0M1189 231h0M1211 247h0M1230 229h0M1212 282h0M1201 230h0M1219 283h0M1200 266h0M1215 254h0M1217 248h0M1215 248h0M1206 234h0M1207 250h0M1198 240h0M1204 276h0M1213 263h0M1222 264h0M1226 276h0M1216 250h0M1209 251h0M1200 226h0M1212 230h0M1215 281h0M1209 236h0M1201 262h0M1207 245h0M1211 233h0M1197 259h0M1200 262h0M1203 253h0M1206 273h0M1205 253h0M1196 254h0M1206 257h0M1186 262h0M1209 257h0M1212 269h0M1198 243h0M1211 227h0M1232 219h0M1214 244h0M1215 277h0M1228 240h0M1209 239h0M1193 254h0M1201 231h0M1204 242h0M1196 255h0M1214 258h0M1201 237h0M1183 264h0M1218 238h0M1193 232h0M1223 249h0M1203 253h0M1208 247h0M1206 263h0M1218 234h0M1207 251h0M1210 292h0M1215 264h0M1207 261h0M1221 272h0M1199 255h0M1212 234h0M1204 244h0M1217 253h0M1229 261h0M1203 257h0M1209 239h0M1212 229h0M1210 244h0M1209 241h0M1226 241h0M1216 253h0M1220 241h0M1194 264h0M1219 263h0M1167 280h0M1224 253h0M1198 261h0M1190 247h0M1215 275h0M1204 249h0M1193 250h0M1201 252h0M1200 259h0M1207 241h0M1214 261h0M1205 249h0M1217 260h0M1206 284h0M1203 231h0M1201 256h0M1189 283h0M1218 236h0M1212 231h0M1208 248h0M1224 222h0M1203 221h0M1203 247h0M1208 269h0M1198 243h0M1224 253h0M1198 252h0M1196 238h0M1202 227h0M1227 246h0M1210 248h0M1207 239h0M1212 245h0M1199 267h0M1224 259h0M1213 247h0M1209 264h0M1208 274h0M1223 256h0M1210 238h0M1203 241h0M1204 237h0M1212 257h0M1206 279h0M1211 251h0M1210 242h0M1216 237h0M1208 284h0M1211 235h0M1196 271h0M1188 279h0M1222 245h0M1211 244h0M1198 259h0M1201 262h0M1211 242h0M1209 253h0M1206 248h0M1221 240h0M1210 269h0M1212 245h0M1196 248h0M1187 245h0M1208 273h0M1215 269h0M1213 256h0M1191 243h0M1205 251h0M1195 227h0M1210 248h0M1208 248h0M1205 233h0M1217 258h0M1208 280h0M1200 265h0M1207 252h0M1217 252h0M1208 233h0M1211 258h0M1203 233h0M1218 254h0M1220 251h0M1235 233h0M1216 254h0M1211 249h0M1214 266h0M1209 236h0M1218 268h0M1196 256h0M1224 262h0M1203 257h0M1212 235h0M1205 247h0M1204 273h0M1189 236h0M1200 272h0M1207 248h0M1206 277h0M1229 256h0M1198 248h0M1189 267h0M1206 270h0M1202 240h0M1185 256h0M1219 218h0M1197 251h0M1219 282h0M1225 257h0M1193 239h0M1213 252h0M1199 251h0M1210 288h0M1205 261h0M1211 264h0M1201 276h0M1222 260h0M1196 235h0M1206 250h0M1199 250h0M1191 249h0M1194 257h0M1182 240h0M1203 229h0M1203 249h0M1222 263h0M1204 265h0M1207 265h0M1203 256h0M1204 267h0M1226 278h0M1223 250h0M1225 247h0M1208 238h0M1218 226h0M1207 263h0M1196 260h0M1196 247h0M1212 274h0M1230 236h0M1190 240h0M1210 250h0M1194 238h0M1210 253h0M1229 233h0M1202 307h0M1195 269h0M1202 254h0M1221 243h0M1205 252h0M1208 279h0M1223 242h0M1221 228h0M1201 241h0M1201 255h0M1211 238h0M1212 241h0M1213 257h0M1196 237h0M1218 251h0M1211 247h0M1224 259h0M1200 255h0M1196 245h0" stroke="#0000FF" stroke-width="1.4" stroke-linecap="square"/>
<path d="M1165 259h0M1162 271h0M1162 264h0M1160 272h0M1161 269h0M1171 268h0M1164 253h0M1162 264h0M1159 258h0M1169 265h0M1173 267h0M1174 266h0M1166 266h0M1172 270h0M1171 262h0M1161 271h0M1173 259h0M1167 259h0M1167 277h0M1165 263h0M1167 262h0M1169 256h0M1171 261h0M1167 279h0M1174 266h0M1166 268h0M1172 284h0M1178 273h0M1162 273h0M1166 266h0M1165 263h0M1170 266h0M1171 262h0M1162 263h0M1165 267h0M1178 266h0M1165 279h0M1178 270h0M1173 255h0M1165 265h0M1167 254h0M1169 275h0M1175 267h0M1170 265h0M1155 268h0M1172 257h0M1180 269h0M1170 273h0M1161 264h0M1158 270h0M1170 278h0M1171 263h0M1155 263h0M1165 265h0M1164 263h0M1168 262h0M1162 264h0M1158 252h0M1167 259h0M1158 264h0M1167 272h0M1164 265h0M1166 261h0M1159 254h0M1156 259h0M1162 262h0M1156 266h0M1169 258h0M1163 262h0M1170 272h0M1170 269h0M1174 269h0M1168 268h0M1173 266h0M1173 262h0M1160 265h0M1170 277h0M1166 259h0M1157 260h0M1165 263h0M1169 265h0M1163 279h0M1164 263h0M1160 261h0M1168 255h0M1165 261h0M1167 268h0M1166 270h0M1164 267h0M1161 256h0M1161 263h0M1170 275h0M1169 268h0M1162 274h0M1163 264h0M1178 270h0M1180 262h0M1169 258h0M1169 261h0M1175 268h0M1157 263h0M1162 265h0M1173 258h0M1166 269h0M1162 263h0M1163 271h0M1171 259h0M1173 274h0M1165 267h0M1170 269h0M1180 266h0M1165 266h0M1166 255h0M1172 267h0M1162 260h0M1158 266h0M1169 266h0M1173 263h0M1160 265h0M1176 273h0M1167 276h0M1161 262h0M1165 277h0M1150 267h0M1167 260h0M1169 254h0M1168 259h0M1163 266h0M1166 262h0M1167 261h0M1174 267h0M1169 273h0M1178 256h0M1168 258h0M1171 262h0M1163 263h0M1174 259h0M1169 263h0M1165 266h0M1177 262h0M1168 267h0M1158 263h0M1170 267h0M1168 259h0M1165 268h0M1163 270h0M1169 274h0M1158 265h0M1158 259h0M1178 269h0M1169 259h0M1167 268h0M1175 253h0M1166 258h0M1180 274h0M1167 263h0M1175 274h0M1165 270h0M1169 266h0M1158 277h0M1166 259h0M1159 274h0M1169 270h0M1168 257h0M1166 260h0M1161 266h0M1163 267h0M1168 262h0M1162 263h0M1173 271h0M1174 260h0M1162 266h0M1167 269h0M1169 257h0M1168 274h0M1166 265h0M1167 256h0M1171 267h0M1172 262h0M1163 259h0M1166 265h0M1170 259h0M1163 258h0M1164 270h0M1172 265h0M1173 267h0M1164 269h0M1160 261h0M1168 265h0M1163 263h0M1161 260h0M1183 268h0M1173 272h0M1158 269h0M1163 257h0M1164 266h0M1173 271h0M1168 272h0M1155 264h0M1171 279h0M1158 251h0M1166 263h0M1170 264h0M1161 262h0M1169 279h0M1150 258h0M1166 262h0M1158 262h0M1164 266h0M1170 263h0M1170 261h0M1164 267h0M1165 269h0M1172 261h0M1179 269h0M1163 258h0M1166 265h0M1171 267h0M1171 256h0M1164 264h0M1171 264h0M1168 259h0M1174 265h0M1159 263h0M1165 266h0M1178 258h0M1175 258h0M1166 258h0M1167 271h0M1177 270h0M1166 270h0M1158 264h0M1163 253h0M1165 257h0M1174 260h0M1174 263h0M1173 268h0M1175 260h0M1159 266h0M1181 272h0M1167 271h0M1167 266h0M1174 267h0M1166 265h0M1174 272h0M1176 268h0M1161 270h0M1165 260h0M1166 261h0M1160 265h0M1162 270h0M1169 258h0M1170 267h0M1160 269h0M1165 263h0M1171 252h0M1164 269h0M1169 273h0M1170 265h0M1174 264h0M1172 250h0M1159 271h0M1173 268h0M1173 255h0M1170 257h0M1164 260h0M1173 260h0M1173 269h0M1169 267h0M1174 266h0M1171 268h0M1157 276h0M1170 264h0M1171 260h0M1166 258h0M1166 271h0M1159 259h0M1170 261h0M1182 260h0M1174 265h0M1170 271h0M1178 273h0M1171 264h0M1172 270h0M1167 260h0M1162 257h0M1169 271h0M1170 264h0M1161 268h0M1183 274h0M1167 273h0M1167 265h0M1168 257h0M1176 262h0M1168 266h0M1171 260h0M1163 263h0M1162 260h0M1171 263h0M1171 263h0" stroke="#0000FF" stroke-width="1.4" stroke-linecap="square"/>
<path d="M1161 251h0M1195 252h0M1165 322h0M1196 250h0M1131 277h0M1159 306h0M1138 286h0M1146 253h0M1193 312h0M1169 279h0M1140 322h0M1124 303h0M1133 288h0M1155 260h0M1145 277h0M1138 250h0M1191 248h0M1154 237h0M1115 255h0M1215 275h0M1173 294h0M1121 243h0M1148 299h0M1156 235h0M1148 223h0M1159 231h0M1124 216h0M1127 252h0M1175 257h0M1143 254h0M1153 258h0M1115 262h0M1168 222h0M1094 293h0M1146 245h0M1106 261h0M1182 251h0M1156 335h0M1171 266h0M1116 305h0M1180 260h0M1174 286h0M1198 296h0M1154 292h0M1145 239h0M1141 257h0M1186 272h0M1166 247h0M1173 253h0M1106 288h0" stroke="#0000FF" stroke-width="1.4" stroke-linecap="square"/>
<g transform="translate(1141 282) rotate(-15)" filter="url(#bl)"><ellipse cx="0.0" cy="0.0" rx="23.0" ry="15.0" fill="#0000FF"/><ellipse cx="0.0" cy="0.0" rx="19.8" ry="12.9" fill="#0070FF"/><ellipse cx="0.0" cy="0.0" rx="16.6" ry="10.8" fill="#00E0FF"/><ellipse cx="0.0" cy="0.0" rx="13.3" ry="8.7" fill="#20FF60"/><ellipse cx="0.0" cy="0.0" rx="10.6" ry="6.9" fill="#C8FF00"/><ellipse cx="0.0" cy="0.0" rx="8.5" ry="5.5" fill="#FFD000"/><ellipse cx="0.0" cy="0.0" rx="6.4" ry="4.2" fill="#FF2000"/></g>
<path d="M1132 208h0M1138 219h0M1138 223h0M1153 220h0M1157 222h0M1131 230h0M1144 236h0M1145 239h0M1109 248h0M1110 260h0M1085 260h0M1088 282h0M1077 291h0M1094 306h0M1131 328h0M1141 329h0M1169 306h0M1180 308h0M1221 308h0" stroke="#0000FF" stroke-width="1.6" stroke-linecap="square"/>
<polygon points="1155.0,264.2 1196.3,181.6 1222.2,180.1 1223.0,219.7 1168.5,275.9" fill="none" stroke="#1a1a1a" stroke-width="1.3" stroke-linejoin="miter"/>
<text x="1197.10" y="225.20" font-size="12.5" text-anchor="middle" font-weight="normal">1.71</text>
<rect x="1068.2" y="156.2" width="181.1" height="185.6" fill="none" stroke="#333" stroke-width="1.1"/>
<path d="M1062.7 156.6h5.5 M1062.7 187.2h5.5 M1062.7 218.9h5.5 M1062.7 257.4h5.5 M1062.7 294.5h5.5 M1062.7 332.3h5.5 M1065.7 178.0h2.5 M1065.7 172.6h2.5 M1065.7 168.8h2.5 M1065.7 165.8h2.5 M1065.7 163.4h2.5 M1065.7 161.3h2.5 M1065.7 159.5h2.5 M1065.7 158.0h2.5 M1065.7 209.4h2.5 M1065.7 203.8h2.5 M1065.7 199.8h2.5 M1065.7 196.7h2.5 M1065.7 194.2h2.5 M1065.7 192.1h2.5 M1065.7 190.3h2.5 M1065.7 188.6h2.5 M1065.7 245.8h2.5 M1065.7 239.0h2.5 M1065.7 234.2h2.5 M1065.7 230.5h2.5 M1065.7 227.5h2.5 M1065.7 224.9h2.5 M1065.7 222.7h2.5 M1065.7 220.7h2.5 M1065.7 264.8h2.5 M1065.7 272.2h2.5 M1065.7 279.6h2.5 M1065.7 287.0h2.5 M1065.7 302.0h2.5 M1065.7 309.6h2.5 M1065.7 317.2h2.5 M1065.7 324.8h2.5" stroke="#111" stroke-width="1" fill="none"/>
<path d="M1062.7 289.5h5.5M1064.2 292.0h4M1062.7 294.5h5.5M1064.2 297.0h4M1062.7 299.5h5.5" stroke="#000" stroke-width="1.6"/><rect x="1065.7" y="289.5" width="2.5" height="10" fill="#000"/>
<path d="M1076.7 341.8v5.5 M1117.1 341.8v5.5 M1156.9 341.8v5.5 M1197.9 341.8v5.5 M1232.3 341.8v5.5 M1248.0 341.8v5.5 M1084.8 341.8v2.5 M1092.9 341.8v2.5 M1100.9 341.8v2.5 M1109.0 341.8v2.5 M1125.1 341.8v2.5 M1133.0 341.8v2.5 M1141.0 341.8v2.5 M1149.0 341.8v2.5 M1169.3 341.8v2.5 M1176.5 341.8v2.5 M1181.6 341.8v2.5 M1185.5 341.8v2.5 M1188.8 341.8v2.5 M1191.5 341.8v2.5 M1193.9 341.8v2.5 M1196.0 341.8v2.5 M1208.2 341.8v2.5 M1214.3 341.8v2.5 M1218.6 341.8v2.5 M1221.9 341.8v2.5 M1224.6 341.8v2.5 M1226.9 341.8v2.5 M1228.9 341.8v2.5 M1230.7 341.8v2.5 M1237.0 341.8v2.5 M1239.8 341.8v2.5 M1241.8 341.8v2.5 M1243.3 341.8v2.5 M1244.5 341.8v2.5 M1245.6 341.8v2.5 M1246.5 341.8v2.5 M1247.3 341.8v2.5" stroke="#111" stroke-width="1" fill="none"/>
<path d="M1113.1 341.8v5.5M1115.1 341.8v4M1117.1 341.8v5.5M1119.1 341.8v4M1121.1 341.8v5.5" stroke="#000" stroke-width="1.5"/><rect x="1113.1" y="341.8" width="8" height="2.5" fill="#000"/>
</g>
<g>
<ellipse cx="0" cy="0" rx="42" ry="17" fill="#1010FF" opacity="0.3" transform="translate(1373 276) rotate(-3)" filter="url(#blo)"/>
<path d="M1380 288h0M1416 275h0M1339 261h0M1374 266h0M1408 279h0M1343 263h0M1412 284h0M1400 288h0M1387 270h0M1379 277h0M1358 277h0M1366 258h0M1378 271h0M1437 285h0M1397 274h0M1322 270h0M1364 285h0M1320 278h0M1405 280h0M1347 277h0M1384 285h0M1362 275h0M1368 268h0M1358 284h0M1362 273h0M1354 271h0M1392 278h0M1384 278h0M1375 282h0M1355 275h0M1345 289h0M1392 276h0M1385 282h0M1392 281h0M1373 276h0M1399 281h0M1384 286h0M1354 278h0M1346 288h0M1391 276h0M1362 276h0M1307 287h0M1390 281h0M1353 275h0M1361 277h0M1356 270h0M1420 269h0M1379 280h0M1407 285h0M1365 283h0M1396 279h0M1321 264h0M1355 292h0M1399 274h0M1376 279h0M1374 283h0M1353 274h0M1367 266h0M1341 272h0M1342 285h0M1399 279h0M1346 281h0M1375 265h0M1402 279h0M1390 258h0M1350 295h0M1350 292h0M1384 271h0M1352 270h0M1360 258h0M1410 296h0M1378 277h0M1357 276h0M1360 287h0M1353 277h0M1411 287h0M1355 263h0M1420 267h0M1364 277h0M1393 272h0M1363 274h0M1343 287h0M1361 279h0M1355 285h0M1422 269h0M1374 276h0M1411 270h0M1402 278h0M1396 271h0M1353 275h0M1396 275h0M1394 289h0M1332 270h0M1357 272h0M1386 267h0M1350 277h0M1371 278h0M1371 264h0M1359 281h0M1381 280h0M1344 273h0M1327 277h0M1348 283h0M1365 287h0M1428 276h0M1383 266h0M1358 257h0M1356 297h0M1389 287h0M1367 275h0M1376 273h0M1385 281h0M1337 261h0M1366 275h0M1335 285h0M1407 279h0M1336 280h0M1348 286h0M1381 279h0M1395 281h0M1438 262h0M1376 284h0M1391 254h0M1400 271h0M1347 293h0M1368 283h0M1388 281h0M1400 278h0M1405 275h0M1350 290h0M1374 283h0M1334 257h0M1376 279h0M1411 264h0M1350 280h0M1404 278h0M1386 283h0M1428 286h0M1365 264h0M1328 277h0M1349 279h0M1367 258h0M1398 281h0M1350 267h0M1410 277h0M1366 269h0M1355 291h0M1353 278h0M1362 276h0M1341 289h0M1375 283h0M1347 277h0M1424 274h0M1360 266h0M1355 282h0M1360 272h0M1402 289h0M1371 300h0M1362 274h0M1331 271h0M1354 298h0M1343 278h0M1376 281h0M1314 278h0M1341 277h0M1322 276h0M1364 267h0M1376 280h0M1392 266h0M1338 279h0M1373 272h0M1329 279h0M1400 267h0M1385 265h0M1389 264h0M1399 275h0M1400 272h0M1336 270h0M1346 280h0M1355 282h0M1368 273h0M1358 275h0M1385 287h0M1359 278h0M1399 287h0M1349 268h0M1358 288h0M1361 285h0M1368 282h0M1383 275h0M1355 278h0M1433 265h0M1392 274h0M1337 278h0M1394 265h0M1343 285h0M1337 289h0M1401 270h0M1377 286h0M1395 259h0M1334 280h0M1402 288h0M1382 275h0M1350 284h0M1374 293h0M1422 281h0M1351 277h0M1401 278h0M1386 271h0M1313 286h0M1420 271h0M1377 261h0M1411 295h0M1408 266h0M1376 278h0M1382 272h0M1385 278h0M1342 270h0M1416 277h0M1385 294h0M1356 288h0M1402 269h0M1369 280h0M1332 265h0M1357 289h0M1367 291h0M1328 277h0M1382 286h0M1393 285h0M1391 277h0M1414 282h0M1357 285h0M1389 278h0M1388 274h0M1362 264h0M1363 289h0M1306 277h0M1389 282h0M1332 279h0M1380 286h0M1375 271h0M1388 277h0M1344 279h0M1380 276h0M1361 277h0M1375 283h0M1344 274h0M1389 273h0M1348 268h0M1335 271h0M1371 282h0M1377 278h0M1388 276h0M1339 280h0M1378 294h0M1374 295h0M1368 266h0M1366 275h0M1370 274h0M1433 276h0M1368 277h0M1372 286h0M1373 285h0M1348 280h0M1370 279h0M1341 273h0M1333 283h0M1405 275h0M1336 276h0M1400 262h0M1364 278h0M1360 280h0M1384 280h0M1396 285h0M1331 270h0M1367 278h0M1377 267h0M1341 293h0M1377 280h0M1417 259h0M1378 275h0M1370 289h0M1369 265h0M1342 268h0M1402 270h0M1343 277h0M1337 283h0M1375 279h0M1402 272h0M1395 262h0M1397 291h0M1351 285h0M1346 279h0M1386 272h0M1344 278h0M1371 280h0M1374 263h0M1401 280h0M1334 278h0M1400 293h0M1369 273h0M1405 275h0M1371 264h0M1346 282h0M1421 278h0M1368 274h0M1342 269h0M1393 291h0M1364 270h0M1331 276h0M1399 262h0M1365 288h0M1413 269h0M1379 281h0M1377 276h0M1378 278h0M1368 276h0M1364 297h0M1373 286h0M1350 291h0M1400 277h0M1437 281h0M1421 267h0M1315 286h0M1374 272h0M1346 283h0M1395 285h0M1372 274h0M1336 271h0M1407 264h0M1370 273h0M1354 267h0M1362 282h0M1365 280h0M1354 269h0M1393 275h0M1366 282h0M1398 271h0M1374 275h0M1407 264h0M1354 278h0M1309 268h0M1385 286h0M1415 272h0M1386 277h0M1353 280h0M1372 288h0M1365 266h0M1379 272h0M1376 280h0M1326 265h0M1382 283h0M1357 277h0M1385 272h0M1370 273h0M1399 275h0M1347 280h0M1353 275h0M1340 277h0M1393 282h0M1387 269h0M1372 277h0M1366 275h0M1334 295h0M1353 279h0M1377 268h0M1357 281h0M1372 281h0M1346 278h0M1348 279h0M1355 274h0M1388 285h0M1371 279h0M1347 274h0M1361 281h0M1416 259h0M1403 287h0M1387 274h0M1391 264h0M1337 280h0M1357 284h0M1348 263h0M1368 282h0M1334 280h0M1375 280h0M1393 278h0M1354 267h0M1388 274h0M1397 286h0M1356 273h0M1405 277h0M1343 277h0M1363 288h0M1339 273h0M1394 283h0M1378 273h0M1347 257h0M1390 278h0M1374 266h0M1326 276h0M1362 288h0M1432 263h0M1353 285h0M1398 282h0M1369 273h0M1360 266h0M1354 272h0M1403 287h0M1379 264h0M1368 273h0M1403 267h0M1383 276h0M1394 271h0M1415 278h0M1368 276h0M1361 287h0M1393 274h0M1446 277h0M1398 289h0M1402 279h0M1347 271h0M1393 275h0M1366 288h0M1392 288h0M1365 269h0M1370 285h0M1345 278h0M1389 278h0M1384 256h0M1387 285h0M1349 281h0M1372 277h0M1458 270h0M1340 272h0M1355 278h0M1383 272h0M1436 278h0M1373 274h0M1378 270h0M1367 273h0M1393 270h0M1343 275h0M1401 279h0M1362 277h0M1352 271h0M1380 271h0M1350 275h0M1374 282h0M1360 279h0M1384 291h0M1375 259h0M1380 268h0M1382 278h0M1344 259h0M1386 270h0M1399 264h0M1338 266h0M1380 289h0M1377 267h0M1387 264h0M1374 289h0M1370 265h0M1372 280h0M1332 283h0M1373 258h0M1385 267h0M1361 287h0M1389 271h0M1392 293h0M1412 270h0M1420 272h0M1343 270h0M1322 275h0M1370 292h0M1364 269h0M1383 277h0M1402 266h0M1391 267h0M1361 286h0M1358 282h0M1361 285h0M1381 280h0M1415 265h0M1392 278h0M1345 278h0M1381 267h0M1360 288h0M1363 266h0M1436 288h0M1360 281h0M1365 281h0M1392 295h0M1398 293h0M1378 271h0M1381 275h0M1306 292h0M1355 293h0M1336 275h0M1416 269h0M1376 290h0M1347 286h0M1379 270h0M1374 282h0M1421 294h0M1381 272h0M1382 279h0M1345 267h0M1353 277h0M1371 283h0M1366 277h0M1403 265h0M1327 291h0M1399 269h0M1406 278h0M1356 292h0M1332 273h0M1376 283h0M1376 285h0M1345 276h0M1409 273h0M1358 273h0M1373 275h0M1311 265h0M1413 286h0M1370 285h0M1354 283h0M1399 272h0M1366 280h0M1401 271h0M1391 276h0M1358 287h0M1410 265h0M1378 274h0M1342 279h0M1371 272h0M1338 285h0M1401 276h0M1319 285h0M1416 274h0M1330 269h0M1370 274h0M1365 277h0M1392 289h0M1384 275h0M1358 264h0M1410 272h0M1369 266h0M1383 276h0M1352 282h0M1434 272h0M1368 282h0M1355 275h0M1412 273h0M1377 269h0M1340 276h0M1369 267h0M1359 281h0M1379 291h0M1353 268h0M1384 273h0M1388 270h0M1326 295h0M1361 283h0M1413 271h0M1336 281h0M1390 280h0M1328 277h0M1429 264h0M1406 263h0M1356 267h0M1402 284h0M1387 269h0M1386 280h0M1413 264h0M1370 282h0M1368 269h0M1364 295h0M1396 285h0M1385 275h0M1364 275h0M1365 275h0M1340 275h0M1375 268h0M1411 288h0M1349 268h0M1314 280h0M1354 276h0M1332 281h0M1346 280h0M1365 284h0M1358 284h0M1360 267h0M1397 276h0M1414 275h0M1370 294h0M1350 268h0M1381 266h0M1369 262h0M1409 281h0M1384 271h0M1336 291h0M1390 273h0M1343 279h0M1357 275h0M1336 290h0M1378 294h0M1383 276h0M1390 273h0M1394 283h0M1408 275h0M1369 288h0M1369 272h0M1400 272h0M1397 286h0M1352 278h0M1376 276h0M1366 289h0M1376 278h0M1374 272h0M1383 284h0M1347 283h0M1412 282h0M1410 276h0M1359 274h0M1371 296h0M1370 270h0M1408 284h0M1385 280h0M1361 267h0M1369 274h0M1335 300h0M1365 270h0M1368 281h0M1376 289h0M1370 290h0M1372 278h0M1379 277h0M1350 264h0M1331 274h0M1359 276h0M1376 285h0M1329 273h0M1386 269h0M1382 270h0M1338 272h0M1360 265h0M1367 271h0M1398 265h0M1384 271h0M1355 283h0M1390 267h0M1338 266h0M1352 286h0M1351 279h0M1338 278h0M1403 281h0M1363 282h0M1348 264h0M1353 263h0M1385 284h0M1374 280h0M1366 273h0M1388 267h0M1326 286h0M1352 294h0M1363 265h0M1385 267h0M1346 288h0M1393 288h0M1419 287h0M1393 273h0M1353 289h0M1401 273h0M1344 282h0M1413 285h0M1347 267h0M1379 273h0M1363 290h0M1388 286h0M1351 278h0M1403 281h0M1407 284h0M1382 273h0M1352 269h0M1355 274h0M1375 297h0M1374 273h0M1380 285h0M1361 279h0M1405 267h0M1364 285h0M1383 282h0M1374 295h0M1363 277h0M1391 272h0M1415 278h0M1371 262h0M1415 287h0M1391 286h0M1414 274h0M1345 286h0M1336 277h0M1321 271h0M1373 269h0M1373 264h0M1372 290h0M1358 276h0M1343 275h0M1325 278h0M1355 261h0M1400 290h0M1375 276h0M1326 287h0M1362 297h0M1418 281h0M1408 274h0M1341 278h0M1356 283h0M1369 269h0M1366 276h0M1443 272h0M1367 291h0M1330 275h0M1390 291h0M1338 281h0M1368 275h0M1332 278h0M1389 284h0M1356 277h0M1376 270h0M1340 281h0M1398 289h0M1388 276h0M1378 264h0M1360 260h0M1358 263h0M1391 296h0M1366 269h0M1378 271h0M1389 264h0M1407 289h0M1368 268h0M1381 267h0M1379 275h0M1408 281h0M1342 279h0M1358 289h0M1402 275h0M1377 268h0M1342 281h0M1385 270h0M1416 279h0M1417 261h0M1363 282h0M1391 279h0M1352 276h0M1337 284h0M1349 280h0M1399 290h0M1404 277h0M1315 279h0M1346 287h0M1326 278h0M1310 277h0M1360 276h0M1384 275h0M1397 278h0M1352 268h0M1404 282h0M1360 265h0M1353 274h0M1385 278h0M1393 283h0M1353 270h0M1362 271h0M1387 287h0M1384 269h0M1406 291h0M1403 283h0M1351 284h0M1387 273h0M1395 258h0M1411 253h0M1375 274h0M1368 281h0M1367 287h0M1327 289h0M1412 271h0M1321 277h0M1380 278h0M1397 269h0M1397 266h0M1348 276h0M1370 257h0M1354 277h0M1355 282h0M1385 270h0M1348 276h0M1425 283h0M1351 266h0M1346 297h0M1347 280h0M1411 279h0M1351 268h0M1393 283h0M1367 278h0M1404 277h0M1404 284h0M1382 292h0M1363 285h0M1348 289h0M1329 269h0M1352 295h0M1383 293h0M1391 264h0M1374 281h0M1360 286h0M1392 275h0M1361 269h0M1439 287h0M1375 281h0M1378 279h0M1370 276h0M1371 271h0M1359 293h0M1402 287h0M1421 272h0M1369 282h0M1378 274h0M1349 287h0M1387 266h0M1350 278h0M1360 265h0M1384 268h0M1375 268h0M1393 286h0M1387 278h0M1397 276h0M1435 266h0M1347 294h0M1415 268h0M1366 286h0M1355 266h0M1397 271h0M1371 274h0M1386 271h0M1372 276h0M1349 284h0M1342 280h0M1423 273h0M1367 279h0M1387 291h0M1365 267h0M1372 271h0M1344 280h0M1359 286h0M1398 283h0M1353 270h0M1384 260h0M1355 271h0M1357 284h0M1382 275h0M1389 283h0M1388 288h0M1411 272h0M1343 276h0M1350 285h0M1367 270h0M1378 282h0M1406 277h0M1366 272h0M1347 274h0M1382 280h0M1379 258h0M1364 288h0M1344 283h0M1359 287h0M1385 282h0M1389 285h0M1347 271h0M1360 289h0M1319 288h0M1365 281h0M1353 281h0M1392 264h0M1401 273h0M1376 265h0M1382 278h0M1422 262h0M1366 279h0M1386 292h0M1345 289h0M1366 271h0M1387 279h0M1372 283h0M1333 280h0M1353 277h0M1378 276h0M1381 268h0M1373 276h0M1437 278h0M1343 280h0M1424 280h0M1337 295h0M1393 281h0M1407 260h0M1380 275h0M1380 260h0M1401 266h0M1387 285h0M1377 278h0M1340 273h0M1380 274h0M1389 268h0M1372 270h0M1331 280h0M1369 279h0M1361 290h0M1447 285h0M1341 278h0M1411 283h0M1349 275h0M1374 272h0M1379 294h0M1402 294h0M1405 252h0M1386 265h0M1385 291h0M1384 256h0M1372 274h0M1396 264h0M1365 276h0M1375 280h0M1401 277h0M1413 277h0M1433 281h0M1376 268h0M1364 274h0M1407 273h0M1372 281h0M1372 284h0M1357 272h0M1366 286h0M1346 261h0M1375 272h0M1383 275h0M1413 278h0M1360 276h0M1414 270h0M1382 291h0M1392 284h0M1346 280h0M1410 281h0M1327 290h0M1395 277h0M1391 268h0M1413 287h0M1394 284h0M1341 277h0M1373 283h0M1340 280h0M1404 268h0M1416 279h0M1359 270h0M1414 271h0M1353 277h0M1402 286h0M1363 261h0M1411 276h0M1365 278h0M1331 293h0M1386 294h0M1337 271h0M1334 290h0M1356 280h0M1352 268h0M1355 280h0M1360 274h0M1375 272h0M1371 267h0M1333 268h0M1345 285h0M1332 268h0M1439 270h0M1401 268h0M1362 275h0M1361 282h0M1376 286h0M1366 280h0M1351 288h0M1339 267h0M1353 272h0M1329 264h0M1347 279h0M1413 269h0M1348 279h0M1394 287h0M1391 270h0M1392 257h0M1381 291h0M1396 295h0M1361 279h0M1369 284h0M1402 275h0M1389 279h0M1377 265h0M1379 284h0M1357 264h0M1399 289h0M1367 286h0M1338 290h0M1366 287h0M1343 281h0M1355 262h0M1331 284h0M1358 284h0M1383 283h0M1363 272h0M1367 281h0M1352 283h0M1373 277h0M1408 283h0M1325 270h0M1429 287h0M1378 269h0M1351 281h0M1405 271h0M1390 281h0M1355 286h0M1323 278h0M1359 292h0M1360 267h0M1354 262h0M1383 265h0M1384 278h0M1379 278h0M1385 284h0M1344 283h0M1334 276h0M1343 289h0M1382 273h0M1365 269h0M1389 269h0M1388 287h0M1321 295h0M1396 287h0M1349 264h0M1363 275h0M1375 267h0M1435 279h0M1384 278h0M1323 286h0M1356 264h0M1347 276h0M1409 288h0M1348 286h0M1374 283h0M1372 272h0M1338 283h0M1350 271h0M1392 295h0M1415 270h0M1419 260h0M1391 278h0M1366 280h0M1341 271h0M1330 269h0M1340 273h0M1374 262h0M1380 276h0M1358 275h0M1391 262h0M1374 274h0M1383 281h0M1424 273h0M1394 264h0M1336 271h0M1318 285h0M1364 269h0M1375 288h0M1352 279h0M1408 289h0M1394 273h0M1384 277h0M1351 269h0M1377 263h0M1344 270h0M1394 268h0M1359 270h0M1375 284h0M1434 284h0M1378 267h0M1403 255h0M1414 275h0M1350 284h0M1387 281h0M1363 263h0M1400 279h0M1355 279h0M1413 276h0M1323 275h0M1400 284h0M1357 280h0M1356 282h0M1377 283h0M1375 276h0M1374 281h0M1393 259h0M1363 285h0M1352 282h0M1384 281h0M1385 273h0M1405 265h0M1399 269h0M1368 285h0M1364 278h0M1377 269h0M1373 259h0M1355 275h0M1390 274h0M1338 277h0M1415 275h0M1383 276h0M1369 270h0M1372 278h0M1348 286h0M1378 289h0M1375 284h0M1340 283h0M1368 275h0M1344 288h0M1379 285h0M1401 268h0M1325 280h0M1364 267h0M1367 273h0M1351 278h0M1358 278h0M1404 282h0M1383 288h0M1375 278h0M1372 263h0M1373 266h0M1413 277h0M1353 286h0M1374 269h0M1401 281h0M1390 287h0M1336 270h0M1365 278h0M1348 274h0M1388 296h0M1389 264h0M1400 279h0M1381 272h0M1346 270h0M1422 282h0M1346 278h0M1341 273h0M1379 292h0M1334 292h0M1396 265h0M1350 289h0M1426 281h0M1380 281h0M1355 273h0M1348 276h0M1361 279h0M1361 287h0M1342 286h0M1379 287h0M1371 292h0M1363 292h0M1348 284h0M1381 275h0M1380 276h0M1382 279h0M1338 279h0M1390 268h0M1385 281h0M1398 276h0M1349 273h0M1359 286h0M1403 279h0M1359 287h0M1342 289h0M1363 279h0M1346 286h0M1388 287h0M1363 296h0M1309 281h0M1384 283h0M1356 280h0M1359 283h0M1377 270h0M1395 262h0M1364 283h0M1320 270h0M1418 283h0M1344 278h0M1381 301h0M1376 283h0M1380 272h0M1371 276h0M1366 277h0M1354 270h0M1378 282h0M1416 293h0M1366 277h0M1382 281h0M1360 274h0M1448 273h0M1330 274h0M1386 277h0M1347 272h0M1432 263h0M1402 277h0M1408 277h0M1397 274h0M1365 287h0M1345 264h0M1388 278h0M1360 281h0M1372 269h0M1366 284h0M1348 299h0M1367 268h0M1406 277h0M1383 292h0M1374 276h0M1424 275h0M1357 277h0M1390 287h0M1357 272h0M1382 281h0M1367 274h0M1335 286h0M1368 264h0M1397 276h0M1343 285h0M1403 281h0M1440 270h0M1348 282h0M1382 286h0M1370 269h0M1351 289h0M1373 277h0M1398 269h0M1389 263h0M1374 273h0M1395 283h0M1373 278h0M1329 275h0M1388 297h0M1419 289h0M1371 270h0M1342 276h0M1342 289h0M1362 264h0M1346 293h0M1394 279h0M1350 272h0M1410 283h0M1386 265h0M1391 291h0M1356 263h0M1343 277h0M1335 282h0M1366 282h0M1361 279h0M1390 290h0M1421 277h0M1350 262h0M1359 267h0M1379 281h0M1402 263h0M1392 297h0M1349 266h0M1375 269h0M1357 282h0M1392 285h0M1340 290h0M1368 281h0M1402 278h0M1426 272h0M1348 266h0M1417 277h0M1358 274h0M1412 278h0M1401 280h0M1409 277h0M1436 279h0M1374 274h0M1438 275h0M1393 263h0M1326 282h0M1369 261h0M1371 281h0M1339 281h0M1400 270h0M1374 279h0M1404 294h0M1411 275h0M1400 272h0M1397 267h0M1352 283h0M1390 278h0M1410 280h0M1373 277h0M1366 278h0M1355 273h0M1360 275h0M1406 269h0M1371 261h0M1365 278h0M1341 273h0M1373 266h0M1356 277h0M1378 280h0M1350 290h0M1399 279h0M1364 275h0M1432 289h0M1375 272h0M1401 275h0M1390 293h0M1358 282h0M1304 278h0M1374 288h0M1367 277h0M1391 280h0M1374 264h0M1403 282h0M1378 272h0M1339 278h0M1358 274h0M1360 267h0M1391 275h0M1376 281h0M1359 270h0M1335 276h0M1393 286h0M1404 284h0M1383 273h0M1361 275h0M1368 268h0M1382 284h0M1359 263h0M1364 290h0M1346 287h0M1355 277h0M1375 278h0M1391 273h0M1348 263h0M1339 288h0M1378 289h0M1347 272h0M1377 273h0M1341 287h0M1368 274h0M1368 279h0M1366 277h0M1404 269h0M1379 274h0M1360 280h0M1346 285h0M1405 255h0M1348 291h0M1400 259h0M1374 292h0M1405 280h0M1390 273h0M1353 287h0M1352 288h0M1382 279h0M1389 278h0M1354 276h0M1341 293h0M1362 259h0M1392 272h0M1390 286h0M1378 272h0M1366 280h0M1383 270h0M1335 283h0M1400 278h0M1346 294h0M1408 281h0M1355 276h0M1406 259h0M1335 298h0M1336 273h0M1358 281h0M1410 278h0M1345 281h0M1324 283h0M1394 291h0M1348 278h0M1338 288h0M1348 276h0M1375 286h0M1351 274h0M1348 284h0M1333 280h0M1368 285h0M1373 280h0M1378 269h0M1417 286h0M1373 282h0M1334 265h0M1361 279h0M1371 269h0M1376 262h0M1397 276h0M1390 262h0M1371 294h0M1358 287h0M1354 278h0M1354 277h0M1350 306h0M1342 288h0M1362 287h0M1363 276h0M1357 270h0M1371 274h0M1372 282h0M1356 294h0M1379 271h0M1366 283h0M1377 275h0M1341 260h0M1352 291h0M1361 284h0M1366 282h0M1369 278h0M1401 263h0M1391 272h0M1365 277h0M1430 297h0M1372 291h0M1385 271h0M1390 264h0M1383 272h0M1310 275h0M1391 272h0M1379 277h0M1376 285h0M1365 259h0M1363 289h0M1319 283h0M1376 289h0M1344 266h0M1381 262h0M1397 283h0M1377 286h0M1414 284h0M1362 289h0M1357 264h0M1361 276h0M1359 295h0M1323 265h0M1340 284h0M1416 282h0M1407 268h0M1387 278h0M1381 284h0M1377 267h0M1394 275h0M1358 261h0M1329 285h0M1371 281h0M1332 283h0M1392 259h0M1392 262h0M1396 271h0M1381 263h0M1392 281h0M1402 289h0M1391 275h0M1370 276h0M1350 278h0M1356 271h0M1384 282h0M1388 271h0M1389 272h0M1381 275h0M1331 292h0M1381 293h0M1408 276h0M1371 274h0M1412 262h0M1357 270h0M1365 269h0M1369 279h0M1346 286h0M1365 276h0M1351 287h0M1417 274h0" stroke="#0000FF" stroke-width="1.4" stroke-linecap="square"/>
<path d="M1381 217h0M1407 239h0M1386 239h0M1348 227h0M1365 234h0M1411 249h0M1376 227h0M1389 231h0M1355 243h0M1384 240h0M1364 241h0M1383 213h0M1400 244h0M1386 232h0M1358 243h0M1399 238h0M1356 245h0M1387 242h0M1377 252h0M1376 262h0M1371 214h0M1380 247h0M1409 222h0M1375 246h0M1360 235h0M1360 269h0M1361 226h0M1376 227h0M1382 243h0M1393 246h0M1379 240h0M1360 235h0M1359 240h0M1392 250h0M1401 241h0M1374 255h0M1356 248h0M1369 236h0M1389 255h0M1359 233h0M1387 216h0M1367 241h0M1365 269h0M1407 251h0M1362 240h0M1363 239h0M1367 232h0M1378 248h0M1365 260h0M1371 241h0M1367 219h0M1390 251h0M1377 238h0M1383 231h0M1355 262h0M1387 249h0M1387 238h0M1355 237h0M1382 231h0M1393 248h0M1387 246h0M1369 239h0M1384 212h0M1388 260h0M1383 229h0M1376 258h0M1388 241h0M1410 253h0M1372 260h0M1374 246h0M1366 229h0M1392 241h0M1379 226h0M1371 236h0M1388 221h0M1373 251h0M1384 232h0M1386 240h0M1374 258h0M1354 229h0M1395 253h0M1385 231h0M1381 248h0M1388 260h0M1353 241h0M1398 241h0M1393 248h0M1402 252h0M1395 221h0M1357 244h0M1371 250h0M1380 230h0M1380 232h0M1367 244h0M1385 256h0M1385 243h0M1381 235h0M1386 213h0M1389 268h0M1396 227h0M1390 244h0M1402 238h0M1363 222h0M1391 261h0M1363 241h0M1422 237h0M1381 255h0M1359 240h0M1361 236h0M1385 223h0M1383 255h0M1380 240h0M1365 237h0M1395 246h0M1405 226h0M1368 243h0M1384 232h0M1372 233h0M1387 233h0M1366 256h0M1387 230h0M1342 236h0M1366 228h0M1388 229h0M1385 229h0M1388 232h0M1406 235h0M1376 248h0M1380 234h0M1369 236h0M1355 237h0M1391 243h0M1377 264h0M1375 230h0M1374 236h0M1399 247h0M1364 241h0M1378 257h0M1388 235h0M1394 251h0M1387 244h0M1384 242h0M1378 232h0M1389 235h0M1364 257h0M1377 233h0M1370 240h0M1379 232h0M1400 233h0M1366 261h0M1391 246h0M1382 240h0M1375 229h0M1356 253h0M1367 220h0M1376 206h0M1367 252h0M1371 232h0M1409 249h0M1390 239h0M1378 264h0M1385 244h0M1380 252h0M1387 241h0M1369 233h0M1386 244h0M1388 228h0M1341 222h0M1371 235h0M1359 247h0M1377 228h0M1392 241h0M1374 237h0M1374 249h0M1347 250h0M1390 244h0M1416 243h0M1386 248h0M1391 222h0M1356 227h0M1398 246h0M1341 254h0M1399 251h0M1357 242h0M1390 255h0M1367 261h0M1393 237h0M1369 237h0M1380 223h0M1386 251h0M1389 245h0M1422 244h0M1375 254h0M1381 242h0M1409 268h0M1365 258h0M1372 262h0M1369 274h0M1368 234h0M1377 246h0M1378 260h0M1396 231h0M1388 236h0M1363 228h0M1376 250h0M1377 242h0M1367 212h0M1392 267h0M1362 227h0M1392 249h0M1394 254h0M1360 236h0M1376 255h0M1370 214h0M1399 232h0M1371 232h0M1364 250h0M1381 242h0M1385 230h0M1363 258h0M1375 231h0M1360 233h0M1345 251h0M1373 258h0M1385 238h0" stroke="#0000FF" stroke-width="1.4" stroke-linecap="square"/>
<path d="M1402 260h0M1395 276h0M1406 254h0M1421 244h0M1425 258h0M1408 258h0M1410 230h0M1413 248h0M1419 255h0M1400 260h0M1390 243h0M1397 259h0M1391 257h0M1423 268h0M1427 267h0M1411 265h0M1400 262h0M1384 262h0M1414 264h0M1408 273h0M1418 258h0M1408 260h0M1418 268h0M1402 258h0M1403 266h0M1408 250h0M1426 261h0M1419 259h0M1428 264h0M1411 250h0M1402 254h0M1415 258h0M1406 253h0M1413 266h0M1402 261h0M1411 250h0M1409 262h0M1420 265h0M1412 265h0M1415 256h0M1389 252h0M1402 254h0M1412 250h0M1411 254h0M1392 264h0M1408 267h0M1409 261h0M1403 261h0M1409 251h0M1428 254h0M1428 264h0M1400 258h0M1418 262h0M1409 257h0M1404 246h0M1410 247h0M1415 243h0M1411 274h0M1412 266h0M1416 265h0M1420 253h0M1413 259h0M1402 249h0M1405 259h0M1410 255h0M1418 258h0M1415 265h0M1419 239h0M1414 262h0M1410 264h0M1423 259h0M1418 258h0M1426 260h0M1410 261h0M1406 252h0M1413 265h0M1414 267h0M1416 260h0M1401 256h0M1421 259h0M1399 251h0M1405 266h0M1412 276h0M1401 266h0M1403 251h0M1418 261h0M1404 250h0M1418 261h0M1396 240h0M1408 252h0M1417 268h0M1413 265h0M1412 233h0M1412 243h0M1404 258h0M1409 264h0M1405 257h0M1413 249h0M1393 267h0M1399 249h0M1428 253h0M1409 258h0M1396 276h0M1407 267h0M1399 276h0M1406 247h0M1414 262h0M1417 275h0M1412 272h0M1413 245h0M1398 265h0M1416 247h0M1398 245h0M1417 255h0M1406 248h0M1404 260h0M1407 242h0M1417 256h0M1406 265h0M1405 242h0M1409 252h0M1416 262h0M1409 253h0M1412 254h0M1416 263h0M1415 252h0M1414 261h0M1408 256h0M1429 265h0M1402 253h0M1399 242h0M1425 256h0M1428 256h0M1390 257h0M1417 253h0M1416 258h0M1397 249h0M1414 255h0M1419 256h0M1395 259h0M1408 261h0M1390 245h0M1408 244h0M1418 264h0M1420 260h0M1411 241h0M1408 264h0M1418 248h0M1399 260h0M1423 254h0M1396 258h0M1419 263h0M1422 267h0M1414 260h0M1417 264h0M1414 265h0M1413 250h0M1414 255h0M1411 256h0M1413 258h0M1397 255h0M1407 251h0M1408 280h0M1403 247h0M1417 255h0M1413 256h0M1410 262h0M1402 266h0M1421 260h0M1415 255h0M1422 259h0M1393 261h0M1398 259h0M1420 244h0M1411 245h0M1394 255h0M1405 253h0M1390 260h0M1408 254h0M1394 250h0M1408 266h0M1428 271h0M1406 252h0M1406 267h0M1404 256h0M1400 262h0M1410 248h0M1411 253h0M1409 247h0M1401 253h0M1407 253h0M1400 261h0M1420 259h0M1409 255h0M1414 244h0M1431 254h0M1414 259h0M1416 238h0M1404 261h0M1412 264h0M1408 249h0M1409 275h0M1398 251h0M1402 257h0M1413 254h0M1406 276h0M1421 251h0M1400 267h0M1412 254h0M1425 266h0M1408 257h0M1413 258h0M1416 270h0M1423 263h0M1403 267h0M1400 245h0M1414 239h0M1391 244h0M1403 265h0M1425 259h0M1416 263h0M1407 258h0M1405 251h0M1412 240h0M1412 257h0M1393 253h0M1409 249h0M1409 253h0M1408 253h0M1412 265h0M1394 256h0M1415 259h0M1416 256h0M1398 275h0M1404 259h0M1404 268h0M1406 247h0M1419 263h0M1406 239h0M1418 259h0" stroke="#0000FF" stroke-width="1.4" stroke-linecap="square"/>
<path d="M1473 287h0M1407 270h0M1462 290h0M1444 296h0M1439 286h0M1446 286h0M1431 285h0M1449 296h0M1441 288h0M1450 278h0M1422 286h0M1434 277h0M1430 271h0M1460 289h0M1462 266h0M1439 287h0M1427 292h0M1440 289h0M1439 283h0M1432 285h0M1464 284h0M1426 280h0M1456 297h0M1451 289h0M1454 276h0M1432 289h0M1447 301h0M1431 292h0M1469 278h0M1438 290h0M1448 288h0M1468 295h0M1423 279h0M1424 283h0M1454 287h0M1457 290h0M1429 269h0M1431 275h0M1416 282h0M1475 281h0M1454 290h0M1441 278h0M1474 285h0M1477 287h0M1438 285h0M1432 280h0M1451 279h0M1453 276h0M1408 283h0M1460 279h0M1476 295h0M1438 295h0M1435 285h0M1448 285h0M1463 276h0M1421 272h0M1435 283h0M1420 290h0M1414 277h0" stroke="#0000FF" stroke-width="1.4" stroke-linecap="square"/>
<g transform="translate(1375 278) rotate(-3)" filter="url(#bl)"><ellipse cx="0.0" cy="0.0" rx="34.0" ry="14.0" fill="#0000FF"/><ellipse cx="0.0" cy="0.0" rx="29.2" ry="12.0" fill="#0070FF"/><ellipse cx="0.0" cy="0.0" rx="24.5" ry="10.1" fill="#00E0FF"/><ellipse cx="0.0" cy="0.0" rx="19.7" ry="8.1" fill="#20FF60"/><ellipse cx="0.0" cy="0.0" rx="15.6" ry="6.4" fill="#C8FF00"/><ellipse cx="0.0" cy="0.0" rx="12.6" ry="5.2" fill="#FFD000"/><ellipse cx="0.0" cy="0.0" rx="9.5" ry="3.9" fill="#FF2000"/></g>
<path d="M1369 203h0M1356 215h0M1346 219h0M1393 212h0M1392 215h0M1356 241h0M1313 268h0M1314 300h0M1359 305h0M1375 308h0M1384 323h0M1394 323h0M1408 305h0M1429 302h0M1473 303h0M1466 288h0M1468 274h0" stroke="#0000FF" stroke-width="1.6" stroke-linecap="square"/>
<polygon points="1398.4,260.5 1429.6,176.7 1453.8,174.4 1464.3,206.0 1413.4,275.0" fill="none" stroke="#1a1a1a" stroke-width="1.3" stroke-linejoin="miter"/>
<text x="1431.70" y="229.20" font-size="12.5" text-anchor="middle" font-weight="normal">1.46</text>
<rect x="1302.3" y="151.3" width="180.2" height="185.7" fill="none" stroke="#333" stroke-width="1.1"/>
<path d="M1296.8 151.7h5.5 M1296.8 182.3h5.5 M1296.8 214.1h5.5 M1296.8 252.5h5.5 M1296.8 289.6h5.5 M1296.8 327.5h5.5 M1299.8 173.1h2.5 M1299.8 167.7h2.5 M1299.8 163.9h2.5 M1299.8 160.9h2.5 M1299.8 158.5h2.5 M1299.8 156.4h2.5 M1299.8 154.6h2.5 M1299.8 153.1h2.5 M1299.8 204.5h2.5 M1299.8 198.9h2.5 M1299.8 194.9h2.5 M1299.8 191.9h2.5 M1299.8 189.4h2.5 M1299.8 187.2h2.5 M1299.8 185.4h2.5 M1299.8 183.8h2.5 M1299.8 240.9h2.5 M1299.8 234.2h2.5 M1299.8 229.4h2.5 M1299.8 225.6h2.5 M1299.8 222.6h2.5 M1299.8 220.0h2.5 M1299.8 217.8h2.5 M1299.8 215.8h2.5 M1299.8 259.9h2.5 M1299.8 267.4h2.5 M1299.8 274.8h2.5 M1299.8 282.2h2.5 M1299.8 297.2h2.5 M1299.8 304.8h2.5 M1299.8 312.4h2.5 M1299.8 320.0h2.5" stroke="#111" stroke-width="1" fill="none"/>
<path d="M1296.8 284.6h5.5M1298.3 287.1h4M1296.8 289.6h5.5M1298.3 292.1h4M1296.8 294.6h5.5" stroke="#000" stroke-width="1.6"/><rect x="1299.8" y="284.6" width="2.5" height="10" fill="#000"/>
<path d="M1310.2 337.0v5.5 M1347.0 337.0v5.5 M1382.8 337.0v5.5 M1420.0 337.0v5.5 M1451.1 337.0v5.5 M1481.6 337.0v5.5 M1317.6 337.0v2.5 M1324.9 337.0v2.5 M1332.3 337.0v2.5 M1339.6 337.0v2.5 M1354.2 337.0v2.5 M1361.3 337.0v2.5 M1368.5 337.0v2.5 M1375.7 337.0v2.5 M1394.0 337.0v2.5 M1400.6 337.0v2.5 M1405.2 337.0v2.5 M1408.8 337.0v2.5 M1411.7 337.0v2.5 M1414.2 337.0v2.5 M1416.4 337.0v2.5 M1418.3 337.0v2.5 M1429.4 337.0v2.5 M1434.8 337.0v2.5 M1438.7 337.0v2.5 M1441.8 337.0v2.5 M1444.2 337.0v2.5 M1446.3 337.0v2.5 M1448.1 337.0v2.5 M1449.7 337.0v2.5 M1460.3 337.0v2.5 M1465.7 337.0v2.5 M1469.5 337.0v2.5 M1472.4 337.0v2.5 M1474.8 337.0v2.5 M1476.9 337.0v2.5 M1478.6 337.0v2.5 M1480.2 337.0v2.5" stroke="#111" stroke-width="1" fill="none"/>
<path d="M1343.0 337.0v5.5M1345.0 337.0v4M1347.0 337.0v5.5M1349.0 337.0v4M1351.0 337.0v5.5" stroke="#000" stroke-width="1.5"/><rect x="1343.0" y="337.0" width="8" height="2.5" fill="#000"/>
</g>
<g>
<ellipse cx="0" cy="0" rx="17" ry="29" fill="#1010FF" opacity="0.25" transform="translate(886 470) rotate(0)" filter="url(#blo)"/>
<path d="M902 460h0M888 424h0M886 471h0M884 481h0M884 471h0M879 467h0M886 485h0M879 453h0M882 460h0M883 491h0M882 500h0M898 470h0M885 472h0M878 479h0M891 465h0M881 478h0M873 461h0M876 442h0M876 479h0M899 455h0M880 479h0M888 459h0M879 487h0M868 447h0M886 475h0M877 454h0M897 473h0M874 476h0M883 489h0M895 455h0M879 470h0M881 479h0M883 498h0M876 447h0M881 461h0M881 460h0M877 477h0M885 465h0M871 479h0M900 467h0M886 489h0M885 484h0M882 457h0M900 447h0M893 490h0M888 471h0M896 454h0M885 475h0M888 444h0M888 463h0M900 503h0M871 475h0M882 431h0M892 509h0M882 498h0M901 478h0M888 498h0M868 467h0M876 478h0M887 476h0M891 505h0M901 472h0M884 492h0M890 487h0M860 489h0M897 429h0M887 476h0M869 489h0M890 454h0M877 469h0M887 462h0M889 491h0M888 469h0M905 488h0M882 470h0M880 468h0M882 456h0M893 464h0M878 461h0M876 468h0M884 456h0M896 474h0M894 472h0M892 446h0M883 486h0M881 476h0M871 442h0M871 502h0M892 457h0M890 468h0M890 463h0M886 487h0M894 473h0M892 472h0M889 455h0M884 493h0M887 477h0M902 489h0M905 487h0M903 453h0M891 472h0M870 475h0M889 473h0M891 471h0M903 464h0M887 444h0M884 479h0M891 481h0M888 474h0M881 496h0M876 467h0M873 486h0M883 469h0M873 496h0M880 488h0M887 470h0M885 459h0M891 482h0M910 445h0M884 456h0M882 449h0M876 483h0M881 466h0M895 474h0M890 468h0M887 463h0M900 468h0M880 465h0M889 461h0M902 477h0M893 473h0M876 463h0M892 473h0M881 449h0M878 479h0M864 499h0M861 457h0M901 466h0M883 441h0M882 476h0M879 473h0M880 462h0M882 493h0M899 491h0M875 452h0M876 466h0M895 494h0M872 485h0M881 463h0M895 444h0M896 503h0M898 457h0M890 479h0M876 496h0M885 488h0M885 462h0M882 481h0M891 490h0M870 443h0M894 467h0M899 480h0M884 474h0M883 456h0M889 463h0M885 467h0M873 468h0M889 455h0M893 461h0M908 432h0M898 497h0M889 455h0M885 501h0M884 478h0M887 464h0M890 493h0M904 450h0M883 466h0M897 462h0M879 462h0M887 480h0M891 453h0M874 516h0M886 455h0M899 454h0M883 489h0M892 498h0M888 482h0M879 468h0M902 477h0M886 455h0M896 502h0M890 495h0M891 458h0M894 461h0M889 491h0M888 473h0M874 461h0M887 447h0M895 483h0M889 459h0M875 456h0M888 464h0M871 470h0M877 450h0M883 469h0M891 445h0M886 480h0M892 458h0M878 468h0M885 478h0M869 462h0M886 474h0M894 440h0M883 461h0M882 455h0M884 480h0M888 473h0M881 503h0M871 478h0M889 483h0M881 478h0M877 467h0M898 470h0M901 481h0M878 473h0M877 473h0M898 451h0M895 438h0M877 480h0M882 498h0M877 449h0M889 444h0M880 460h0M873 466h0M884 464h0M890 455h0M885 441h0M873 476h0M876 479h0M902 476h0M882 463h0M899 449h0M877 493h0M894 478h0M883 460h0M881 459h0M880 473h0M871 502h0M871 459h0M887 469h0M884 463h0M893 457h0M891 462h0M897 486h0M896 505h0M885 463h0M887 449h0M889 464h0M901 433h0M890 461h0M888 506h0M871 470h0M875 473h0M868 473h0M892 458h0M895 484h0M884 494h0M886 473h0M889 468h0M869 478h0M887 451h0M914 461h0M889 494h0M907 470h0M891 474h0M878 473h0M876 486h0M904 456h0M889 460h0M902 462h0M884 477h0M899 463h0M885 450h0M883 500h0M897 449h0M893 449h0M905 470h0M884 488h0M882 467h0M891 486h0M893 490h0M867 449h0M872 462h0M887 452h0M893 439h0M884 458h0M881 476h0M889 507h0M892 460h0M886 472h0M887 453h0M878 493h0M873 455h0M899 465h0M874 480h0M897 452h0M877 455h0M900 442h0M873 472h0M878 475h0M891 452h0M898 461h0M901 483h0M905 461h0M899 471h0M897 445h0M904 485h0M874 476h0M896 453h0M899 446h0M879 467h0M881 437h0M887 479h0M887 474h0M888 463h0M887 486h0M899 479h0M892 502h0M880 461h0M894 467h0M893 463h0M895 485h0M894 460h0M896 478h0M892 462h0M900 458h0M893 481h0M892 490h0M898 474h0M910 473h0M895 452h0M885 480h0M881 460h0M892 462h0M879 481h0M886 451h0M900 477h0M880 476h0M897 469h0M875 427h0M889 468h0M888 472h0M880 463h0M899 450h0M880 455h0M894 498h0M881 479h0M875 449h0M902 457h0M903 451h0M885 467h0M893 456h0M876 455h0M904 439h0M873 465h0M875 467h0M888 471h0M892 450h0M892 468h0M887 455h0M880 459h0M905 482h0M881 448h0M882 476h0M891 494h0M887 492h0M883 469h0M899 458h0M912 464h0M904 458h0M885 460h0M889 483h0M900 482h0M889 454h0M878 513h0M874 485h0M880 465h0M896 454h0M879 463h0M872 466h0M894 475h0M897 475h0M882 466h0M881 458h0M882 494h0M891 472h0M867 471h0M878 468h0M872 510h0M884 466h0M873 440h0M893 481h0M889 472h0M870 470h0M874 478h0M887 460h0M892 437h0M885 496h0M879 472h0M889 451h0M894 490h0M888 453h0M879 475h0M901 483h0M893 489h0M895 504h0M890 482h0M895 475h0M868 483h0M906 479h0M878 495h0M871 487h0M869 493h0M896 480h0M896 459h0M875 496h0M883 481h0M879 501h0M884 500h0M896 457h0M879 463h0M870 456h0M880 482h0M890 471h0M895 468h0M887 470h0M873 483h0M899 494h0M882 504h0M888 486h0M885 474h0M890 486h0M883 478h0M893 487h0M893 447h0M904 457h0M895 458h0M884 462h0M868 462h0M884 499h0M885 462h0M893 482h0M886 480h0M871 458h0M907 453h0M872 445h0M879 500h0M905 496h0M914 497h0M896 440h0M900 463h0M889 451h0M887 444h0M904 495h0M887 446h0M888 462h0M883 483h0M894 472h0M899 483h0M891 475h0M888 435h0M872 479h0M891 481h0M885 449h0M898 463h0M886 457h0M886 459h0M878 475h0M883 473h0M888 469h0M883 457h0M891 485h0M884 495h0M889 489h0M874 471h0M883 444h0M872 481h0M907 427h0M884 494h0M892 461h0M862 471h0M902 492h0M872 476h0M891 451h0M872 458h0M896 452h0M885 467h0M895 504h0M890 486h0M911 432h0M904 475h0M903 490h0M895 466h0M883 469h0M883 482h0M892 490h0M889 470h0M898 480h0M873 490h0M884 455h0M882 456h0M885 455h0M876 462h0M895 471h0M887 477h0M890 465h0M894 481h0M865 460h0M886 494h0M890 436h0M889 475h0M887 472h0M895 484h0M870 452h0M889 444h0M906 459h0M888 487h0M880 455h0M891 454h0M894 477h0M893 470h0M880 454h0M869 442h0M881 483h0M896 444h0M889 464h0M889 460h0M884 495h0M880 455h0M898 480h0M888 504h0M894 464h0M895 465h0M883 486h0M874 478h0M882 460h0M887 453h0M893 455h0M884 466h0M887 498h0M874 467h0M894 515h0M887 487h0M893 458h0M890 489h0M892 467h0M887 451h0M875 456h0M903 459h0M898 460h0M900 456h0M873 475h0M894 460h0M886 458h0M877 485h0M901 478h0M894 470h0M886 457h0M892 475h0M895 477h0M876 446h0M884 472h0M872 470h0M872 473h0M873 464h0M888 464h0M888 466h0M870 458h0M885 468h0M873 486h0M894 450h0M888 456h0M878 453h0M902 468h0M897 462h0M878 477h0M899 506h0M881 472h0M873 461h0M898 482h0M881 447h0M885 506h0M873 473h0M875 461h0M889 455h0M885 466h0M883 471h0M868 474h0M904 468h0M870 480h0M880 463h0M884 489h0M881 460h0M891 460h0M885 483h0M887 479h0M888 495h0M888 474h0M882 482h0M868 451h0M902 466h0M892 495h0M878 484h0M876 463h0M899 468h0M877 462h0M893 485h0M896 431h0M871 460h0M896 453h0M871 410h0M869 486h0M901 468h0M885 466h0M894 480h0M893 457h0M895 502h0M894 484h0M884 465h0M908 470h0M885 460h0M894 494h0M878 437h0M881 475h0M879 466h0M898 486h0M875 475h0M884 476h0M887 478h0M876 477h0M869 461h0M876 462h0M890 489h0M881 491h0M882 468h0M873 463h0M910 476h0M893 481h0M870 460h0M889 449h0M896 466h0M878 459h0M898 476h0M897 441h0M899 469h0M890 492h0M874 465h0M894 478h0M893 447h0M890 471h0M894 448h0M883 469h0M903 472h0M872 452h0M884 426h0M883 490h0M891 439h0M880 488h0M873 462h0M874 455h0M876 421h0M896 476h0M882 475h0M884 465h0M888 481h0M892 469h0M902 470h0M872 493h0M881 454h0M887 472h0M885 448h0M884 478h0M903 478h0M899 494h0M896 484h0M895 480h0M875 445h0M879 479h0M899 466h0M882 493h0M897 474h0M885 440h0M899 476h0M885 471h0M883 478h0M886 466h0M894 448h0M887 460h0M861 420h0M897 504h0M891 489h0M897 470h0M886 497h0M890 482h0M868 472h0M898 459h0M881 475h0M892 453h0M887 480h0M872 483h0M868 486h0M893 491h0M864 471h0M883 472h0M877 490h0M884 469h0M875 462h0M867 465h0M878 470h0M868 465h0M892 464h0M885 455h0M881 472h0M881 483h0M873 464h0M891 487h0M868 476h0M881 469h0M886 467h0M891 466h0M894 479h0M868 478h0M885 438h0M871 455h0M894 476h0M886 447h0M888 470h0M889 479h0M888 463h0M886 424h0M894 479h0M888 456h0M888 462h0M887 486h0M891 469h0M887 471h0M885 463h0M892 462h0M886 476h0M884 472h0M900 477h0M887 462h0M878 471h0M888 489h0M876 489h0M884 472h0M895 483h0M890 458h0M886 467h0M897 456h0M899 472h0M880 472h0M890 452h0M898 467h0M896 463h0M880 481h0M893 470h0M871 486h0M894 446h0M871 466h0M891 472h0M872 474h0M890 478h0M884 459h0M878 484h0M888 471h0M890 481h0M890 486h0M873 488h0M894 461h0M892 459h0M890 463h0M858 482h0M873 483h0M884 498h0M855 456h0M871 477h0M878 452h0M878 459h0M890 480h0M903 433h0M866 447h0M888 463h0M896 477h0M880 460h0M904 455h0M875 455h0M890 475h0M893 447h0M888 455h0M887 445h0M877 464h0M886 434h0M890 459h0M887 480h0M901 488h0M897 486h0M872 461h0M885 470h0M899 479h0M894 476h0M870 491h0M889 469h0M872 443h0M893 484h0M872 443h0M889 458h0M899 478h0M887 428h0M903 466h0M875 476h0M882 480h0M904 452h0M897 455h0M890 479h0M905 472h0M891 465h0M882 461h0M869 441h0M880 480h0M887 493h0M872 462h0M884 490h0M877 478h0M898 488h0M883 468h0M896 467h0M893 471h0M897 477h0M891 465h0M892 468h0M918 477h0M888 466h0M866 470h0M891 477h0M885 489h0M891 460h0M876 489h0M882 461h0M874 460h0M893 479h0M886 483h0M897 483h0M868 470h0M882 499h0M903 477h0M877 487h0M885 461h0M898 474h0M887 459h0M879 499h0M879 446h0M901 464h0M885 471h0M909 449h0M889 475h0M890 476h0M889 510h0M890 491h0M887 459h0M884 444h0M909 447h0M901 463h0M883 460h0M880 455h0M885 473h0M863 443h0M888 491h0M889 451h0M903 457h0M884 469h0M878 501h0M882 475h0M878 460h0M885 469h0M890 455h0M897 484h0M891 463h0M899 470h0M893 478h0M875 474h0M894 450h0M900 453h0M868 483h0M895 482h0M883 492h0M898 487h0M890 466h0M884 461h0M884 498h0" stroke="#0000FF" stroke-width="1.4" stroke-linecap="square"/>
<path d="M942 461h0M954 453h0M987 408h0M935 451h0M942 445h0M955 439h0M954 443h0M949 423h0M990 421h0M977 445h0M929 460h0M956 447h0M914 461h0M982 421h0M940 440h0M954 446h0M970 453h0M949 453h0M920 461h0M940 453h0M980 428h0M968 442h0M964 442h0M940 460h0M950 439h0M916 485h0M957 448h0M972 431h0M934 461h0M965 453h0M946 446h0M916 460h0M902 451h0M949 447h0M978 424h0M961 438h0M928 455h0M947 444h0M955 446h0M923 457h0M958 433h0M974 424h0M956 442h0M945 443h0M952 444h0M957 420h0M957 442h0M935 460h0M941 452h0M988 437h0M937 461h0M966 461h0M971 428h0M960 443h0M947 431h0M950 437h0M957 450h0M969 430h0M937 436h0M969 439h0M957 436h0M913 468h0M973 444h0M958 449h0M922 473h0M987 417h0M929 460h0M969 431h0M903 481h0M978 429h0M967 428h0M926 445h0M963 429h0M971 434h0M939 447h0M932 435h0M957 438h0M959 428h0M935 444h0M937 453h0M950 433h0M949 461h0M979 432h0M950 441h0M942 444h0M914 454h0M944 461h0M925 444h0M960 438h0M945 446h0M931 467h0M979 423h0M955 442h0M954 444h0M900 467h0M960 442h0M907 476h0M956 431h0M949 451h0M923 466h0M984 444h0M982 422h0M974 419h0M966 442h0M926 458h0M936 448h0M983 428h0M952 449h0M952 454h0M923 454h0M931 447h0M940 449h0M955 440h0M936 446h0M984 427h0M947 434h0M921 461h0M961 444h0M951 448h0M943 444h0M940 448h0M969 447h0M948 448h0M967 418h0M922 485h0M952 443h0M949 441h0M935 455h0M927 458h0M955 437h0M940 448h0M965 431h0M937 458h0M974 423h0M976 421h0M982 436h0M963 446h0M967 446h0M960 446h0M975 428h0M900 470h0M936 461h0M979 420h0M961 429h0M966 441h0M945 449h0M967 446h0M959 432h0M917 458h0M919 450h0M991 428h0M924 459h0M956 435h0M923 460h0M964 447h0M922 453h0M966 437h0M920 462h0M944 455h0M974 434h0M951 444h0M954 441h0M926 454h0M955 448h0M968 447h0M921 448h0M946 452h0M897 474h0M971 417h0M913 450h0M942 476h0M905 465h0M944 450h0M979 440h0M928 461h0M938 443h0M956 428h0M927 461h0M922 458h0M944 450h0M899 459h0M962 431h0M946 459h0M955 448h0M932 447h0M960 438h0M919 449h0M925 456h0M937 454h0M907 459h0M976 437h0M972 440h0M978 430h0M966 448h0M976 414h0M957 447h0M921 464h0M974 436h0M966 415h0M935 453h0M952 467h0M938 448h0M984 425h0M970 439h0M971 436h0M980 426h0M904 467h0M972 440h0M933 456h0M968 429h0M970 431h0M979 441h0M973 447h0M931 458h0M910 453h0M970 421h0M888 472h0M927 455h0M965 439h0M970 441h0M951 442h0M971 437h0M952 437h0M958 420h0M922 460h0" stroke="#0000FF" stroke-width="1.4" stroke-linecap="square"/>
<g transform="translate(886 471) rotate(0)" filter="url(#bl)"><ellipse cx="0.0" cy="0.0" rx="14.0" ry="27.0" fill="#0000FF"/><ellipse cx="0.0" cy="0.5" rx="12.6" ry="24.3" fill="#0070FF"/><ellipse cx="0.0" cy="0.9" rx="11.8" ry="22.7" fill="#00E0FF"/><ellipse cx="0.0" cy="1.4" rx="10.4" ry="20.0" fill="#20FF60"/><ellipse cx="0.0" cy="2.3" rx="8.0" ry="15.4" fill="#C8FF00"/><ellipse cx="0.0" cy="3.1" rx="5.9" ry="11.3" fill="#FFD000"/><ellipse cx="0.0" cy="4.0" rx="3.6" ry="7.0" fill="#FF2000"/></g>
<path d="M855 496h0M873 430h0M890 430h0M908 474h0M914 483h0M918 492h0M928 488h0M930 488h0M1000 445h0" stroke="#0000FF" stroke-width="1.6" stroke-linecap="square"/>
<polygon points="915.5,462.1 979.4,403.0 997.5,415.5 1005.3,429.6 918.3,477.8" fill="none" stroke="#1a1a1a" stroke-width="1.3" stroke-linejoin="miter"/>
<text x="977.30" y="429.00" font-size="12.5" text-anchor="middle" font-weight="normal">4.84</text>
<rect x="833.4" y="359.7" width="181.1" height="185.7" fill="none" stroke="#333" stroke-width="1.1"/>
<path d="M827.9 360.1h5.5 M827.9 390.7h5.5 M827.9 422.5h5.5 M827.9 460.9h5.5 M827.9 498.0h5.5 M827.9 535.9h5.5 M830.9 381.5h2.5 M830.9 376.1h2.5 M830.9 372.3h2.5 M830.9 369.3h2.5 M830.9 366.9h2.5 M830.9 364.8h2.5 M830.9 363.0h2.5 M830.9 361.5h2.5 M830.9 412.9h2.5 M830.9 407.3h2.5 M830.9 403.3h2.5 M830.9 400.3h2.5 M830.9 397.8h2.5 M830.9 395.6h2.5 M830.9 393.8h2.5 M830.9 392.2h2.5 M830.9 449.3h2.5 M830.9 442.6h2.5 M830.9 437.8h2.5 M830.9 434.0h2.5 M830.9 431.0h2.5 M830.9 428.4h2.5 M830.9 426.2h2.5 M830.9 424.2h2.5 M830.9 468.3h2.5 M830.9 475.8h2.5 M830.9 483.2h2.5 M830.9 490.6h2.5 M830.9 505.6h2.5 M830.9 513.2h2.5 M830.9 520.8h2.5 M830.9 528.4h2.5" stroke="#111" stroke-width="1" fill="none"/>
<path d="M827.9 493.0h5.5M829.4 495.5h4M827.9 498.0h5.5M829.4 500.5h4M827.9 503.0h5.5" stroke="#000" stroke-width="1.6"/><rect x="830.9" y="493.0" width="2.5" height="10" fill="#000"/>
<path d="M841.9 545.4v5.5 M882.3 545.4v5.5 M922.1 545.4v5.5 M963.1 545.4v5.5 M997.5 545.4v5.5 M1013.2 545.4v5.5 M850.0 545.4v2.5 M858.1 545.4v2.5 M866.1 545.4v2.5 M874.2 545.4v2.5 M890.3 545.4v2.5 M898.2 545.4v2.5 M906.2 545.4v2.5 M914.2 545.4v2.5 M934.5 545.4v2.5 M941.7 545.4v2.5 M946.8 545.4v2.5 M950.7 545.4v2.5 M954.0 545.4v2.5 M956.7 545.4v2.5 M959.1 545.4v2.5 M961.2 545.4v2.5 M973.4 545.4v2.5 M979.5 545.4v2.5 M983.8 545.4v2.5 M987.1 545.4v2.5 M989.8 545.4v2.5 M992.1 545.4v2.5 M994.1 545.4v2.5 M995.9 545.4v2.5 M1002.2 545.4v2.5 M1005.0 545.4v2.5 M1007.0 545.4v2.5 M1008.5 545.4v2.5 M1009.7 545.4v2.5 M1010.8 545.4v2.5 M1011.7 545.4v2.5 M1012.5 545.4v2.5" stroke="#111" stroke-width="1" fill="none"/>
<path d="M878.3 545.4v5.5M880.3 545.4v4M882.3 545.4v5.5M884.3 545.4v4M886.3 545.4v5.5" stroke="#000" stroke-width="1.5"/><rect x="878.3" y="545.4" width="8" height="2.5" fill="#000"/>
</g>
<g>
<ellipse cx="0" cy="0" rx="22" ry="29" fill="#1010FF" opacity="0.25" transform="translate(1125 478) rotate(0)" filter="url(#blo)"/>
<path d="M1122 491h0M1143 454h0M1129 478h0M1143 498h0M1143 477h0M1090 497h0M1119 501h0M1135 481h0M1102 469h0M1139 487h0M1117 468h0M1128 460h0M1112 512h0M1117 477h0M1120 469h0M1122 477h0M1134 483h0M1129 479h0M1134 471h0M1140 484h0M1133 471h0M1119 485h0M1132 485h0M1101 477h0M1138 473h0M1127 484h0M1128 444h0M1124 482h0M1100 467h0M1135 455h0M1108 487h0M1123 466h0M1123 429h0M1149 504h0M1121 477h0M1129 487h0M1124 463h0M1131 461h0M1127 473h0M1119 493h0M1119 490h0M1135 493h0M1108 480h0M1129 480h0M1132 481h0M1129 508h0M1129 465h0M1142 499h0M1102 497h0M1115 478h0M1122 481h0M1131 500h0M1118 481h0M1133 475h0M1106 494h0M1117 493h0M1108 504h0M1113 469h0M1132 477h0M1120 496h0M1143 507h0M1128 472h0M1128 475h0M1119 501h0M1096 488h0M1126 485h0M1137 499h0M1125 502h0M1134 474h0M1133 485h0M1127 461h0M1114 454h0M1112 478h0M1127 480h0M1123 457h0M1133 503h0M1116 478h0M1129 471h0M1134 462h0M1139 461h0M1135 482h0M1115 486h0M1129 464h0M1133 457h0M1123 473h0M1100 475h0M1127 475h0M1119 500h0M1130 481h0M1116 462h0M1125 494h0M1134 482h0M1103 508h0M1110 470h0M1126 500h0M1096 464h0M1118 499h0M1136 492h0M1126 479h0M1116 484h0M1140 483h0M1131 460h0M1134 466h0M1107 485h0M1135 447h0M1105 488h0M1137 485h0M1136 503h0M1137 489h0M1118 490h0M1130 483h0M1132 481h0M1126 455h0M1122 464h0M1125 465h0M1110 487h0M1144 472h0M1115 491h0M1131 484h0M1135 480h0M1140 486h0M1123 485h0M1140 502h0M1126 516h0M1122 455h0M1111 454h0M1129 472h0M1125 465h0M1127 466h0M1122 493h0M1124 489h0M1110 447h0M1133 477h0M1119 447h0M1120 476h0M1131 455h0M1105 475h0M1122 489h0M1124 480h0M1118 456h0M1112 515h0M1125 471h0M1133 477h0M1123 495h0M1126 452h0M1099 466h0M1104 482h0M1124 469h0M1108 483h0M1136 473h0M1130 477h0M1118 495h0M1120 471h0M1149 486h0M1124 486h0M1129 489h0M1132 491h0M1136 475h0M1112 452h0M1112 508h0M1144 451h0M1128 475h0M1142 463h0M1113 504h0M1121 494h0M1135 470h0M1140 458h0M1102 473h0M1141 460h0M1130 507h0M1116 463h0M1108 476h0M1121 504h0M1146 496h0M1132 480h0M1100 486h0M1093 472h0M1136 466h0M1109 479h0M1116 480h0M1127 507h0M1109 501h0M1127 455h0M1122 461h0M1109 463h0M1107 486h0M1156 494h0M1120 464h0M1117 475h0M1120 448h0M1147 472h0M1124 494h0M1121 465h0M1123 443h0M1141 460h0M1119 462h0M1106 458h0M1109 431h0M1115 470h0M1129 462h0M1115 481h0M1133 490h0M1122 484h0M1106 495h0M1119 441h0M1126 483h0M1129 490h0M1129 488h0M1120 496h0M1147 499h0M1124 484h0M1116 474h0M1125 499h0M1121 494h0M1102 515h0M1109 468h0M1110 467h0M1125 477h0M1113 473h0M1123 488h0M1121 494h0M1126 493h0M1141 474h0M1141 476h0M1117 481h0M1150 489h0M1145 480h0M1129 465h0M1124 494h0M1117 484h0M1109 466h0M1123 503h0M1131 489h0M1121 454h0M1117 491h0M1139 462h0M1101 481h0M1125 470h0M1092 489h0M1152 488h0M1131 475h0M1129 491h0M1124 470h0M1122 468h0M1126 469h0M1138 502h0M1138 479h0M1114 487h0M1133 483h0M1116 471h0M1141 477h0M1136 487h0M1119 487h0M1120 493h0M1124 475h0M1120 469h0M1109 467h0M1114 513h0M1131 485h0M1123 472h0M1134 461h0M1119 456h0M1126 500h0M1109 462h0M1138 470h0M1136 476h0M1123 471h0M1124 466h0M1129 469h0M1123 488h0M1124 457h0M1126 486h0M1120 486h0M1139 473h0M1126 476h0M1128 459h0M1123 489h0M1137 500h0M1117 442h0M1128 472h0M1137 461h0M1125 460h0M1124 501h0M1138 486h0M1134 484h0M1123 501h0M1137 482h0M1137 484h0M1138 454h0M1114 471h0M1127 472h0M1128 469h0M1131 513h0M1117 473h0M1113 490h0M1109 494h0M1122 467h0M1145 473h0M1134 507h0M1110 471h0M1137 486h0M1130 487h0M1127 448h0M1093 450h0M1141 489h0M1135 491h0M1126 468h0M1129 476h0M1133 458h0M1139 498h0M1113 451h0M1126 470h0M1122 468h0M1107 488h0M1107 484h0M1126 464h0M1123 482h0M1131 483h0M1080 497h0M1136 451h0M1115 448h0M1115 479h0M1130 473h0M1108 490h0M1123 495h0M1106 444h0M1140 487h0M1127 494h0M1144 474h0M1117 497h0M1131 464h0M1136 468h0M1137 480h0M1112 479h0M1097 473h0M1122 477h0M1127 485h0M1132 486h0M1119 499h0M1134 484h0M1128 480h0M1092 470h0M1118 460h0M1131 497h0M1130 469h0M1127 483h0M1114 483h0M1146 469h0M1113 473h0M1094 463h0M1125 472h0M1130 472h0M1128 483h0M1108 461h0M1112 459h0M1135 470h0M1140 497h0M1120 462h0M1118 496h0M1100 470h0M1144 470h0M1133 495h0M1128 488h0M1131 486h0M1108 497h0M1140 472h0M1112 481h0M1125 487h0M1125 480h0M1113 496h0M1123 495h0M1128 458h0M1131 488h0M1123 480h0M1119 478h0M1130 472h0M1120 493h0M1113 474h0M1146 493h0M1119 469h0M1109 491h0M1131 511h0M1125 490h0M1132 468h0M1145 496h0M1139 469h0M1124 473h0M1127 488h0M1125 457h0M1135 485h0M1123 491h0M1117 477h0M1135 495h0M1129 472h0M1130 480h0M1120 498h0M1107 479h0M1144 440h0M1141 492h0M1126 447h0M1131 474h0M1124 490h0M1125 469h0M1153 505h0M1121 495h0M1140 484h0M1134 494h0M1127 495h0M1121 499h0M1104 498h0M1111 475h0M1138 505h0M1129 531h0M1137 485h0M1133 486h0M1123 482h0M1139 480h0M1137 487h0M1125 483h0M1141 489h0M1123 468h0M1126 471h0M1149 480h0M1120 469h0M1128 467h0M1137 451h0M1117 463h0M1117 499h0M1141 452h0M1137 499h0M1125 489h0M1123 469h0M1122 474h0M1133 502h0M1112 480h0M1135 506h0M1133 458h0M1130 473h0M1123 474h0M1129 486h0M1097 494h0M1112 472h0M1117 520h0M1138 462h0M1132 479h0M1119 487h0M1129 461h0M1120 478h0M1121 496h0M1124 478h0M1122 505h0M1132 471h0M1127 497h0M1118 480h0M1112 480h0M1124 466h0M1145 477h0M1127 505h0M1125 456h0M1132 472h0M1120 487h0M1135 498h0M1144 491h0M1115 500h0M1139 477h0M1140 456h0M1135 465h0M1106 473h0M1117 473h0M1136 463h0M1117 459h0M1122 461h0M1123 486h0M1115 493h0M1126 479h0M1114 516h0M1119 447h0M1130 493h0M1100 482h0M1113 467h0M1138 475h0M1137 464h0M1106 476h0M1115 474h0M1114 462h0M1119 488h0M1123 492h0M1112 473h0M1108 472h0M1146 480h0M1129 468h0M1128 455h0M1152 442h0M1134 472h0M1126 474h0M1138 474h0M1130 471h0M1146 475h0M1127 487h0M1141 470h0M1119 457h0M1123 484h0M1151 460h0M1125 463h0M1125 475h0M1134 479h0M1101 495h0M1122 487h0M1132 471h0M1137 469h0M1114 465h0M1116 488h0M1134 468h0M1130 488h0M1135 475h0M1118 484h0M1135 476h0M1147 477h0M1140 466h0M1120 496h0M1116 474h0M1135 460h0M1128 478h0M1137 451h0M1121 466h0M1105 474h0M1128 499h0M1120 481h0M1114 514h0M1150 462h0M1108 469h0M1128 473h0M1112 466h0M1115 474h0M1139 485h0M1148 483h0M1142 514h0M1129 470h0M1107 457h0M1135 480h0M1124 515h0M1134 464h0M1129 502h0M1108 464h0M1128 464h0M1132 498h0M1127 486h0M1123 477h0M1163 463h0M1128 471h0M1123 492h0M1125 501h0M1119 481h0M1143 465h0M1114 468h0M1126 500h0M1122 491h0M1119 480h0M1108 453h0M1132 468h0M1134 474h0M1120 485h0M1128 462h0M1109 463h0M1125 488h0M1131 476h0M1122 426h0M1107 505h0M1112 488h0M1134 467h0M1109 496h0M1129 470h0M1107 506h0M1108 473h0M1114 474h0M1119 463h0M1137 477h0M1113 467h0M1142 479h0M1133 481h0M1137 471h0M1126 465h0M1102 491h0M1130 484h0M1131 470h0M1119 465h0M1136 460h0M1107 487h0M1133 493h0M1118 479h0M1144 449h0M1132 482h0M1127 453h0M1128 488h0M1148 491h0M1118 476h0M1104 475h0M1124 482h0M1131 501h0M1126 483h0M1111 486h0M1122 465h0M1103 443h0M1122 460h0M1129 482h0M1120 502h0M1111 477h0M1107 487h0M1103 486h0M1109 494h0M1124 500h0M1112 494h0M1138 474h0M1118 466h0M1132 477h0M1126 454h0M1130 461h0M1124 470h0M1121 467h0M1117 474h0M1125 500h0M1131 483h0M1111 476h0M1113 472h0M1141 478h0M1135 479h0M1115 444h0M1114 502h0M1150 486h0M1122 476h0M1129 466h0M1147 506h0M1110 492h0M1117 497h0M1129 488h0M1129 461h0M1124 450h0M1116 460h0M1129 490h0M1138 468h0M1118 458h0M1114 481h0M1129 470h0M1139 500h0M1125 452h0M1116 507h0M1126 458h0M1149 472h0M1119 468h0M1126 470h0M1129 475h0M1130 494h0M1143 462h0M1137 471h0M1141 472h0M1160 489h0M1138 495h0M1120 480h0M1119 481h0M1146 469h0M1095 477h0M1116 475h0M1091 467h0M1136 502h0M1142 484h0M1135 486h0M1127 480h0M1104 479h0M1139 498h0M1117 431h0M1131 498h0M1131 495h0M1131 486h0M1117 474h0M1129 486h0M1121 508h0M1129 457h0M1137 516h0M1115 482h0M1129 479h0M1127 501h0M1123 498h0M1128 492h0M1138 465h0M1140 443h0M1128 498h0M1134 480h0M1129 517h0M1125 458h0M1132 487h0M1121 497h0M1126 474h0M1124 471h0M1129 465h0M1113 475h0M1151 445h0M1112 475h0M1115 487h0M1124 485h0M1127 478h0M1116 509h0M1126 461h0M1110 421h0M1138 500h0M1131 470h0M1118 484h0M1139 514h0M1123 479h0M1126 495h0M1118 490h0M1113 496h0M1150 456h0M1101 462h0M1112 485h0M1132 468h0M1111 478h0M1116 466h0M1127 458h0M1129 453h0M1122 483h0M1107 503h0M1123 447h0M1118 462h0M1118 460h0M1128 472h0M1103 459h0M1116 490h0M1103 455h0M1134 477h0M1117 447h0M1123 469h0M1102 477h0M1122 458h0M1116 458h0M1150 463h0M1144 498h0M1144 494h0M1112 472h0M1116 471h0M1135 493h0M1133 484h0M1152 485h0M1128 484h0M1130 478h0M1131 462h0M1126 465h0M1131 472h0M1125 491h0M1128 504h0M1123 486h0M1131 469h0M1128 477h0M1135 463h0M1115 483h0M1126 456h0M1131 481h0M1127 473h0M1118 489h0M1119 490h0M1118 484h0M1110 492h0M1117 482h0M1128 481h0M1119 455h0M1114 457h0M1101 487h0M1119 486h0M1127 470h0M1116 486h0M1127 485h0M1136 473h0M1127 477h0M1128 481h0M1101 477h0M1136 501h0M1115 472h0M1116 478h0M1111 484h0M1126 491h0M1140 484h0M1108 488h0M1113 485h0M1115 461h0M1131 471h0M1120 478h0M1131 468h0M1127 474h0M1140 505h0M1121 466h0M1109 507h0M1144 490h0M1116 473h0M1129 509h0M1100 486h0M1130 497h0M1134 475h0M1126 473h0M1121 465h0M1123 494h0M1145 489h0M1116 477h0M1122 472h0M1129 449h0M1121 471h0M1144 493h0M1124 467h0M1110 477h0M1132 499h0M1111 477h0M1131 487h0M1108 487h0M1125 480h0M1121 494h0M1136 491h0M1112 485h0M1121 489h0M1137 474h0M1110 481h0M1129 461h0M1125 472h0M1136 467h0M1118 464h0M1128 489h0M1126 493h0M1119 462h0M1115 480h0M1148 487h0M1129 483h0M1098 497h0M1133 473h0M1142 482h0M1137 463h0M1123 473h0M1131 454h0M1121 491h0M1136 477h0M1132 491h0M1137 482h0M1114 488h0M1117 471h0M1104 493h0M1115 473h0M1121 469h0M1125 482h0M1133 474h0M1135 493h0M1113 476h0M1116 466h0M1101 487h0M1108 498h0M1130 472h0M1124 443h0M1125 483h0M1135 475h0M1111 465h0M1119 472h0M1114 466h0M1111 469h0M1130 477h0M1121 485h0M1141 494h0M1119 486h0M1135 487h0M1154 474h0M1121 485h0M1118 468h0M1117 487h0M1123 476h0M1132 463h0M1147 475h0M1111 471h0M1123 481h0M1121 446h0M1103 491h0M1143 511h0M1131 466h0M1141 470h0M1153 463h0M1118 485h0M1120 485h0M1128 475h0M1117 441h0M1128 482h0M1115 476h0M1142 464h0M1118 455h0M1128 454h0M1117 463h0M1125 492h0M1119 452h0M1136 474h0M1120 464h0M1129 490h0M1108 489h0M1116 478h0M1099 508h0M1118 463h0M1094 478h0M1132 481h0M1112 468h0" stroke="#0000FF" stroke-width="1.4" stroke-linecap="square"/>
<path d="M1171 482h0M1170 465h0M1167 471h0M1185 455h0M1191 454h0M1183 462h0M1201 441h0M1182 467h0M1157 482h0M1204 453h0M1161 474h0M1181 447h0M1133 490h0M1195 441h0M1146 483h0M1218 428h0M1162 459h0M1182 445h0M1238 428h0M1185 441h0M1205 451h0M1203 441h0M1162 458h0M1175 436h0M1205 445h0M1212 449h0M1180 467h0M1191 465h0M1202 436h0M1198 451h0M1184 446h0M1215 443h0M1214 439h0M1166 458h0M1194 453h0M1179 459h0M1176 465h0M1204 447h0M1174 463h0M1191 447h0M1207 440h0M1181 452h0M1222 449h0M1194 450h0M1151 462h0M1169 462h0M1175 452h0M1186 456h0M1202 439h0M1156 471h0M1142 465h0M1181 456h0M1177 463h0M1189 450h0M1174 468h0M1199 457h0M1199 450h0M1187 445h0M1187 455h0M1201 447h0M1200 450h0M1190 451h0M1182 463h0M1206 433h0M1212 449h0M1189 444h0M1221 443h0M1188 459h0M1178 459h0M1183 462h0M1195 450h0M1204 440h0M1174 448h0M1190 456h0M1168 470h0M1187 459h0M1187 445h0M1174 461h0M1206 437h0M1211 428h0M1179 453h0M1190 452h0M1196 453h0M1185 447h0M1199 449h0M1135 480h0M1190 454h0M1149 480h0M1185 447h0M1156 465h0M1215 454h0M1195 444h0M1149 465h0M1196 444h0M1185 459h0M1199 441h0M1206 448h0M1166 465h0M1165 473h0M1163 464h0M1183 465h0M1194 449h0M1195 452h0M1180 463h0M1170 458h0M1183 458h0M1171 456h0M1160 472h0M1182 466h0M1182 461h0" stroke="#0000FF" stroke-width="1.4" stroke-linecap="square"/>
<g transform="translate(1125 482) rotate(0)" filter="url(#bl)"><ellipse cx="0.0" cy="0.0" rx="17.0" ry="24.0" fill="#0000FF"/><ellipse cx="0.2" cy="0.7" rx="15.3" ry="21.6" fill="#0070FF"/><ellipse cx="0.3" cy="1.2" rx="14.3" ry="20.2" fill="#00E0FF"/><ellipse cx="0.4" cy="1.9" rx="12.6" ry="17.8" fill="#20FF60"/><ellipse cx="0.7" cy="3.1" rx="9.7" ry="13.7" fill="#C8FF00"/><ellipse cx="1.0" cy="4.2" rx="7.1" ry="10.1" fill="#FFD000"/><ellipse cx="1.3" cy="5.3" rx="4.4" ry="6.2" fill="#FF2000"/></g>
<path d="M1089 472h0M1163 483h0M1170 487h0M1192 431h0M1216 441h0M1108 498h0M1100 495h0" stroke="#0000FF" stroke-width="1.6" stroke-linecap="square"/>
<polygon points="1153.6,466.8 1218.6,406.3 1239.5,415.0 1238.3,440.9 1161.0,482.9" fill="none" stroke="#1a1a1a" stroke-width="1.3" stroke-linejoin="miter"/>
<text x="1220.20" y="431.60" font-size="12.5" text-anchor="middle" font-weight="normal">3.07</text>
<rect x="1070.1" y="359.7" width="180.4" height="185.7" fill="none" stroke="#333" stroke-width="1.1"/>
<path d="M1064.6 373.8h5.5 M1064.6 401.9h5.5 M1064.6 431.6h5.5 M1064.6 467.4h5.5 M1064.6 502.9h5.5 M1064.6 536.5h5.5 M1067.6 393.4h2.5 M1067.6 388.5h2.5 M1067.6 385.0h2.5 M1067.6 382.3h2.5 M1067.6 380.0h2.5 M1067.6 378.2h2.5 M1067.6 376.5h2.5 M1067.6 375.1h2.5 M1067.6 422.6h2.5 M1067.6 417.4h2.5 M1067.6 413.7h2.5 M1067.6 410.8h2.5 M1067.6 408.4h2.5 M1067.6 406.5h2.5 M1067.6 404.7h2.5 M1067.6 403.2h2.5 M1067.6 456.6h2.5 M1067.6 450.3h2.5 M1067.6 445.8h2.5 M1067.6 442.4h2.5 M1067.6 439.5h2.5 M1067.6 437.1h2.5 M1067.6 435.0h2.5 M1067.6 433.2h2.5 M1067.6 474.5h2.5 M1067.6 481.6h2.5 M1067.6 488.7h2.5 M1067.6 495.8h2.5 M1067.6 509.6h2.5 M1067.6 516.3h2.5 M1067.6 523.0h2.5 M1067.6 529.8h2.5 M1067.6 365.4h2.5" stroke="#111" stroke-width="1" fill="none"/>
<path d="M1064.6 497.9h5.5M1066.1 500.4h4M1064.6 502.9h5.5M1066.1 505.4h4M1064.6 507.9h5.5" stroke="#000" stroke-width="1.6"/><rect x="1067.6" y="497.9" width="2.5" height="10" fill="#000"/>
<path d="M1078.6 545.4v5.5 M1118.8 545.4v5.5 M1158.5 545.4v5.5 M1199.3 545.4v5.5 M1233.5 545.4v5.5 M1249.2 545.4v5.5 M1086.6 545.4v2.5 M1094.7 545.4v2.5 M1102.7 545.4v2.5 M1110.8 545.4v2.5 M1126.7 545.4v2.5 M1134.7 545.4v2.5 M1142.6 545.4v2.5 M1150.6 545.4v2.5 M1170.8 545.4v2.5 M1177.9 545.4v2.5 M1183.0 545.4v2.5 M1187.0 545.4v2.5 M1190.2 545.4v2.5 M1193.0 545.4v2.5 M1195.3 545.4v2.5 M1197.4 545.4v2.5 M1209.6 545.4v2.5 M1215.6 545.4v2.5 M1219.9 545.4v2.5 M1223.2 545.4v2.5 M1225.9 545.4v2.5 M1228.2 545.4v2.5 M1230.2 545.4v2.5 M1232.0 545.4v2.5 M1238.3 545.4v2.5 M1241.0 545.4v2.5 M1243.0 545.4v2.5 M1244.5 545.4v2.5 M1245.8 545.4v2.5 M1246.8 545.4v2.5 M1247.7 545.4v2.5 M1248.5 545.4v2.5" stroke="#111" stroke-width="1" fill="none"/>
<path d="M1114.8 545.4v5.5M1116.8 545.4v4M1118.8 545.4v5.5M1120.8 545.4v4M1122.8 545.4v5.5" stroke="#000" stroke-width="1.5"/><rect x="1114.8" y="545.4" width="8" height="2.5" fill="#000"/>
</g>
<g>
<ellipse cx="0" cy="0" rx="19" ry="26" fill="#1010FF" opacity="0.25" transform="translate(1353 477) rotate(0)" filter="url(#blo)"/>
<path d="M1365 485h0M1360 472h0M1355 507h0M1355 454h0M1360 458h0M1374 503h0M1375 450h0M1355 432h0M1375 491h0M1342 499h0M1337 488h0M1365 499h0M1353 481h0M1356 485h0M1352 489h0M1364 489h0M1347 499h0M1345 468h0M1359 459h0M1355 500h0M1357 460h0M1356 478h0M1347 472h0M1364 491h0M1353 483h0M1352 487h0M1346 501h0M1362 486h0M1342 488h0M1356 451h0M1345 476h0M1339 471h0M1366 503h0M1362 468h0M1342 478h0M1354 462h0M1353 482h0M1350 473h0M1367 476h0M1356 457h0M1359 457h0M1355 453h0M1356 474h0M1353 461h0M1360 466h0M1339 493h0M1358 502h0M1345 466h0M1355 502h0M1366 486h0M1360 471h0M1349 480h0M1348 474h0M1350 471h0M1341 470h0M1338 490h0M1323 472h0M1348 463h0M1358 472h0M1374 456h0M1368 485h0M1357 473h0M1334 471h0M1354 462h0M1364 462h0M1343 472h0M1356 466h0M1352 501h0M1360 482h0M1343 495h0M1353 494h0M1349 464h0M1365 464h0M1353 490h0M1358 455h0M1356 504h0M1363 465h0M1371 483h0M1340 502h0M1345 492h0M1363 488h0M1354 491h0M1342 479h0M1333 489h0M1341 501h0M1341 465h0M1348 496h0M1359 484h0M1368 459h0M1362 481h0M1335 465h0M1363 461h0M1355 472h0M1343 465h0M1338 472h0M1382 460h0M1346 477h0M1355 477h0M1339 463h0M1345 467h0M1348 483h0M1353 489h0M1346 496h0M1349 479h0M1353 492h0M1332 467h0M1347 487h0M1358 481h0M1370 485h0M1367 479h0M1360 464h0M1364 465h0M1363 487h0M1342 479h0M1352 473h0M1345 492h0M1342 479h0M1353 458h0M1358 477h0M1348 472h0M1345 469h0M1338 491h0M1362 472h0M1338 451h0M1339 506h0M1342 470h0M1348 450h0M1346 475h0M1357 477h0M1358 474h0M1341 483h0M1355 478h0M1337 499h0M1358 490h0M1352 455h0M1340 494h0M1379 444h0M1367 485h0M1354 479h0M1362 486h0M1364 472h0M1354 475h0M1342 474h0M1346 486h0M1353 506h0M1355 470h0M1367 479h0M1348 472h0M1364 469h0M1351 489h0M1374 504h0M1354 495h0M1355 468h0M1349 478h0M1358 474h0M1351 483h0M1355 507h0M1362 485h0M1371 474h0M1371 494h0M1374 495h0M1349 502h0M1359 486h0M1349 484h0M1323 454h0M1362 477h0M1346 488h0M1364 492h0M1343 495h0M1356 483h0M1366 492h0M1364 484h0M1343 475h0M1363 460h0M1348 468h0M1343 476h0M1352 463h0M1357 464h0M1366 483h0M1343 482h0M1337 480h0M1335 484h0M1366 456h0M1349 488h0M1358 470h0M1364 485h0M1340 498h0M1338 469h0M1353 453h0M1352 484h0M1364 459h0M1355 484h0M1345 455h0M1345 479h0M1350 485h0M1345 471h0M1347 468h0M1332 467h0M1348 469h0M1336 467h0M1354 493h0M1344 472h0M1344 479h0M1346 498h0M1359 490h0M1352 478h0M1370 481h0M1372 486h0M1356 472h0M1349 429h0M1365 478h0M1346 480h0M1332 473h0M1341 490h0M1367 474h0M1370 483h0M1360 474h0M1354 470h0M1360 461h0M1352 494h0M1357 439h0M1344 479h0M1364 476h0M1362 495h0M1340 475h0M1363 472h0M1359 498h0M1348 482h0M1346 499h0M1369 443h0M1355 451h0M1335 477h0M1387 466h0M1348 486h0M1355 483h0M1366 481h0M1340 472h0M1349 465h0M1347 472h0M1357 461h0M1358 472h0M1346 469h0M1364 476h0M1347 466h0M1355 464h0M1348 488h0M1365 456h0M1355 497h0M1363 467h0M1355 472h0M1345 493h0M1360 481h0M1363 493h0M1355 481h0M1357 452h0M1350 477h0M1327 490h0M1354 480h0M1351 492h0M1360 473h0M1336 493h0M1368 488h0M1363 476h0M1351 484h0M1351 447h0M1336 495h0M1340 461h0M1361 495h0M1348 474h0M1340 461h0M1337 470h0M1357 463h0M1336 480h0M1356 477h0M1362 478h0M1364 471h0M1348 466h0M1354 481h0M1347 485h0M1360 480h0M1341 484h0M1339 462h0M1352 484h0M1354 478h0M1359 492h0M1347 484h0M1355 478h0M1370 460h0M1358 497h0M1377 484h0M1353 471h0M1336 481h0M1366 479h0M1347 478h0M1354 481h0M1370 489h0M1369 475h0M1362 459h0M1347 479h0M1345 473h0M1350 473h0M1362 453h0M1377 465h0M1318 491h0M1357 495h0M1342 501h0M1345 489h0M1355 482h0M1389 454h0M1367 506h0M1352 471h0M1360 450h0M1358 472h0M1353 463h0M1342 452h0M1339 474h0M1344 506h0M1336 481h0M1343 470h0M1356 476h0M1366 490h0M1355 463h0M1344 496h0M1353 514h0M1370 455h0M1353 466h0M1355 489h0M1345 486h0M1342 481h0M1358 469h0M1358 500h0M1350 462h0M1356 469h0M1351 496h0M1351 463h0M1364 473h0M1359 461h0M1357 461h0M1349 470h0M1343 478h0M1341 476h0M1350 510h0M1351 480h0M1349 447h0M1358 449h0M1357 478h0M1352 465h0M1374 470h0M1353 486h0M1350 469h0M1369 466h0M1348 477h0M1337 471h0M1344 465h0M1324 457h0M1361 477h0M1369 492h0M1339 486h0M1357 514h0M1356 460h0M1359 498h0M1354 485h0M1351 472h0M1348 517h0M1347 479h0M1352 465h0M1355 479h0M1363 492h0M1353 466h0M1360 487h0M1341 466h0M1358 454h0M1352 487h0M1353 494h0M1362 489h0M1339 489h0M1341 479h0M1344 483h0M1347 487h0M1353 471h0M1343 486h0M1371 487h0M1325 492h0M1351 495h0M1363 465h0M1350 460h0M1361 470h0M1364 461h0M1354 474h0M1363 469h0M1350 483h0M1345 486h0M1364 482h0M1365 476h0M1338 456h0M1356 493h0M1355 458h0M1348 471h0M1344 466h0M1372 488h0M1363 478h0M1351 472h0M1375 480h0M1363 457h0M1349 453h0M1355 450h0M1347 488h0M1355 463h0M1358 491h0M1349 485h0M1366 486h0M1355 497h0M1345 473h0M1353 483h0M1354 482h0M1333 460h0M1340 475h0M1359 473h0M1339 491h0M1352 496h0M1363 494h0M1352 460h0M1360 467h0M1340 473h0M1363 485h0M1348 499h0M1337 478h0M1354 482h0M1378 480h0M1355 469h0M1355 476h0M1364 459h0M1365 523h0M1343 507h0M1331 483h0M1345 484h0M1341 490h0M1361 490h0M1342 489h0M1360 475h0M1345 477h0M1360 496h0M1338 477h0M1345 469h0M1334 471h0M1362 472h0M1370 476h0M1354 477h0M1339 473h0M1380 483h0M1353 486h0M1370 484h0M1360 495h0M1342 449h0M1344 485h0M1356 448h0M1345 490h0M1352 484h0M1351 478h0M1337 465h0M1344 482h0M1353 494h0M1319 482h0M1334 494h0M1340 478h0M1335 471h0M1334 452h0M1337 478h0M1343 497h0M1346 495h0M1344 487h0M1356 470h0M1356 487h0M1366 475h0M1358 484h0M1342 479h0M1336 507h0M1372 482h0M1358 467h0M1339 473h0M1359 494h0M1336 457h0M1363 463h0M1354 467h0M1362 493h0M1341 482h0M1356 485h0M1368 462h0M1347 497h0M1364 460h0M1350 450h0M1361 483h0M1353 487h0M1350 435h0M1342 470h0M1349 490h0M1348 455h0M1348 461h0M1355 484h0M1378 480h0M1328 505h0M1356 489h0M1345 488h0M1352 481h0M1355 446h0M1346 482h0M1324 478h0M1372 459h0M1345 485h0M1344 461h0M1336 455h0M1342 486h0M1347 463h0M1355 463h0M1341 482h0M1359 462h0M1356 499h0M1343 509h0M1352 496h0M1341 477h0M1346 460h0M1356 485h0M1345 443h0M1352 494h0M1359 475h0M1344 474h0M1354 499h0M1358 463h0M1363 454h0M1355 477h0M1345 500h0M1358 470h0M1362 489h0M1348 461h0M1362 451h0M1339 511h0M1350 504h0M1356 498h0M1339 497h0M1337 465h0M1361 487h0M1343 501h0M1345 493h0M1365 466h0M1334 479h0M1324 481h0M1325 475h0M1340 476h0M1350 476h0M1358 478h0M1365 466h0M1349 461h0M1347 458h0M1344 495h0M1365 480h0M1343 479h0M1362 490h0M1368 484h0M1359 463h0M1350 472h0M1354 495h0M1349 481h0M1351 474h0M1359 485h0M1354 471h0M1325 471h0M1350 463h0M1344 471h0M1355 458h0M1348 508h0M1373 466h0M1347 506h0M1330 486h0M1355 464h0M1339 461h0M1352 493h0M1377 461h0M1359 471h0M1368 450h0M1353 484h0M1336 487h0M1342 461h0M1375 458h0M1353 483h0M1342 470h0M1393 484h0M1365 485h0M1356 474h0M1356 470h0M1371 454h0M1349 485h0M1355 481h0M1346 472h0M1347 495h0M1358 453h0M1355 484h0M1335 500h0M1376 461h0M1343 495h0M1345 473h0M1347 469h0M1358 493h0M1350 475h0M1354 452h0M1345 468h0M1363 480h0M1362 494h0M1356 465h0M1368 478h0M1345 456h0M1355 462h0M1331 496h0M1344 479h0M1350 457h0M1337 466h0M1341 491h0M1345 487h0M1346 454h0M1348 499h0M1348 479h0M1354 470h0M1354 487h0M1362 466h0M1365 470h0M1334 478h0M1345 477h0M1358 491h0M1351 485h0M1334 511h0M1359 496h0M1368 488h0M1339 450h0M1346 468h0M1352 462h0M1362 476h0M1356 502h0M1376 466h0M1340 482h0M1345 510h0M1337 495h0M1341 479h0M1350 459h0M1356 480h0M1350 469h0M1330 495h0M1349 467h0M1345 490h0M1349 490h0M1333 485h0M1348 471h0M1364 461h0M1367 473h0M1352 483h0M1343 486h0M1352 478h0M1353 476h0M1340 485h0M1357 471h0M1357 464h0M1354 468h0M1344 464h0M1362 483h0M1376 460h0M1349 471h0M1362 480h0M1341 487h0M1340 456h0M1349 475h0M1362 479h0M1341 464h0M1340 450h0M1366 460h0M1352 478h0M1350 487h0M1359 480h0M1355 499h0M1336 464h0M1342 478h0M1343 502h0M1331 507h0M1344 501h0M1349 465h0M1338 466h0M1352 481h0M1328 505h0M1358 486h0M1362 471h0M1358 485h0M1334 459h0M1337 485h0M1366 503h0M1364 476h0M1337 488h0M1361 473h0M1345 471h0M1355 481h0M1355 473h0M1333 507h0M1368 500h0M1347 474h0M1371 464h0M1374 486h0M1330 465h0M1328 463h0M1350 487h0M1348 416h0M1367 468h0M1348 512h0M1379 485h0M1377 476h0M1344 451h0M1360 473h0M1342 472h0M1341 498h0M1360 456h0M1359 478h0M1352 508h0M1344 461h0M1348 483h0M1353 493h0M1337 500h0M1340 485h0M1351 476h0M1366 456h0M1366 471h0M1346 447h0M1354 474h0M1358 465h0M1367 480h0M1379 481h0M1347 463h0M1363 470h0M1354 464h0M1376 477h0M1346 464h0M1352 476h0M1353 480h0M1367 461h0M1347 487h0M1366 478h0M1363 481h0M1349 455h0M1355 466h0M1341 437h0M1377 466h0M1355 462h0M1351 476h0M1342 492h0M1348 482h0M1338 481h0M1348 487h0M1355 463h0M1368 496h0M1364 486h0M1337 502h0M1353 464h0M1348 470h0M1347 442h0M1365 479h0M1335 459h0M1368 486h0M1352 470h0M1358 484h0M1340 486h0M1360 491h0M1340 470h0M1354 460h0M1346 472h0M1364 465h0M1340 483h0M1357 467h0M1361 498h0M1351 485h0M1375 475h0M1347 471h0M1372 483h0M1352 465h0M1347 504h0M1335 500h0M1349 474h0M1341 472h0M1356 482h0M1341 494h0M1329 470h0M1370 479h0M1355 473h0M1344 505h0M1359 493h0M1350 493h0M1364 474h0M1364 494h0M1352 474h0M1352 475h0M1371 479h0M1354 477h0M1350 475h0M1375 493h0M1360 510h0M1357 479h0M1364 458h0M1351 468h0M1345 487h0M1349 487h0M1350 476h0M1355 497h0M1343 463h0M1336 486h0M1375 456h0M1341 458h0M1351 496h0M1340 465h0M1359 477h0M1360 474h0M1351 478h0M1357 488h0M1353 473h0M1361 488h0M1347 484h0M1364 471h0M1340 454h0M1360 478h0M1344 500h0M1342 484h0M1337 471h0M1324 492h0M1338 481h0M1348 472h0M1356 503h0M1356 484h0M1341 482h0M1364 463h0M1356 496h0M1347 455h0M1360 469h0M1360 462h0M1387 472h0M1348 481h0M1362 497h0M1365 464h0M1350 456h0M1350 496h0M1355 505h0M1363 467h0M1350 489h0M1364 472h0M1374 484h0M1339 450h0M1344 452h0M1345 490h0M1353 480h0M1355 487h0M1347 483h0M1350 482h0M1358 479h0M1351 468h0M1381 480h0M1353 454h0M1354 484h0M1354 470h0M1365 466h0M1366 476h0M1333 494h0M1345 505h0M1369 469h0M1350 468h0M1349 493h0M1369 464h0M1351 478h0M1349 457h0M1348 465h0M1348 487h0M1352 468h0M1363 506h0M1331 472h0M1361 477h0M1355 481h0M1364 497h0M1351 464h0M1364 489h0M1370 454h0M1327 475h0M1362 496h0M1346 475h0M1345 476h0M1343 459h0M1355 480h0M1336 485h0M1368 466h0M1349 472h0M1354 468h0M1344 459h0M1364 474h0M1342 467h0M1342 490h0M1348 474h0M1352 470h0M1357 499h0M1349 479h0M1355 492h0M1347 448h0" stroke="#0000FF" stroke-width="1.4" stroke-linecap="square"/>
<g transform="translate(1353 479) rotate(0)" filter="url(#bl)"><ellipse cx="0.0" cy="0.0" rx="15.0" ry="22.0" fill="#0000FF"/><ellipse cx="0.0" cy="0.7" rx="13.5" ry="19.8" fill="#0070FF"/><ellipse cx="0.0" cy="1.1" rx="12.6" ry="18.5" fill="#00E0FF"/><ellipse cx="0.0" cy="1.7" rx="11.1" ry="16.3" fill="#20FF60"/><ellipse cx="0.0" cy="2.8" rx="8.5" ry="12.5" fill="#C8FF00"/><ellipse cx="0.0" cy="3.8" rx="6.3" ry="9.2" fill="#FFD000"/><ellipse cx="0.0" cy="4.9" rx="3.9" ry="5.7" fill="#FF2000"/></g>
<path d="M1312 472h0M1316 460h0M1325 453h0M1315 490h0M1311 497h0M1320 491h0M1381 437h0M1384 453h0M1400 450h0M1403 466h0M1396 465h0M1392 494h0M1396 465h0" stroke="#0000FF" stroke-width="1.6" stroke-linecap="square"/>
<polygon points="1373.8,451.9 1426.3,395.3 1454.6,400.6 1453.3,422.0 1384.0,471.6" fill="none" stroke="#1a1a1a" stroke-width="1.3" stroke-linejoin="miter"/>
<text x="1424.70" y="425.50" font-size="12.5" text-anchor="middle" font-weight="normal">0.21</text>
<rect x="1302.3" y="355.7" width="180.2" height="185.6" fill="none" stroke="#333" stroke-width="1.1"/>
<path d="M1296.8 369.8h5.5 M1296.8 397.8h5.5 M1296.8 427.5h5.5 M1296.8 463.3h5.5 M1296.8 498.8h5.5 M1296.8 532.4h5.5 M1299.8 389.4h2.5 M1299.8 384.5h2.5 M1299.8 381.0h2.5 M1299.8 378.2h2.5 M1299.8 376.0h2.5 M1299.8 374.1h2.5 M1299.8 372.5h2.5 M1299.8 371.1h2.5 M1299.8 418.6h2.5 M1299.8 413.4h2.5 M1299.8 409.6h2.5 M1299.8 406.8h2.5 M1299.8 404.4h2.5 M1299.8 402.4h2.5 M1299.8 400.7h2.5 M1299.8 399.2h2.5 M1299.8 452.6h2.5 M1299.8 446.3h2.5 M1299.8 441.8h2.5 M1299.8 438.3h2.5 M1299.8 435.5h2.5 M1299.8 433.1h2.5 M1299.8 431.0h2.5 M1299.8 429.2h2.5 M1299.8 470.4h2.5 M1299.8 477.5h2.5 M1299.8 484.6h2.5 M1299.8 491.7h2.5 M1299.8 505.5h2.5 M1299.8 512.2h2.5 M1299.8 519.0h2.5 M1299.8 525.7h2.5 M1299.8 361.4h2.5" stroke="#111" stroke-width="1" fill="none"/>
<path d="M1296.8 493.8h5.5M1298.3 496.3h4M1296.8 498.8h5.5M1298.3 501.3h4M1296.8 503.8h5.5" stroke="#000" stroke-width="1.6"/><rect x="1299.8" y="493.8" width="2.5" height="10" fill="#000"/>
<path d="M1310.8 541.3v5.5 M1351.0 541.3v5.5 M1390.6 541.3v5.5 M1431.3 541.3v5.5 M1465.6 541.3v5.5 M1481.2 541.3v5.5 M1318.8 541.3v2.5 M1326.8 541.3v2.5 M1334.9 541.3v2.5 M1342.9 541.3v2.5 M1358.9 541.3v2.5 M1366.8 541.3v2.5 M1374.7 541.3v2.5 M1382.7 541.3v2.5 M1402.9 541.3v2.5 M1410.0 541.3v2.5 M1415.1 541.3v2.5 M1419.1 541.3v2.5 M1422.3 541.3v2.5 M1425.0 541.3v2.5 M1427.4 541.3v2.5 M1429.5 541.3v2.5 M1441.6 541.3v2.5 M1447.7 541.3v2.5 M1451.9 541.3v2.5 M1455.3 541.3v2.5 M1458.0 541.3v2.5 M1460.3 541.3v2.5 M1462.2 541.3v2.5 M1464.0 541.3v2.5 M1470.3 541.3v2.5 M1473.0 541.3v2.5 M1475.0 541.3v2.5 M1476.5 541.3v2.5 M1477.8 541.3v2.5 M1478.8 541.3v2.5 M1479.7 541.3v2.5 M1480.5 541.3v2.5" stroke="#111" stroke-width="1" fill="none"/>
<path d="M1347.0 541.3v5.5M1349.0 541.3v4M1351.0 541.3v5.5M1353.0 541.3v4M1355.0 541.3v5.5" stroke="#000" stroke-width="1.5"/><rect x="1347.0" y="541.3" width="8" height="2.5" fill="#000"/>
</g>
<line x1="71.30" y1="153.70" x2="71.30" y2="420.50" stroke="#000" stroke-width="1.6"/>
<path d="M67.9 159.2L71.3 154.0L74.7 159.2" fill="none" stroke="#000" stroke-width="1.5"/>
<line x1="313.30" y1="153.70" x2="313.30" y2="397.90" stroke="#000" stroke-width="1.6"/>
<path d="M309.9 159.2L313.3 154.0L316.7 159.2" fill="none" stroke="#000" stroke-width="1.5"/>
<line x1="556.70" y1="153.70" x2="556.70" y2="397.90" stroke="#000" stroke-width="1.6"/>
<path d="M553.3 159.2L556.7 154.0L560.1 159.2" fill="none" stroke="#000" stroke-width="1.5"/>
<line x1="810.90" y1="157.50" x2="810.90" y2="415.60" stroke="#000" stroke-width="1.6"/>
<path d="M807.5 163.0L810.9 157.8L814.3 163.0" fill="none" stroke="#000" stroke-width="1.5"/>
<line x1="1045.90" y1="157.50" x2="1045.90" y2="393.30" stroke="#000" stroke-width="1.6"/>
<path d="M1042.5 163.0L1045.9 157.8L1049.3 163.0" fill="none" stroke="#000" stroke-width="1.5"/>
<line x1="1281.50" y1="157.80" x2="1281.50" y2="393.30" stroke="#000" stroke-width="1.6"/>
<path d="M1278.1 163.3L1281.5 158.1L1284.9 163.3" fill="none" stroke="#000" stroke-width="1.5"/>
<text x="65.90" y="532.60" font-size="25" textLength="57.20" lengthAdjust="spacingAndGlyphs" transform="rotate(-90 65.90 532.60)">Spike</text>
<text x="73.60" y="465.80" font-size="18.5" textLength="18.30" lengthAdjust="spacingAndGlyphs" transform="rotate(-90 73.60 465.80)">PE</text>
<text x="811.00" y="523.70" font-size="25" textLength="54.50" lengthAdjust="spacingAndGlyphs" transform="rotate(-90 811.00 523.70)">Spike</text>
<text x="814.90" y="459.90" font-size="18.5" textLength="17.70" lengthAdjust="spacingAndGlyphs" transform="rotate(-90 814.90 459.90)">PE</text>
<text x="316.90" y="542.90" font-size="24" textLength="47.80" lengthAdjust="spacingAndGlyphs" transform="rotate(-90 316.90 542.90)">RBD</text>
<text x="324.00" y="492.60" font-size="17.3" textLength="16.70" lengthAdjust="spacingAndGlyphs" transform="rotate(-90 324.00 492.60)">PE</text>
<text x="316.90" y="467.60" font-size="24" textLength="15.40" lengthAdjust="spacingAndGlyphs" transform="rotate(-90 316.90 467.60)">&amp;</text>
<text x="316.90" y="441.30" font-size="24" textLength="12.80" lengthAdjust="spacingAndGlyphs" transform="rotate(-90 316.90 441.30)">N</text>
<text x="324.00" y="424.60" font-size="17.3" textLength="16.00" lengthAdjust="spacingAndGlyphs" transform="rotate(-90 324.00 424.60)">PE</text>
<text x="556.40" y="544.20" font-size="24" textLength="48.10" lengthAdjust="spacingAndGlyphs" transform="rotate(-90 556.40 544.20)">RBD</text>
<text x="563.00" y="493.20" font-size="17.3" textLength="16.00" lengthAdjust="spacingAndGlyphs" transform="rotate(-90 563.00 493.20)">PE</text>
<text x="556.40" y="468.80" font-size="24" textLength="16.00" lengthAdjust="spacingAndGlyphs" transform="rotate(-90 556.40 468.80)">&amp;</text>
<text x="556.40" y="443.20" font-size="24" textLength="13.10" lengthAdjust="spacingAndGlyphs" transform="rotate(-90 556.40 443.20)">N</text>
<text x="563.00" y="425.90" font-size="17.3" textLength="15.70" lengthAdjust="spacingAndGlyphs" transform="rotate(-90 563.00 425.90)">PE</text>
<text x="1049.70" y="533.60" font-size="24" textLength="45.80" lengthAdjust="spacingAndGlyphs" transform="rotate(-90 1049.70 533.60)">RBD</text>
<text x="1054.20" y="484.90" font-size="12.5" textLength="15.10" lengthAdjust="spacingAndGlyphs" transform="rotate(-90 1054.20 484.90)">PF</text>
<text x="1049.70" y="461.20" font-size="24" textLength="16.10" lengthAdjust="spacingAndGlyphs" transform="rotate(-90 1049.70 461.20)">&amp;</text>
<text x="1049.70" y="435.80" font-size="24" textLength="12.80" lengthAdjust="spacingAndGlyphs" transform="rotate(-90 1049.70 435.80)">N</text>
<text x="1054.20" y="419.80" font-size="12.5" textLength="15.10" lengthAdjust="spacingAndGlyphs" transform="rotate(-90 1054.20 419.80)">PF</text>
<text x="1281.00" y="535.50" font-size="24" textLength="46.50" lengthAdjust="spacingAndGlyphs" transform="rotate(-90 1281.00 535.50)">RBD</text>
<text x="1286.10" y="486.20" font-size="13.5" textLength="15.10" lengthAdjust="spacingAndGlyphs" transform="rotate(-90 1286.10 486.20)">PF</text>
<text x="1281.00" y="462.80" font-size="24" textLength="16.10" lengthAdjust="spacingAndGlyphs" transform="rotate(-90 1281.00 462.80)">&amp;</text>
<text x="1281.00" y="437.40" font-size="24" textLength="12.80" lengthAdjust="spacingAndGlyphs" transform="rotate(-90 1281.00 437.40)">N</text>
<text x="1286.10" y="421.10" font-size="13.5" textLength="15.40" lengthAdjust="spacingAndGlyphs" transform="rotate(-90 1286.10 421.10)">PF</text>
<text x="142.00" y="584.50" font-size="24.5" textLength="56.00" lengthAdjust="spacingAndGlyphs">Spike</text>
<text x="200.00" y="593.50" font-size="17.5" textLength="48.50" lengthAdjust="spacingAndGlyphs">PE-Cy5</text>
<text x="388.75" y="585.00" font-size="24.5" textLength="42.50" lengthAdjust="spacingAndGlyphs">RBD</text>
<text x="434.50" y="593.50" font-size="17.5" textLength="45.00" lengthAdjust="spacingAndGlyphs">BV785</text>
<text x="644.50" y="581.25" font-size="24.5" textLength="14.25" lengthAdjust="spacingAndGlyphs">N</text>
<text x="661.25" y="588.00" font-size="17.5" textLength="44.25" lengthAdjust="spacingAndGlyphs">AF647</text>
<text x="882.00" y="573.75" font-size="24.5" textLength="53.50" lengthAdjust="spacingAndGlyphs">Spike</text>
<text x="936.00" y="579.70" font-size="17.5" textLength="48.00" lengthAdjust="spacingAndGlyphs">PE-Cy5</text>
<text x="1119.50" y="574.00" font-size="24.5" textLength="41.20" lengthAdjust="spacingAndGlyphs">RBD</text>
<text x="1162.30" y="579.70" font-size="17.5" textLength="43.70" lengthAdjust="spacingAndGlyphs">BV785</text>
<text x="1365.70" y="570.80" font-size="24.5" textLength="13.70" lengthAdjust="spacingAndGlyphs">N</text>
<text x="1381.00" y="576.40" font-size="17.5" textLength="43.00" lengthAdjust="spacingAndGlyphs">AF647</text>
<rect x="120" y="590.5" width="400" height="12" fill="#fff"/>
<text x="637.00" y="713.00" font-size="47" textLength="120.50" lengthAdjust="spacingAndGlyphs">Blood</text>
<line x1="104.00" y1="719.90" x2="1244.50" y2="719.90" stroke="#000" stroke-width="1.8"/>
<text x="651.50" y="1335.20" font-size="47" textLength="80.50" lengthAdjust="spacingAndGlyphs">BAL</text>
<line x1="114.50" y1="1350.50" x2="1245.70" y2="1355.60" stroke="#000" stroke-width="1.8"/>
<text x="29.30" y="775.60" font-size="45" textLength="26.50" lengthAdjust="spacingAndGlyphs">B</text>
<text x="436.00" y="775.50" font-size="45" textLength="27.00" lengthAdjust="spacingAndGlyphs">C</text>
<text x="847.50" y="775.50" font-size="45" textLength="26.50" lengthAdjust="spacingAndGlyphs">D</text>
<text x="15.80" y="1413.00" font-size="45" textLength="22.50" lengthAdjust="spacingAndGlyphs">E</text>
<text x="445.00" y="1412.50" font-size="45" textLength="22.00" lengthAdjust="spacingAndGlyphs">F</text>
<text x="842.70" y="1413.00" font-size="45" textLength="32.00" lengthAdjust="spacingAndGlyphs">G</text>
<path d="M113.0 820.6V1228.7M111.1 1228.7H397.5" stroke="#000" stroke-width="3.8" fill="none"/>
<path d="M96.3 1228.7H113.0M96.3 1093.3H113.0M96.3 957.9H113.0M96.3 822.5H113.0M169.8 1228.7V1246.7M254.8 1228.7V1246.7M340.1 1228.7V1246.7" stroke="#000" stroke-width="3.6" fill="none"/>
<text x="91.50" y="1239.67" font-size="31" text-anchor="end">0</text>
<text x="91.50" y="1104.27" font-size="31" text-anchor="end">2</text>
<text x="91.50" y="968.87" font-size="31" text-anchor="end">4</text>
<text x="91.50" y="833.47" font-size="31" text-anchor="end">6</text>
<text x="61.10" y="1180.50" font-size="31.5" textLength="305.00" lengthAdjust="spacingAndGlyphs" transform="rotate(-90 61.10 1180.50)">% Spike MBC in blood</text>
<path d="M143.8 1228.7V1210.0H195.8V1228.7" fill="none" stroke="#A9A9AB" stroke-width="4"/>
<path d="M228.8 1228.7V1146.0H280.8V1228.7" fill="none" stroke="#B4F4DC" stroke-width="4"/>
<path d="M314.6 1228.7V1098.6H366.6V1228.7" fill="none" stroke="#EECBF8" stroke-width="4"/>
<circle cx="156.5" cy="1178.7" r="8.05" fill="#A6A6A8" stroke="#000" stroke-width="1.9"/>
<circle cx="176.2" cy="1173.6" r="8.05" fill="#A6A6A8" stroke="#000" stroke-width="1.9"/>
<circle cx="176.2" cy="1193.3" r="8.05" fill="#A6A6A8" stroke="#000" stroke-width="1.9"/>
<circle cx="156.5" cy="1200.3" r="8.05" fill="#A6A6A8" stroke="#000" stroke-width="1.9"/>
<circle cx="149.3" cy="1206.1" r="8.05" fill="#A6A6A8" stroke="#000" stroke-width="1.9"/>
<circle cx="163.4" cy="1206.1" r="8.05" fill="#A6A6A8" stroke="#000" stroke-width="1.9"/>
<circle cx="183.9" cy="1204.9" r="8.05" fill="#A6A6A8" stroke="#000" stroke-width="1.9"/>
<circle cx="191.1" cy="1206.1" r="8.05" fill="#A6A6A8" stroke="#000" stroke-width="1.9"/>
<circle cx="176.2" cy="1211.3" r="8.05" fill="#A6A6A8" stroke="#000" stroke-width="1.9"/>
<circle cx="255.1" cy="1028.2" r="8.05" fill="#129DB6" stroke="#000" stroke-width="1.9"/>
<circle cx="255.1" cy="1046.1" r="7.9" fill="#fff" stroke="#129DB6" stroke-width="4"/>
<circle cx="245.4" cy="1085.3" r="8.05" fill="#129DB6" stroke="#000" stroke-width="1.9"/>
<circle cx="265.3" cy="1078.9" r="8.05" fill="#129DB6" stroke="#000" stroke-width="1.9"/>
<circle cx="234.9" cy="1140.4" r="8.05" fill="#129DB6" stroke="#000" stroke-width="1.9"/>
<path d="M246.6 1138.3A8.5 8.5 0 0 1 263.6 1138.3Z" fill="#129DB6"/><circle cx="255.1" cy="1138.3" r="7.6" fill="none" stroke="#129DB6" stroke-width="2.6"/>
<circle cx="275.6" cy="1140.8" r="7.9" fill="#fff" stroke="#129DB6" stroke-width="4"/>
<circle cx="255.1" cy="1186.4" r="8.05" fill="#129DB6" stroke="#000" stroke-width="1.9"/>
<circle cx="255.1" cy="1204.4" r="8.05" fill="#129DB6" stroke="#000" stroke-width="1.9"/>
<circle cx="340.6" cy="875.0" r="8.05" fill="#C000C0" stroke="#000" stroke-width="1.9"/>
<circle cx="340.6" cy="929.3" r="8.05" fill="#C000C0" stroke="#000" stroke-width="1.9"/>
<circle cx="350.3" cy="1005.1" r="8.05" fill="#C000C0" stroke="#000" stroke-width="1.9"/>
<circle cx="330.4" cy="1019.2" r="8.05" fill="#C000C0" stroke="#000" stroke-width="1.9"/>
<circle cx="340.1" cy="1028.2" r="8.05" fill="#FF8000" stroke="#000" stroke-width="1.9"/>
<circle cx="350.3" cy="1023.0" r="7.9" fill="#fff" stroke="#C000C0" stroke-width="4"/>
<circle cx="330.4" cy="1039.7" r="8.05" fill="#FF8000" stroke="#000" stroke-width="1.9"/>
<circle cx="340.1" cy="1051.2" r="8.05" fill="#C000C0" stroke="#000" stroke-width="1.9"/>
<circle cx="345.7" cy="1069.1" r="8.05" fill="#C000C0" stroke="#000" stroke-width="1.9"/>
<circle cx="335.5" cy="1070.4" r="7.9" fill="#fff" stroke="#C000C0" stroke-width="4"/>
<circle cx="340.1" cy="1089.6" r="8.05" fill="#FF8000" stroke="#000" stroke-width="1.9"/>
<circle cx="330.4" cy="1103.7" r="8.05" fill="#C000C0" stroke="#000" stroke-width="1.9"/>
<circle cx="340.1" cy="1119.1" r="7.9" fill="#fff" stroke="#C000C0" stroke-width="4"/>
<circle cx="320.1" cy="1148.0" r="8.05" fill="#C000C0" stroke="#000" stroke-width="1.9"/>
<circle cx="340.1" cy="1152.4" r="8.05" fill="#C000C0" stroke="#000" stroke-width="1.9"/>
<circle cx="320.1" cy="1162.6" r="8.05" fill="#C000C0" stroke="#000" stroke-width="1.9"/>
<circle cx="351.6" cy="1163.1" r="7.9" fill="#fff" stroke="#C000C0" stroke-width="4"/>
<circle cx="360.8" cy="1168.0" r="7.9" fill="#fff" stroke="#C000C0" stroke-width="4"/>
<circle cx="340.1" cy="1175.4" r="8.05" fill="#FF8000" stroke="#000" stroke-width="1.9"/>
<circle cx="335.5" cy="1208.7" r="8.05" fill="#C000C0" stroke="#000" stroke-width="1.9"/>
<circle cx="345.7" cy="1206.1" r="8.05" fill="#FF8000" stroke="#000" stroke-width="1.9"/>
<path d="M169.8 1190.8V1206.1M157.8 1190.8H181.8M157.8 1206.1H181.8" stroke="#000" stroke-width="2.3" fill="none"/>
<path d="M254.8 1062.2V1163.1M241.3 1062.2H268.3M241.3 1163.1H268.3" stroke="#000" stroke-width="2.3" fill="none"/>
<path d="M340.6 1025.6V1162.6M327.1 1025.6H354.1M327.1 1162.6H354.1" stroke="#000" stroke-width="2.3" fill="none"/>
<line x1="114.9" y1="1179.0" x2="392.6" y2="1179.0" stroke="#000" stroke-width="2" stroke-dasharray="4.2 5.9" stroke-dashoffset="-1.5"/>
<text x="241.10" y="834.60" font-size="25" text-anchor="middle">0.003</text>
<line x1="134.00" y1="841.50" x2="354.20" y2="841.50" stroke="#000" stroke-width="1.9"/>
<text x="187.10" y="871.20" font-size="25" text-anchor="middle">0.012</text>
<line x1="134.70" y1="876.80" x2="247.40" y2="876.80" stroke="#000" stroke-width="1.9"/>
<path d="M521.2 823.6V1232.6M519.3 1232.6H800.0" stroke="#000" stroke-width="3.8" fill="none"/>
<path d="M504.5 1232.6H521.2M504.5 1096.9H521.2M504.5 961.2H521.2M504.5 825.5H521.2M577.5 1232.6V1250.6M662.8 1232.6V1250.6M747.8 1232.6V1250.6" stroke="#000" stroke-width="3.6" fill="none"/>
<text x="499.50" y="1243.57" font-size="31" text-anchor="end">0</text>
<text x="499.50" y="1107.87" font-size="31" text-anchor="end">2</text>
<text x="499.50" y="972.17" font-size="31" text-anchor="end">4</text>
<text x="499.50" y="836.47" font-size="31" text-anchor="end">6</text>
<text x="463.00" y="1182.50" font-size="31.5" textLength="298.70" lengthAdjust="spacingAndGlyphs" transform="rotate(-90 463.00 1182.50)">% RBD MBC in blood</text>
<path d="M636.8 1232.6V1153.6H688.8V1232.6" fill="none" stroke="#B4F4DC" stroke-width="4"/>
<path d="M721.8 1232.6V1158.8H773.8V1232.6" fill="none" stroke="#EECBF8" stroke-width="4"/>
<circle cx="580.0" cy="1202.8" r="8.05" fill="#A6A6A8" stroke="#000" stroke-width="1.9"/>
<circle cx="563.4" cy="1217.7" r="8.05" fill="#A6A6A8" stroke="#000" stroke-width="1.9"/>
<circle cx="573.6" cy="1215.1" r="8.05" fill="#A6A6A8" stroke="#000" stroke-width="1.9"/>
<circle cx="585.2" cy="1218.9" r="8.05" fill="#A6A6A8" stroke="#000" stroke-width="1.9"/>
<circle cx="596.7" cy="1224.1" r="8.05" fill="#A6A6A8" stroke="#000" stroke-width="1.9"/>
<circle cx="557.5" cy="1227.9" r="8.05" fill="#A6A6A8" stroke="#000" stroke-width="1.9"/>
<circle cx="580.0" cy="1231.8" r="8.05" fill="#A6A6A8" stroke="#000" stroke-width="1.9"/>
<circle cx="591.6" cy="1231.8" r="8.05" fill="#A6A6A8" stroke="#000" stroke-width="1.9"/>
<circle cx="662.8" cy="1050.4" r="8.05" fill="#129DB6" stroke="#000" stroke-width="1.9"/>
<circle cx="672.2" cy="1098.6" r="7.9" fill="#fff" stroke="#129DB6" stroke-width="4"/>
<circle cx="651.8" cy="1108.1" r="8.05" fill="#129DB6" stroke="#000" stroke-width="1.9"/>
<circle cx="662.8" cy="1129.3" r="7.9" fill="#fff" stroke="#129DB6" stroke-width="4"/>
<circle cx="662.8" cy="1152.9" r="8.05" fill="#129DB6" stroke="#000" stroke-width="1.9"/>
<path d="M633.8 1183.9A8.5 8.5 0 0 1 650.8 1183.9Z" fill="#129DB6"/><circle cx="642.3" cy="1183.9" r="7.6" fill="none" stroke="#129DB6" stroke-width="2.6"/>
<circle cx="662.8" cy="1188.2" r="8.05" fill="#129DB6" stroke="#000" stroke-width="1.9"/>
<circle cx="682.5" cy="1186.4" r="8.05" fill="#129DB6" stroke="#000" stroke-width="1.9"/>
<circle cx="662.8" cy="1204.9" r="8.05" fill="#129DB6" stroke="#000" stroke-width="1.9"/>
<circle cx="747.8" cy="1046.1" r="8.05" fill="#C000C0" stroke="#000" stroke-width="1.9"/>
<circle cx="758.0" cy="1097.3" r="8.05" fill="#C000C0" stroke="#000" stroke-width="1.9"/>
<circle cx="768.8" cy="1109.6" r="8.05" fill="#C000C0" stroke="#000" stroke-width="1.9"/>
<circle cx="728.6" cy="1116.5" r="8.05" fill="#C000C0" stroke="#000" stroke-width="1.9"/>
<circle cx="737.5" cy="1114.7" r="8.05" fill="#C000C0" stroke="#000" stroke-width="1.9"/>
<circle cx="758.0" cy="1124.2" r="8.05" fill="#FF8000" stroke="#000" stroke-width="1.9"/>
<circle cx="748.5" cy="1124.2" r="7.9" fill="#fff" stroke="#C000C0" stroke-width="4"/>
<circle cx="737.5" cy="1135.7" r="8.05" fill="#C000C0" stroke="#000" stroke-width="1.9"/>
<circle cx="747.8" cy="1156.7" r="8.05" fill="#FF8000" stroke="#000" stroke-width="1.9"/>
<circle cx="768.8" cy="1154.9" r="8.05" fill="#C000C0" stroke="#000" stroke-width="1.9"/>
<circle cx="758.0" cy="1156.2" r="8.05" fill="#FF8000" stroke="#000" stroke-width="1.9"/>
<circle cx="728.6" cy="1144.7" r="7.9" fill="#fff" stroke="#C000C0" stroke-width="4"/>
<circle cx="737.5" cy="1162.6" r="7.9" fill="#fff" stroke="#C000C0" stroke-width="4"/>
<circle cx="728.6" cy="1165.2" r="8.05" fill="#FF8000" stroke="#000" stroke-width="1.9"/>
<circle cx="727.3" cy="1181.8" r="8.05" fill="#C000C0" stroke="#000" stroke-width="1.9"/>
<circle cx="747.8" cy="1184.4" r="8.05" fill="#C000C0" stroke="#000" stroke-width="1.9"/>
<circle cx="768.8" cy="1181.8" r="7.9" fill="#fff" stroke="#C000C0" stroke-width="4"/>
<circle cx="758.5" cy="1189.5" r="7.9" fill="#fff" stroke="#C000C0" stroke-width="4"/>
<circle cx="737.5" cy="1194.6" r="8.05" fill="#C000C0" stroke="#000" stroke-width="1.9"/>
<circle cx="758.0" cy="1204.4" r="8.05" fill="#C000C0" stroke="#000" stroke-width="1.9"/>
<circle cx="747.8" cy="1201.0" r="8.05" fill="#FF8000" stroke="#000" stroke-width="1.9"/>
<path d="M729.0 1219.7A8.5 8.5 0 0 1 746.0 1219.7Z" fill="#C000C0"/><circle cx="737.5" cy="1219.7" r="7.6" fill="none" stroke="#C000C0" stroke-width="2.6"/>
<path d="M577.5 1217.2V1225.0M565.5 1217.2H589.5M565.5 1225.0H589.5" stroke="#000" stroke-width="2.3" fill="none"/>
<path d="M662.8 1103.2V1187.7M649.3 1103.2H676.3M649.3 1187.7H676.3" stroke="#000" stroke-width="2.3" fill="none"/>
<path d="M747.8 1121.6V1184.4M734.3 1121.6H761.3M734.3 1184.4H761.3" stroke="#000" stroke-width="2.3" fill="none"/>
<line x1="523.1" y1="1204.1" x2="800.0" y2="1204.1" stroke="#000" stroke-width="2" stroke-dasharray="4.2 5.9" stroke-dashoffset="-1.5"/>
<text x="658.20" y="837.90" font-size="25" text-anchor="middle">&lt;0.0001</text>
<line x1="542.40" y1="845.30" x2="761.40" y2="845.30" stroke="#000" stroke-width="1.9"/>
<text x="599.90" y="881.40" font-size="25" text-anchor="middle">0.0006</text>
<line x1="542.90" y1="887.10" x2="655.10" y2="887.10" stroke="#000" stroke-width="1.9"/>
<path d="M911.9 826.0V1235.0M910.0 1235.0H1198.0" stroke="#000" stroke-width="3.8" fill="none"/>
<path d="M895.3 1235.0H911.9M895.3 1099.3H911.9M895.3 963.6H911.9M895.3 827.9H911.9M968.3 1235.0V1253.0M1053.6 1235.0V1253.0M1139.1 1235.0V1253.0" stroke="#000" stroke-width="3.6" fill="none"/>
<text x="890.50" y="1245.97" font-size="31" text-anchor="end">0</text>
<text x="890.50" y="1110.27" font-size="31" text-anchor="end">2</text>
<text x="890.50" y="974.57" font-size="31" text-anchor="end">4</text>
<text x="890.50" y="838.87" font-size="31" text-anchor="end">6</text>
<text x="855.10" y="1157.50" font-size="31" textLength="249.60" lengthAdjust="spacingAndGlyphs" transform="rotate(-90 855.10 1157.50)">% N MBC in blood</text>
<path d="M1113.1 1235.0V1189.5H1165.1V1235.0" fill="none" stroke="#EECBF8" stroke-width="4"/>
<circle cx="968.3" cy="1208.7" r="8.05" fill="#A6A6A8" stroke="#000" stroke-width="1.9"/>
<circle cx="951.6" cy="1220.7" r="8.05" fill="#A6A6A8" stroke="#000" stroke-width="1.9"/>
<circle cx="961.9" cy="1222.8" r="8.05" fill="#A6A6A8" stroke="#000" stroke-width="1.9"/>
<circle cx="974.7" cy="1226.6" r="8.05" fill="#A6A6A8" stroke="#000" stroke-width="1.9"/>
<circle cx="983.6" cy="1225.4" r="8.05" fill="#A6A6A8" stroke="#000" stroke-width="1.9"/>
<circle cx="947.8" cy="1227.9" r="8.05" fill="#A6A6A8" stroke="#000" stroke-width="1.9"/>
<circle cx="968.3" cy="1231.8" r="8.05" fill="#A6A6A8" stroke="#000" stroke-width="1.9"/>
<circle cx="988.8" cy="1231.8" r="8.05" fill="#A6A6A8" stroke="#000" stroke-width="1.9"/>
<circle cx="1041.3" cy="1195.9" r="8.05" fill="#129DB6" stroke="#000" stroke-width="1.9"/>
<circle cx="1050.2" cy="1207.4" r="7.9" fill="#fff" stroke="#129DB6" stroke-width="4"/>
<circle cx="1034.9" cy="1212.5" r="8.05" fill="#129DB6" stroke="#000" stroke-width="1.9"/>
<circle cx="1058.7" cy="1221.5" r="7.9" fill="#fff" stroke="#129DB6" stroke-width="4"/>
<circle cx="1034.9" cy="1226.6" r="8.05" fill="#129DB6" stroke="#000" stroke-width="1.9"/>
<circle cx="1047.7" cy="1225.4" r="8.05" fill="#129DB6" stroke="#000" stroke-width="1.9"/>
<circle cx="1073.3" cy="1225.4" r="8.05" fill="#129DB6" stroke="#000" stroke-width="1.9"/>
<circle cx="1065.6" cy="1233.0" r="8.05" fill="#129DB6" stroke="#000" stroke-width="1.9"/>
<circle cx="1138.6" cy="1082.5" r="8.05" fill="#C000C0" stroke="#000" stroke-width="1.9"/>
<circle cx="1142.4" cy="1105.0" r="8.05" fill="#C000C0" stroke="#000" stroke-width="1.9"/>
<circle cx="1134.7" cy="1099.9" r="7.9" fill="#fff" stroke="#C000C0" stroke-width="4"/>
<circle cx="1142.4" cy="1136.5" r="8.05" fill="#C000C0" stroke="#000" stroke-width="1.9"/>
<circle cx="1150.9" cy="1151.9" r="8.05" fill="#C000C0" stroke="#000" stroke-width="1.9"/>
<circle cx="1142.4" cy="1161.3" r="8.05" fill="#C000C0" stroke="#000" stroke-width="1.9"/>
<circle cx="1121.9" cy="1186.9" r="8.05" fill="#FF8000" stroke="#000" stroke-width="1.9"/>
<circle cx="1118.6" cy="1176.7" r="8.05" fill="#C000C0" stroke="#000" stroke-width="1.9"/>
<circle cx="1134.7" cy="1176.7" r="7.9" fill="#fff" stroke="#C000C0" stroke-width="4"/>
<circle cx="1160.3" cy="1180.5" r="7.9" fill="#fff" stroke="#C000C0" stroke-width="4"/>
<circle cx="1150.9" cy="1180.5" r="8.05" fill="#C000C0" stroke="#000" stroke-width="1.9"/>
<circle cx="1134.7" cy="1192.1" r="7.9" fill="#fff" stroke="#C000C0" stroke-width="4"/>
<circle cx="1142.4" cy="1192.1" r="8.05" fill="#C000C0" stroke="#000" stroke-width="1.9"/>
<circle cx="1159.0" cy="1198.5" r="7.9" fill="#fff" stroke="#C000C0" stroke-width="4"/>
<circle cx="1150.9" cy="1199.7" r="8.05" fill="#FF8000" stroke="#000" stroke-width="1.9"/>
<circle cx="1118.6" cy="1204.9" r="8.05" fill="#FF8000" stroke="#000" stroke-width="1.9"/>
<circle cx="1127.0" cy="1207.4" r="8.05" fill="#C000C0" stroke="#000" stroke-width="1.9"/>
<circle cx="1159.0" cy="1217.7" r="7.9" fill="#fff" stroke="#C000C0" stroke-width="4"/>
<circle cx="1142.4" cy="1216.4" r="8.05" fill="#C000C0" stroke="#000" stroke-width="1.9"/>
<circle cx="1118.6" cy="1219.0" r="8.05" fill="#FF8000" stroke="#000" stroke-width="1.9"/>
<circle cx="1133.4" cy="1219.0" r="8.05" fill="#FF8000" stroke="#000" stroke-width="1.9"/>
<circle cx="1150.9" cy="1231.8" r="8.05" fill="#C000C0" stroke="#000" stroke-width="1.9"/>
<path d="M968.3 1224.0V1229.0M956.3 1224.0H980.3M956.3 1229.0H980.3" stroke="#000" stroke-width="2.3" fill="none"/>
<path d="M1053.6 1210.5V1227.4M1040.1 1210.5H1067.1M1040.1 1227.4H1067.1" stroke="#000" stroke-width="2.3" fill="none"/>
<path d="M1139.1 1159.5V1210.0M1125.6 1159.5H1152.6M1125.6 1210.0H1152.6" stroke="#000" stroke-width="2.3" fill="none"/>
<line x1="913.8" y1="1213.1" x2="1191.1" y2="1213.1" stroke="#000" stroke-width="2" stroke-dasharray="4.2 5.9" stroke-dashoffset="-1.5"/>
<text x="1039.40" y="841.50" font-size="25" text-anchor="middle">&lt;0.0001</text>
<line x1="933.20" y1="847.40" x2="1152.70" y2="847.40" stroke="#000" stroke-width="1.9"/>
<text x="1101.80" y="883.20" font-size="25" text-anchor="middle">0.008</text>
<line x1="1037.40" y1="887.10" x2="1157.00" y2="887.10" stroke="#000" stroke-width="1.9"/>
<circle cx="1240" cy="751" r="7.2" fill="#A6A6A8" stroke="#333" stroke-width="1.2"/>
<circle cx="1240" cy="786.6" r="7.8" fill="#129DB6"/>
<circle cx="1240" cy="822.6" r="7.8" fill="#C000C0"/>
<circle cx="1240" cy="860.6" r="7.8" fill="#FF8000"/>
<circle cx="1240" cy="919.9" r="7.2" fill="#fff" stroke="#000" stroke-width="3"/>
<circle cx="1240" cy="951.9" r="7.8" fill="#000"/>
<path d="M1232.5 983.8A7.5 7.5 0 0 1 1247.5 983.8Z" fill="#000"/><circle cx="1240" cy="983.8" r="6.9" fill="none" stroke="#000" stroke-width="1.4"/>
<text x="1280.50" y="758.90" font-size="22.8" textLength="71.20" lengthAdjust="spacingAndGlyphs">Control</text>
<text x="1280.50" y="794.30" font-size="22.8" textLength="177.10" lengthAdjust="spacingAndGlyphs">Naive, vaccinated</text>
<text x="1280.50" y="830.10" font-size="22.8" textLength="192.70" lengthAdjust="spacingAndGlyphs">Symptomatic&amp;Vac</text>
<text x="1280.50" y="867.90" font-size="22.8" textLength="206.00" lengthAdjust="spacingAndGlyphs">Asymptomatic&amp;Vac</text>
<text x="1280.50" y="927.20" font-size="22.8" textLength="127.50" lengthAdjust="spacingAndGlyphs">ChAdOx1_S</text>
<text x="1280.50" y="959.20" font-size="22.8" textLength="150.70" lengthAdjust="spacingAndGlyphs">mRNA vaccine</text>
<text x="1280.50" y="991.50" font-size="22.8" textLength="168.90" lengthAdjust="spacingAndGlyphs">ChAdOx/ mRNA</text>
<path d="M114.3 1449.2V1857.0M112.4 1857.0H404.1" stroke="#000" stroke-width="3.8" fill="none"/>
<path d="M98.2 1857.0H114.3M98.2 1721.7H114.3M98.2 1586.4H114.3M98.2 1451.1H114.3M172.3 1857.0V1875.0M258.5 1857.0V1875.0M344.8 1857.0V1875.0" stroke="#000" stroke-width="3.6" fill="none"/>
<text x="93.80" y="1867.97" font-size="31" text-anchor="end">0</text>
<text x="93.80" y="1732.67" font-size="31" text-anchor="end">5</text>
<text x="93.80" y="1597.37" font-size="31" text-anchor="end">10</text>
<text x="93.80" y="1462.07" font-size="31" text-anchor="end">15</text>
<text x="49.80" y="1799.40" font-size="31" textLength="289.50" lengthAdjust="spacingAndGlyphs" transform="rotate(-90 49.80 1799.40)">% Spike MBC in BAL</text>
<path d="M318.8 1857.0V1745.7H370.8V1857.0" fill="none" stroke="#EECBF8" stroke-width="4"/>
<circle cx="172.3" cy="1839.5" r="8.05" fill="#A6A6A8" stroke="#000" stroke-width="1.9"/>
<circle cx="162.9" cy="1847.5" r="8.05" fill="#A6A6A8" stroke="#000" stroke-width="1.9"/>
<circle cx="152.1" cy="1857.0" r="8.05" fill="#A6A6A8" stroke="#000" stroke-width="1.9"/>
<circle cx="172.3" cy="1857.0" r="8.05" fill="#A6A6A8" stroke="#000" stroke-width="1.9"/>
<circle cx="183.1" cy="1854.3" r="8.05" fill="#A6A6A8" stroke="#000" stroke-width="1.9"/>
<circle cx="193.8" cy="1857.0" r="8.05" fill="#A6A6A8" stroke="#000" stroke-width="1.9"/>
<path d="M229.8 1857.0A8.5 8.5 0 0 1 246.8 1857.0Z" fill="#129DB6"/><circle cx="238.3" cy="1857.0" r="7.6" fill="none" stroke="#129DB6" stroke-width="2.6"/>
<circle cx="248.6" cy="1848.1" r="8.05" fill="#129DB6" stroke="#000" stroke-width="1.9"/>
<circle cx="258.5" cy="1857.0" r="8.05" fill="#129DB6" stroke="#000" stroke-width="1.9"/>
<circle cx="269.3" cy="1855.1" r="8.05" fill="#129DB6" stroke="#000" stroke-width="1.9"/>
<circle cx="280.1" cy="1857.0" r="7.9" fill="#fff" stroke="#129DB6" stroke-width="4"/>
<circle cx="345.3" cy="1529.7" r="8.05" fill="#C000C0" stroke="#000" stroke-width="1.9"/>
<circle cx="324.6" cy="1653.5" r="8.05" fill="#C000C0" stroke="#000" stroke-width="1.9"/>
<circle cx="345.3" cy="1665.6" r="8.05" fill="#C000C0" stroke="#000" stroke-width="1.9"/>
<circle cx="345.3" cy="1681.8" r="8.05" fill="#C000C0" stroke="#000" stroke-width="1.9"/>
<circle cx="345.3" cy="1707.4" r="7.9" fill="#fff" stroke="#C000C0" stroke-width="4"/>
<circle cx="324.6" cy="1744.6" r="8.05" fill="#C000C0" stroke="#000" stroke-width="1.9"/>
<circle cx="366.4" cy="1739.7" r="7.9" fill="#fff" stroke="#C000C0" stroke-width="4"/>
<circle cx="345.3" cy="1752.7" r="7.9" fill="#fff" stroke="#C000C0" stroke-width="4"/>
<circle cx="366.4" cy="1807.7" r="8.05" fill="#FF8000" stroke="#000" stroke-width="1.9"/>
<path d="M316.1 1817.9A8.5 8.5 0 0 1 333.1 1817.9Z" fill="#C000C0"/><circle cx="324.6" cy="1817.9" r="7.6" fill="none" stroke="#C000C0" stroke-width="2.6"/>
<circle cx="366.4" cy="1827.3" r="8.05" fill="#C000C0" stroke="#000" stroke-width="1.9"/>
<circle cx="345.3" cy="1834.1" r="8.05" fill="#FF8000" stroke="#000" stroke-width="1.9"/>
<circle cx="345.3" cy="1850.8" r="9.05" fill="#C000C0"/>
<path d="M172.3 1846.2V1857.0M162.3 1846.2H182.3M162.3 1857.0H182.3" stroke="#000" stroke-width="2.3" fill="none"/>
<path d="M345.3 1673.7V1822.7M331.3 1673.7H359.3M331.3 1822.7H359.3" stroke="#000" stroke-width="2.3" fill="none"/>
<line x1="116.2" y1="1841.3" x2="404.0" y2="1841.3" stroke="#000" stroke-width="2" stroke-dasharray="4.2 5.9" stroke-dashoffset="-1.5"/>
<text x="255.40" y="1461.80" font-size="25" text-anchor="middle">0.005</text>
<line x1="135.90" y1="1469.90" x2="355.60" y2="1469.90" stroke="#000" stroke-width="1.9"/>
<text x="302.60" y="1500.90" font-size="25" text-anchor="middle">0.003</text>
<line x1="238.30" y1="1504.90" x2="358.30" y2="1504.90" stroke="#000" stroke-width="1.9"/>
<path d="M525.7 1445.2V1853.6M523.8 1853.6H816.0" stroke="#000" stroke-width="3.8" fill="none"/>
<path d="M509.5 1853.6H525.7M509.5 1772.3H525.7M509.5 1691.0H525.7M509.5 1609.7H525.7M509.5 1528.4H525.7M509.5 1447.1H525.7M583.1 1853.6V1871.6M669.4 1853.6V1871.6M756.1 1853.6V1871.6" stroke="#000" stroke-width="3.6" fill="none"/>
<text x="503.80" y="1864.57" font-size="31" text-anchor="end">0</text>
<text x="503.80" y="1783.27" font-size="31" text-anchor="end">2</text>
<text x="503.80" y="1701.97" font-size="31" text-anchor="end">4</text>
<text x="503.80" y="1620.67" font-size="31" text-anchor="end">6</text>
<text x="503.80" y="1539.37" font-size="31" text-anchor="end">8</text>
<text x="503.80" y="1458.07" font-size="31" text-anchor="end">10</text>
<text x="457.00" y="1786.90" font-size="31" textLength="275.30" lengthAdjust="spacingAndGlyphs" transform="rotate(-90 457.00 1786.90)">% RBD MBC in BAL</text>
<path d="M730.1 1853.6V1737.6H782.1V1853.6" fill="none" stroke="#EECBF8" stroke-width="4"/>
<circle cx="563.4" cy="1852.4" r="8.05" fill="#A6A6A8" stroke="#000" stroke-width="1.9"/>
<circle cx="572.9" cy="1847.5" r="8.05" fill="#A6A6A8" stroke="#000" stroke-width="1.9"/>
<circle cx="583.6" cy="1851.6" r="8.05" fill="#A6A6A8" stroke="#000" stroke-width="1.9"/>
<circle cx="593.9" cy="1850.2" r="8.05" fill="#A6A6A8" stroke="#000" stroke-width="1.9"/>
<circle cx="605.2" cy="1854.3" r="8.05" fill="#A6A6A8" stroke="#000" stroke-width="1.9"/>
<circle cx="649.7" cy="1853.7" r="8.05" fill="#129DB6" stroke="#000" stroke-width="1.9"/>
<circle cx="659.1" cy="1844.9" r="8.05" fill="#129DB6" stroke="#000" stroke-width="1.9"/>
<circle cx="670.7" cy="1854.3" r="7.9" fill="#fff" stroke="#129DB6" stroke-width="4"/>
<circle cx="680.7" cy="1854.3" r="8.05" fill="#129DB6" stroke="#000" stroke-width="1.9"/>
<circle cx="690.9" cy="1852.9" r="7.9" fill="#fff" stroke="#129DB6" stroke-width="4"/>
<circle cx="735.4" cy="1649.4" r="8.05" fill="#C000C0" stroke="#000" stroke-width="1.9"/>
<circle cx="756.1" cy="1654.0" r="7.9" fill="#fff" stroke="#C000C0" stroke-width="4"/>
<circle cx="756.1" cy="1735.7" r="7.9" fill="#fff" stroke="#C000C0" stroke-width="4"/>
<circle cx="735.4" cy="1747.3" r="7.9" fill="#fff" stroke="#C000C0" stroke-width="4"/>
<circle cx="776.9" cy="1740.3" r="8.05" fill="#C000C0" stroke="#000" stroke-width="1.9"/>
<path d="M583.1 1850.0V1853.0M575.1 1850.0H591.1M575.1 1853.0H591.1" stroke="#000" stroke-width="2.3" fill="none"/>
<path d="M756.1 1651.6V1743.8M742.6 1651.6H769.6M742.6 1743.8H769.6" stroke="#000" stroke-width="2.3" fill="none"/>
<line x1="527.6" y1="1845.7" x2="816.0" y2="1845.7" stroke="#000" stroke-width="2" stroke-dasharray="4.2 5.9" stroke-dashoffset="-1.5"/>
<text x="715.70" y="1538.60" font-size="25" text-anchor="middle">0.006</text>
<line x1="651.60" y1="1544.50" x2="771.80" y2="1544.50" stroke="#000" stroke-width="1.9"/>
<path d="M944.6 1444.7V1852.6M942.7 1852.6H1233.5" stroke="#000" stroke-width="3.8" fill="none"/>
<path d="M929.0 1852.6H944.6M929.0 1771.4H944.6M929.0 1690.2H944.6M929.0 1609.0H944.6M929.0 1527.8H944.6M929.0 1446.6H944.6M1001.7 1852.6V1870.6M1088.0 1852.6V1870.6M1173.7 1852.6V1870.6" stroke="#000" stroke-width="3.6" fill="none"/>
<text x="923.20" y="1863.57" font-size="31" text-anchor="end">0</text>
<text x="923.20" y="1782.37" font-size="31" text-anchor="end">2</text>
<text x="923.20" y="1701.17" font-size="31" text-anchor="end">4</text>
<text x="923.20" y="1619.97" font-size="31" text-anchor="end">6</text>
<text x="923.20" y="1538.77" font-size="31" text-anchor="end">8</text>
<text x="923.20" y="1457.57" font-size="31" text-anchor="end">10</text>
<text x="880.40" y="1778.80" font-size="34" textLength="256.40" lengthAdjust="spacingAndGlyphs" transform="rotate(-90 880.40 1778.80)">% N MBC in BAL</text>
<path d="M1147.7 1852.6V1786.4H1199.7V1852.6" fill="none" stroke="#EECBF8" stroke-width="4"/>
<circle cx="981.5" cy="1851.6" r="8.05" fill="#A6A6A8" stroke="#000" stroke-width="1.9"/>
<circle cx="992.3" cy="1848.9" r="8.05" fill="#A6A6A8" stroke="#000" stroke-width="1.9"/>
<circle cx="1001.7" cy="1850.2" r="8.05" fill="#A6A6A8" stroke="#000" stroke-width="1.9"/>
<circle cx="1012.0" cy="1850.2" r="8.05" fill="#A6A6A8" stroke="#000" stroke-width="1.9"/>
<circle cx="1022.7" cy="1852.9" r="8.05" fill="#A6A6A8" stroke="#000" stroke-width="1.9"/>
<circle cx="1067.8" cy="1852.9" r="8.05" fill="#129DB6" stroke="#000" stroke-width="1.9"/>
<circle cx="1077.2" cy="1852.9" r="8.05" fill="#129DB6" stroke="#000" stroke-width="1.9"/>
<circle cx="1087.4" cy="1852.9" r="7.9" fill="#fff" stroke="#129DB6" stroke-width="4"/>
<circle cx="1098.2" cy="1852.9" r="8.05" fill="#129DB6" stroke="#000" stroke-width="1.9"/>
<circle cx="1109.0" cy="1852.9" r="7.9" fill="#fff" stroke="#129DB6" stroke-width="4"/>
<circle cx="1173.7" cy="1600.0" r="8.05" fill="#C000C0" stroke="#000" stroke-width="1.9"/>
<circle cx="1173.7" cy="1749.7" r="8.05" fill="#C000C0" stroke="#000" stroke-width="1.9"/>
<circle cx="1173.7" cy="1785.6" r="7.9" fill="#fff" stroke="#C000C0" stroke-width="4"/>
<circle cx="1173.7" cy="1812.0" r="7.9" fill="#fff" stroke="#C000C0" stroke-width="4"/>
<circle cx="1173.7" cy="1840.8" r="7.9" fill="#fff" stroke="#C000C0" stroke-width="4"/>
<path d="M1173.7 1675.0V1826.8M1159.7 1675.0H1187.7M1159.7 1826.8H1187.7" stroke="#000" stroke-width="2.3" fill="none"/>
<line x1="946.5" y1="1848.9" x2="1233.5" y2="1848.9" stroke="#000" stroke-width="2" stroke-dasharray="4.2 5.9" stroke-dashoffset="-1.5"/>
<text x="1133.40" y="1538.60" font-size="25" text-anchor="middle">0.0016</text>
<line x1="1069.60" y1="1543.50" x2="1189.90" y2="1543.50" stroke="#000" stroke-width="1.9"/>
<text x="25.00" y="1986.30" font-size="45" textLength="30.50" lengthAdjust="spacingAndGlyphs">H</text>
<line x1="130.50" y1="2001.25" x2="165.50" y2="2001.25" stroke="#000" stroke-width="1.6"/>
<circle cx="148.2" cy="2001.2" r="6.0" fill="#129DB6" stroke="#000" stroke-width="1.5"/>
<text x="186.25" y="2013.00" font-size="30" textLength="138.75" lengthAdjust="spacingAndGlyphs">Vaccinated</text>
<line x1="412.25" y1="2001.75" x2="446.50" y2="2001.75" stroke="#000" stroke-width="1.6"/>
<circle cx="429.8" cy="2001.8" r="6.0" fill="#C000C0" stroke="#000" stroke-width="1.5"/>
<text x="468.50" y="2013.00" font-size="30" textLength="250.00" lengthAdjust="spacingAndGlyphs">Infected Vaccinated</text>
<text x="224.75" y="2046.25" font-size="25.5" text-anchor="middle">S</text>
<text x="423.25" y="2046.25" font-size="25.5" text-anchor="middle" textLength="54.50" lengthAdjust="spacingAndGlyphs">RBD</text>
<text x="616.40" y="2049.50" font-size="25.5" text-anchor="middle">N</text>
<path d="M110.5 2053H727.5V2427H110.5Z" fill="none" stroke="#000" stroke-width="1.7"/>
<line x1="319.75" y1="2053.00" x2="319.75" y2="2427.00" stroke="#000" stroke-width="1.7"/>
<line x1="519.80" y1="2057.00" x2="519.80" y2="2429.60" stroke="#000" stroke-width="1.7"/>
<path d="M97.5 2427.0H110.5M97.5 2317.0H110.5M97.5 2207.0H110.5M97.5 2097.0H110.5M143.4 2427.0V2440.5M193.4 2427.0V2440.5M243.3 2427.0V2440.5M293.2 2427.0V2440.5M343.2 2427.0V2440.5M393.1 2427.0V2440.5M443.1 2427.0V2440.5M493.1 2427.0V2440.5M543.0 2427.0V2440.5M593.0 2427.0V2440.5M642.9 2427.0V2440.5M692.9 2427.0V2440.5" stroke="#000" stroke-width="1.7" fill="none"/>
<text x="93.30" y="2436.00" font-size="25.5" text-anchor="end">0</text>
<text x="93.30" y="2326.00" font-size="25.5" text-anchor="end">5</text>
<text x="93.30" y="2216.00" font-size="25.5" text-anchor="end">10</text>
<text x="93.30" y="2106.00" font-size="25.5" text-anchor="end">15</text>
<text x="57.50" y="2413.75" font-size="29.5" textLength="345.00" lengthAdjust="spacingAndGlyphs" transform="rotate(-90 57.50 2413.75)">% SARS-CoV-2 MBC cells</text>
<text x="265.00" y="2100.00" font-size="20" text-anchor="middle">0.013</text>
<line x1="234.25" y1="2105.50" x2="299.25" y2="2105.50" stroke="#000" stroke-width="1.9"/>
<text x="0" y="0" font-size="21.8" text-anchor="end" transform="translate(150.7 2457.5) rotate(-45)">PBMC</text>
<text x="0" y="0" font-size="21.8" text-anchor="end" transform="translate(200.7 2457.5) rotate(-45)">BAL</text>
<text x="0" y="0" font-size="21.8" text-anchor="end" transform="translate(250.6 2457.5) rotate(-45)">PBMC</text>
<text x="0" y="0" font-size="21.8" text-anchor="end" transform="translate(300.6 2457.5) rotate(-45)">BAL</text>
<text x="0" y="0" font-size="21.8" text-anchor="end" transform="translate(350.5 2457.5) rotate(-45)">PBMC</text>
<text x="0" y="0" font-size="21.8" text-anchor="end" transform="translate(400.4 2457.5) rotate(-45)">BAL</text>
<text x="0" y="0" font-size="21.8" text-anchor="end" transform="translate(450.4 2457.5) rotate(-45)">PBMC</text>
<text x="0" y="0" font-size="21.8" text-anchor="end" transform="translate(500.4 2457.5) rotate(-45)">BAL</text>
<text x="0" y="0" font-size="21.8" text-anchor="end" transform="translate(550.3 2457.5) rotate(-45)">PBMC</text>
<text x="0" y="0" font-size="21.8" text-anchor="end" transform="translate(600.2 2457.5) rotate(-45)">BAL</text>
<text x="0" y="0" font-size="21.8" text-anchor="end" transform="translate(650.2 2457.5) rotate(-45)">PBMC</text>
<text x="0" y="0" font-size="21.8" text-anchor="end" transform="translate(700.1 2457.5) rotate(-45)">BAL</text>
<path d="M143.4 2362.5L193.4 2424.0M143.4 2369.5L193.4 2427.0M143.4 2398.8L193.4 2425.0M143.4 2419.5L193.4 2420.5" stroke="#000" stroke-width="1.7" fill="none"/>
<circle cx="143.4" cy="2419.5" r="6.5" fill="#129DB6" stroke="#000" stroke-width="1.7"/>
<circle cx="143.4" cy="2398.8" r="6.5" fill="#129DB6" stroke="#000" stroke-width="1.7"/>
<circle cx="143.4" cy="2369.5" r="6.5" fill="#129DB6" stroke="#000" stroke-width="1.7"/>
<circle cx="143.4" cy="2362.5" r="6.5" fill="#129DB6" stroke="#000" stroke-width="1.7"/>
<circle cx="193.4" cy="2427.0" r="6.5" fill="#129DB6" stroke="#000" stroke-width="1.7"/>
<circle cx="193.4" cy="2425.0" r="6.5" fill="#129DB6" stroke="#000" stroke-width="1.7"/>
<circle cx="193.4" cy="2424.0" r="6.5" fill="#129DB6" stroke="#000" stroke-width="1.7"/>
<circle cx="193.4" cy="2420.5" r="6.5" fill="#129DB6" stroke="#000" stroke-width="1.7"/>
<path d="M243.3 2312.5L293.2 2161.8M243.3 2330.5L293.2 2285.5M243.3 2360.0L293.2 2387.5M243.3 2360.0L293.2 2332.5M243.3 2370.5L293.2 2272.0M243.3 2376.2L293.2 2262.5M243.3 2392.0L293.2 2306.2M243.3 2400.0L293.2 2343.0M243.3 2400.0L293.2 2336.2M243.3 2409.5L293.2 2395.0M243.3 2409.5L293.2 2403.8M243.3 2409.5L293.2 2422.0M243.3 2392.0L293.2 2408.8" stroke="#000" stroke-width="1.7" fill="none"/>
<circle cx="243.3" cy="2409.5" r="6.5" fill="#C000C0" stroke="#000" stroke-width="1.7"/>
<circle cx="243.3" cy="2400.0" r="6.5" fill="#C000C0" stroke="#000" stroke-width="1.7"/>
<circle cx="243.3" cy="2392.0" r="6.5" fill="#C000C0" stroke="#000" stroke-width="1.7"/>
<circle cx="243.3" cy="2376.2" r="6.5" fill="#C000C0" stroke="#000" stroke-width="1.7"/>
<circle cx="243.3" cy="2370.5" r="6.5" fill="#C000C0" stroke="#000" stroke-width="1.7"/>
<circle cx="243.3" cy="2360.0" r="6.5" fill="#C000C0" stroke="#000" stroke-width="1.7"/>
<circle cx="243.3" cy="2330.5" r="6.5" fill="#C000C0" stroke="#000" stroke-width="1.7"/>
<circle cx="243.3" cy="2312.5" r="6.5" fill="#C000C0" stroke="#000" stroke-width="1.7"/>
<circle cx="293.2" cy="2422.0" r="6.5" fill="#C000C0" stroke="#000" stroke-width="1.7"/>
<circle cx="293.2" cy="2408.8" r="6.5" fill="#C000C0" stroke="#000" stroke-width="1.7"/>
<circle cx="293.2" cy="2403.8" r="6.5" fill="#C000C0" stroke="#000" stroke-width="1.7"/>
<circle cx="293.2" cy="2395.0" r="6.5" fill="#C000C0" stroke="#000" stroke-width="1.7"/>
<circle cx="293.2" cy="2387.5" r="6.5" fill="#C000C0" stroke="#000" stroke-width="1.7"/>
<circle cx="293.2" cy="2343.0" r="6.5" fill="#C000C0" stroke="#000" stroke-width="1.7"/>
<circle cx="293.2" cy="2336.2" r="6.5" fill="#C000C0" stroke="#000" stroke-width="1.7"/>
<circle cx="293.2" cy="2332.5" r="6.5" fill="#C000C0" stroke="#000" stroke-width="1.7"/>
<circle cx="293.2" cy="2306.2" r="6.5" fill="#C000C0" stroke="#000" stroke-width="1.7"/>
<circle cx="293.2" cy="2285.5" r="6.5" fill="#C000C0" stroke="#000" stroke-width="1.7"/>
<circle cx="293.2" cy="2272.0" r="6.5" fill="#C000C0" stroke="#000" stroke-width="1.7"/>
<circle cx="293.2" cy="2262.5" r="6.5" fill="#C000C0" stroke="#000" stroke-width="1.7"/>
<circle cx="293.2" cy="2161.8" r="6.5" fill="#C000C0" stroke="#000" stroke-width="1.7"/>
<path d="M343.2 2367.7L393.1 2422.8M343.2 2384.0L393.1 2424.0M343.2 2401.0L393.1 2425.0M343.2 2410.9L393.1 2427.2M343.2 2418.3L393.1 2426.0" stroke="#000" stroke-width="1.7" fill="none"/>
<circle cx="343.2" cy="2418.3" r="6.5" fill="#129DB6" stroke="#000" stroke-width="1.7"/>
<circle cx="343.2" cy="2410.9" r="6.5" fill="#129DB6" stroke="#000" stroke-width="1.7"/>
<circle cx="343.2" cy="2401.0" r="6.5" fill="#129DB6" stroke="#000" stroke-width="1.7"/>
<circle cx="343.2" cy="2384.0" r="6.5" fill="#129DB6" stroke="#000" stroke-width="1.7"/>
<circle cx="343.2" cy="2367.7" r="6.5" fill="#129DB6" stroke="#000" stroke-width="1.7"/>
<circle cx="393.1" cy="2427.2" r="6.5" fill="#129DB6" stroke="#000" stroke-width="1.7"/>
<circle cx="393.1" cy="2426.0" r="6.5" fill="#129DB6" stroke="#000" stroke-width="1.7"/>
<circle cx="393.1" cy="2425.0" r="6.5" fill="#129DB6" stroke="#000" stroke-width="1.7"/>
<circle cx="393.1" cy="2424.0" r="6.5" fill="#129DB6" stroke="#000" stroke-width="1.7"/>
<circle cx="393.1" cy="2422.8" r="6.5" fill="#129DB6" stroke="#000" stroke-width="1.7"/>
<path d="M443.1 2367.1L493.1 2319.4M443.1 2399.0L493.1 2316.4M443.1 2410.9L493.1 2366.2M443.1 2418.3L493.1 2370.0M443.1 2414.0L493.1 2363.2" stroke="#000" stroke-width="1.7" fill="none"/>
<circle cx="443.1" cy="2418.3" r="6.5" fill="#C000C0" stroke="#000" stroke-width="1.7"/>
<circle cx="443.1" cy="2414.0" r="6.5" fill="#C000C0" stroke="#000" stroke-width="1.7"/>
<circle cx="443.1" cy="2410.9" r="6.5" fill="#C000C0" stroke="#000" stroke-width="1.7"/>
<circle cx="443.1" cy="2399.0" r="6.5" fill="#C000C0" stroke="#000" stroke-width="1.7"/>
<circle cx="443.1" cy="2367.1" r="6.5" fill="#C000C0" stroke="#000" stroke-width="1.7"/>
<circle cx="493.1" cy="2370.0" r="6.5" fill="#C000C0" stroke="#000" stroke-width="1.7"/>
<circle cx="493.1" cy="2366.2" r="6.5" fill="#C000C0" stroke="#000" stroke-width="1.7"/>
<circle cx="493.1" cy="2363.2" r="6.5" fill="#C000C0" stroke="#000" stroke-width="1.7"/>
<circle cx="493.1" cy="2319.4" r="6.5" fill="#C000C0" stroke="#000" stroke-width="1.7"/>
<circle cx="493.1" cy="2316.4" r="6.5" fill="#C000C0" stroke="#000" stroke-width="1.7"/>
<path d="M543.0 2414.7L593.0 2427.2M543.0 2422.8L593.0 2427.2M543.0 2427.2L593.0 2427.2" stroke="#000" stroke-width="1.7" fill="none"/>
<circle cx="543.0" cy="2427.2" r="6.5" fill="#129DB6" stroke="#000" stroke-width="1.7"/>
<circle cx="543.0" cy="2422.8" r="6.5" fill="#129DB6" stroke="#000" stroke-width="1.7"/>
<circle cx="543.0" cy="2414.7" r="6.5" fill="#129DB6" stroke="#000" stroke-width="1.7"/>
<circle cx="593.0" cy="2427.2" r="6.5" fill="#129DB6" stroke="#000" stroke-width="1.7"/>
<path d="M642.9 2383.2L692.9 2290.8M642.9 2385.6L692.9 2390.6M642.9 2400.4L692.9 2371.2M642.9 2408.8L692.9 2421.3M642.9 2415.9L692.9 2404.9" stroke="#000" stroke-width="1.7" fill="none"/>
<circle cx="642.9" cy="2415.9" r="6.5" fill="#C000C0" stroke="#000" stroke-width="1.7"/>
<circle cx="642.9" cy="2408.8" r="6.5" fill="#C000C0" stroke="#000" stroke-width="1.7"/>
<circle cx="642.9" cy="2400.4" r="6.5" fill="#C000C0" stroke="#000" stroke-width="1.7"/>
<circle cx="642.9" cy="2385.6" r="6.5" fill="#C000C0" stroke="#000" stroke-width="1.7"/>
<circle cx="642.9" cy="2383.2" r="6.5" fill="#C000C0" stroke="#000" stroke-width="1.7"/>
<circle cx="692.9" cy="2421.3" r="6.5" fill="#C000C0" stroke="#000" stroke-width="1.7"/>
<circle cx="692.9" cy="2404.9" r="6.5" fill="#C000C0" stroke="#000" stroke-width="1.7"/>
<circle cx="692.9" cy="2390.6" r="6.5" fill="#C000C0" stroke="#000" stroke-width="1.7"/>
<circle cx="692.9" cy="2371.2" r="6.5" fill="#C000C0" stroke="#000" stroke-width="1.7"/>
<circle cx="692.9" cy="2290.8" r="6.5" fill="#C000C0" stroke="#000" stroke-width="1.7"/>
<rect x="789.5" y="1954.5" width="4.8" height="31.3" fill="#000"/>
<rect x="899.0" y="2411.0" width="47" height="15.2" fill="#EDEEED"/>
<rect x="969.8" y="2406.2" width="47" height="20.0" fill="#EDEEED"/>
<rect x="1040.2" y="2315.5" width="47" height="110.8" fill="#EDEEED"/>
<rect x="1111.0" y="2406.2" width="47" height="20.0" fill="#EDEEED"/>
<rect x="1181.5" y="2338.0" width="47" height="88.2" fill="#EDEEED"/>
<rect x="1252.0" y="2346.2" width="47" height="80.0" fill="#EDEEED"/>
<rect x="1322.8" y="2279.5" width="47" height="146.8" fill="#EDEEED"/>
<rect x="1393.2" y="2183.0" width="47" height="243.2" fill="#EDEEED"/>
<path d="M875.5 2062.5H1465.2V2426.25H875.5Z" fill="none" stroke="#000" stroke-width="1.8"/>
<line x1="1028.50" y1="2062.50" x2="1028.50" y2="2426.25" stroke="#000" stroke-width="1.8"/>
<line x1="1171.30" y1="2062.50" x2="1171.30" y2="2428.00" stroke="#000" stroke-width="1.8"/>
<line x1="1310.50" y1="2064.40" x2="1310.50" y2="2428.00" stroke="#000" stroke-width="1.8"/>
<path d="M861.25 2426.2H875.5M861.25 2353.3H875.5M861.25 2280.4H875.5M861.25 2207.5H875.5M861.25 2134.6H875.5M861.25 2061.7H875.5M922.5 2426.2V2440M993.2 2426.2V2440M1063.8 2426.2V2440M1134.5 2426.2V2440M1205.0 2426.2V2440M1275.5 2426.2V2440M1346.2 2426.2V2440M1416.8 2426.2V2440" stroke="#000" stroke-width="1.8" fill="none"/>
<text x="856.80" y="2435.55" font-size="26.5" text-anchor="end">0</text>
<text x="856.80" y="2362.63" font-size="26.5" text-anchor="end">20</text>
<text x="856.80" y="2289.71" font-size="26.5" text-anchor="end">40</text>
<text x="856.80" y="2216.79" font-size="26.5" text-anchor="end">60</text>
<text x="856.80" y="2143.87" font-size="26.5" text-anchor="end">80</text>
<text x="856.80" y="2070.95" font-size="26.5" text-anchor="end">100</text>
<text x="923.10" y="2463.60" font-size="22.3" text-anchor="middle">PBMC</text>
<text x="990.10" y="2463.60" font-size="22.3" text-anchor="middle">BAL</text>
<text x="1068.00" y="2463.60" font-size="22.3" text-anchor="middle">PBMC</text>
<text x="1135.00" y="2463.60" font-size="22.3" text-anchor="middle">BAL</text>
<text x="1209.00" y="2463.60" font-size="22.3" text-anchor="middle">PBMC</text>
<text x="1276.25" y="2463.60" font-size="22.3" text-anchor="middle">BAL</text>
<text x="1350.40" y="2463.60" font-size="22.3" text-anchor="middle">PBMC</text>
<text x="1417.25" y="2463.60" font-size="22.3" text-anchor="middle">BAL</text>
<text x="802.50" y="2361.25" font-size="32.5" textLength="232.50" lengthAdjust="spacingAndGlyphs" transform="rotate(-90 802.50 2361.25)">% MBC susbets</text>
<text x="916.25" y="2049.25" font-size="31" textLength="45.00" lengthAdjust="spacingAndGlyphs">IgD</text>
<text x="962.50" y="2043.50" font-size="24" textLength="12.50" lengthAdjust="spacingAndGlyphs">+</text>
<text x="1031.00" y="2054.00" font-size="27.5" textLength="141.90" lengthAdjust="spacingAndGlyphs">Unswitched</text>
<text x="1211.50" y="2049.60" font-size="31" textLength="50.30" lengthAdjust="spacingAndGlyphs">IgM</text>
<text x="1261.80" y="2042.00" font-size="22" textLength="11.00" lengthAdjust="spacingAndGlyphs">+</text>
<text x="1297.90" y="2056.50" font-size="27.5" textLength="184.30" lengthAdjust="spacingAndGlyphs">Class-switched</text>
<text x="1096.15" y="2098.00" font-size="22" text-anchor="middle">&lt;0.0001</text>
<line x1="1050.50" y1="2102.00" x2="1145.00" y2="2102.00" stroke="#000" stroke-width="1.9"/>
<text x="1377.60" y="2096.70" font-size="22" text-anchor="middle">&lt;0.0001</text>
<line x1="1332.40" y1="2099.80" x2="1427.50" y2="2099.80" stroke="#000" stroke-width="1.9"/>
<circle cx="929.0" cy="2398.0" r="6.5" fill="#129DB6" stroke="#000" stroke-width="1.8"/>
<circle cx="922.5" cy="2398.0" r="6.5" fill="#C000C0" stroke="#000" stroke-width="1.8"/>
<circle cx="922.5" cy="2387.7" r="6.5" fill="#C000C0" stroke="#000" stroke-width="1.8"/>
<circle cx="915.8" cy="2404.7" r="6.5" fill="#C000C0" stroke="#000" stroke-width="1.8"/>
<circle cx="908.3" cy="2409.4" r="6.5" fill="#C000C0" stroke="#000" stroke-width="1.8"/>
<circle cx="928.7" cy="2406.6" r="6.5" fill="#129DB6" stroke="#000" stroke-width="1.8"/>
<circle cx="937.5" cy="2412.3" r="6.5" fill="#C000C0" stroke="#000" stroke-width="1.8"/>
<circle cx="913.0" cy="2415.0" r="6.5" fill="#129DB6" stroke="#000" stroke-width="1.8"/>
<circle cx="905.5" cy="2418.9" r="6.5" fill="#C000C0" stroke="#000" stroke-width="1.8"/>
<circle cx="927.2" cy="2418.0" r="6.5" fill="#C000C0" stroke="#000" stroke-width="1.8"/>
<circle cx="939.4" cy="2420.8" r="6.5" fill="#C000C0" stroke="#000" stroke-width="1.8"/>
<circle cx="918.7" cy="2422.6" r="6.5" fill="#C000C0" stroke="#000" stroke-width="1.8"/>
<circle cx="930.0" cy="2421.7" r="6.5" fill="#C000C0" stroke="#000" stroke-width="1.8"/>
<circle cx="992.8" cy="2364.7" r="6.5" fill="#C000C0" stroke="#000" stroke-width="1.8"/>
<circle cx="992.8" cy="2377.9" r="6.5" fill="#C000C0" stroke="#000" stroke-width="1.8"/>
<circle cx="992.8" cy="2390.6" r="6.5" fill="#C000C0" stroke="#000" stroke-width="1.8"/>
<circle cx="988.5" cy="2401.0" r="6.5" fill="#C000C0" stroke="#000" stroke-width="1.8"/>
<circle cx="1000.8" cy="2406.6" r="6.5" fill="#A6A6A8" stroke="#000" stroke-width="1.8"/>
<circle cx="978.1" cy="2408.5" r="6.5" fill="#C000C0" stroke="#000" stroke-width="1.8"/>
<circle cx="994.2" cy="2407.5" r="6.5" fill="#C000C0" stroke="#000" stroke-width="1.8"/>
<circle cx="983.4" cy="2413.2" r="6.5" fill="#C000C0" stroke="#000" stroke-width="1.8"/>
<circle cx="1010.2" cy="2416.0" r="6.5" fill="#129DB6" stroke="#000" stroke-width="1.8"/>
<circle cx="976.2" cy="2420.8" r="6.5" fill="#129DB6" stroke="#000" stroke-width="1.8"/>
<circle cx="991.3" cy="2423.6" r="6.5" fill="#129DB6" stroke="#000" stroke-width="1.8"/>
<circle cx="1006.4" cy="2422.6" r="6.5" fill="#129DB6" stroke="#000" stroke-width="1.8"/>
<circle cx="998.9" cy="2421.7" r="6.5" fill="#C000C0" stroke="#000" stroke-width="1.8"/>
<circle cx="1072.0" cy="2250.0" r="6.5" fill="#C000C0" stroke="#000" stroke-width="1.8"/>
<circle cx="1063.8" cy="2262.0" r="6.5" fill="#129DB6" stroke="#000" stroke-width="1.8"/>
<circle cx="1047.0" cy="2288.0" r="6.5" fill="#C000C0" stroke="#000" stroke-width="1.8"/>
<circle cx="1057.5" cy="2285.0" r="6.5" fill="#C000C0" stroke="#000" stroke-width="1.8"/>
<circle cx="1063.8" cy="2280.0" r="6.5" fill="#C000C0" stroke="#000" stroke-width="1.8"/>
<circle cx="1080.0" cy="2283.8" r="6.5" fill="#129DB6" stroke="#000" stroke-width="1.8"/>
<circle cx="1071.2" cy="2295.0" r="6.5" fill="#129DB6" stroke="#000" stroke-width="1.8"/>
<circle cx="1063.8" cy="2297.5" r="6.5" fill="#C000C0" stroke="#000" stroke-width="1.8"/>
<circle cx="1072.0" cy="2313.0" r="6.5" fill="#C000C0" stroke="#000" stroke-width="1.8"/>
<circle cx="1055.5" cy="2323.8" r="6.5" fill="#C000C0" stroke="#000" stroke-width="1.8"/>
<circle cx="1072.0" cy="2327.5" r="6.5" fill="#C000C0" stroke="#000" stroke-width="1.8"/>
<circle cx="1055.5" cy="2338.8" r="6.5" fill="#C000C0" stroke="#000" stroke-width="1.8"/>
<circle cx="1063.8" cy="2347.5" r="6.5" fill="#C000C0" stroke="#000" stroke-width="1.8"/>
<circle cx="1055.5" cy="2354.5" r="6.5" fill="#129DB6" stroke="#000" stroke-width="1.8"/>
<circle cx="1072.0" cy="2355.0" r="6.5" fill="#C000C0" stroke="#000" stroke-width="1.8"/>
<circle cx="1063.8" cy="2367.5" r="6.5" fill="#C000C0" stroke="#000" stroke-width="1.8"/>
<circle cx="1063.8" cy="2383.8" r="6.5" fill="#129DB6" stroke="#000" stroke-width="1.8"/>
<circle cx="1134.3" cy="2352.8" r="6.5" fill="#129DB6" stroke="#000" stroke-width="1.8"/>
<circle cx="1133.8" cy="2379.8" r="6.5" fill="#C000C0" stroke="#000" stroke-width="1.8"/>
<circle cx="1138.1" cy="2390.0" r="6.5" fill="#C000C0" stroke="#000" stroke-width="1.8"/>
<circle cx="1127.2" cy="2395.3" r="6.5" fill="#129DB6" stroke="#000" stroke-width="1.8"/>
<circle cx="1131.0" cy="2399.0" r="6.5" fill="#C000C0" stroke="#000" stroke-width="1.8"/>
<circle cx="1142.3" cy="2404.7" r="6.5" fill="#C000C0" stroke="#000" stroke-width="1.8"/>
<circle cx="1135.7" cy="2409.4" r="6.5" fill="#129DB6" stroke="#000" stroke-width="1.8"/>
<circle cx="1121.5" cy="2413.2" r="6.5" fill="#C000C0" stroke="#000" stroke-width="1.8"/>
<circle cx="1125.3" cy="2419.8" r="6.5" fill="#129DB6" stroke="#000" stroke-width="1.8"/>
<circle cx="1115.8" cy="2420.8" r="6.5" fill="#C000C0" stroke="#000" stroke-width="1.8"/>
<circle cx="1142.3" cy="2422.6" r="6.5" fill="#C000C0" stroke="#000" stroke-width="1.8"/>
<circle cx="1150.8" cy="2423.6" r="6.5" fill="#C000C0" stroke="#000" stroke-width="1.8"/>
<circle cx="1133.8" cy="2428.3" r="6.5" fill="#C000C0" stroke="#000" stroke-width="1.8"/>
<circle cx="1205.0" cy="2274.5" r="6.5" fill="#C000C0" stroke="#000" stroke-width="1.8"/>
<circle cx="1196.2" cy="2295.0" r="6.5" fill="#129DB6" stroke="#000" stroke-width="1.8"/>
<circle cx="1188.2" cy="2302.0" r="6.5" fill="#C000C0" stroke="#000" stroke-width="1.8"/>
<circle cx="1212.5" cy="2307.5" r="6.5" fill="#C000C0" stroke="#000" stroke-width="1.8"/>
<circle cx="1205.0" cy="2306.2" r="6.5" fill="#129DB6" stroke="#000" stroke-width="1.8"/>
<circle cx="1221.2" cy="2310.0" r="6.5" fill="#C000C0" stroke="#000" stroke-width="1.8"/>
<circle cx="1188.2" cy="2318.0" r="6.5" fill="#C000C0" stroke="#000" stroke-width="1.8"/>
<circle cx="1205.0" cy="2320.0" r="6.5" fill="#129DB6" stroke="#000" stroke-width="1.8"/>
<circle cx="1196.2" cy="2326.2" r="6.5" fill="#C000C0" stroke="#000" stroke-width="1.8"/>
<circle cx="1205.0" cy="2338.8" r="6.5" fill="#C000C0" stroke="#000" stroke-width="1.8"/>
<circle cx="1196.2" cy="2342.5" r="6.5" fill="#C000C0" stroke="#000" stroke-width="1.8"/>
<circle cx="1212.5" cy="2354.5" r="6.5" fill="#C000C0" stroke="#000" stroke-width="1.8"/>
<circle cx="1205.0" cy="2366.2" r="6.5" fill="#C000C0" stroke="#000" stroke-width="1.8"/>
<circle cx="1196.2" cy="2375.0" r="6.5" fill="#C000C0" stroke="#000" stroke-width="1.8"/>
<circle cx="1213.8" cy="2378.8" r="6.5" fill="#C000C0" stroke="#000" stroke-width="1.8"/>
<circle cx="1188.2" cy="2384.5" r="6.5" fill="#129DB6" stroke="#000" stroke-width="1.8"/>
<circle cx="1205.0" cy="2384.5" r="6.5" fill="#129DB6" stroke="#000" stroke-width="1.8"/>
<circle cx="1221.2" cy="2391.2" r="6.5" fill="#C000C0" stroke="#000" stroke-width="1.8"/>
<circle cx="1283.8" cy="2294.5" r="6.5" fill="#129DB6" stroke="#000" stroke-width="1.8"/>
<circle cx="1259.5" cy="2301.2" r="6.5" fill="#C000C0" stroke="#000" stroke-width="1.8"/>
<circle cx="1267.5" cy="2310.0" r="6.5" fill="#129DB6" stroke="#000" stroke-width="1.8"/>
<circle cx="1283.8" cy="2313.8" r="6.5" fill="#C000C0" stroke="#000" stroke-width="1.8"/>
<circle cx="1292.0" cy="2314.5" r="6.5" fill="#C000C0" stroke="#000" stroke-width="1.8"/>
<circle cx="1258.8" cy="2318.8" r="6.5" fill="#C000C0" stroke="#000" stroke-width="1.8"/>
<circle cx="1275.5" cy="2332.0" r="6.5" fill="#129DB6" stroke="#000" stroke-width="1.8"/>
<circle cx="1267.0" cy="2343.0" r="6.5" fill="#C000C0" stroke="#000" stroke-width="1.8"/>
<circle cx="1292.0" cy="2356.2" r="6.5" fill="#C000C0" stroke="#000" stroke-width="1.8"/>
<circle cx="1259.5" cy="2360.0" r="6.5" fill="#C000C0" stroke="#000" stroke-width="1.8"/>
<circle cx="1283.8" cy="2368.8" r="6.5" fill="#C000C0" stroke="#000" stroke-width="1.8"/>
<circle cx="1259.5" cy="2377.0" r="6.5" fill="#C000C0" stroke="#000" stroke-width="1.8"/>
<circle cx="1276.2" cy="2377.0" r="6.5" fill="#C000C0" stroke="#000" stroke-width="1.8"/>
<circle cx="1268.0" cy="2379.5" r="6.5" fill="#C000C0" stroke="#000" stroke-width="1.8"/>
<circle cx="1292.0" cy="2379.5" r="6.5" fill="#C000C0" stroke="#000" stroke-width="1.8"/>
<circle cx="1283.8" cy="2387.0" r="6.5" fill="#129DB6" stroke="#000" stroke-width="1.8"/>
<circle cx="1267.0" cy="2398.8" r="6.5" fill="#C000C0" stroke="#000" stroke-width="1.8"/>
<circle cx="1345.5" cy="2191.2" r="6.5" fill="#129DB6" stroke="#000" stroke-width="1.8"/>
<circle cx="1351.2" cy="2211.2" r="6.5" fill="#C000C0" stroke="#000" stroke-width="1.8"/>
<circle cx="1340.0" cy="2216.2" r="6.5" fill="#C000C0" stroke="#000" stroke-width="1.8"/>
<circle cx="1362.5" cy="2243.0" r="6.5" fill="#129DB6" stroke="#000" stroke-width="1.8"/>
<circle cx="1329.5" cy="2245.8" r="6.5" fill="#C000C0" stroke="#000" stroke-width="1.8"/>
<circle cx="1340.0" cy="2253.8" r="6.5" fill="#C000C0" stroke="#000" stroke-width="1.8"/>
<circle cx="1351.2" cy="2256.2" r="6.5" fill="#C000C0" stroke="#000" stroke-width="1.8"/>
<circle cx="1362.5" cy="2277.0" r="6.5" fill="#C000C0" stroke="#000" stroke-width="1.8"/>
<circle cx="1351.2" cy="2279.5" r="6.5" fill="#C000C0" stroke="#000" stroke-width="1.8"/>
<circle cx="1341.2" cy="2284.5" r="6.5" fill="#C000C0" stroke="#000" stroke-width="1.8"/>
<circle cx="1329.5" cy="2287.0" r="6.5" fill="#C000C0" stroke="#000" stroke-width="1.8"/>
<circle cx="1351.2" cy="2295.5" r="6.5" fill="#129DB6" stroke="#000" stroke-width="1.8"/>
<circle cx="1329.5" cy="2310.8" r="6.5" fill="#C000C0" stroke="#000" stroke-width="1.8"/>
<circle cx="1351.2" cy="2318.8" r="6.5" fill="#C000C0" stroke="#000" stroke-width="1.8"/>
<circle cx="1329.5" cy="2333.8" r="6.5" fill="#C000C0" stroke="#000" stroke-width="1.8"/>
<circle cx="1362.5" cy="2332.0" r="6.5" fill="#129DB6" stroke="#000" stroke-width="1.8"/>
<circle cx="1351.2" cy="2340.5" r="6.5" fill="#C000C0" stroke="#000" stroke-width="1.8"/>
<circle cx="1340.0" cy="2352.5" r="6.5" fill="#129DB6" stroke="#000" stroke-width="1.8"/>
<circle cx="1416.2" cy="2116.2" r="6.5" fill="#129DB6" stroke="#000" stroke-width="1.8"/>
<circle cx="1400.0" cy="2136.2" r="6.5" fill="#C000C0" stroke="#000" stroke-width="1.8"/>
<circle cx="1410.8" cy="2135.0" r="6.5" fill="#C000C0" stroke="#000" stroke-width="1.8"/>
<circle cx="1422.0" cy="2137.5" r="6.5" fill="#C000C0" stroke="#000" stroke-width="1.8"/>
<circle cx="1433.0" cy="2148.0" r="6.5" fill="#C000C0" stroke="#000" stroke-width="1.8"/>
<circle cx="1400.0" cy="2151.8" r="6.5" fill="#C000C0" stroke="#000" stroke-width="1.8"/>
<circle cx="1422.0" cy="2154.2" r="6.5" fill="#C000C0" stroke="#000" stroke-width="1.8"/>
<circle cx="1410.8" cy="2161.2" r="6.5" fill="#C000C0" stroke="#000" stroke-width="1.8"/>
<circle cx="1410.8" cy="2183.2" r="6.5" fill="#129DB6" stroke="#000" stroke-width="1.8"/>
<circle cx="1400.0" cy="2195.0" r="6.5" fill="#C000C0" stroke="#000" stroke-width="1.8"/>
<circle cx="1433.0" cy="2200.5" r="6.5" fill="#129DB6" stroke="#000" stroke-width="1.8"/>
<circle cx="1410.8" cy="2205.0" r="6.5" fill="#C000C0" stroke="#000" stroke-width="1.8"/>
<circle cx="1400.0" cy="2212.5" r="6.5" fill="#129DB6" stroke="#000" stroke-width="1.8"/>
<circle cx="1422.0" cy="2214.5" r="6.5" fill="#C000C0" stroke="#000" stroke-width="1.8"/>
<circle cx="1433.0" cy="2215.5" r="6.5" fill="#C000C0" stroke="#000" stroke-width="1.8"/>
<circle cx="1410.8" cy="2220.0" r="6.5" fill="#C000C0" stroke="#000" stroke-width="1.8"/>
<circle cx="1422.0" cy="2229.5" r="6.5" fill="#C000C0" stroke="#000" stroke-width="1.8"/>
<circle cx="1416.2" cy="2276.2" r="6.5" fill="#129DB6" stroke="#000" stroke-width="1.8"/>
<path d="M922.5 2401.0V2419.0M911.0 2401.0H934.0M911.0 2419.0H934.0" stroke="#000" stroke-width="2.2" fill="none"/>
<path d="M993.2 2390.6V2422.5M981.8 2390.6H1004.8M981.8 2422.5H1004.8" stroke="#000" stroke-width="2.2" fill="none"/>
<path d="M1063.8 2278.8V2353.8M1052.2 2278.8H1075.2M1052.2 2353.8H1075.2" stroke="#000" stroke-width="2.2" fill="none"/>
<path d="M1134.5 2387.7V2424.5M1123.0 2387.7H1146.0M1123.0 2424.5H1146.0" stroke="#000" stroke-width="2.2" fill="none"/>
<path d="M1205.0 2301.2V2373.8M1193.5 2301.2H1216.5M1193.5 2373.8H1216.5" stroke="#000" stroke-width="2.2" fill="none"/>
<path d="M1275.5 2311.2V2380.0M1264.0 2311.2H1287.0M1264.0 2380.0H1287.0" stroke="#000" stroke-width="2.2" fill="none"/>
<path d="M1346.2 2232.0V2326.2M1334.8 2232.0H1357.8M1334.8 2326.2H1357.8" stroke="#000" stroke-width="2.2" fill="none"/>
<path d="M1416.8 2140.0V2224.2M1405.2 2140.0H1428.2M1405.2 2224.2H1428.2" stroke="#000" stroke-width="2.2" fill="none"/>
</svg></body></html>
